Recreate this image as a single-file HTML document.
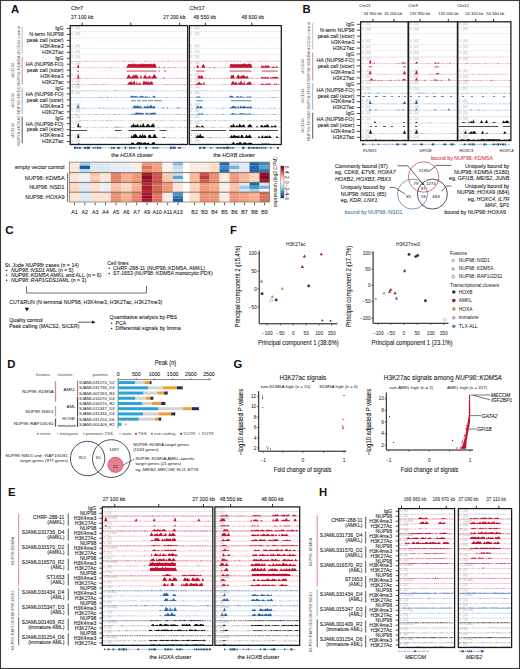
<!DOCTYPE html>
<html><head><meta charset="utf-8"><style>
html,body{margin:0;padding:0;background:#fff;width:520px;height:669px;overflow:hidden}
svg{display:block}
text{font-family:"Liberation Sans",sans-serif}
</style></head><body>
<svg width="520" height="669" viewBox="0 0 520 669" font-family="Liberation Sans, sans-serif">
<rect x="0" y="0" width="520" height="669" fill="#fff"/>
<rect x="0.50" y="0.50" width="519.00" height="668.00" fill="none" stroke="#3a3a3a" stroke-width="1.1"/>
<text x="11.00" y="12.70" font-size="11.3" text-anchor="start" fill="#111" font-weight="bold">A</text>
<text x="71.00" y="10.30" font-size="5.6" text-anchor="start" fill="#111111" font-weight="normal" stroke="#111111" stroke-width="0.07">Chr7</text>
<text x="71.00" y="19.00" font-size="5.1" text-anchor="start" fill="#111111" font-weight="normal" stroke="#111111" stroke-width="0.07">27 100 kb</text>
<text x="185.50" y="19.00" font-size="5.1" text-anchor="end" fill="#111111" font-weight="normal" stroke="#111111" stroke-width="0.07">27 200 kb</text>
<text x="189.50" y="9.60" font-size="5.6" text-anchor="start" fill="#111111" font-weight="normal" stroke="#111111" stroke-width="0.07">Chr17</text>
<text x="193.50" y="19.00" font-size="5.1" text-anchor="start" fill="#111111" font-weight="normal" stroke="#111111" stroke-width="0.07">48 550 kb</text>
<text x="241.50" y="19.00" font-size="5.1" text-anchor="start" fill="#111111" font-weight="normal" stroke="#111111" stroke-width="0.07">48 600 kb</text>
<line x1="82.20" y1="22.60" x2="82.20" y2="25.60" stroke="#222" stroke-width="0.9"/>
<line x1="130.80" y1="22.60" x2="130.80" y2="25.60" stroke="#222" stroke-width="0.9"/>
<line x1="179.60" y1="22.60" x2="179.60" y2="25.60" stroke="#222" stroke-width="0.9"/>
<line x1="205.40" y1="22.60" x2="205.40" y2="25.60" stroke="#222" stroke-width="0.9"/>
<line x1="251.80" y1="22.60" x2="251.80" y2="25.60" stroke="#222" stroke-width="0.9"/>
<text x="63.60" y="30.30" font-size="5.25" text-anchor="end" fill="#111111" font-weight="normal" stroke="#111111" stroke-width="0.07">IgG</text>
<line x1="66.80" y1="28.50" x2="70.20" y2="28.50" stroke="#222" stroke-width="0.8"/>
<text x="63.60" y="36.25" font-size="5.25" text-anchor="end" fill="#111111" font-weight="normal" stroke="#111111" stroke-width="0.07">N-term NUP98</text>
<line x1="66.80" y1="34.45" x2="70.20" y2="34.45" stroke="#222" stroke-width="0.8"/>
<text x="63.60" y="42.20" font-size="5.25" text-anchor="end" fill="#111111" font-weight="normal" stroke="#111111" stroke-width="0.07">peak call (sicer)</text>
<line x1="66.80" y1="40.40" x2="70.20" y2="40.40" stroke="#222" stroke-width="0.8"/>
<text x="63.60" y="48.15" font-size="5.25" text-anchor="end" fill="#111111" font-weight="normal" stroke="#111111" stroke-width="0.07">H3K4me3</text>
<line x1="66.80" y1="46.35" x2="70.20" y2="46.35" stroke="#222" stroke-width="0.8"/>
<text x="63.60" y="54.10" font-size="5.25" text-anchor="end" fill="#111111" font-weight="normal" stroke="#111111" stroke-width="0.07">H3K27ac</text>
<line x1="66.80" y1="52.30" x2="70.20" y2="52.30" stroke="#222" stroke-width="0.8"/>
<text x="63.60" y="60.05" font-size="5.25" text-anchor="end" fill="#111111" font-weight="normal" stroke="#111111" stroke-width="0.07">IgG</text>
<line x1="66.80" y1="58.25" x2="70.20" y2="58.25" stroke="#222" stroke-width="0.8"/>
<text x="63.60" y="66.00" font-size="5.25" text-anchor="end" fill="#111111" font-weight="normal" stroke="#111111" stroke-width="0.07">HA (NUP98-FO)</text>
<line x1="66.80" y1="64.20" x2="70.20" y2="64.20" stroke="#222" stroke-width="0.8"/>
<text x="63.60" y="71.95" font-size="5.25" text-anchor="end" fill="#111111" font-weight="normal" stroke="#111111" stroke-width="0.07">peak call (sicer)</text>
<line x1="66.80" y1="70.15" x2="70.20" y2="70.15" stroke="#222" stroke-width="0.8"/>
<text x="63.60" y="77.90" font-size="5.25" text-anchor="end" fill="#111111" font-weight="normal" stroke="#111111" stroke-width="0.07">H3K4me3</text>
<line x1="66.80" y1="76.10" x2="70.20" y2="76.10" stroke="#222" stroke-width="0.8"/>
<text x="63.60" y="83.85" font-size="5.25" text-anchor="end" fill="#111111" font-weight="normal" stroke="#111111" stroke-width="0.07">H3K27ac</text>
<line x1="66.80" y1="82.05" x2="70.20" y2="82.05" stroke="#222" stroke-width="0.8"/>
<text x="63.60" y="89.80" font-size="5.25" text-anchor="end" fill="#111111" font-weight="normal" stroke="#111111" stroke-width="0.07">IgG</text>
<line x1="66.80" y1="88.00" x2="70.20" y2="88.00" stroke="#222" stroke-width="0.8"/>
<text x="63.60" y="95.75" font-size="5.25" text-anchor="end" fill="#111111" font-weight="normal" stroke="#111111" stroke-width="0.07">HA (NUP98-FO)</text>
<line x1="66.80" y1="93.95" x2="70.20" y2="93.95" stroke="#222" stroke-width="0.8"/>
<text x="63.60" y="101.70" font-size="5.25" text-anchor="end" fill="#111111" font-weight="normal" stroke="#111111" stroke-width="0.07">peak call (sicer)</text>
<line x1="66.80" y1="99.90" x2="70.20" y2="99.90" stroke="#222" stroke-width="0.8"/>
<text x="63.60" y="107.65" font-size="5.25" text-anchor="end" fill="#111111" font-weight="normal" stroke="#111111" stroke-width="0.07">H3K4me3</text>
<line x1="66.80" y1="105.85" x2="70.20" y2="105.85" stroke="#222" stroke-width="0.8"/>
<text x="63.60" y="113.60" font-size="5.25" text-anchor="end" fill="#111111" font-weight="normal" stroke="#111111" stroke-width="0.07">H3K27ac</text>
<line x1="66.80" y1="111.80" x2="70.20" y2="111.80" stroke="#222" stroke-width="0.8"/>
<text x="63.60" y="119.55" font-size="5.25" text-anchor="end" fill="#111111" font-weight="normal" stroke="#111111" stroke-width="0.07">IgG</text>
<line x1="66.80" y1="117.75" x2="70.20" y2="117.75" stroke="#222" stroke-width="0.8"/>
<text x="63.60" y="125.50" font-size="5.25" text-anchor="end" fill="#111111" font-weight="normal" stroke="#111111" stroke-width="0.07">HA (NUP98-FO)</text>
<line x1="66.80" y1="123.70" x2="70.20" y2="123.70" stroke="#222" stroke-width="0.8"/>
<text x="63.60" y="131.45" font-size="5.25" text-anchor="end" fill="#111111" font-weight="normal" stroke="#111111" stroke-width="0.07">peak call (sicer)</text>
<line x1="66.80" y1="129.65" x2="70.20" y2="129.65" stroke="#222" stroke-width="0.8"/>
<text x="63.60" y="137.40" font-size="5.25" text-anchor="end" fill="#111111" font-weight="normal" stroke="#111111" stroke-width="0.07">H3K4me3</text>
<line x1="66.80" y1="135.60" x2="70.20" y2="135.60" stroke="#222" stroke-width="0.8"/>
<text x="63.60" y="143.35" font-size="5.25" text-anchor="end" fill="#111111" font-weight="normal" stroke="#111111" stroke-width="0.07">H3K27ac</text>
<line x1="66.80" y1="141.55" x2="70.20" y2="141.55" stroke="#222" stroke-width="0.8"/>
<line x1="22.20" y1="27.00" x2="22.20" y2="53.50" stroke="#b8b8b8" stroke-width="0.9"/>
<line x1="22.20" y1="57.00" x2="22.20" y2="84.50" stroke="#d98595" stroke-width="1.0"/>
<line x1="22.20" y1="87.50" x2="22.20" y2="114.00" stroke="#93b4d0" stroke-width="1.0"/>
<line x1="22.20" y1="116.50" x2="22.20" y2="143.50" stroke="#5a5a5a" stroke-width="1.0"/>
<text x="19.50" y="40.50" font-size="4.2" text-anchor="middle" fill="#5a5a5a" font-weight="normal" transform="rotate(-90 19.5 40.5)">shCD34 control</text>
<text x="13.80" y="70.50" font-size="4.2" text-anchor="middle" fill="#5a5a5a" font-weight="normal" transform="rotate(-90 13.8 70.5)">shCD34</text>
<text x="19.50" y="70.50" font-size="4.2" text-anchor="middle" fill="#5a5a5a" font-weight="normal" transform="rotate(-90 19.5 70.5)">NUP98::KDM5A</text>
<text x="13.80" y="100.50" font-size="4.2" text-anchor="middle" fill="#5a5a5a" font-weight="normal" transform="rotate(-90 13.8 100.5)">shCD34</text>
<text x="19.50" y="100.50" font-size="4.2" text-anchor="middle" fill="#5a5a5a" font-weight="normal" transform="rotate(-90 19.5 100.5)">NUP98::NSD1</text>
<text x="13.80" y="130.50" font-size="4.2" text-anchor="middle" fill="#5a5a5a" font-weight="normal" transform="rotate(-90 13.8 130.5)">shCD34</text>
<text x="19.50" y="130.50" font-size="4.2" text-anchor="middle" fill="#5a5a5a" font-weight="normal" transform="rotate(-90 19.5 130.5)">NUP98::HOXA9</text>
<line x1="70.20" y1="31.50" x2="187.60" y2="31.50" stroke="#d8d8d8" stroke-width="0.45"/>
<text x="71.40" y="28.70" font-size="2.8" text-anchor="start" fill="#ababab" font-weight="normal">0 - [20]</text>
<line x1="189.40" y1="31.50" x2="281.30" y2="31.50" stroke="#d8d8d8" stroke-width="0.45"/>
<text x="190.60" y="28.70" font-size="2.8" text-anchor="start" fill="#ababab" font-weight="normal">0 - [20]</text>
<line x1="70.20" y1="38.05" x2="187.60" y2="38.05" stroke="#d8d8d8" stroke-width="0.45"/>
<text x="71.40" y="34.65" font-size="2.8" text-anchor="start" fill="#ababab" font-weight="normal">0 - [20]</text>
<line x1="189.40" y1="38.05" x2="281.30" y2="38.05" stroke="#d8d8d8" stroke-width="0.45"/>
<text x="190.60" y="34.65" font-size="2.8" text-anchor="start" fill="#ababab" font-weight="normal">0 - [20]</text>
<line x1="71.20" y1="41.30" x2="186.60" y2="41.30" stroke="#d8d8d8" stroke-width="0.5" stroke-dasharray="0.6 1.2"/>
<line x1="190.40" y1="41.30" x2="280.30" y2="41.30" stroke="#d8d8d8" stroke-width="0.5" stroke-dasharray="0.6 1.2"/>
<line x1="70.20" y1="48.65" x2="187.60" y2="48.65" stroke="#d8d8d8" stroke-width="0.45"/>
<text x="71.40" y="46.55" font-size="2.8" text-anchor="start" fill="#ababab" font-weight="normal">0 - [40]</text>
<line x1="189.40" y1="48.65" x2="281.30" y2="48.65" stroke="#d8d8d8" stroke-width="0.45"/>
<text x="190.60" y="46.55" font-size="2.8" text-anchor="start" fill="#ababab" font-weight="normal">0 - [40]</text>
<line x1="70.20" y1="54.90" x2="187.60" y2="54.90" stroke="#d8d8d8" stroke-width="0.45"/>
<text x="71.40" y="52.50" font-size="2.8" text-anchor="start" fill="#ababab" font-weight="normal">0 - [20]</text>
<line x1="189.40" y1="54.90" x2="281.30" y2="54.90" stroke="#d8d8d8" stroke-width="0.45"/>
<text x="190.60" y="52.50" font-size="2.8" text-anchor="start" fill="#ababab" font-weight="normal">0 - [20]</text>
<line x1="70.20" y1="61.25" x2="187.60" y2="61.25" stroke="#eba6b3" stroke-width="0.45"/>
<text x="71.40" y="58.45" font-size="2.8" text-anchor="start" fill="#ababab" font-weight="normal">0 - [20]</text>
<line x1="189.40" y1="61.25" x2="281.30" y2="61.25" stroke="#eba6b3" stroke-width="0.45"/>
<text x="190.60" y="58.45" font-size="2.8" text-anchor="start" fill="#ababab" font-weight="normal">0 - [20]</text>
<line x1="70.20" y1="67.80" x2="187.60" y2="67.80" stroke="#eba6b3" stroke-width="0.45"/>
<text x="71.40" y="64.40" font-size="2.8" text-anchor="start" fill="#ababab" font-weight="normal">0 - [20]</text>
<line x1="189.40" y1="67.80" x2="281.30" y2="67.80" stroke="#eba6b3" stroke-width="0.45"/>
<text x="190.60" y="64.40" font-size="2.8" text-anchor="start" fill="#ababab" font-weight="normal">0 - [20]</text>
<line x1="71.20" y1="71.05" x2="186.60" y2="71.05" stroke="#eba6b3" stroke-width="0.5" stroke-dasharray="0.6 1.2"/>
<line x1="190.40" y1="71.05" x2="280.30" y2="71.05" stroke="#eba6b3" stroke-width="0.5" stroke-dasharray="0.6 1.2"/>
<line x1="70.20" y1="78.40" x2="187.60" y2="78.40" stroke="#eba6b3" stroke-width="0.45"/>
<text x="71.40" y="76.30" font-size="2.8" text-anchor="start" fill="#ababab" font-weight="normal">0 - [40]</text>
<line x1="189.40" y1="78.40" x2="281.30" y2="78.40" stroke="#eba6b3" stroke-width="0.45"/>
<text x="190.60" y="76.30" font-size="2.8" text-anchor="start" fill="#ababab" font-weight="normal">0 - [40]</text>
<line x1="70.20" y1="84.65" x2="187.60" y2="84.65" stroke="#eba6b3" stroke-width="0.45"/>
<text x="71.40" y="82.25" font-size="2.8" text-anchor="start" fill="#ababab" font-weight="normal">0 - [20]</text>
<line x1="189.40" y1="84.65" x2="281.30" y2="84.65" stroke="#eba6b3" stroke-width="0.45"/>
<text x="190.60" y="82.25" font-size="2.8" text-anchor="start" fill="#ababab" font-weight="normal">0 - [20]</text>
<line x1="70.20" y1="91.00" x2="187.60" y2="91.00" stroke="#a9c4dd" stroke-width="0.45"/>
<text x="71.40" y="88.20" font-size="2.8" text-anchor="start" fill="#ababab" font-weight="normal">0 - [20]</text>
<line x1="189.40" y1="91.00" x2="281.30" y2="91.00" stroke="#a9c4dd" stroke-width="0.45"/>
<text x="190.60" y="88.20" font-size="2.8" text-anchor="start" fill="#ababab" font-weight="normal">0 - [20]</text>
<line x1="70.20" y1="97.55" x2="187.60" y2="97.55" stroke="#a9c4dd" stroke-width="0.45"/>
<text x="71.40" y="94.15" font-size="2.8" text-anchor="start" fill="#ababab" font-weight="normal">0 - [20]</text>
<line x1="189.40" y1="97.55" x2="281.30" y2="97.55" stroke="#a9c4dd" stroke-width="0.45"/>
<text x="190.60" y="94.15" font-size="2.8" text-anchor="start" fill="#ababab" font-weight="normal">0 - [20]</text>
<line x1="71.20" y1="100.80" x2="186.60" y2="100.80" stroke="#a9c4dd" stroke-width="0.5" stroke-dasharray="0.6 1.2"/>
<line x1="190.40" y1="100.80" x2="280.30" y2="100.80" stroke="#a9c4dd" stroke-width="0.5" stroke-dasharray="0.6 1.2"/>
<line x1="70.20" y1="108.15" x2="187.60" y2="108.15" stroke="#a9c4dd" stroke-width="0.45"/>
<text x="71.40" y="106.05" font-size="2.8" text-anchor="start" fill="#ababab" font-weight="normal">0 - [40]</text>
<line x1="189.40" y1="108.15" x2="281.30" y2="108.15" stroke="#a9c4dd" stroke-width="0.45"/>
<text x="190.60" y="106.05" font-size="2.8" text-anchor="start" fill="#ababab" font-weight="normal">0 - [40]</text>
<line x1="70.20" y1="114.40" x2="187.60" y2="114.40" stroke="#a9c4dd" stroke-width="0.45"/>
<text x="71.40" y="112.00" font-size="2.8" text-anchor="start" fill="#ababab" font-weight="normal">0 - [20]</text>
<line x1="189.40" y1="114.40" x2="281.30" y2="114.40" stroke="#a9c4dd" stroke-width="0.45"/>
<text x="190.60" y="112.00" font-size="2.8" text-anchor="start" fill="#ababab" font-weight="normal">0 - [20]</text>
<line x1="70.20" y1="120.75" x2="187.60" y2="120.75" stroke="#c8c8c8" stroke-width="0.45"/>
<text x="71.40" y="117.95" font-size="2.8" text-anchor="start" fill="#ababab" font-weight="normal">0 - [20]</text>
<line x1="189.40" y1="120.75" x2="281.30" y2="120.75" stroke="#c8c8c8" stroke-width="0.45"/>
<text x="190.60" y="117.95" font-size="2.8" text-anchor="start" fill="#ababab" font-weight="normal">0 - [20]</text>
<line x1="70.20" y1="127.30" x2="187.60" y2="127.30" stroke="#c8c8c8" stroke-width="0.45"/>
<text x="71.40" y="123.90" font-size="2.8" text-anchor="start" fill="#ababab" font-weight="normal">0 - [20]</text>
<line x1="189.40" y1="127.30" x2="281.30" y2="127.30" stroke="#c8c8c8" stroke-width="0.45"/>
<text x="190.60" y="123.90" font-size="2.8" text-anchor="start" fill="#ababab" font-weight="normal">0 - [20]</text>
<line x1="71.20" y1="130.55" x2="186.60" y2="130.55" stroke="#c8c8c8" stroke-width="0.5" stroke-dasharray="0.6 1.2"/>
<line x1="190.40" y1="130.55" x2="280.30" y2="130.55" stroke="#c8c8c8" stroke-width="0.5" stroke-dasharray="0.6 1.2"/>
<line x1="70.20" y1="137.90" x2="187.60" y2="137.90" stroke="#c8c8c8" stroke-width="0.45"/>
<text x="71.40" y="135.80" font-size="2.8" text-anchor="start" fill="#ababab" font-weight="normal">0 - [40]</text>
<line x1="189.40" y1="137.90" x2="281.30" y2="137.90" stroke="#c8c8c8" stroke-width="0.45"/>
<text x="190.60" y="135.80" font-size="2.8" text-anchor="start" fill="#ababab" font-weight="normal">0 - [40]</text>
<line x1="70.20" y1="144.15" x2="187.60" y2="144.15" stroke="#c8c8c8" stroke-width="0.45"/>
<text x="71.40" y="141.75" font-size="2.8" text-anchor="start" fill="#ababab" font-weight="normal">0 - [20]</text>
<line x1="189.40" y1="144.15" x2="281.30" y2="144.15" stroke="#c8c8c8" stroke-width="0.45"/>
<text x="190.60" y="141.75" font-size="2.8" text-anchor="start" fill="#ababab" font-weight="normal">0 - [20]</text>
<path d="M71.0 61.2l0-.4l.5 .4l2.5 0l.5-.1l.5 .1l1 0l.5-.3l.5 .3l1.5 0l.5-.1l.5 .1l1 0l.5-.2l1 .2l1.5 0l.5-.3l.5 .3l.5-.4l.5 .4l.5 0l.5-.4l.5 .4l.5-.2l.5 .2l5.5 0l.5-.2l.5 .2l.5 0l.5-.3l.5 .3l4 0l.5-.1l.5 .1l1.5 0l.5-.3l.5 .3l5.5 0l.5-.4l.5 .4l3 0l.5-.4l.5 .4l.5-.3l.5 .3l3 0l1-.3l.5 .3l3 0l1-.4l.5 .4l.5-.3l.5 .3l.5-.2l.5 .2l.5-.2l.5 .2l1.5 0l.5-.2l.5 .2l.5-.1l.5 .1l.5 0l.5-.3l.5 .3l1-.4l.5 .1l.5 .3l5.5 0l.5-.2l.5 .2l4 0l.5-.4l.5 0l.5 .4l.5 0l.5-.4l.5 .4l2 0l.5-.3l.5 .3l.5-.1l.5 .1l2.5 0l.5-.2l.5 .2l1.5 0l.5-.3l.5 .3l4 0l.5-.2l.5 .2l.5-.4l.5 .4l4 0l.5-.3l.5 .2l.5-.3l.5 .4l3.5 0l.5-.2l.5 .2l3 0l.5-.3l1 .3l.5-.2l.5 .2l.5 0l.5-.2l.5 .2l.5 0l.5-.4l.5 .4l2.5 0l.5-.3l1 .3l.3 0z" fill="#c41230"/>
<path d="M190.2 61.2l.5 0l.5-.1l.5 .1l3 0l.5-.3l.5 .3l3 0l.5-.1l.5 .1l3 0l.5-.2l.5-.1l.5 .3l.5 0l.5-.4l.5 .4l3.5 0l.5-.4l.5 .4l8.5 0l.5-.4l.5 .4l4.5 0l.5-.3l.5 .3l.5 0l.5-.4l.5 .4l.5 0l.5-.4l.5 .1l.5 .3l1 0l.5-.3l.5 .3l.5 0l.5-.4l.5 .4l.5 0l1.5-.4l1.5 .4l.5-.2l.5 .2l.5 0l.5-.4l1 .4l1 0l.5-.2l.5-.1l.5 .3l4.5 0l.5-.3l.5 .3l.5-.3l.5 .3l.5 0l.5-.4l.5 .4l1 0l.5-.3l.5 .2l1-.2l.5 .3l6.5 0l.5-.1l.5 .1l.5-.4l.5 .4l.5-.2l.5 .2l.5-.3l.5 .3l1 0l.5-.4l.5 .4l2 0l.5-.2l.5 .2l.5-.1l.5 .1l3.5 0l.5-.3l1 .3l.5 0l.5-.3l.5 .3l.5 0l.5-.3l1 .3l.5 0l.5-.4l.5 .1l.5 .3l.8 0z" fill="#c41230"/>
<path d="M71.0 67.8l1 0l.5-.4l.5-.1l.5 .5l2.5 0l.5-.4l.5 .1l1-3.1l.5 0l1 3.4l9 0l.5-.4l.5 .4l.5-.4l.5 .4l.5-.4l.5 .4l2 0l.5-.2l.5 .2l6 0l.5-.4l.5 .4l2 0l.5-.4l.5 .4l.5-.3l.5 .3l1.5 0l.5-.3l.5 .3l1.5 0l.5-.4l.5-.1l.5 .5l.5-.3l.5 .3l1.5 0l.5-.3l.5 .3l3 0l.5-.2l.5 .2l6.5 0l.5-.4l.5 .4l.5-.5l1.5-3l.5-.3l.5 .3l.5-.4l.5-.1l.5 .5l1 0l.5-.9l1 .9l.5 0l.5-.8l.5 0l.5 .8l1 0l.5-.2l.5 .2l1 0l.5-.3l.5 .3l1.5 0l.5-1.1l.5 .8l.5 .3l.5-1.1l.5 1.1l.5 0l.5-.7l1 .7l.5-.3l.5 .3l.5-.8l.5 .8l1-.3l.5 .3l1 0l.5-.8l.5 .5l.5-.2l.5 .4l1.5 .1l.5-.9l.5 0l.5 .4l.5 .1l.5 .4l.5 1.6l1 1.9l1.5 0l.5-1.2l.5 0l.5 1.2l3.5 0l.5-1l.5 0l.5 1l2 0l.5-.4l1 .4l1-.5l1 .5l.5-.5l.5 .5l2 0l.5-.5l.5 .5l.5 0l.5-.5l.5 .5l.5-.3l.5 .3l1 0l.5-.3l.5 .3l3 0l.5-.4l.5 .4l1 0l.5-.5l.5 .5l1.8 0z" fill="#c41230"/>
<path d="M190.2 67.8l.5 0l.5-.4l.5 .4l1.5 0l.5-.3l.5 .3l.5-.3l.5 .3l.5-.2l.5 .2l.5-.9l.5-2.1l.5 .3l1.5 2.4l.5 .3l.5 0l.5-.3l.5 .3l.5-.8l.5-1.5l.5-.5l.5-1l.5 .2l1.5 3l.5 .6l2 0l.5-.6l.5 .6l.5 0l.5-.6l.5 0l.5 .6l.5-.3l.5 .3l1.5 0l.5-.2l.5-.6l.5-.1l1 .9l1.5 0l.5-.5l.5 .5l2 0l.5-.2l.5 .2l1.5 0l.5-.3l.5 .3l.5 0l.5-.5l.5 .5l.5-.4l.5 .4l2.5 0l.5-.2l.5-.8l.5-2.5l.5 0l.5-.7l.5 .7l2-.1l.5-.2l.5 .3l2.5 0l.5-.4l.5 .4l1.5 0l.5-.7l.5 .7l.5-.1l1 .1l.5-.3l.5-.6l.5 .4l.5 .3l.5-.9l1 1.1l2 0l1-.7l.5-.2l1 .9l.5 0l.5-.6l1 3.5l.5 .6l1.5 0l.5-.3l.5 .3l.5-.5l.5 .5l.5 0l.5-.2l.5 .2l2 0l.5-.4l.5 .4l1-2.8l.5 1.3l.5-.9l.5 0l.5 .9l.5 .4l1-1.2l.5-.5l1 1.2l.5-.6l.5-.3l.5 .6l.5-.8l.5 .6l.5 1.5l.5 .6l1-.4l.5-.7l.5 .2l.5-.3l.5 .2l.5-.2l.5-.4l1 1.6l1.5-1.8l1.5 1.8l2.3 0z" fill="#c41230"/>
<rect x="126.50" y="70.68" width="30.00" height="0.75" fill="#c41230" stroke="none" stroke-width="1"/>
<rect x="158.50" y="70.68" width="1.50" height="0.75" fill="#c41230" stroke="none" stroke-width="1"/>
<rect x="164.00" y="70.68" width="2.00" height="0.75" fill="#c41230" stroke="none" stroke-width="1"/>
<rect x="77.00" y="70.68" width="2.00" height="0.75" fill="#c41230" stroke="none" stroke-width="1"/>
<rect x="196.00" y="70.68" width="8.50" height="0.75" fill="#c41230" stroke="none" stroke-width="1"/>
<rect x="229.50" y="70.68" width="22.00" height="0.75" fill="#c41230" stroke="none" stroke-width="1"/>
<rect x="262.00" y="70.68" width="15.50" height="0.75" fill="#c41230" stroke="none" stroke-width="1"/>
<path d="M71.0 78.4l2.5 0l.5-.4l.5 .4l.5 0l.5-.5l1 .5l.5 0l1-3.5l.5 0l1 3.5l1-.4l.5 .4l.5-.2l.5 .2l3.5 0l.5-.5l1 .5l.5-.4l.5 .4l1 0l1-.4l.5 .4l5 0l.5-.3l.5 .3l2 0l.5-.2l.5 .2l8.5 0l.5-.3l.5 .3l8.5 0l.5-.4l.5 .4l2 0l.5-.4l.5 .4l3 0l.5-.2l.5 .2l.5 0l.5-.4l2-3.3l.5-.3l.5 1.1l.5-.3l.5 1.7l.5 .7l1-1.2l.5-.3l1-1.6l.5 .5l.5 .9l.5-.5l.5-.9l.5 .2l.5 .1l.5 .4l.5 1.3l.5-.4l.5 1.4l.5 .9l.5 0l.5-.5l.5-1.8l.5-1.1l1 3.4l1 0l.5-1.5l.5-.3l1-2.2l.5 .5l.5 1.1l1 1.3l.5 .2l1-.9l.5 0l.5-1.5l.5 .5l1 2.8l1-2.6l.5 1.4l1-2.4l.5-.8l.5 .5l2.5 3.6l.5 .3l.5-.3l.5 .3l2 0l.5-.5l.5 .5l1.5 0l.5-.8l.5 0l1 .8l4 0l.5-.2l.5 .2l1.5 0l.5-.4l.5 .4l4 0l.5-.3l.5 .3l.5-.4l.5 .4l2 0l.5-.3l.5 .3l1 0l.5-.4l.5 .4l.5-.2l.5 .2l1 0l.5-.4l.5 .4l.3 0z" fill="#c41230"/>
<path d="M190.2 78.4l6.5 0l1-.6l.5-3.1l.5 2l.5-.7l.5-.4l.5 .8l.5 0l.5-1.3l.5 0l2 3.3l.5 0l.5-.3l.5-.1l.5 .4l.5-.4l1 .4l2 0l.5-.4l.5 0l.5 .4l2.5 0l.5-.5l.5 .5l2.5 0l.5-.4l.5 .4l1 0l.5-.5l.5 .5l1.5 0l.5-.2l.5 .2l1 0l.5-.2l.5 .2l.5-.5l.5 .5l1.5 0l.5-.4l.5 .1l.5 .3l.5 0l.5-.2l.5 .2l.5-.3l1-3.3l.5 .7l.5 .3l.5-1l.5 .3l.5-.5l1 3.4l.5 .4l.5 0l.5-.5l.5-.9l.5-1.6l.5-.2l.5-.9l1 1.8l.5 .5l.5 .3l1-2l.5 .7l.5 1l.5-1.8l.5 1.2l.5-1.8l.5 1.9l.5-.8l1 1.6l.5 .4l1-2.4l.5 1.8l.5 .8l1 .7l.5 .2l1 0l.5-.4l1 .4l.5-.5l.5 .5l2.5 0l.5-.5l.5 .5l.5 0l.5-.4l.5 .4l2 0l.5-.3l1-1.4l1 .5l.5-.1l.5 .5l.5 0l.5-.7l.5-.5l1 1.3l.5-.2l.5-1.2l.5 1l.5 .3l.5-.6l.5 .9l.5 .5l1-1.5l1 .9l1-.7l.5 .1l.5-.4l.5 .5l.5-.2l.5-.7l.5 .6l.5-.1l.5-.3l2 1.7l.5 .1l.5-.5l.5 .5l.3 0z" fill="#c41230"/>
<path d="M71.0 84.7l2.5 0l.5-.4l.5 .2l.5-.3l1 .5l.5 0l.5-.4l.5 .4l.5-1.1l.5 0l.5 1.1l2.5 0l.5-.3l.5 .3l2 0l.5-.3l.5 .3l3 0l.5-.5l.5 .5l2 0l.5-.4l.5 .2l.5-.1l.5 .3l1-.2l.5 .2l.5-.5l.5 .5l.5-.3l.5 .3l.5 0l.5-.5l.5 .5l1 0l.5-.2l.5 .2l1 0l.5-.2l1 .2l.5-.4l.5 0l.5 .4l2 0l.5-.5l.5 .5l6 0l.5-.2l.5 .2l5 0l.5-.3l.5 .3l2.5 0l.5-.4l.5 .4l1.5 0l.5-.5l.5 .5l.5 0l2-2.5l.5-.1l.5-.5l.5 1l.5-1.3l.5 0l.5 .5l.5 1.3l.5 0l1-2.6l.5 .6l1 2.6l.5 1l.5-2.1l.5-1.4l.5 2.2l.5 .8l1.5-1.7l.5 .2l1.5 1.7l.5 .3l.5-.7l1-2.9l.5-.6l1 2.1l.5-1.3l.5 .4l.5-.5l.5 1l.5 .2l.5-2.1l1 2.9l.5-.8l.5-.2l.5-1l.5 .2l.5 .5l.5-.9l.5 1.2l.5 1.6l.5 .9l9 0l.5-.2l.5 .2l1-.4l.5 .4l.5 0l.5-.5l.5 .5l.5-.5l.5 .5l.5-.5l.5 .5l1.5 0l.5-.4l.5 .4l.5 0l.5-.3l.5 .3l.5-.4l.5 .4l.5-.3l.5 .3l.5 0l.5-.5l.5 .5l.5 0l1-.5l.5 .5l.5-.3l.5 .3l1 0l.5-.5l.5 .5l.5 0l.5-.2l.5 .2l.5 0l.5-.5l.5 .5l.5 0l.5-.5l.5 0l.5 .5l.8 0z" fill="#c41230"/>
<path d="M190.2 84.7l.5 0l.5-.5l.5 .5l.5-.4l.5 .4l.5 0l.5-.2l.5 .2l.5 0l.5-.4l.5 .1l2-1.7l.5 .3l.5-.4l.5-.6l.5-.3l1 2l.5 0l.5-1.2l.5 1.5l.5 .7l.5-.7l.5-1.7l.5-.3l.5 1.7l.5 1l.5-.4l.5 .4l8 0l.5-.3l.5 .3l8 0l.5-.5l.5 .5l.5 0l.5-.5l.5 .5l4.5 0l.5-.3l1.5-2.6l.5-.4l.5-.8l1 2.8l.5-1.1l.5-.1l.5 .4l.5-.6l.5 .5l.5 1.1l.5 .7l.5-.4l.5-2l.5 .2l.5 1.3l1-2.4l.5-.5l.5 1.7l.5 1.2l.5-.6l.5 1.2l1-3l1 2.9l.5 .5l2-2.1l.5 .1l.5-1l.5 1.1l.5-1.2l.5 .2l1.5 2.5l.5 .4l.5 .3l.5-.5l1 .5l5.5 0l.5-.3l.5-.1l1.5-.9l.5 0l1.5 .9l.5-.1l.5-.5l.5 0l.5 .2l1.5-.6l1 .5l.5-.4l.5-.2l1.5 1.2l.5 .3l1 0l.5-.4l.5 .1l.5-.7l.5-.3l.5 .8l.5 .2l1-1.1l1 1.4l.5-.4l1 .4l.5-.5l.5 .5l.3 0z" fill="#c41230"/>
<path d="M71.0 91.0l.5 0l.5-.4l1 .4l.5-.3l.5 .3l.5-.2l.5 .2l1 0l1-.3l.5 .3l2 0l.5-.2l.5 .2l1 0l.5-.2l.5 0l.5 .2l.5-.4l.5 .4l.5-.2l.5 .2l.5-.2l.5 .2l.5-.3l.5 0l.5 .3l1-.3l1 .3l2 0l.5-.3l.5 0l.5 .3l.5-.3l.5 .3l.5-.2l.5 .2l.5 0l.5-.3l.5 .3l1 0l.5-.2l.5 .2l1 0l.5-.2l.5 .2l2.5 0l.5-.3l.5 .3l.5 0l.5-.2l.5 .2l.5-.3l1 0l.5 .3l6 0l.5-.4l.5 .4l.5-.4l.5 0l.5 .4l1.5-.2l.5 .2l1 0l.5-.3l1 .3l.5 0l.5-.2l.5 .2l1.5 0l.5-.3l.5 .3l1 0l.5-.1l.5 .1l.5-.3l.5 0l.5 .3l.5-.2l.5 .2l1 0l.5-.3l.5 .3l1 0l.5-.4l.5 .4l2 0l.5-.3l.5 .3l1.5 0l.5-.3l.5 .3l1 0l.5-.3l.5 .3l3 0l.5-.3l.5 .3l1 0l.5-.2l.5 .2l.5-.1l.5 .1l1 0l.5-.3l.5 .3l.5 0l.5-.4l.5 .4l1.5 0l.5-.2l.5 .2l.5 0l.5-.2l1 .2l5 0l.5-.2l.5 .2l.5-.1l.5 .1l.5-.2l.5 .2l1 0l.5-.2l.5 .2l4 0l.5-.2l.5 .2l2.5 0l.5-.2l.5 .2l1.5 0l.5-.2l.5 .2l.5-.3l.5 0l.5 .3l.5-.3l.5 .3l2.5 0l.5-.3l.5 .3l.5-.3l.5 .3l2 0l.5-.3l.5 .3l.3 0z" fill="#2b65a3"/>
<path d="M190.2 91.0l1 0l.5-.3l.5 .3l.5 0l.5-.3l.5 .3l1.5 0l.5-.4l.5 .4l3 0l.5-.3l.5 .3l1 0l1-.4l.5 .4l2.5 0l.5-.3l.5 .3l.5-.2l.5 .2l.5-.3l.5 .3l1.5 0l.5-.3l.5 .3l.5 0l.5-.3l1 .3l3 0l.5-.2l.5 .2l.5-.3l.5 .3l2 0l.5-.3l.5 .3l.5 0l.5-.2l.5 .2l4 0l.5-.3l.5 .3l2.5 0l.5-.2l.5 .2l1-.1l.5 .1l1-.2l.5 .2l5.5 0l.5-.2l.5 .2l5.5 0l.5-.4l.5 .4l2 0l.5-.3l.5 .3l.5-.2l1.5 .2l6 0l.5-.3l.5 .3l1 0l.5-.2l1 .2l11.5 0l.5-.4l.5 .4l.5-.2l.5 .2l1.5 0l1-.3l.5 .3l.5-.3l.5 .3l.5-.3l.5 .3l.8 0z" fill="#2b65a3"/>
<path d="M71.0 97.5l.5-.5l1 .5l1 0l.5-.2l.5 .2l4 0l.5-.2l.5 .2l1 0l.5-.4l.5 .4l.5-.5l.5 .5l1 0l.5-.1l.5 .1l3 0l.5-.4l1 .4l2 0l.5-.1l.5 .1l.5 0l.5-.2l.5 .2l.5 0l.5-.3l.5 .3l2 0l1-.5l.5 .5l.5 0l.5-.4l.5 .2l1-.4l.5 .3l.5-.3l1.5 .6l2 0l1-.3l.5 .2l1-.6l1 .7l2 0l.5-.4l.5 .4l3.5 0l.5-.4l.5 0l.5 .4l3 0l.5-.3l.5 .3l.5-.2l.5 .2l2.5 0l.5-.3l.5 .3l2.5 0l.5-.3l.5 .3l.5 0l2.5-2.1l.5 .5l.5-.1l1 .7l.5 .1l.5-.6l1 .1l1 .7l.5-.8l1 1.3l1.5-1.1l.5 .1l1-.7l1 .7l.5-.3l1 .9l.5 0l1-.7l1.5 .4l.5-.1l1 1l.5-.9l.5 0l.5 .9l1 0l.5-.5l.5 .2l2-1.6l2 1.7l.5 .2l.5 0l.5-.4l.5 .4l1 0l.5-.5l.5 .5l3.5 0l.5-.3l.5 .3l1 0l.5-.5l.5 0l1 .5l.5-.2l.5 .2l3 0l.5-.2l.5 .2l5 0l.5-.5l.5 .5l1 0l.5-.4l.5 .4l.5 0l.5-.5l.5 .5l2.5 0l.5-.4l.5 .4l1.3 0z" fill="#2b65a3"/>
<path d="M190.2 97.5l.5-.4l1 .4l.5 0l.5-.3l.5 .1l.5 .2l1.5 0l.5-.5l.5 .1l1.5-.8l.5 .3l.5-.2l.5 .1l.5-.1l1.5 1.1l.5 0l.5-.3l.5 .3l4.5 0l.5-.3l.5 .3l2.5 0l.5-.2l.5 .2l1 0l.5-.5l.5 .5l8.5 0l.5-.4l.5 .4l3 0l.5-.3l.5 .3l1 0l.5-.1l2-1.8l.5 .5l.5-.3l.5 0l2 1.7l.5 0l1.5-.8l1.5-.8l1 .9l.5 .2l1.5-.9l1 .7l1-.4l1 .8l.5-.1l.5-.5l.5 .8l.5 .1l1.5-1.3l1 1.1l.5-.7l.5-.4l.5 .6l.5-.4l.5 0l1.5 1.1l2 0l.5-.2l.5 .2l.5 0l.5-.5l.5 .5l3 0l.5-.4l.5 .4l5 0l.5-.2l.5 .2l1 0l.5-.5l.5 .5l2 0l.5-.5l.5 .5l.5-.5l.5 .2l.5 .1l.5-.2l.5 .4l.5-.2l.5 .2l1 0l.5-.4l.5 .4l3.3 0z" fill="#2b65a3"/>
<rect x="131.00" y="100.43" width="5.00" height="0.75" fill="#2b65a3" stroke="none" stroke-width="1"/>
<rect x="137.00" y="100.43" width="4.00" height="0.75" fill="#2b65a3" stroke="none" stroke-width="1"/>
<rect x="142.00" y="100.43" width="5.00" height="0.75" fill="#2b65a3" stroke="none" stroke-width="1"/>
<rect x="148.00" y="100.43" width="5.00" height="0.75" fill="#2b65a3" stroke="none" stroke-width="1"/>
<rect x="154.00" y="100.43" width="8.00" height="0.75" fill="#2b65a3" stroke="none" stroke-width="1"/>
<rect x="196.00" y="100.43" width="7.00" height="0.75" fill="#2b65a3" stroke="none" stroke-width="1"/>
<rect x="231.00" y="100.43" width="20.00" height="0.75" fill="#2b65a3" stroke="none" stroke-width="1"/>
<path d="M71.0 108.2l.5-.2l.5 .2l1 0l.5-.3l.5 .3l1 0l.5-.4l.5 .4l.5 0l.5-.4l1-3l.5 0l1 3.4l2 0l.5-.4l.5 .2l.5-.2l.5 .4l.5 0l.5-.3l.5 .3l.5-.2l.5 .2l.5-.3l.5 .3l.5 0l.5-.3l.5 .3l.5 0l.5-.3l.5 .3l2.5 0l.5-.3l.5 .3l4.5 0l.5-.3l1-.1l.5 .4l.5-.4l.5 .1l.5 .3l1.5 0l.5-.4l1 .1l.5 .3l.5-.2l.5 .2l1.5 0l.5-.3l.5-.1l.5 .4l1 0l.5-.2l1 .2l.5-.3l.5 .3l1 0l.5-.4l.5 .4l4 0l.5-.2l.5 .2l2.5 0l1-.4l.5 0l.5 .4l4 0l.5-.3l.5 .3l2 0l.5-.2l.5 .2l.5-.3l2-3l1 1.2l.5 1l1-1.7l.5 .2l.5-.6l1 2.1l.5-.7l1-.9l.5 1.4l.5-.3l1 1.6l.5 0l.5-.6l1-1.8l.5 .7l.5-.2l.5 1l.5-.2l1-2l.5 .7l.5 1l.5 .2l1.5-2.1l.5 .3l.5 0l1 2.1l.5-.5l1-1.5l.5 1.2l.5 .8l1 .9l3.5 0l.5-.4l.5 .4l.5-.3l.5 .3l1 0l.5-1.1l.5 0l.5 1.1l2.5 0l.5-.9l.5 0l.5 .9l1.5 0l.5-.3l.5 .3l3.5 0l1-.3l.5 .3l.5 0l.5-.4l.5 .4l.5-.4l.5-.7l.5 0l.5 1.1l1-.4l1 .4l3 0l.5-.2l.5 .2l1.8 0z" fill="#2b65a3"/>
<path d="M190.2 108.2l1-.2l1 .2l.5-.4l.5 .4l2.5 0l1.5-2.2l.5-.3l1.5 2.1l1-2l.5 .1l.5 .8l.5-.5l1 1.8l.5 .2l13 0l.5-.2l.5 .2l.5-.2l.5 .2l3 0l1-.4l.5 0l.5 .4l3 0l.5-.3l.5 .3l1.5 0l.5-.4l.5 .4l1.5-1.3l1-.4l.5-.6l.5-.3l1 1.2l.5-.5l.5-.3l2 1.9l1-2.5l1 2.8l1.5-2.6l.5 .9l.5-.1l.5 .6l.5-.5l.5 .3l.5-.9l.5-.2l.5 .1l1 1.5l.5 .1l.5-.5l.5-.3l.5 .5l.5-.3l.5 0l1 .8l1-1.8l.5 .5l1 1.9l1-.2l.5 .2l1.5 0l.5-.2l.5 .2l1.5 0l.5-.4l.5 .4l.5-.4l.5 .4l3.5 0l.5-.3l.5 .3l4 0l.5-.3l.5-.1l.5 .4l1 0l.5-.3l.5 .3l2 0l.5-.4l1.5 .4l4.8 0z" fill="#2b65a3"/>
<path d="M71.0 114.4l0-.6l.5 .6l.5 0l.5-.4l.5 .4l2 0l.5-.6l.5 .6l.5-.4l.5 .4l.5 0l.5-.2l.5 .2l3 0l.5-.2l.5 .2l5.5 0l.5-.5l.5 .5l1 0l.5-.3l.5 .3l4 0l.5-.3l.5 .3l.5 0l.5-.5l.5 .5l1 0l.5-.2l.5 .2l3 0l.5-.5l.5 0l.5 .5l4 0l.5-.4l.5 .4l.5-.5l.5 .5l3 0l.5-.3l.5 .3l.5-.6l.5 .6l.5 0l.5-.5l.5 0l.5 .5l2 0l.5-.5l1 .5l7 0l.5-.3l.5 .3l.5-.5l.5 .5l1 0l1-1.2l.5 .8l.5 .4l1-.9l.5 .3l1-.2l1.5-1.4l.5 .6l.5 0l.5-.4l.5 .5l.5 .1l.5-.6l.5 .3l.5 .6l.5-.5l.5 .4l.5-.4l.5 0l.5 .4l.5-.1l.5 .8l.5 .5l.5 0l1.5-2.1l1 1.3l.5-.6l1 1.3l.5-.7l.5-1.1l1 1.1l1-1.2l1 .6l.5-.6l.5 .5l.5-.2l.5-.4l1.5 2.1l.5-.2l.5 .2l1.5 0l.5-.5l.5 .5l2 0l.5-.3l.5 .3l.5 0l.5-.4l.5 .4l4 0l.5-.5l.5 .5l5 0l.5-.5l.5 .5l1.5 0l.5-.6l.5 .6l.5-.4l.5 .1l.5 .3l1 0l.5-.3l.5 .3l.5-.2l.5 .2l1.5 0l.5-.4l.5 0l.5 .4l1.3 0z" fill="#2b65a3"/>
<path d="M190.2 114.4l0-.2l1.5 .2l.5-.5l.5 .5l.5 0l.5-.4l.5 .4l.5-.2l.5 .2l.5 0l.5-.2l.5 0l2.5-.9l1 .9l1-1.1l.5 .6l.5 0l.5-.6l1 1.3l1.5 0l.5-.5l.5 .5l.5 0l.5-.4l.5 .1l.5 .3l.5-.2l.5 .2l3.5 0l.5-.4l.5 .4l2.5 0l1-.5l.5 .5l4 0l.5-.6l.5 .2l.5-.2l.5 .6l6 0l.5-.4l.5 .1l2-1.1l.5 0l1 .7l.5-.2l.5 0l.5 .4l.5-.4l.5 .3l.5 0l.5 .6l.5-.4l.5 .2l1-1l.5 .3l.5-.3l.5 .1l.5-.3l1.5 .8l1-.4l.5 .1l1 .5l.5 0l.5-.5l.5 0l.5 .4l.5 .2l1-.9l.5 0l1 1l1-.1l.5 .3l1 0l.5-.6l1 .2l.5 .4l1.5 0l.5-.6l.5 .6l3 0l.5-.4l.5 .4l1 0l.5-.5l.5 .5l3 0l.5-.5l.5 .5l2.5 0l.5-.2l.5 .2l2 0l.5-.6l.5 .6l.5-.3l.5-.1l.5 .4l4.8 0z" fill="#2b65a3"/>
<path d="M71.0 120.8l8 0l.5-.4l.5 .4l.5-.3l.5 .3l.5 0l.5-.3l.5 .3l1 0l.5-.4l.5 .4l.5 0l.5-.4l.5 .4l.5 0l1-.3l.5 .3l5.5 0l.5-.3l.5 .3l.5 0l.5-.3l.5 .3l2.5 0l.5-.3l.5 .3l2.5 0l.5-.4l.5 .4l.5-.3l.5 .3l2.5 0l.5-.2l.5 0l.5-.2l.5 .4l1.5 0l.5-.4l.5 .1l.5 .3l1 0l.5-.2l.5 .2l1.5 0l.5-.2l.5 .2l5 0l1-.3l.5 .3l7.5 0l.5-.3l.5 .3l3 0l.5-.2l.5 .2l1.5 0l.5-.2l.5 .2l.5 0l.5-.3l.5 .3l1 0l.5-.4l.5 .4l.5-.3l.5 .3l2.5 0l.5-.3l.5 0l.5 .3l2.5 0l.5-.3l.5 .3l1 0l.5-.3l.5 .3l3 0l.5-.2l.5 .2l.5 0l1-.4l.5 .4l.5-.2l.5 .2l2 0l.5-.3l.5 0l.5 .3l2.5 0l.5-.3l.5 .3l4.5 0l.5-.3l.5 .3l1 0l.5-.4l1 .4l3.5 0l.5-.2l.5 .2l2.5 0l.5-.4l.5 .4l1 0l.5-.3l.5 .3l1.5-.3l.5 .3l1.3 0z" fill="#111111"/>
<path d="M190.2 120.8l0-.3l.5 .3l.5-.3l.5 .3l7 0l.5-.3l.5 .3l.5 0l1-.4l.5 .4l3.5 0l.5-.3l.5 .3l.5-.3l.5 .3l.5-.2l.5 .2l1.5 0l.5-.3l.5 .3l2.5 0l1-.2l1 .2l.5-.4l.5 .4l2.5 0l.5-.3l.5 .3l1 0l.5-.3l.5 .3l1 0l.5-.2l.5 .2l.5 0l.5-.4l.5 .4l.5-.3l1 .3l2.5 0l.5-.3l.5 .3l3.5 0l.5-.2l.5 .2l1.5 0l.5-.4l.5 .4l3 0l.5-.4l.5 .4l.5 0l.5-.2l.5 .2l.5-.2l.5 .2l3.5 0l.5-.4l.5 .4l.5-.2l.5 .2l1-.3l.5 .3l.5-.4l.5 .4l2 0l.5-.3l.5 .3l1 0l.5-.4l1 .4l3.5 0l.5-.3l.5 .3l.5-.4l1 .4l2 0l.5-.3l1 .3l.5 0l.5-.3l.5 .3l1 0l.5-.3l.5 .3l.5 0l.5-.3l.5 .3l3 0l.5-.3l.5 .3l1-.2l.5 .2l2.5 0l.5-.3l.3 .3z" fill="#111111"/>
<path d="M71.0 127.3l0-.2l.5 .2l.5-.3l.5 .3l.5 0l.5-.3l.5 .3l.5-.2l.5 .2l2 0l1-3.7l.5 0l1 3.5l.5-1.2l.5 0l.5 1.2l.5 .2l5 0l.5-.4l1 .4l5 0l.5-.3l.5 .3l.5 0l.5-.2l.5 .2l4 0l.5-.3l.5 .3l2 0l.5-.3l.5 .3l2 0l.5-.2l.5 .2l.5 0l.5-.2l.5 .2l6 0l.5-.2l.5-.3l.5-.1l.5 .4l.5 .2l1-.6l.5 0l1 .6l.5-.2l.5 .2l.5-.3l1 .3l.5-.3l.5 .3l.5-.3l.5 .3l4.5 0l.5-.1l.5 .1l.5-.3l.5 .3l.5-.3l1-1.8l.5 .5l.5-.6l.5-1.1l.5-.6l1 1.9l.5 .5l.5-1l.5-.4l.5 1l.5-.4l.5-.9l.5-.3l1 3l1.5-2.4l1 1.6l.5 0l.5-2.1l.5-1.1l.5 .6l.5 1.8l1 .7l.5 .9l1.5-2.6l1 .1l.5-.1l.5 .4l1 1.7l.5-.2l1-1.2l.5-.1l1-1.7l.5 1.1l.5-.2l1 3.3l1.5 0l.5-.4l.5 .4l.5-.3l.5 .3l.5-.3l.5 .3l4.5 0l.5-.2l.5 .2l1 0l.5-.3l.5 .3l.5-.4l1 .4l.5-.2l.5 .2l1.5 0l.5-.3l1 0l.5 .3l.5 0l.5-.2l.5 .2l4 0l1-.3l.5 .3l1-.3l.5 .3l2.5 0l.5-.3l.5 .3l.5 0l.5-.2l.8 .2z" fill="#111111"/>
<path d="M190.2 127.3l.5-.2l.5 .2l2.5 0l.5-.3l.5-.1l.5 .4l.5-.3l1-1.8l.5-.1l1 1.7l.5-.3l.5-.5l1 1.3l2-1.8l.5 .2l1.5 1.4l.5 .2l2 0l.5-.4l.5 .4l2 0l1-.1l.5 .1l.5-.2l.5 .2l.5-.3l.5 0l.5 .3l.5-.2l.5 .2l5 0l.5-.3l.5 .3l.5-.3l.5 .3l7.5 0l.5-.3l1.5-2.3l1 1.3l.5-1.6l.5-.1l.5-.3l1.5 2.7l1.5-1.6l1 1.2l.5-.4l1.5-2.4l1.5 2.3l.5-.1l.5-.5l.5 .3l.5-.8l1-.5l.5 1.5l.5 1l.5 .6l.5-.2l.5 .2l.5 0l1-2.4l.5 .3l.5-.8l.5-.5l.5 0l.5 1l.5 .1l1 1.7l1 .6l1.5 0l.5-.1l.5 .1l.5-.4l.5-1l.5-.2l.5 1l.5 .4l.5 .2l1 0l.5-.3l.5-1.6l.5-.6l.5 .5l.5 0l.5 .1l1 1.3l1-2l.5 1.2l.5-.8l.5 .5l.5-.5l.5-.8l.5-.1l1 1.6l.5 .3l.5 1.2l.5 0l1.5-1.8l.5 .6l.5-.2l.5-.1l.5 1.1l1.5-2.2l1.5 2.2l.5 .4l3.3 0z" fill="#111111"/>
<rect x="70.50" y="130.18" width="16.50" height="0.75" fill="#111111" stroke="none" stroke-width="1"/>
<rect x="115.00" y="130.18" width="6.50" height="0.75" fill="#111111" stroke="none" stroke-width="1"/>
<rect x="128.50" y="130.18" width="26.50" height="0.75" fill="#111111" stroke="none" stroke-width="1"/>
<rect x="159.60" y="130.18" width="7.00" height="0.75" fill="#111111" stroke="none" stroke-width="1"/>
<rect x="191.00" y="130.18" width="35.00" height="0.75" fill="#111111" stroke="none" stroke-width="1"/>
<rect x="229.00" y="130.18" width="49.00" height="0.75" fill="#111111" stroke="none" stroke-width="1"/>
<path d="M71.0 137.9l4 0l.5-.1l.5 .1l1 0l1-3.6l.5 0l1 3.6l7 0l.5-.1l.5 .1l1.5 0l.5-.2l.5 .2l1-.1l.5 .1l4 0l.5-.2l.5 .2l5 0l.5-.3l.5 .3l.5-.3l.5 .3l3 0l.5-.1l1 .1l.5-.3l.5 .3l.5-.2l.5 .2l1.5-.2l.5 .2l.5 0l.5-.3l.5 .3l1 0l1-.3l.5 0l.5 .3l1 0l.5-.2l.5 .2l2.5 0l.5-.3l.5 .3l3 0l.5-.3l.5 .3l1.5 0l1-.3l.5 .3l1 0l1-.6l.5-2.6l1 2.1l.5-.8l1-2.2l.5 1.3l.5-.9l.5-.5l.5 .2l1 1.9l1 1.3l.5 0l.5-.7l1-2l.5 .7l.5-.1l.5 1.3l.5-.5l.5-2l.5-.1l.5 2.8l.5-1.3l.5 0l.5-1.2l.5 2.2l.5-.3l.5 2l1 0l.5-.8l1-2.5l.5-.2l.5 .9l.5-.6l1 2.3l.5 .6l.5-.5l1.5-2.8l.5 0l.5-.6l1.5 3.4l.5 .5l.5 0l.5 .3l3 0l.5-.2l.5 .2l.5-.3l.5 0l.5 .3l.5-1l.5 0l.5 .7l.5 .3l.5 0l.5-.2l1 .2l1 0l.5-.3l.5 .3l1-.2l.5 .2l3 0l.5-.2l.5-.1l.5 .3l6.5 0l.5-.1l1 .1l.5-.2l.5 .2l1.5 0l.5-.1l.3 .1z" fill="#111111"/>
<path d="M190.2 137.9l3 0l.5-.2l.5 .2l.5 0l1-.5l1.5-1.9l.5-.5l1 1.3l1.5-2.3l.5 0l.5 1.7l.5 .9l.5-.4l1-.1l.5 1.1l.5 .6l.5 .1l2.5 0l.5-.3l.5 0l.5 .3l.5-.2l.5 .2l1-.3l.5 0l.5 .3l1.5 0l.5-.2l.5 .2l.5 0l.5-.2l.5 .2l.5-.3l.5 .3l2 0l1-.3l.5 .3l1.5 0l.5-.2l.5 .2l1.5 0l1-.2l.5 .2l1 0l.5-.2l.5 .2l1.5 0l2.5-2.8l1 1.3l1-1.5l.5 .4l.5-.3l1 1l.5-.5l1 1.1l1-1.2l.5 .3l.5-.5l.5 2.3l.5-.1l1-2.3l.5-.3l.5 .2l.5 0l.5 1.3l1 1.6l2-2.6l.5-.5l1 1.4l.5-.1l1-.9l.5-.9l2 3.3l.5 .3l.5-.2l.5 .2l2 0l.5-.3l.5 .3l1.5 0l.5-.5l.5-1.3l.5-.2l.5 1.3l.5 .7l.5 0l1.5-2.7l.5 .4l1 1.8l1-1.2l.5 .5l.5-.9l.5-.1l.5 .8l.5-1.3l.5 1.5l.5 .7l1-2.1l1 .6l1.5 1.8l.5 .2l3.5 0l.5-.5l.5-1.3l.5-.2l.5 1.3l.5 .4l.5 .3l.5 0l.5-.2l.8 .2z" fill="#111111"/>
<path d="M71.0 144.2l.5-.4l.5 .1l.5-.1l.5 .4l4.5 0l.5-.2l.5-.9l.5 0l.5 1.1l.5-.2l.5 .2l.5-.3l.5 .3l10 0l.5-.3l.5 .3l2 0l.5-.3l.5 .3l2.5 0l.5-.3l.5 .3l.5-.4l1 .1l.5 .3l.5-.4l.5 .4l3 0l.5-.4l.5 .4l8.5 0l.5-.2l.5 .2l1 0l.5-.3l.5 0l.5 .3l3 0l.5-.4l.5 .4l.5 0l.5-.4l.5 0l.5 .4l1 0l.5-.4l.5 .4l.5-.4l.5 .4l.5-.2l.5 .2l.5-.4l.5 .4l1.5 0l.5-.5l.5-1.5l.5 .9l.5-.2l.5-.6l1.5 1.7l.5 .2l1 0l1-1.8l.5-.5l.5 .4l.5 0l.5 .3l.5-.4l.5 0l.5 .6l.5-.8l1 .9l.5 .6l1.5-1.3l.5 .2l.5-.2l.5 .3l.5 .6l.5-.2l.5 .4l1-.8l.5 .1l1.5 1.6l1 0l2-2.3l.5 .1l.5 .4l.5-.2l1 2l1-.2l.5 .2l2.5 0l.5-.3l.5 0l.5 .3l1-.2l.5 .2l.5-.3l.5 .3l2 0l.5-.3l.5 .3l3.5 0l.5-.4l.5 .4l.5 0l.5-.4l.5 .4l.5 0l.5-.4l.5 .4l.5-.4l1 .4l4.5 0l.5-.4l.5 .4l.5-.4l.5 .2l1-.2l.5 0l.5 .4l2 0l.5-.4l.3 .4z" fill="#111111"/>
<path d="M190.2 144.2l5.5 0l.5-.2l.5 .2l5 0l1-.4l.5 .4l1 0l.5-.3l1 .3l.5-.4l.5 .4l.5 0l.5-.4l.5 .4l1.5-.4l.5 .4l5 0l1-.4l.5 .4l5 0l.5-.2l.5 .2l2.5 0l1-.4l.5 .4l4 0l1.5-.8l1-1.3l.5 0l1.5 2.1l.5-.2l1-.9l.5-.3l1 .8l1.5-1.5l.5 .2l.5-.2l1.5 1.8l.5-.2l1.5-1.5l.5 .3l.5-.2l1.5 1.2l.5 .2l.5-.7l.5 .2l.5-.4l1 .3l.5-.5l.5 .2l.5 0l.5 .5l1.5 .9l2.5 0l.5-.3l1 0l.5 .3l.5 0l.5-.2l.5 .2l1 0l2-.8l1.5 .4l1.5-.4l.5 .1l.5-.1l1 .5l.5-.1l.5-.3l.5 0l.5 .3l2 .4l.5-.3l.5 .3l1 0l.5-.2l.5 .2l.5 0l.5-.4l.5 .4l2 0l.5-.2l.5 .2l1.8 0z" fill="#111111"/>
<rect x="70.20" y="25.60" width="117.40" height="118.90" fill="none" stroke="#1a1a1a" stroke-width="1.25"/>
<rect x="189.40" y="25.60" width="91.90" height="118.90" fill="none" stroke="#1a1a1a" stroke-width="1.25"/>
<line x1="74.00" y1="147.80" x2="186.00" y2="147.80" stroke="#5a8cc4" stroke-width="0.45"/>
<rect x="74.00" y="146.69" width="1.93" height="2.22" fill="#1f4f8f" stroke="none" stroke-width="1"/>
<rect x="76.53" y="146.86" width="1.82" height="1.89" fill="#1f4f8f" stroke="none" stroke-width="1"/>
<rect x="78.95" y="146.84" width="1.83" height="1.93" fill="#1f4f8f" stroke="none" stroke-width="1"/>
<polyline points="82.6,147.0 81.8,147.8 82.6,148.6" fill="none" stroke="#3a70b0" stroke-width="0.35"/>
<rect x="83.94" y="146.80" width="2.48" height="1.99" fill="#1f4f8f" stroke="none" stroke-width="1"/>
<rect x="87.02" y="146.67" width="2.86" height="2.26" fill="#1f4f8f" stroke="none" stroke-width="1"/>
<rect x="92.53" y="147.12" width="1.86" height="1.36" fill="#1f4f8f" stroke="none" stroke-width="1"/>
<rect x="94.99" y="147.13" width="1.23" height="1.33" fill="#1f4f8f" stroke="none" stroke-width="1"/>
<rect x="96.82" y="146.73" width="1.67" height="2.14" fill="#1f4f8f" stroke="none" stroke-width="1"/>
<rect x="99.09" y="146.90" width="2.11" height="1.80" fill="#1f4f8f" stroke="none" stroke-width="1"/>
<polyline points="109.9,147.0 109.1,147.8 109.9,148.6" fill="none" stroke="#3a70b0" stroke-width="0.35"/>
<rect x="111.02" y="146.77" width="0.85" height="2.07" fill="#1f4f8f" stroke="none" stroke-width="1"/>
<rect x="112.48" y="146.96" width="2.56" height="1.69" fill="#1f4f8f" stroke="none" stroke-width="1"/>
<rect x="117.14" y="146.92" width="2.70" height="1.77" fill="#1f4f8f" stroke="none" stroke-width="1"/>
<polyline points="121.6,147.0 120.8,147.8 121.6,148.6" fill="none" stroke="#3a70b0" stroke-width="0.35"/>
<rect x="124.64" y="146.67" width="1.43" height="2.26" fill="#1f4f8f" stroke="none" stroke-width="1"/>
<polyline points="127.9,147.0 127.1,147.8 127.9,148.6" fill="none" stroke="#3a70b0" stroke-width="0.35"/>
<rect x="129.04" y="146.75" width="0.83" height="2.10" fill="#1f4f8f" stroke="none" stroke-width="1"/>
<rect x="130.47" y="146.93" width="1.93" height="1.75" fill="#1f4f8f" stroke="none" stroke-width="1"/>
<rect x="133.00" y="147.08" width="2.31" height="1.43" fill="#1f4f8f" stroke="none" stroke-width="1"/>
<polyline points="137.1,147.0 136.3,147.8 137.1,148.6" fill="none" stroke="#3a70b0" stroke-width="0.35"/>
<rect x="138.88" y="146.66" width="1.29" height="2.27" fill="#1f4f8f" stroke="none" stroke-width="1"/>
<polyline points="142.0,147.0 141.2,147.8 142.0,148.6" fill="none" stroke="#3a70b0" stroke-width="0.35"/>
<rect x="145.37" y="146.72" width="1.57" height="2.15" fill="#1f4f8f" stroke="none" stroke-width="1"/>
<polyline points="148.7,147.0 147.9,147.8 148.7,148.6" fill="none" stroke="#3a70b0" stroke-width="0.35"/>
<rect x="152.50" y="146.76" width="1.27" height="2.07" fill="#1f4f8f" stroke="none" stroke-width="1"/>
<rect x="154.37" y="147.11" width="1.35" height="1.37" fill="#1f4f8f" stroke="none" stroke-width="1"/>
<rect x="156.32" y="147.03" width="1.98" height="1.54" fill="#1f4f8f" stroke="none" stroke-width="1"/>
<polyline points="160.1,147.0 159.3,147.8 160.1,148.6" fill="none" stroke="#3a70b0" stroke-width="0.35"/>
<polyline points="166.7,147.0 165.9,147.8 166.7,148.6" fill="none" stroke="#3a70b0" stroke-width="0.35"/>
<rect x="169.91" y="146.68" width="2.33" height="2.24" fill="#1f4f8f" stroke="none" stroke-width="1"/>
<rect x="172.84" y="146.71" width="2.79" height="2.18" fill="#1f4f8f" stroke="none" stroke-width="1"/>
<rect x="178.09" y="147.03" width="2.82" height="1.54" fill="#1f4f8f" stroke="none" stroke-width="1"/>
<polyline points="182.7,147.0 181.9,147.8 182.7,148.6" fill="none" stroke="#3a70b0" stroke-width="0.35"/>
<line x1="199.00" y1="147.80" x2="279.00" y2="147.80" stroke="#5a8cc4" stroke-width="0.45"/>
<rect x="199.00" y="146.82" width="2.15" height="1.97" fill="#1f4f8f" stroke="none" stroke-width="1"/>
<rect x="201.75" y="146.96" width="0.72" height="1.67" fill="#1f4f8f" stroke="none" stroke-width="1"/>
<rect x="203.07" y="146.80" width="2.48" height="1.99" fill="#1f4f8f" stroke="none" stroke-width="1"/>
<rect x="209.97" y="147.07" width="1.67" height="1.46" fill="#1f4f8f" stroke="none" stroke-width="1"/>
<polyline points="213.4,147.0 212.6,147.8 213.4,148.6" fill="none" stroke="#3a70b0" stroke-width="0.35"/>
<rect x="216.60" y="146.98" width="2.21" height="1.64" fill="#1f4f8f" stroke="none" stroke-width="1"/>
<rect x="219.41" y="147.14" width="2.55" height="1.32" fill="#1f4f8f" stroke="none" stroke-width="1"/>
<rect x="222.57" y="146.90" width="2.71" height="1.81" fill="#1f4f8f" stroke="none" stroke-width="1"/>
<rect x="225.88" y="146.68" width="2.87" height="2.25" fill="#1f4f8f" stroke="none" stroke-width="1"/>
<rect x="229.35" y="147.08" width="1.63" height="1.44" fill="#1f4f8f" stroke="none" stroke-width="1"/>
<rect x="231.58" y="147.07" width="2.07" height="1.46" fill="#1f4f8f" stroke="none" stroke-width="1"/>
<polyline points="235.4,147.0 234.6,147.8 235.4,148.6" fill="none" stroke="#3a70b0" stroke-width="0.35"/>
<rect x="242.16" y="146.67" width="2.30" height="2.27" fill="#1f4f8f" stroke="none" stroke-width="1"/>
<rect x="247.81" y="146.81" width="2.22" height="1.97" fill="#1f4f8f" stroke="none" stroke-width="1"/>
<rect x="250.62" y="146.97" width="1.22" height="1.66" fill="#1f4f8f" stroke="none" stroke-width="1"/>
<rect x="252.44" y="146.90" width="2.48" height="1.80" fill="#1f4f8f" stroke="none" stroke-width="1"/>
<rect x="255.52" y="146.93" width="2.51" height="1.73" fill="#1f4f8f" stroke="none" stroke-width="1"/>
<rect x="258.63" y="146.94" width="1.19" height="1.73" fill="#1f4f8f" stroke="none" stroke-width="1"/>
<rect x="260.42" y="147.10" width="2.40" height="1.40" fill="#1f4f8f" stroke="none" stroke-width="1"/>
<rect x="263.42" y="146.80" width="1.09" height="2.00" fill="#1f4f8f" stroke="none" stroke-width="1"/>
<rect x="265.11" y="146.98" width="1.31" height="1.64" fill="#1f4f8f" stroke="none" stroke-width="1"/>
<polyline points="268.2,147.0 267.4,147.8 268.2,148.6" fill="none" stroke="#3a70b0" stroke-width="0.35"/>
<rect x="270.13" y="146.91" width="1.32" height="1.78" fill="#1f4f8f" stroke="none" stroke-width="1"/>
<rect x="276.89" y="146.97" width="2.11" height="1.66" fill="#1f4f8f" stroke="none" stroke-width="1"/>
<text x="132.00" y="157.00" font-size="5.4" text-anchor="middle" fill="#111111" font-weight="normal" stroke="#111111" stroke-width="0.07">the <tspan font-style="italic">HOXA</tspan> cluster</text>
<text x="234.00" y="157.00" font-size="5.4" text-anchor="middle" fill="#111111" font-weight="normal" stroke="#111111" stroke-width="0.07">the <tspan font-style="italic">HOXB</tspan> cluster</text>
<rect x="69.30" y="162.10" width="10.40" height="3.55" fill="#fae7db" stroke="none" stroke-width="1"/>
<rect x="69.30" y="165.60" width="10.40" height="3.55" fill="#fae7db" stroke="none" stroke-width="1"/>
<rect x="69.30" y="169.10" width="10.40" height="3.55" fill="#fae7db" stroke="none" stroke-width="1"/>
<rect x="79.65" y="162.10" width="10.40" height="3.55" fill="#a7d0e4" stroke="none" stroke-width="1"/>
<rect x="79.65" y="165.60" width="10.40" height="3.55" fill="#1c5da0" stroke="none" stroke-width="1"/>
<rect x="79.65" y="169.10" width="10.40" height="3.55" fill="#bcdaea" stroke="none" stroke-width="1"/>
<rect x="90.01" y="162.10" width="10.40" height="3.55" fill="#d7e8f1" stroke="none" stroke-width="1"/>
<rect x="90.01" y="165.60" width="10.40" height="3.55" fill="#d7e8f1" stroke="none" stroke-width="1"/>
<rect x="90.01" y="169.10" width="10.40" height="3.55" fill="#d7e8f1" stroke="none" stroke-width="1"/>
<rect x="100.36" y="162.10" width="10.40" height="3.55" fill="#d7e8f1" stroke="none" stroke-width="1"/>
<rect x="100.36" y="165.60" width="10.40" height="3.55" fill="#d7e8f1" stroke="none" stroke-width="1"/>
<rect x="100.36" y="169.10" width="10.40" height="3.55" fill="#d7e8f1" stroke="none" stroke-width="1"/>
<rect x="110.72" y="162.10" width="10.40" height="3.55" fill="#e4eef4" stroke="none" stroke-width="1"/>
<rect x="110.72" y="165.60" width="10.40" height="3.55" fill="#e4eef4" stroke="none" stroke-width="1"/>
<rect x="110.72" y="169.10" width="10.40" height="3.55" fill="#e4eef4" stroke="none" stroke-width="1"/>
<rect x="121.07" y="162.10" width="10.40" height="3.55" fill="#e4eef4" stroke="none" stroke-width="1"/>
<rect x="121.07" y="165.60" width="10.40" height="3.55" fill="#e4eef4" stroke="none" stroke-width="1"/>
<rect x="121.07" y="169.10" width="10.40" height="3.55" fill="#e4eef4" stroke="none" stroke-width="1"/>
<rect x="131.43" y="162.10" width="10.40" height="3.55" fill="#f9eee7" stroke="none" stroke-width="1"/>
<rect x="131.43" y="165.60" width="10.40" height="3.55" fill="#f9eee7" stroke="none" stroke-width="1"/>
<rect x="131.43" y="169.10" width="10.40" height="3.55" fill="#f9eee7" stroke="none" stroke-width="1"/>
<rect x="141.78" y="162.10" width="10.40" height="3.55" fill="#ef9979" stroke="none" stroke-width="1"/>
<rect x="141.78" y="165.60" width="10.40" height="3.55" fill="#de715a" stroke="none" stroke-width="1"/>
<rect x="141.78" y="169.10" width="10.40" height="3.55" fill="#ea8e70" stroke="none" stroke-width="1"/>
<rect x="152.14" y="162.10" width="10.40" height="3.55" fill="#f19f7e" stroke="none" stroke-width="1"/>
<rect x="152.14" y="165.60" width="10.40" height="3.55" fill="#f19f7e" stroke="none" stroke-width="1"/>
<rect x="152.14" y="169.10" width="10.40" height="3.55" fill="#f19f7e" stroke="none" stroke-width="1"/>
<rect x="162.49" y="162.10" width="10.40" height="3.55" fill="#f8f2ef" stroke="none" stroke-width="1"/>
<rect x="162.49" y="165.60" width="10.40" height="3.55" fill="#f8f2ef" stroke="none" stroke-width="1"/>
<rect x="162.49" y="169.10" width="10.40" height="3.55" fill="#f8f2ef" stroke="none" stroke-width="1"/>
<rect x="172.85" y="162.10" width="10.40" height="3.55" fill="#85bdda" stroke="none" stroke-width="1"/>
<rect x="172.85" y="165.60" width="10.40" height="3.55" fill="#c6e0ed" stroke="none" stroke-width="1"/>
<rect x="172.85" y="169.10" width="10.40" height="3.55" fill="#d7e8f1" stroke="none" stroke-width="1"/>
<rect x="183.20" y="162.10" width="6.45" height="10.50" fill="#ffffff" stroke="none" stroke-width="1"/>
<rect x="189.60" y="162.10" width="10.04" height="3.55" fill="#fae9df" stroke="none" stroke-width="1"/>
<rect x="189.60" y="165.60" width="10.04" height="3.55" fill="#fae9df" stroke="none" stroke-width="1"/>
<rect x="189.60" y="169.10" width="10.04" height="3.55" fill="#fae9df" stroke="none" stroke-width="1"/>
<rect x="199.59" y="162.10" width="10.04" height="3.55" fill="#fae9df" stroke="none" stroke-width="1"/>
<rect x="199.59" y="165.60" width="10.04" height="3.55" fill="#fae9df" stroke="none" stroke-width="1"/>
<rect x="199.59" y="169.10" width="10.04" height="3.55" fill="#fae9df" stroke="none" stroke-width="1"/>
<rect x="209.57" y="162.10" width="10.04" height="3.55" fill="#fddbc7" stroke="none" stroke-width="1"/>
<rect x="209.57" y="165.60" width="10.04" height="3.55" fill="#fddbc7" stroke="none" stroke-width="1"/>
<rect x="209.57" y="169.10" width="10.04" height="3.55" fill="#fddbc7" stroke="none" stroke-width="1"/>
<rect x="219.56" y="162.10" width="10.04" height="3.55" fill="#2166ac" stroke="none" stroke-width="1"/>
<rect x="219.56" y="165.60" width="10.04" height="3.55" fill="#3d8cbf" stroke="none" stroke-width="1"/>
<rect x="219.56" y="169.10" width="10.04" height="3.55" fill="#276eb0" stroke="none" stroke-width="1"/>
<rect x="229.55" y="162.10" width="10.04" height="3.55" fill="#d1e5f0" stroke="none" stroke-width="1"/>
<rect x="229.55" y="165.60" width="10.04" height="3.55" fill="#78b4d5" stroke="none" stroke-width="1"/>
<rect x="229.55" y="169.10" width="10.04" height="3.55" fill="#d7e8f1" stroke="none" stroke-width="1"/>
<rect x="239.54" y="162.10" width="10.04" height="3.55" fill="#deebf2" stroke="none" stroke-width="1"/>
<rect x="239.54" y="165.60" width="10.04" height="3.55" fill="#deebf2" stroke="none" stroke-width="1"/>
<rect x="239.54" y="169.10" width="10.04" height="3.55" fill="#deebf2" stroke="none" stroke-width="1"/>
<rect x="249.53" y="162.10" width="10.04" height="3.55" fill="#2166ac" stroke="none" stroke-width="1"/>
<rect x="249.53" y="165.60" width="10.04" height="3.55" fill="#2166ac" stroke="none" stroke-width="1"/>
<rect x="249.53" y="169.10" width="10.04" height="3.55" fill="#2166ac" stroke="none" stroke-width="1"/>
<rect x="259.51" y="162.10" width="10.04" height="3.55" fill="#3884bb" stroke="none" stroke-width="1"/>
<rect x="259.51" y="165.60" width="10.04" height="3.55" fill="#5da4cc" stroke="none" stroke-width="1"/>
<rect x="259.51" y="169.10" width="10.04" height="3.55" fill="#2c75b4" stroke="none" stroke-width="1"/>
<rect x="69.30" y="172.60" width="10.40" height="3.32" fill="#fbe4d7" stroke="none" stroke-width="1"/>
<rect x="69.30" y="175.87" width="10.40" height="3.32" fill="#fbe4d7" stroke="none" stroke-width="1"/>
<rect x="69.30" y="179.13" width="10.40" height="3.32" fill="#fbe4d7" stroke="none" stroke-width="1"/>
<rect x="79.65" y="172.60" width="10.40" height="3.32" fill="#eef2f5" stroke="none" stroke-width="1"/>
<rect x="79.65" y="175.87" width="10.40" height="3.32" fill="#eef2f5" stroke="none" stroke-width="1"/>
<rect x="79.65" y="179.13" width="10.40" height="3.32" fill="#eef2f5" stroke="none" stroke-width="1"/>
<rect x="90.01" y="172.60" width="10.40" height="3.32" fill="#f8c0a4" stroke="none" stroke-width="1"/>
<rect x="90.01" y="175.87" width="10.40" height="3.32" fill="#fcd2bb" stroke="none" stroke-width="1"/>
<rect x="90.01" y="179.13" width="10.40" height="3.32" fill="#f8c0a4" stroke="none" stroke-width="1"/>
<rect x="100.36" y="172.60" width="10.40" height="3.32" fill="#fbe4d7" stroke="none" stroke-width="1"/>
<rect x="100.36" y="175.87" width="10.40" height="3.32" fill="#fbe4d7" stroke="none" stroke-width="1"/>
<rect x="100.36" y="179.13" width="10.40" height="3.32" fill="#fbe4d7" stroke="none" stroke-width="1"/>
<rect x="110.72" y="172.60" width="10.40" height="3.32" fill="#e58268" stroke="none" stroke-width="1"/>
<rect x="110.72" y="175.87" width="10.40" height="3.32" fill="#e58268" stroke="none" stroke-width="1"/>
<rect x="110.72" y="179.13" width="10.40" height="3.32" fill="#e58268" stroke="none" stroke-width="1"/>
<rect x="121.07" y="172.60" width="10.40" height="3.32" fill="#f6ae8e" stroke="none" stroke-width="1"/>
<rect x="121.07" y="175.87" width="10.40" height="3.32" fill="#f6ae8e" stroke="none" stroke-width="1"/>
<rect x="121.07" y="179.13" width="10.40" height="3.32" fill="#f6ae8e" stroke="none" stroke-width="1"/>
<rect x="131.43" y="172.60" width="10.40" height="3.32" fill="#ef9979" stroke="none" stroke-width="1"/>
<rect x="131.43" y="175.87" width="10.40" height="3.32" fill="#ef9979" stroke="none" stroke-width="1"/>
<rect x="131.43" y="179.13" width="10.40" height="3.32" fill="#ef9979" stroke="none" stroke-width="1"/>
<rect x="141.78" y="172.60" width="10.40" height="3.32" fill="#a61429" stroke="none" stroke-width="1"/>
<rect x="141.78" y="175.87" width="10.40" height="3.32" fill="#8c0c25" stroke="none" stroke-width="1"/>
<rect x="141.78" y="179.13" width="10.40" height="3.32" fill="#a61429" stroke="none" stroke-width="1"/>
<rect x="152.14" y="172.60" width="10.40" height="3.32" fill="#d05447" stroke="none" stroke-width="1"/>
<rect x="152.14" y="175.87" width="10.40" height="3.32" fill="#d05447" stroke="none" stroke-width="1"/>
<rect x="152.14" y="179.13" width="10.40" height="3.32" fill="#d05447" stroke="none" stroke-width="1"/>
<rect x="162.49" y="172.60" width="10.40" height="3.32" fill="#fac9b0" stroke="none" stroke-width="1"/>
<rect x="162.49" y="175.87" width="10.40" height="3.32" fill="#fac9b0" stroke="none" stroke-width="1"/>
<rect x="162.49" y="179.13" width="10.40" height="3.32" fill="#fac9b0" stroke="none" stroke-width="1"/>
<rect x="172.85" y="172.60" width="10.40" height="3.32" fill="#c1ddec" stroke="none" stroke-width="1"/>
<rect x="172.85" y="175.87" width="10.40" height="3.32" fill="#5da4cc" stroke="none" stroke-width="1"/>
<rect x="172.85" y="179.13" width="10.40" height="3.32" fill="#d1e5f0" stroke="none" stroke-width="1"/>
<rect x="183.20" y="172.60" width="6.45" height="9.80" fill="#ffffff" stroke="none" stroke-width="1"/>
<rect x="189.60" y="172.60" width="10.04" height="3.32" fill="#f7b799" stroke="none" stroke-width="1"/>
<rect x="189.60" y="175.87" width="10.04" height="3.32" fill="#f7b799" stroke="none" stroke-width="1"/>
<rect x="189.60" y="179.13" width="10.04" height="3.32" fill="#f7b799" stroke="none" stroke-width="1"/>
<rect x="199.59" y="172.60" width="10.04" height="3.32" fill="#d05447" stroke="none" stroke-width="1"/>
<rect x="199.59" y="175.87" width="10.04" height="3.32" fill="#c43c3c" stroke="none" stroke-width="1"/>
<rect x="199.59" y="179.13" width="10.04" height="3.32" fill="#d6604d" stroke="none" stroke-width="1"/>
<rect x="209.57" y="172.60" width="10.04" height="3.32" fill="#ea8e70" stroke="none" stroke-width="1"/>
<rect x="209.57" y="175.87" width="10.04" height="3.32" fill="#ea8e70" stroke="none" stroke-width="1"/>
<rect x="209.57" y="179.13" width="10.04" height="3.32" fill="#ea8e70" stroke="none" stroke-width="1"/>
<rect x="219.56" y="172.60" width="10.04" height="3.32" fill="#fae9df" stroke="none" stroke-width="1"/>
<rect x="219.56" y="175.87" width="10.04" height="3.32" fill="#fae9df" stroke="none" stroke-width="1"/>
<rect x="219.56" y="179.13" width="10.04" height="3.32" fill="#fae9df" stroke="none" stroke-width="1"/>
<rect x="229.55" y="172.60" width="10.04" height="3.32" fill="#ef9979" stroke="none" stroke-width="1"/>
<rect x="229.55" y="175.87" width="10.04" height="3.32" fill="#ef9979" stroke="none" stroke-width="1"/>
<rect x="229.55" y="179.13" width="10.04" height="3.32" fill="#ef9979" stroke="none" stroke-width="1"/>
<rect x="239.54" y="172.60" width="10.04" height="3.32" fill="#f7b799" stroke="none" stroke-width="1"/>
<rect x="239.54" y="175.87" width="10.04" height="3.32" fill="#f7b799" stroke="none" stroke-width="1"/>
<rect x="239.54" y="179.13" width="10.04" height="3.32" fill="#f7b799" stroke="none" stroke-width="1"/>
<rect x="249.53" y="172.60" width="10.04" height="3.32" fill="#fcd2bb" stroke="none" stroke-width="1"/>
<rect x="249.53" y="175.87" width="10.04" height="3.32" fill="#fcd2bb" stroke="none" stroke-width="1"/>
<rect x="249.53" y="179.13" width="10.04" height="3.32" fill="#fcd2bb" stroke="none" stroke-width="1"/>
<rect x="259.51" y="172.60" width="10.04" height="3.32" fill="#930e26" stroke="none" stroke-width="1"/>
<rect x="259.51" y="175.87" width="10.04" height="3.32" fill="#800823" stroke="none" stroke-width="1"/>
<rect x="259.51" y="179.13" width="10.04" height="3.32" fill="#a61429" stroke="none" stroke-width="1"/>
<rect x="69.30" y="182.40" width="10.40" height="3.32" fill="#fcd7c1" stroke="none" stroke-width="1"/>
<rect x="69.30" y="185.67" width="10.40" height="3.32" fill="#fcd7c1" stroke="none" stroke-width="1"/>
<rect x="69.30" y="188.93" width="10.40" height="3.32" fill="#fcd7c1" stroke="none" stroke-width="1"/>
<rect x="79.65" y="182.40" width="10.40" height="3.32" fill="#daeaf2" stroke="none" stroke-width="1"/>
<rect x="79.65" y="185.67" width="10.40" height="3.32" fill="#daeaf2" stroke="none" stroke-width="1"/>
<rect x="79.65" y="188.93" width="10.40" height="3.32" fill="#daeaf2" stroke="none" stroke-width="1"/>
<rect x="90.01" y="182.40" width="10.40" height="3.32" fill="#fce0cf" stroke="none" stroke-width="1"/>
<rect x="90.01" y="185.67" width="10.40" height="3.32" fill="#fce0cf" stroke="none" stroke-width="1"/>
<rect x="90.01" y="188.93" width="10.40" height="3.32" fill="#fce0cf" stroke="none" stroke-width="1"/>
<rect x="100.36" y="182.40" width="10.40" height="3.32" fill="#eaf1f5" stroke="none" stroke-width="1"/>
<rect x="100.36" y="185.67" width="10.40" height="3.32" fill="#eaf1f5" stroke="none" stroke-width="1"/>
<rect x="100.36" y="188.93" width="10.40" height="3.32" fill="#eaf1f5" stroke="none" stroke-width="1"/>
<rect x="110.72" y="182.40" width="10.40" height="3.32" fill="#f8c0a4" stroke="none" stroke-width="1"/>
<rect x="110.72" y="185.67" width="10.40" height="3.32" fill="#f8c0a4" stroke="none" stroke-width="1"/>
<rect x="110.72" y="188.93" width="10.40" height="3.32" fill="#f8c0a4" stroke="none" stroke-width="1"/>
<rect x="121.07" y="182.40" width="10.40" height="3.32" fill="#fcd7c1" stroke="none" stroke-width="1"/>
<rect x="121.07" y="185.67" width="10.40" height="3.32" fill="#fcd7c1" stroke="none" stroke-width="1"/>
<rect x="121.07" y="188.93" width="10.40" height="3.32" fill="#fcd7c1" stroke="none" stroke-width="1"/>
<rect x="131.43" y="182.40" width="10.40" height="3.32" fill="#f6ae8e" stroke="none" stroke-width="1"/>
<rect x="131.43" y="185.67" width="10.40" height="3.32" fill="#f6ae8e" stroke="none" stroke-width="1"/>
<rect x="131.43" y="188.93" width="10.40" height="3.32" fill="#f6ae8e" stroke="none" stroke-width="1"/>
<rect x="141.78" y="182.40" width="10.40" height="3.32" fill="#b82431" stroke="none" stroke-width="1"/>
<rect x="141.78" y="185.67" width="10.40" height="3.32" fill="#b2182b" stroke="none" stroke-width="1"/>
<rect x="141.78" y="188.93" width="10.40" height="3.32" fill="#b82431" stroke="none" stroke-width="1"/>
<rect x="152.14" y="182.40" width="10.40" height="3.32" fill="#d96651" stroke="none" stroke-width="1"/>
<rect x="152.14" y="185.67" width="10.40" height="3.32" fill="#d96651" stroke="none" stroke-width="1"/>
<rect x="152.14" y="188.93" width="10.40" height="3.32" fill="#d96651" stroke="none" stroke-width="1"/>
<rect x="162.49" y="182.40" width="10.40" height="3.32" fill="#ef9979" stroke="none" stroke-width="1"/>
<rect x="162.49" y="185.67" width="10.40" height="3.32" fill="#ef9979" stroke="none" stroke-width="1"/>
<rect x="162.49" y="188.93" width="10.40" height="3.32" fill="#ef9979" stroke="none" stroke-width="1"/>
<rect x="172.85" y="182.40" width="10.40" height="3.32" fill="#fbe4d7" stroke="none" stroke-width="1"/>
<rect x="172.85" y="185.67" width="10.40" height="3.32" fill="#fbe4d7" stroke="none" stroke-width="1"/>
<rect x="172.85" y="188.93" width="10.40" height="3.32" fill="#fbe4d7" stroke="none" stroke-width="1"/>
<rect x="183.20" y="182.40" width="6.45" height="9.80" fill="#ffffff" stroke="none" stroke-width="1"/>
<rect x="189.60" y="182.40" width="10.04" height="3.32" fill="#fcd2bb" stroke="none" stroke-width="1"/>
<rect x="189.60" y="185.67" width="10.04" height="3.32" fill="#fcd2bb" stroke="none" stroke-width="1"/>
<rect x="189.60" y="188.93" width="10.04" height="3.32" fill="#fcd2bb" stroke="none" stroke-width="1"/>
<rect x="199.59" y="182.40" width="10.04" height="3.32" fill="#ef9979" stroke="none" stroke-width="1"/>
<rect x="199.59" y="185.67" width="10.04" height="3.32" fill="#ef9979" stroke="none" stroke-width="1"/>
<rect x="199.59" y="188.93" width="10.04" height="3.32" fill="#ef9979" stroke="none" stroke-width="1"/>
<rect x="209.57" y="182.40" width="10.04" height="3.32" fill="#f5a988" stroke="none" stroke-width="1"/>
<rect x="209.57" y="185.67" width="10.04" height="3.32" fill="#f5a988" stroke="none" stroke-width="1"/>
<rect x="209.57" y="188.93" width="10.04" height="3.32" fill="#f5a988" stroke="none" stroke-width="1"/>
<rect x="219.56" y="182.40" width="10.04" height="3.32" fill="#f9eee7" stroke="none" stroke-width="1"/>
<rect x="219.56" y="185.67" width="10.04" height="3.32" fill="#f9eee7" stroke="none" stroke-width="1"/>
<rect x="219.56" y="188.93" width="10.04" height="3.32" fill="#f9eee7" stroke="none" stroke-width="1"/>
<rect x="229.55" y="182.40" width="10.04" height="3.32" fill="#f8c0a4" stroke="none" stroke-width="1"/>
<rect x="229.55" y="185.67" width="10.04" height="3.32" fill="#f8c0a4" stroke="none" stroke-width="1"/>
<rect x="229.55" y="188.93" width="10.04" height="3.32" fill="#f8c0a4" stroke="none" stroke-width="1"/>
<rect x="239.54" y="182.40" width="10.04" height="3.32" fill="#deebf2" stroke="none" stroke-width="1"/>
<rect x="239.54" y="185.67" width="10.04" height="3.32" fill="#9ccae1" stroke="none" stroke-width="1"/>
<rect x="239.54" y="188.93" width="10.04" height="3.32" fill="#d1e5f0" stroke="none" stroke-width="1"/>
<rect x="249.53" y="182.40" width="10.04" height="3.32" fill="#2166ac" stroke="none" stroke-width="1"/>
<rect x="249.53" y="185.67" width="10.04" height="3.32" fill="#4a97c5" stroke="none" stroke-width="1"/>
<rect x="249.53" y="188.93" width="10.04" height="3.32" fill="#a7d0e4" stroke="none" stroke-width="1"/>
<rect x="259.51" y="182.40" width="10.04" height="3.32" fill="#d7e8f1" stroke="none" stroke-width="1"/>
<rect x="259.51" y="185.67" width="10.04" height="3.32" fill="#78b4d5" stroke="none" stroke-width="1"/>
<rect x="259.51" y="188.93" width="10.04" height="3.32" fill="#f7f7f7" stroke="none" stroke-width="1"/>
<rect x="69.30" y="192.20" width="10.40" height="3.32" fill="#fce2d3" stroke="none" stroke-width="1"/>
<rect x="69.30" y="195.47" width="10.40" height="3.32" fill="#fce2d3" stroke="none" stroke-width="1"/>
<rect x="69.30" y="198.73" width="10.40" height="3.32" fill="#fce2d3" stroke="none" stroke-width="1"/>
<rect x="79.65" y="192.20" width="10.40" height="3.32" fill="#daeaf2" stroke="none" stroke-width="1"/>
<rect x="79.65" y="195.47" width="10.40" height="3.32" fill="#daeaf2" stroke="none" stroke-width="1"/>
<rect x="79.65" y="198.73" width="10.40" height="3.32" fill="#daeaf2" stroke="none" stroke-width="1"/>
<rect x="90.01" y="192.20" width="10.40" height="3.32" fill="#fce0cf" stroke="none" stroke-width="1"/>
<rect x="90.01" y="195.47" width="10.40" height="3.32" fill="#fce0cf" stroke="none" stroke-width="1"/>
<rect x="90.01" y="198.73" width="10.40" height="3.32" fill="#fce0cf" stroke="none" stroke-width="1"/>
<rect x="100.36" y="192.20" width="10.40" height="3.32" fill="#fce0cf" stroke="none" stroke-width="1"/>
<rect x="100.36" y="195.47" width="10.40" height="3.32" fill="#fce0cf" stroke="none" stroke-width="1"/>
<rect x="100.36" y="198.73" width="10.40" height="3.32" fill="#fce0cf" stroke="none" stroke-width="1"/>
<rect x="110.72" y="192.20" width="10.40" height="3.32" fill="#ea8e70" stroke="none" stroke-width="1"/>
<rect x="110.72" y="195.47" width="10.40" height="3.32" fill="#ea8e70" stroke="none" stroke-width="1"/>
<rect x="110.72" y="198.73" width="10.40" height="3.32" fill="#ea8e70" stroke="none" stroke-width="1"/>
<rect x="121.07" y="192.20" width="10.40" height="3.32" fill="#f6ae8e" stroke="none" stroke-width="1"/>
<rect x="121.07" y="195.47" width="10.40" height="3.32" fill="#f6ae8e" stroke="none" stroke-width="1"/>
<rect x="121.07" y="198.73" width="10.40" height="3.32" fill="#f6ae8e" stroke="none" stroke-width="1"/>
<rect x="131.43" y="192.20" width="10.40" height="3.32" fill="#e58268" stroke="none" stroke-width="1"/>
<rect x="131.43" y="195.47" width="10.40" height="3.32" fill="#e58268" stroke="none" stroke-width="1"/>
<rect x="131.43" y="198.73" width="10.40" height="3.32" fill="#e58268" stroke="none" stroke-width="1"/>
<rect x="141.78" y="192.20" width="10.40" height="3.32" fill="#a61429" stroke="none" stroke-width="1"/>
<rect x="141.78" y="195.47" width="10.40" height="3.32" fill="#991027" stroke="none" stroke-width="1"/>
<rect x="141.78" y="198.73" width="10.40" height="3.32" fill="#b2182b" stroke="none" stroke-width="1"/>
<rect x="152.14" y="192.20" width="10.40" height="3.32" fill="#de715a" stroke="none" stroke-width="1"/>
<rect x="152.14" y="195.47" width="10.40" height="3.32" fill="#de715a" stroke="none" stroke-width="1"/>
<rect x="152.14" y="198.73" width="10.40" height="3.32" fill="#de715a" stroke="none" stroke-width="1"/>
<rect x="162.49" y="192.20" width="10.40" height="3.32" fill="#fae9df" stroke="none" stroke-width="1"/>
<rect x="162.49" y="195.47" width="10.40" height="3.32" fill="#fae9df" stroke="none" stroke-width="1"/>
<rect x="162.49" y="198.73" width="10.40" height="3.32" fill="#fae9df" stroke="none" stroke-width="1"/>
<rect x="172.85" y="192.20" width="10.40" height="3.32" fill="#4a97c5" stroke="none" stroke-width="1"/>
<rect x="172.85" y="195.47" width="10.40" height="3.32" fill="#2f79b6" stroke="none" stroke-width="1"/>
<rect x="172.85" y="198.73" width="10.40" height="3.32" fill="#1c5da0" stroke="none" stroke-width="1"/>
<rect x="183.20" y="192.20" width="6.45" height="9.80" fill="#ffffff" stroke="none" stroke-width="1"/>
<rect x="189.60" y="192.20" width="10.04" height="3.32" fill="#fddbc7" stroke="none" stroke-width="1"/>
<rect x="189.60" y="195.47" width="10.04" height="3.32" fill="#fddbc7" stroke="none" stroke-width="1"/>
<rect x="189.60" y="198.73" width="10.04" height="3.32" fill="#fddbc7" stroke="none" stroke-width="1"/>
<rect x="199.59" y="192.20" width="10.04" height="3.32" fill="#ea8e70" stroke="none" stroke-width="1"/>
<rect x="199.59" y="195.47" width="10.04" height="3.32" fill="#ea8e70" stroke="none" stroke-width="1"/>
<rect x="199.59" y="198.73" width="10.04" height="3.32" fill="#ea8e70" stroke="none" stroke-width="1"/>
<rect x="209.57" y="192.20" width="10.04" height="3.32" fill="#ec9475" stroke="none" stroke-width="1"/>
<rect x="209.57" y="195.47" width="10.04" height="3.32" fill="#ec9475" stroke="none" stroke-width="1"/>
<rect x="209.57" y="198.73" width="10.04" height="3.32" fill="#ec9475" stroke="none" stroke-width="1"/>
<rect x="219.56" y="192.20" width="10.04" height="3.32" fill="#fae9df" stroke="none" stroke-width="1"/>
<rect x="219.56" y="195.47" width="10.04" height="3.32" fill="#fae9df" stroke="none" stroke-width="1"/>
<rect x="219.56" y="198.73" width="10.04" height="3.32" fill="#fae9df" stroke="none" stroke-width="1"/>
<rect x="229.55" y="192.20" width="10.04" height="3.32" fill="#ec9475" stroke="none" stroke-width="1"/>
<rect x="229.55" y="195.47" width="10.04" height="3.32" fill="#ec9475" stroke="none" stroke-width="1"/>
<rect x="229.55" y="198.73" width="10.04" height="3.32" fill="#ec9475" stroke="none" stroke-width="1"/>
<rect x="239.54" y="192.20" width="10.04" height="3.32" fill="#f19f7e" stroke="none" stroke-width="1"/>
<rect x="239.54" y="195.47" width="10.04" height="3.32" fill="#f19f7e" stroke="none" stroke-width="1"/>
<rect x="239.54" y="198.73" width="10.04" height="3.32" fill="#f19f7e" stroke="none" stroke-width="1"/>
<rect x="249.53" y="192.20" width="10.04" height="3.32" fill="#f6ae8e" stroke="none" stroke-width="1"/>
<rect x="249.53" y="195.47" width="10.04" height="3.32" fill="#f6ae8e" stroke="none" stroke-width="1"/>
<rect x="249.53" y="198.73" width="10.04" height="3.32" fill="#f6ae8e" stroke="none" stroke-width="1"/>
<rect x="259.51" y="192.20" width="10.04" height="3.32" fill="#db6c56" stroke="none" stroke-width="1"/>
<rect x="259.51" y="195.47" width="10.04" height="3.32" fill="#db6c56" stroke="none" stroke-width="1"/>
<rect x="259.51" y="198.73" width="10.04" height="3.32" fill="#db6c56" stroke="none" stroke-width="1"/>
<line x1="69.30" y1="172.60" x2="269.50" y2="172.60" stroke="#6b5a55" stroke-width="0.8"/>
<line x1="69.30" y1="182.40" x2="269.50" y2="182.40" stroke="#6b5a55" stroke-width="0.8"/>
<line x1="69.30" y1="192.20" x2="269.50" y2="192.20" stroke="#6b5a55" stroke-width="0.8"/>
<rect x="69.30" y="162.10" width="200.20" height="39.90" fill="none" stroke="#7a6e6a" stroke-width="0.7"/>
<line x1="67.60" y1="173.00" x2="67.60" y2="202.00" stroke="#444" stroke-width="0.8"/>
<line x1="74.48" y1="202.60" x2="74.48" y2="205.20" stroke="#333" stroke-width="0.8"/>
<text x="74.48" y="213.80" font-size="5.3" text-anchor="middle" fill="#111111" font-weight="normal" stroke="#111111" stroke-width="0.07">A1</text>
<line x1="84.83" y1="202.60" x2="84.83" y2="205.20" stroke="#333" stroke-width="0.8"/>
<text x="84.83" y="213.80" font-size="5.3" text-anchor="middle" fill="#111111" font-weight="normal" stroke="#111111" stroke-width="0.07">A2</text>
<line x1="95.19" y1="202.60" x2="95.19" y2="205.20" stroke="#333" stroke-width="0.8"/>
<text x="95.19" y="213.80" font-size="5.3" text-anchor="middle" fill="#111111" font-weight="normal" stroke="#111111" stroke-width="0.07">A3</text>
<line x1="105.54" y1="202.60" x2="105.54" y2="205.20" stroke="#333" stroke-width="0.8"/>
<text x="105.54" y="213.80" font-size="5.3" text-anchor="middle" fill="#111111" font-weight="normal" stroke="#111111" stroke-width="0.07">A4</text>
<line x1="115.90" y1="202.60" x2="115.90" y2="205.20" stroke="#333" stroke-width="0.8"/>
<text x="115.90" y="213.80" font-size="5.3" text-anchor="middle" fill="#111111" font-weight="normal" stroke="#111111" stroke-width="0.07">A5</text>
<line x1="126.25" y1="202.60" x2="126.25" y2="205.20" stroke="#333" stroke-width="0.8"/>
<text x="126.25" y="213.80" font-size="5.3" text-anchor="middle" fill="#111111" font-weight="normal" stroke="#111111" stroke-width="0.07">A6</text>
<line x1="136.60" y1="202.60" x2="136.60" y2="205.20" stroke="#333" stroke-width="0.8"/>
<text x="136.60" y="213.80" font-size="5.3" text-anchor="middle" fill="#111111" font-weight="normal" stroke="#111111" stroke-width="0.07">A7</text>
<line x1="146.96" y1="202.60" x2="146.96" y2="205.20" stroke="#333" stroke-width="0.8"/>
<text x="146.96" y="213.80" font-size="5.3" text-anchor="middle" fill="#111111" font-weight="normal" stroke="#111111" stroke-width="0.07">A9</text>
<line x1="157.31" y1="202.60" x2="157.31" y2="205.20" stroke="#333" stroke-width="0.8"/>
<text x="157.31" y="213.80" font-size="5.3" text-anchor="middle" fill="#111111" font-weight="normal" stroke="#111111" stroke-width="0.07">A10</text>
<line x1="167.67" y1="202.60" x2="167.67" y2="205.20" stroke="#333" stroke-width="0.8"/>
<text x="167.67" y="213.80" font-size="5.3" text-anchor="middle" fill="#111111" font-weight="normal" stroke="#111111" stroke-width="0.07">A11</text>
<line x1="178.02" y1="202.60" x2="178.02" y2="205.20" stroke="#333" stroke-width="0.8"/>
<text x="178.02" y="213.80" font-size="5.3" text-anchor="middle" fill="#111111" font-weight="normal" stroke="#111111" stroke-width="0.07">A13</text>
<line x1="194.59" y1="202.60" x2="194.59" y2="205.20" stroke="#333" stroke-width="0.8"/>
<text x="194.59" y="213.80" font-size="5.3" text-anchor="middle" fill="#111111" font-weight="normal" stroke="#111111" stroke-width="0.07">B2</text>
<line x1="204.58" y1="202.60" x2="204.58" y2="205.20" stroke="#333" stroke-width="0.8"/>
<text x="204.58" y="213.80" font-size="5.3" text-anchor="middle" fill="#111111" font-weight="normal" stroke="#111111" stroke-width="0.07">B3</text>
<line x1="214.57" y1="202.60" x2="214.57" y2="205.20" stroke="#333" stroke-width="0.8"/>
<text x="214.57" y="213.80" font-size="5.3" text-anchor="middle" fill="#111111" font-weight="normal" stroke="#111111" stroke-width="0.07">B4</text>
<line x1="224.56" y1="202.60" x2="224.56" y2="205.20" stroke="#333" stroke-width="0.8"/>
<text x="224.56" y="213.80" font-size="5.3" text-anchor="middle" fill="#111111" font-weight="normal" stroke="#111111" stroke-width="0.07">B5</text>
<line x1="234.54" y1="202.60" x2="234.54" y2="205.20" stroke="#333" stroke-width="0.8"/>
<text x="234.54" y="213.80" font-size="5.3" text-anchor="middle" fill="#111111" font-weight="normal" stroke="#111111" stroke-width="0.07">B6</text>
<line x1="244.53" y1="202.60" x2="244.53" y2="205.20" stroke="#333" stroke-width="0.8"/>
<text x="244.53" y="213.80" font-size="5.3" text-anchor="middle" fill="#111111" font-weight="normal" stroke="#111111" stroke-width="0.07">B7</text>
<line x1="254.52" y1="202.60" x2="254.52" y2="205.20" stroke="#333" stroke-width="0.8"/>
<text x="254.52" y="213.80" font-size="5.3" text-anchor="middle" fill="#111111" font-weight="normal" stroke="#111111" stroke-width="0.07">B8</text>
<line x1="264.51" y1="202.60" x2="264.51" y2="205.20" stroke="#333" stroke-width="0.8"/>
<text x="264.51" y="213.80" font-size="5.3" text-anchor="middle" fill="#111111" font-weight="normal" stroke="#111111" stroke-width="0.07">B9</text>
<text x="64.60" y="169.35" font-size="5.5" text-anchor="end" fill="#111111" font-weight="normal" stroke="#111111" stroke-width="0.07">empty vector control</text>
<text x="64.60" y="179.50" font-size="5.5" text-anchor="end" fill="#111111" font-weight="normal" stroke="#111111" stroke-width="0.07">NUP98::KDM5A</text>
<text x="64.60" y="189.30" font-size="5.5" text-anchor="end" fill="#111111" font-weight="normal" stroke="#111111" stroke-width="0.07">NUP98::NSD1</text>
<text x="64.60" y="199.10" font-size="5.5" text-anchor="end" fill="#111111" font-weight="normal" stroke="#111111" stroke-width="0.07">NUP98::HOXA9</text>
<defs><linearGradient id="cb" x1="0" y1="1" x2="0" y2="0"><stop offset="0.00" stop-color="#053061"/><stop offset="0.10" stop-color="#2166ac"/><stop offset="0.20" stop-color="#4393c3"/><stop offset="0.30" stop-color="#92c5de"/><stop offset="0.40" stop-color="#d1e5f0"/><stop offset="0.50" stop-color="#f7f7f7"/><stop offset="0.60" stop-color="#fddbc7"/><stop offset="0.70" stop-color="#f4a582"/><stop offset="0.80" stop-color="#d6604d"/><stop offset="0.90" stop-color="#b2182b"/><stop offset="1.00" stop-color="#67001f"/></linearGradient></defs>
<rect x="280.80" y="166.00" width="3.20" height="32.00" fill="url(#cb)" stroke="#555" stroke-width="0.4"/>
<text x="285.00" y="167.20" font-size="4.6" text-anchor="middle" fill="#111111" font-weight="normal" transform="rotate(90 285.0 167.2)">6</text>
<text x="285.00" y="172.25" font-size="4.6" text-anchor="middle" fill="#111111" font-weight="normal" transform="rotate(90 285.0 172.25)">4</text>
<text x="285.00" y="177.30" font-size="4.6" text-anchor="middle" fill="#111111" font-weight="normal" transform="rotate(90 285.0 177.29999999999998)">2</text>
<text x="285.00" y="182.35" font-size="4.6" text-anchor="middle" fill="#111111" font-weight="normal" transform="rotate(90 285.0 182.35)">0</text>
<text x="285.00" y="187.40" font-size="4.6" text-anchor="middle" fill="#111111" font-weight="normal" transform="rotate(90 285.0 187.39999999999998)">−2</text>
<text x="285.00" y="192.45" font-size="4.6" text-anchor="middle" fill="#111111" font-weight="normal" transform="rotate(90 285.0 192.45)">−4</text>
<text x="285.00" y="197.50" font-size="4.6" text-anchor="middle" fill="#111111" font-weight="normal" transform="rotate(90 285.0 197.5)">−6</text>
<text x="276.60" y="182.00" font-size="4.9" text-anchor="middle" fill="#111111" font-weight="normal" transform="rotate(-90 276.6 182.0)">expression (log2 CPM)</text>
<text x="302.40" y="12.90" font-size="11.3" text-anchor="start" fill="#111" font-weight="bold">B</text>
<text x="359.30" y="7.20" font-size="4.3" text-anchor="start" fill="#111111" font-weight="normal">Chr21</text>
<text x="408.60" y="7.20" font-size="4.3" text-anchor="start" fill="#111111" font-weight="normal">Chr9</text>
<text x="457.20" y="7.20" font-size="4.3" text-anchor="start" fill="#111111" font-weight="normal">Chr12</text>
<text x="363.80" y="14.50" font-size="4.1" text-anchor="start" fill="#111111" font-weight="normal">34 900 kb</text>
<text x="384.20" y="14.50" font-size="4.1" text-anchor="start" fill="#111111" font-weight="normal">35 000 kb</text>
<text x="409.80" y="14.50" font-size="4.1" text-anchor="start" fill="#111111" font-weight="normal">132 950 kb</text>
<text x="438.30" y="14.50" font-size="4.1" text-anchor="start" fill="#111111" font-weight="normal">133 000 kb</text>
<text x="465.20" y="14.50" font-size="4.1" text-anchor="start" fill="#111111" font-weight="normal">54 320 kb</text>
<text x="486.30" y="14.50" font-size="4.1" text-anchor="start" fill="#111111" font-weight="normal">54 340 kb</text>
<line x1="372.90" y1="18.80" x2="372.90" y2="21.80" stroke="#222" stroke-width="0.9"/>
<line x1="394.00" y1="18.80" x2="394.00" y2="21.80" stroke="#222" stroke-width="0.9"/>
<line x1="420.00" y1="18.80" x2="420.00" y2="21.80" stroke="#222" stroke-width="0.9"/>
<line x1="448.30" y1="18.80" x2="448.30" y2="21.80" stroke="#222" stroke-width="0.9"/>
<line x1="475.80" y1="18.80" x2="475.80" y2="21.80" stroke="#222" stroke-width="0.9"/>
<line x1="493.50" y1="18.80" x2="493.50" y2="21.80" stroke="#222" stroke-width="0.9"/>
<text x="354.40" y="26.10" font-size="5.25" text-anchor="end" fill="#111111" font-weight="normal" stroke="#111111" stroke-width="0.07">IgG</text>
<line x1="356.80" y1="24.30" x2="360.60" y2="24.30" stroke="#222" stroke-width="0.8"/>
<text x="354.40" y="32.05" font-size="5.25" text-anchor="end" fill="#111111" font-weight="normal" stroke="#111111" stroke-width="0.07">N-term NUP98</text>
<line x1="356.80" y1="30.25" x2="360.60" y2="30.25" stroke="#222" stroke-width="0.8"/>
<text x="354.40" y="38.00" font-size="5.25" text-anchor="end" fill="#111111" font-weight="normal" stroke="#111111" stroke-width="0.07">peak call (sicer)</text>
<line x1="356.80" y1="36.20" x2="360.60" y2="36.20" stroke="#222" stroke-width="0.8"/>
<text x="354.40" y="43.95" font-size="5.25" text-anchor="end" fill="#111111" font-weight="normal" stroke="#111111" stroke-width="0.07">H3K4me3</text>
<line x1="356.80" y1="42.15" x2="360.60" y2="42.15" stroke="#222" stroke-width="0.8"/>
<text x="354.40" y="49.90" font-size="5.25" text-anchor="end" fill="#111111" font-weight="normal" stroke="#111111" stroke-width="0.07">H3K27ac</text>
<line x1="356.80" y1="48.10" x2="360.60" y2="48.10" stroke="#222" stroke-width="0.8"/>
<text x="354.40" y="55.85" font-size="5.25" text-anchor="end" fill="#111111" font-weight="normal" stroke="#111111" stroke-width="0.07">IgG</text>
<line x1="356.80" y1="54.05" x2="360.60" y2="54.05" stroke="#222" stroke-width="0.8"/>
<text x="354.40" y="61.80" font-size="5.25" text-anchor="end" fill="#111111" font-weight="normal" stroke="#111111" stroke-width="0.07">HA (NUP98-FO)</text>
<line x1="356.80" y1="60.00" x2="360.60" y2="60.00" stroke="#222" stroke-width="0.8"/>
<text x="354.40" y="67.75" font-size="5.25" text-anchor="end" fill="#111111" font-weight="normal" stroke="#111111" stroke-width="0.07">peak call (sicer)</text>
<line x1="356.80" y1="65.95" x2="360.60" y2="65.95" stroke="#222" stroke-width="0.8"/>
<text x="354.40" y="73.70" font-size="5.25" text-anchor="end" fill="#111111" font-weight="normal" stroke="#111111" stroke-width="0.07">H3K4me3</text>
<line x1="356.80" y1="71.90" x2="360.60" y2="71.90" stroke="#222" stroke-width="0.8"/>
<text x="354.40" y="79.65" font-size="5.25" text-anchor="end" fill="#111111" font-weight="normal" stroke="#111111" stroke-width="0.07">H3K27ac</text>
<line x1="356.80" y1="77.85" x2="360.60" y2="77.85" stroke="#222" stroke-width="0.8"/>
<text x="354.40" y="85.60" font-size="5.25" text-anchor="end" fill="#111111" font-weight="normal" stroke="#111111" stroke-width="0.07">IgG</text>
<line x1="356.80" y1="83.80" x2="360.60" y2="83.80" stroke="#222" stroke-width="0.8"/>
<text x="354.40" y="91.55" font-size="5.25" text-anchor="end" fill="#111111" font-weight="normal" stroke="#111111" stroke-width="0.07">HA (NUP98-FO)</text>
<line x1="356.80" y1="89.75" x2="360.60" y2="89.75" stroke="#222" stroke-width="0.8"/>
<text x="354.40" y="97.50" font-size="5.25" text-anchor="end" fill="#111111" font-weight="normal" stroke="#111111" stroke-width="0.07">peak call (sicer)</text>
<line x1="356.80" y1="95.70" x2="360.60" y2="95.70" stroke="#222" stroke-width="0.8"/>
<text x="354.40" y="103.45" font-size="5.25" text-anchor="end" fill="#111111" font-weight="normal" stroke="#111111" stroke-width="0.07">H3K4me3</text>
<line x1="356.80" y1="101.65" x2="360.60" y2="101.65" stroke="#222" stroke-width="0.8"/>
<text x="354.40" y="109.40" font-size="5.25" text-anchor="end" fill="#111111" font-weight="normal" stroke="#111111" stroke-width="0.07">H3K27ac</text>
<line x1="356.80" y1="107.60" x2="360.60" y2="107.60" stroke="#222" stroke-width="0.8"/>
<text x="354.40" y="115.35" font-size="5.25" text-anchor="end" fill="#111111" font-weight="normal" stroke="#111111" stroke-width="0.07">IgG</text>
<line x1="356.80" y1="113.55" x2="360.60" y2="113.55" stroke="#222" stroke-width="0.8"/>
<text x="354.40" y="121.30" font-size="5.25" text-anchor="end" fill="#111111" font-weight="normal" stroke="#111111" stroke-width="0.07">HA (NUP98-FO)</text>
<line x1="356.80" y1="119.50" x2="360.60" y2="119.50" stroke="#222" stroke-width="0.8"/>
<text x="354.40" y="127.25" font-size="5.25" text-anchor="end" fill="#111111" font-weight="normal" stroke="#111111" stroke-width="0.07">peak call (sicer)</text>
<line x1="356.80" y1="125.45" x2="360.60" y2="125.45" stroke="#222" stroke-width="0.8"/>
<text x="354.40" y="133.20" font-size="5.25" text-anchor="end" fill="#111111" font-weight="normal" stroke="#111111" stroke-width="0.07">H3K4me3</text>
<line x1="356.80" y1="131.40" x2="360.60" y2="131.40" stroke="#222" stroke-width="0.8"/>
<text x="354.40" y="139.15" font-size="5.25" text-anchor="end" fill="#111111" font-weight="normal" stroke="#111111" stroke-width="0.07">H3K27ac</text>
<line x1="356.80" y1="137.35" x2="360.60" y2="137.35" stroke="#222" stroke-width="0.8"/>
<line x1="312.70" y1="23.00" x2="312.70" y2="49.50" stroke="#b8b8b8" stroke-width="0.9"/>
<line x1="312.70" y1="52.50" x2="312.70" y2="80.50" stroke="#d98595" stroke-width="1.0"/>
<line x1="312.70" y1="83.00" x2="312.70" y2="110.00" stroke="#93b4d0" stroke-width="1.0"/>
<line x1="312.70" y1="112.70" x2="312.70" y2="138.70" stroke="#5a5a5a" stroke-width="1.0"/>
<text x="309.60" y="36.50" font-size="4.2" text-anchor="middle" fill="#5a5a5a" font-weight="normal" transform="rotate(-90 309.6 36.5)">shCD34 control</text>
<text x="304.30" y="66.30" font-size="4.2" text-anchor="middle" fill="#5a5a5a" font-weight="normal" transform="rotate(-90 304.3 66.3)">shCD34</text>
<text x="309.60" y="66.30" font-size="4.2" text-anchor="middle" fill="#5a5a5a" font-weight="normal" transform="rotate(-90 309.6 66.3)">NUP98::KDM5A</text>
<text x="304.30" y="96.00" font-size="4.2" text-anchor="middle" fill="#5a5a5a" font-weight="normal" transform="rotate(-90 304.3 96.0)">shCD34</text>
<text x="309.60" y="96.00" font-size="4.2" text-anchor="middle" fill="#5a5a5a" font-weight="normal" transform="rotate(-90 309.6 96.0)">NUP98::NSD1</text>
<text x="304.30" y="125.70" font-size="4.2" text-anchor="middle" fill="#5a5a5a" font-weight="normal" transform="rotate(-90 304.3 125.69999999999999)">shCD34</text>
<text x="309.60" y="125.70" font-size="4.2" text-anchor="middle" fill="#5a5a5a" font-weight="normal" transform="rotate(-90 309.6 125.69999999999999)">NUP98::HOXA9</text>
<line x1="360.60" y1="27.30" x2="408.10" y2="27.30" stroke="#d8d8d8" stroke-width="0.45"/>
<text x="361.80" y="24.50" font-size="2.8" text-anchor="start" fill="#ababab" font-weight="normal">0 - [20]</text>
<line x1="408.60" y1="27.30" x2="457.40" y2="27.30" stroke="#d8d8d8" stroke-width="0.45"/>
<text x="409.80" y="24.50" font-size="2.8" text-anchor="start" fill="#ababab" font-weight="normal">0 - [20]</text>
<line x1="457.80" y1="27.30" x2="510.90" y2="27.30" stroke="#d8d8d8" stroke-width="0.45"/>
<text x="459.00" y="24.50" font-size="2.8" text-anchor="start" fill="#ababab" font-weight="normal">0 - [20]</text>
<line x1="360.60" y1="33.85" x2="408.10" y2="33.85" stroke="#d8d8d8" stroke-width="0.45"/>
<text x="361.80" y="30.45" font-size="2.8" text-anchor="start" fill="#ababab" font-weight="normal">0 - [20]</text>
<line x1="408.60" y1="33.85" x2="457.40" y2="33.85" stroke="#d8d8d8" stroke-width="0.45"/>
<text x="409.80" y="30.45" font-size="2.8" text-anchor="start" fill="#ababab" font-weight="normal">0 - [20]</text>
<line x1="457.80" y1="33.85" x2="510.90" y2="33.85" stroke="#d8d8d8" stroke-width="0.45"/>
<text x="459.00" y="30.45" font-size="2.8" text-anchor="start" fill="#ababab" font-weight="normal">0 - [20]</text>
<line x1="361.60" y1="37.10" x2="407.10" y2="37.10" stroke="#d8d8d8" stroke-width="0.5" stroke-dasharray="0.6 1.2"/>
<line x1="409.60" y1="37.10" x2="456.40" y2="37.10" stroke="#d8d8d8" stroke-width="0.5" stroke-dasharray="0.6 1.2"/>
<line x1="458.80" y1="37.10" x2="509.90" y2="37.10" stroke="#d8d8d8" stroke-width="0.5" stroke-dasharray="0.6 1.2"/>
<line x1="360.60" y1="44.45" x2="408.10" y2="44.45" stroke="#d8d8d8" stroke-width="0.45"/>
<text x="361.80" y="42.35" font-size="2.8" text-anchor="start" fill="#ababab" font-weight="normal">0 - [40]</text>
<line x1="408.60" y1="44.45" x2="457.40" y2="44.45" stroke="#d8d8d8" stroke-width="0.45"/>
<text x="409.80" y="42.35" font-size="2.8" text-anchor="start" fill="#ababab" font-weight="normal">0 - [40]</text>
<line x1="457.80" y1="44.45" x2="510.90" y2="44.45" stroke="#d8d8d8" stroke-width="0.45"/>
<text x="459.00" y="42.35" font-size="2.8" text-anchor="start" fill="#ababab" font-weight="normal">0 - [40]</text>
<line x1="360.60" y1="50.70" x2="408.10" y2="50.70" stroke="#d8d8d8" stroke-width="0.45"/>
<text x="361.80" y="48.30" font-size="2.8" text-anchor="start" fill="#ababab" font-weight="normal">0 - [20]</text>
<line x1="408.60" y1="50.70" x2="457.40" y2="50.70" stroke="#d8d8d8" stroke-width="0.45"/>
<text x="409.80" y="48.30" font-size="2.8" text-anchor="start" fill="#ababab" font-weight="normal">0 - [20]</text>
<line x1="457.80" y1="50.70" x2="510.90" y2="50.70" stroke="#d8d8d8" stroke-width="0.45"/>
<text x="459.00" y="48.30" font-size="2.8" text-anchor="start" fill="#ababab" font-weight="normal">0 - [20]</text>
<line x1="360.60" y1="57.05" x2="408.10" y2="57.05" stroke="#eba6b3" stroke-width="0.45"/>
<text x="361.80" y="54.25" font-size="2.8" text-anchor="start" fill="#ababab" font-weight="normal">0 - [20]</text>
<line x1="408.60" y1="57.05" x2="457.40" y2="57.05" stroke="#eba6b3" stroke-width="0.45"/>
<text x="409.80" y="54.25" font-size="2.8" text-anchor="start" fill="#ababab" font-weight="normal">0 - [20]</text>
<line x1="457.80" y1="57.05" x2="510.90" y2="57.05" stroke="#eba6b3" stroke-width="0.45"/>
<text x="459.00" y="54.25" font-size="2.8" text-anchor="start" fill="#ababab" font-weight="normal">0 - [20]</text>
<line x1="360.60" y1="63.60" x2="408.10" y2="63.60" stroke="#eba6b3" stroke-width="0.45"/>
<text x="361.80" y="60.20" font-size="2.8" text-anchor="start" fill="#ababab" font-weight="normal">0 - [20]</text>
<line x1="408.60" y1="63.60" x2="457.40" y2="63.60" stroke="#eba6b3" stroke-width="0.45"/>
<text x="409.80" y="60.20" font-size="2.8" text-anchor="start" fill="#ababab" font-weight="normal">0 - [20]</text>
<line x1="457.80" y1="63.60" x2="510.90" y2="63.60" stroke="#eba6b3" stroke-width="0.45"/>
<text x="459.00" y="60.20" font-size="2.8" text-anchor="start" fill="#ababab" font-weight="normal">0 - [20]</text>
<line x1="361.60" y1="66.85" x2="407.10" y2="66.85" stroke="#eba6b3" stroke-width="0.5" stroke-dasharray="0.6 1.2"/>
<line x1="409.60" y1="66.85" x2="456.40" y2="66.85" stroke="#eba6b3" stroke-width="0.5" stroke-dasharray="0.6 1.2"/>
<line x1="458.80" y1="66.85" x2="509.90" y2="66.85" stroke="#eba6b3" stroke-width="0.5" stroke-dasharray="0.6 1.2"/>
<line x1="360.60" y1="74.20" x2="408.10" y2="74.20" stroke="#eba6b3" stroke-width="0.45"/>
<text x="361.80" y="72.10" font-size="2.8" text-anchor="start" fill="#ababab" font-weight="normal">0 - [40]</text>
<line x1="408.60" y1="74.20" x2="457.40" y2="74.20" stroke="#eba6b3" stroke-width="0.45"/>
<text x="409.80" y="72.10" font-size="2.8" text-anchor="start" fill="#ababab" font-weight="normal">0 - [40]</text>
<line x1="457.80" y1="74.20" x2="510.90" y2="74.20" stroke="#eba6b3" stroke-width="0.45"/>
<text x="459.00" y="72.10" font-size="2.8" text-anchor="start" fill="#ababab" font-weight="normal">0 - [40]</text>
<line x1="360.60" y1="80.45" x2="408.10" y2="80.45" stroke="#eba6b3" stroke-width="0.45"/>
<text x="361.80" y="78.05" font-size="2.8" text-anchor="start" fill="#ababab" font-weight="normal">0 - [20]</text>
<line x1="408.60" y1="80.45" x2="457.40" y2="80.45" stroke="#eba6b3" stroke-width="0.45"/>
<text x="409.80" y="78.05" font-size="2.8" text-anchor="start" fill="#ababab" font-weight="normal">0 - [20]</text>
<line x1="457.80" y1="80.45" x2="510.90" y2="80.45" stroke="#eba6b3" stroke-width="0.45"/>
<text x="459.00" y="78.05" font-size="2.8" text-anchor="start" fill="#ababab" font-weight="normal">0 - [20]</text>
<line x1="360.60" y1="86.80" x2="408.10" y2="86.80" stroke="#a9c4dd" stroke-width="0.45"/>
<text x="361.80" y="84.00" font-size="2.8" text-anchor="start" fill="#ababab" font-weight="normal">0 - [20]</text>
<line x1="408.60" y1="86.80" x2="457.40" y2="86.80" stroke="#a9c4dd" stroke-width="0.45"/>
<text x="409.80" y="84.00" font-size="2.8" text-anchor="start" fill="#ababab" font-weight="normal">0 - [20]</text>
<line x1="457.80" y1="86.80" x2="510.90" y2="86.80" stroke="#a9c4dd" stroke-width="0.45"/>
<text x="459.00" y="84.00" font-size="2.8" text-anchor="start" fill="#ababab" font-weight="normal">0 - [20]</text>
<line x1="360.60" y1="93.35" x2="408.10" y2="93.35" stroke="#a9c4dd" stroke-width="0.45"/>
<text x="361.80" y="89.95" font-size="2.8" text-anchor="start" fill="#ababab" font-weight="normal">0 - [20]</text>
<line x1="408.60" y1="93.35" x2="457.40" y2="93.35" stroke="#a9c4dd" stroke-width="0.45"/>
<text x="409.80" y="89.95" font-size="2.8" text-anchor="start" fill="#ababab" font-weight="normal">0 - [20]</text>
<line x1="457.80" y1="93.35" x2="510.90" y2="93.35" stroke="#a9c4dd" stroke-width="0.45"/>
<text x="459.00" y="89.95" font-size="2.8" text-anchor="start" fill="#ababab" font-weight="normal">0 - [20]</text>
<line x1="361.60" y1="96.60" x2="407.10" y2="96.60" stroke="#a9c4dd" stroke-width="0.5" stroke-dasharray="0.6 1.2"/>
<line x1="409.60" y1="96.60" x2="456.40" y2="96.60" stroke="#a9c4dd" stroke-width="0.5" stroke-dasharray="0.6 1.2"/>
<line x1="458.80" y1="96.60" x2="509.90" y2="96.60" stroke="#a9c4dd" stroke-width="0.5" stroke-dasharray="0.6 1.2"/>
<line x1="360.60" y1="103.95" x2="408.10" y2="103.95" stroke="#a9c4dd" stroke-width="0.45"/>
<text x="361.80" y="101.85" font-size="2.8" text-anchor="start" fill="#ababab" font-weight="normal">0 - [40]</text>
<line x1="408.60" y1="103.95" x2="457.40" y2="103.95" stroke="#a9c4dd" stroke-width="0.45"/>
<text x="409.80" y="101.85" font-size="2.8" text-anchor="start" fill="#ababab" font-weight="normal">0 - [40]</text>
<line x1="457.80" y1="103.95" x2="510.90" y2="103.95" stroke="#a9c4dd" stroke-width="0.45"/>
<text x="459.00" y="101.85" font-size="2.8" text-anchor="start" fill="#ababab" font-weight="normal">0 - [40]</text>
<line x1="360.60" y1="110.20" x2="408.10" y2="110.20" stroke="#a9c4dd" stroke-width="0.45"/>
<text x="361.80" y="107.80" font-size="2.8" text-anchor="start" fill="#ababab" font-weight="normal">0 - [20]</text>
<line x1="408.60" y1="110.20" x2="457.40" y2="110.20" stroke="#a9c4dd" stroke-width="0.45"/>
<text x="409.80" y="107.80" font-size="2.8" text-anchor="start" fill="#ababab" font-weight="normal">0 - [20]</text>
<line x1="457.80" y1="110.20" x2="510.90" y2="110.20" stroke="#a9c4dd" stroke-width="0.45"/>
<text x="459.00" y="107.80" font-size="2.8" text-anchor="start" fill="#ababab" font-weight="normal">0 - [20]</text>
<line x1="360.60" y1="116.55" x2="408.10" y2="116.55" stroke="#c8c8c8" stroke-width="0.45"/>
<text x="361.80" y="113.75" font-size="2.8" text-anchor="start" fill="#ababab" font-weight="normal">0 - [20]</text>
<line x1="408.60" y1="116.55" x2="457.40" y2="116.55" stroke="#c8c8c8" stroke-width="0.45"/>
<text x="409.80" y="113.75" font-size="2.8" text-anchor="start" fill="#ababab" font-weight="normal">0 - [20]</text>
<line x1="457.80" y1="116.55" x2="510.90" y2="116.55" stroke="#c8c8c8" stroke-width="0.45"/>
<text x="459.00" y="113.75" font-size="2.8" text-anchor="start" fill="#ababab" font-weight="normal">0 - [20]</text>
<line x1="360.60" y1="123.10" x2="408.10" y2="123.10" stroke="#c8c8c8" stroke-width="0.45"/>
<text x="361.80" y="119.70" font-size="2.8" text-anchor="start" fill="#ababab" font-weight="normal">0 - [20]</text>
<line x1="408.60" y1="123.10" x2="457.40" y2="123.10" stroke="#c8c8c8" stroke-width="0.45"/>
<text x="409.80" y="119.70" font-size="2.8" text-anchor="start" fill="#ababab" font-weight="normal">0 - [20]</text>
<line x1="457.80" y1="123.10" x2="510.90" y2="123.10" stroke="#c8c8c8" stroke-width="0.45"/>
<text x="459.00" y="119.70" font-size="2.8" text-anchor="start" fill="#ababab" font-weight="normal">0 - [20]</text>
<line x1="361.60" y1="126.35" x2="407.10" y2="126.35" stroke="#c8c8c8" stroke-width="0.5" stroke-dasharray="0.6 1.2"/>
<line x1="409.60" y1="126.35" x2="456.40" y2="126.35" stroke="#c8c8c8" stroke-width="0.5" stroke-dasharray="0.6 1.2"/>
<line x1="458.80" y1="126.35" x2="509.90" y2="126.35" stroke="#c8c8c8" stroke-width="0.5" stroke-dasharray="0.6 1.2"/>
<line x1="360.60" y1="133.70" x2="408.10" y2="133.70" stroke="#c8c8c8" stroke-width="0.45"/>
<text x="361.80" y="131.60" font-size="2.8" text-anchor="start" fill="#ababab" font-weight="normal">0 - [40]</text>
<line x1="408.60" y1="133.70" x2="457.40" y2="133.70" stroke="#c8c8c8" stroke-width="0.45"/>
<text x="409.80" y="131.60" font-size="2.8" text-anchor="start" fill="#ababab" font-weight="normal">0 - [40]</text>
<line x1="457.80" y1="133.70" x2="510.90" y2="133.70" stroke="#c8c8c8" stroke-width="0.45"/>
<text x="459.00" y="131.60" font-size="2.8" text-anchor="start" fill="#ababab" font-weight="normal">0 - [40]</text>
<line x1="360.60" y1="139.95" x2="408.10" y2="139.95" stroke="#c8c8c8" stroke-width="0.45"/>
<text x="361.80" y="137.55" font-size="2.8" text-anchor="start" fill="#ababab" font-weight="normal">0 - [20]</text>
<line x1="408.60" y1="139.95" x2="457.40" y2="139.95" stroke="#c8c8c8" stroke-width="0.45"/>
<text x="409.80" y="137.55" font-size="2.8" text-anchor="start" fill="#ababab" font-weight="normal">0 - [20]</text>
<line x1="457.80" y1="139.95" x2="510.90" y2="139.95" stroke="#c8c8c8" stroke-width="0.45"/>
<text x="459.00" y="137.55" font-size="2.8" text-anchor="start" fill="#ababab" font-weight="normal">0 - [20]</text>
<path d="M361.4 63.6l.5 0l.5-.4l.5 .4l.5-.3l.5 .3l1 0l.5-.2l1 .2l.5-.3l.5 .3l.5 0l.5-.2l.5 .2l1-3.2l.5-.7l1 3.5l.5 .4l.5-.4l.5 .4l.5 0l.5-.9l.5-.4l.5 .9l1 .4l4.5 0l.5-.4l.5 .4l.5 0l.5-.2l.5 .2l1 0l.5-.3l.5 .3l1 0l.5-.3l.5 .3l1.5 0l.5-.2l.5 .2l.5-.2l.5 .2l4.5 0l1-.4l.5 .4l1 0l.5-.3l.5-.6l1 .9l.5-.3l.5 .3l1-.5l.5 .1l.5-.2l.5-1.8l.5 .8l.5 1.3l.5-.2l.5-1.2l.5 .5l.5 1.2l1.4 0z" fill="#c41230"/>
<path d="M409.4 63.6l1.5 0l.5-.4l1 .4l1.5 0l1.5-.6l1-1.6l.5 .4l.5 .8l1 1l5 0l.5-.3l.5 .3l1 0l.5-.2l.5 .2l.5-.3l.5 .3l1-.5l.5 .5l5 0l1.5-1.7l1 1.1l.5 .4l.5-.1l1-1.1l.5 .2l1 1l.5 .2l1 0l.5-.3l1-.1l.5 .4l.5-.4l.5 .4l2 0l.5-.5l.5 .3l.5 .2l1 0l1-1.1l.5 .4l.5 .7l2.5 0l.5-.4l.5 .4l.5 0l.5-.2l.5 .2l.7 0z" fill="#c41230"/>
<path d="M458.6 63.6l3 0l.5-.4l.5 .4l3.5 0l.5-.5l.5-.3l1 .8l2.5 0l.5-.2l.5 .2l.5 0l.5-.5l.5 .5l.5-.3l.5 .3l.5 0l.5-.3l.5 .3l.5 0l1-.5l.5 .5l.5 0l1-.3l1 .1l.5 .2l3 0l.5-.3l.5 .3l.5 0l.5-.5l.5 .2l.5 .3l1.5 0l.5-.3l.5 .3l.5-.2l.5 .2l4 0l.5-.3l.5 .3l.5 0l.5-.2l.5 .2l.5 0l.5-.5l.5-.2l1 .7l6 0l.5-.2l.5 .2l.5 0l.5-.2l.5 .2l.5-.5l.5 .5l1.5 0z" fill="#c41230"/>
<rect x="368.50" y="66.48" width="3.50" height="0.75" fill="#c41230" stroke="none" stroke-width="1"/>
<rect x="403.00" y="66.48" width="3.00" height="0.75" fill="#c41230" stroke="none" stroke-width="1"/>
<rect x="434.50" y="66.48" width="4.50" height="0.75" fill="#c41230" stroke="none" stroke-width="1"/>
<path d="M361.4 74.2l4 0l.5-.3l1 .3l1 0l.5-.1l.5 .1l1-3.1l.5-.7l1 3.5l.5 .3l1 0l.5-.3l.5 .3l4.5 0l.5-.2l.5 .2l2.5 0l.5-.3l.5 .3l1 0l.5-.2l.5 .2l.5 0l1-.3l.5 .3l4.5 0l.5-.3l.5 .3l5 0l.5-.2l.5 .2l3.5 0l.5-.4l.5 .4l1.5-3.5l.5 .7l1 2.5l.5 .3l.9 0z" fill="#c41230"/>
<path d="M409.4 74.2l3.5 0l.5-.3l.5 .3l.5-.3l.5 .1l.5-.9l1-2.8l.5 .8l1 2.8l.5 .3l6.5 0l.5-.2l.5 .2l2 0l.5-.3l.5 .3l.5-.3l.5-.1l1 .4l.5 0l.5-.3l.5 .3l.5-.3l.5 .3l1 0l.5-.2l.5 .2l1.5-1.2l.5-.1l.5 .3l.5-.5l1 1.3l.5 .2l1 0l.5-.4l.5 .4l.5-.3l.5 .3l1 0l.5-.2l.5 .2l3.5 0l.5-.3l.5 .3l1.5 0l.5-.4l.5 .4l2.5 0l.5-.2l.5 .2l1.2 0z" fill="#c41230"/>
<path d="M458.6 74.2l2.5 0l.5-.3l.5 .3l5.5 0l.5-.3l.5 .3l.5 0l.5-.3l.5 .3l.5 0l.5-.3l.5 .3l.5 0l.5-.4l.5 .4l.5 0l.5-.3l.5 .3l4 0l.5-.2l1 0l.5 .2l2 0l.5-.3l.5 .3l.5-.3l.5 0l.5 .3l.5-.2l1 .2l.5-.4l.5 .4l.5 0l.5-.2l.5 .2l1.5 0l.5-.3l.5 .3l2 0l1-.3l.5 .3l.5-.3l.5 .3l4 0l1-.3l.5 .3l1 0l.5-.3l.5 .3l2.5 0l.5-.3l.5 .3l3 0z" fill="#c41230"/>
<path d="M361.4 80.5l3 0l.5-.2l.5 .2l3 0l.5-.4l.5 .1l.5-.2l.5-.5l.5-.8l.5-.1l.5 .2l1 1l1 .7l1-1.1l.5 .3l.5 .8l1 0l.5-.4l.5 0l.5 .4l.5-.4l.5 0l.5 .4l.5-.5l.5 .2l.5-.1l.5-.4l.5 .3l.5 .5l1.5 0l.5-.4l.5 .4l1 0l.5-.3l.5 .3l.5-.5l.5 .5l.5 0l.5-.5l1 .1l.5-.5l.5 .3l.5 .6l1 0l.5-.5l.5 .5l.5-.5l.5 .5l.5-.3l.5 .3l.5-.4l.5 .4l1 0l1-1l.5 .4l.5 .6l1.5 0l2-1.7l.5 .4l.5 .2l.5-.6l1 1.3l.5 .4l.5-.5l.4 .5z" fill="#c41230"/>
<path d="M409.4 80.5l2.5 0l.5-.4l.5 .1l.5 .3l1.5 0l1.5-2.7l.5 .6l1 1.9l.5-.2l.5 .4l2 0l.5-.3l.5 .3l1.5 0l.5-.5l.5 .1l.5-.4l.5 .3l.5 .5l.5-.5l.5 .5l3 0l.5-.4l.5 .4l.5-.4l.5 .4l.5 0l2-1l.5 .2l.5-.4l.5 .5l.5 .1l.5-.4l.5-.1l1 .8l.5 .3l.5-.3l.5 .3l.5-.4l.5 .4l1-.9l.5 .3l.5 .6l2.5 0l.5-.3l.5 .3l1.5 0l1-2.2l.5 .7l.5 1.2l.5 0l.5 .3l1 0l.5-.4l.5 .4l2 0l.5-.5l.5 .5l.7 0z" fill="#c41230"/>
<path d="M458.6 80.5l0-.3l.5 0l.5 .3l1.5 0l.5-.5l.5 .5l1-.2l.5 .2l1.5 0l.5-.5l.5-.3l1 .8l1 0l.5-.4l1 .4l4 0l1-.5l.5 .5l1.5 0l.5-.5l.5 .5l1 0l.5-.2l1 .2l.5-.4l.5 .4l.5 0l.5-.5l.5 .5l4.5 0l.5-.2l.5 .2l2 0l.5-.5l.5-.2l.5 .2l.5 0l.5 .5l.5 0l.5-.3l.5 0l.5 .3l.5 0l.5-.2l.5 .2l2 0l.5-.3l.5 .3l2.5 0l.5-.3l.5 .3l.5 0l.5-.3l.5 .3l.5-.3l.5 .3l2.5 0l.5-.3l.5 .3l.5 0l.5-.5l.5 .5z" fill="#c41230"/>
<path d="M361.4 93.3l.5 0l.5-.3l.5 .3l.5 0l.5-.4l.5 .4l.5 0l.5-.7l.5 .2l.5 .5l1 0l.5-.5l.5-.2l.5 .2l.5 .5l.5 0l.5-.7l.5 .7l1.5 0l.5-.3l.5 .3l2 0l.5-.4l.5-.1l.5 .5l.5 0l.5-.5l.5-.2l.5 .7l.5-.7l.5 .7l3 0l1-.4l.5 .4l.5 0l.5-.6l1 .6l2 0l.5-.3l.5 .3l.5 0l.5-.4l.5 .4l.5-.3l.5 .3l4.5 0l.5-.3l.5 .3l3.5 0l.5-.7l.5 .7l2 0l.5-.7l.5 .7l.5-.4l.5 .4l.5-.5l.5 .5l.4 0z" fill="#2b65a3"/>
<path d="M409.4 93.3l.5 0l.5-.7l.5 .7l4.5 0l.5-.3l.5 .3l.5-.6l.5 .6l.5-.6l.5-.1l.5 .7l.5-.6l.5 .6l.5-.6l.5-.1l.5 .7l.5 0l.5-.4l.5 .4l.5 0l.5-.7l.5 .7l.5 0l.5-.6l.5 .6l1.5 0l.5-.3l.5 .3l3.5 0l1-.7l.5 .7l.5 0l.5-.6l.5-.1l.5 .7l6.5 0l.5-.6l.5 .6l3.5 0l.5-.3l.5 0l.5 .3l.5-.3l.5 .3l.5-.4l.5 .4l.5 0l.5-.7l.5 .7l3 0l.5-.5l.5 .5l1.2 0z" fill="#2b65a3"/>
<path d="M458.6 93.3l.5-.3l.5 .3l1.5 0l.5-.4l.5 .1l.5 .3l.5-.3l.5 .3l2 0l.5-.6l.5 .6l.5 0l.5-.7l.5 .7l.5-.2l.5 .2l6 0l.5-.3l.5 .3l.5-.3l.5 0l.5 .3l1 0l.5-.3l.5 .3l1 0l.5-.6l.5 .2l.5 .4l3 0l.5-.4l.5 .4l.5-.7l.5 .7l6 0l.5-.7l.5 .7l1-.5l.5 .5l.5 0l.5-.4l.5 .4l1.5 0l.5-.6l.5 .6l1.5 0l.5-.4l.5 .4l2 0l.5-.7l.5 .7l1.5 0l.5-.6l.5 .6l1 0l1-.7l.5 .7z" fill="#2b65a3"/>
<rect x="362.00" y="96.23" width="3.00" height="0.75" fill="#2b65a3" stroke="none" stroke-width="1"/>
<rect x="368.00" y="96.23" width="2.00" height="0.75" fill="#2b65a3" stroke="none" stroke-width="1"/>
<rect x="375.00" y="96.23" width="3.00" height="0.75" fill="#2b65a3" stroke="none" stroke-width="1"/>
<rect x="383.00" y="96.23" width="3.00" height="0.75" fill="#2b65a3" stroke="none" stroke-width="1"/>
<rect x="391.00" y="96.23" width="2.00" height="0.75" fill="#2b65a3" stroke="none" stroke-width="1"/>
<rect x="398.00" y="96.23" width="2.00" height="0.75" fill="#2b65a3" stroke="none" stroke-width="1"/>
<rect x="404.00" y="96.23" width="2.00" height="0.75" fill="#2b65a3" stroke="none" stroke-width="1"/>
<rect x="410.00" y="96.23" width="2.00" height="0.75" fill="#2b65a3" stroke="none" stroke-width="1"/>
<rect x="418.00" y="96.23" width="2.00" height="0.75" fill="#2b65a3" stroke="none" stroke-width="1"/>
<rect x="426.00" y="96.23" width="2.00" height="0.75" fill="#2b65a3" stroke="none" stroke-width="1"/>
<rect x="433.00" y="96.23" width="3.00" height="0.75" fill="#2b65a3" stroke="none" stroke-width="1"/>
<rect x="441.00" y="96.23" width="3.00" height="0.75" fill="#2b65a3" stroke="none" stroke-width="1"/>
<rect x="450.00" y="96.23" width="2.00" height="0.75" fill="#2b65a3" stroke="none" stroke-width="1"/>
<rect x="462.00" y="96.23" width="2.00" height="0.75" fill="#2b65a3" stroke="none" stroke-width="1"/>
<rect x="471.00" y="96.23" width="2.00" height="0.75" fill="#2b65a3" stroke="none" stroke-width="1"/>
<rect x="482.00" y="96.23" width="2.00" height="0.75" fill="#2b65a3" stroke="none" stroke-width="1"/>
<rect x="493.00" y="96.23" width="2.00" height="0.75" fill="#2b65a3" stroke="none" stroke-width="1"/>
<rect x="503.00" y="96.23" width="2.00" height="0.75" fill="#2b65a3" stroke="none" stroke-width="1"/>
<path d="M361.4 104.0l1 0l.5-.2l.5 .2l.5-.2l.5 .2l3 0l.5-.3l.5 .3l.5 0l1-2.8l.5-.6l1 3l.5 .4l.5-.2l.5 .2l.5-.3l.5 .3l.5 0l.5-.3l.5 .3l6.5 0l.5-.2l.5 .2l.5-.3l.5 .3l3.5 0l1-.3l1 .3l2.5 0l.5-.2l1 .2l.5-.3l.5 .3l1.5 0l.5-.2l.5 .2l4 0l.5-.2l1 .2l.5-.2l.5-.7l1-2.1l.5 .6l1 2.1l.5 .3l.9 0z" fill="#2b65a3"/>
<path d="M409.4 104.0l1-.2l1 .2l.5-.2l.5 .2l.5-.3l.5 0l.5 .3l.5-.3l.5 .3l1.5-4.1l.5 .9l1 2.9l.5 .3l5.5 0l.5-.3l.5 .3l1 0l.5-.2l.5 .2l1.5 0l.5-.2l1.5 .2l.5-.3l.5 .3l1.5 0l1-.3l1 .3l6 0l.5-.3l.5 .3l2 0l.5-.3l.5 .3l4.5 0l.5-.3l.5 .3l2 0l.5-.3l.5 .3l3.2 0z" fill="#2b65a3"/>
<path d="M458.6 104.0l5.5 0l.5-.3l.5 .3l1 0l.5-.3l.5 .3l1-.3l.5 .3l.5-.2l.5 .2l1 0l.5-.2l1 .2l.5-.2l.5 .2l2.5 0l1-.3l.5 .3l1.5 0l.5-.3l.5 .3l1.5 0l.5-.2l1 .2l.5-.3l.5 0l.5 .3l.5-.2l.5 .2l.5-.2l.5 .2l2 0l.5-.2l.5 .2l.5 0l.5-.3l.5 .3l2.5 0l.5-.2l.5 .2l4.5 0l.5-.3l.5 .3l.5 0l.5-.3l.5 .3l2 0l.5-.3l.5 .3l.5 0l.5-.3l.5 .3l1.5 0l.5-.2l.5 .2l1 0l.5-.3l.5 .1l0 .2z" fill="#2b65a3"/>
<path d="M361.4 110.2l4 0l.5-.3l.5 .3l2 0l1.5-1.2l.5 .2l1 .9l.5 .1l2 0l.5-.5l.5 .5l1-.9l.5 .3l.5 .6l2 0l.5-.3l.5 .3l2.5 0l.5-.4l.5 .4l3 0l.5-.3l.5 .3l2 0l.5-.3l.5 .3l3 0l.5-.3l.5 .3l1.5 0l.5-.6l1 .6l.5 0l1-.7l1 .5l.5-.1l.5 .3l1 0l.5-.3l1-1l1 1.3l2.9 0z" fill="#2b65a3"/>
<path d="M409.4 110.2l.5-.6l.5 .6l.5-.5l.5 .1l.5 .4l.5-.3l1 .3l.5-.2l.5 .2l.5 0l1.5-1.7l.5 .4l1 1.3l1 0l.5-.5l.5 .2l.5 .3l3 0l1-.3l.5 .3l3 0l.5-.4l.5 .4l2 0l.5-.4l.5 .4l1 0l2-.8l1 0l.5 .5l.5 .3l3 0l.5-.2l1.5 .2l.5-.5l.5 .5l1 0l.5-.4l.5 .4l.5 0l.5-.5l.5 .5l1 0l.5-.3l.5-.6l.5-1.1l.5 .7l.5 1l.5 .3l.5 0l.5-.3l.5 .3l1.5 0l.5-.5l.5 .5l.5 0l.5-.3l.5 .3l.7 0z" fill="#2b65a3"/>
<path d="M458.6 110.2l0-.4l.5-.1l.5 .5l.5-.2l.5 .2l.5-.5l.5 .5l3 0l.5-.4l.5 .4l4 0l.5-.5l.5 0l.5-.2l1 .7l5.5 0l1-.6l.5 .6l.5-.5l.5 .5l1.5 0l.5-.3l.5 .3l.5 0l.5-.4l.5 .4l.5-.4l.5 .4l6.5 0l.5-.3l.5 .3l4 0l.5-.4l.5 .4l1.5 0l.5-.4l.5 .4l4 0l1-.4l.5 .4l3 0l.5-.3l.5 .3l.5 0z" fill="#2b65a3"/>
<path d="M361.4 123.1l2.5 0l.5-.2l.5 .2l.5-.1l.5 .1l1 0l.5-.3l.5 .3l6 0l1-2l.5 .7l.5 1.1l.5 .2l1 0l.5-.2l.5 .2l5 0l.5-.2l.5 .2l.5-.2l.5 .2l6 0l.5-.2l.5 .2l.5-.1l.5 .1l4 0l.5-.2l.5 .2l.5-.2l.5 .2l3.5 0l1-1.3l.5 .5l.5 .7l.5-.1l.5 .2l1.4 0z" fill="#111111"/>
<path d="M409.4 123.1l.5 0l.5-.3l.5 .3l4 0l1.5-1.4l1.5 1.3l1 .1l.5-.2l.5 .2l1.5 0l.5-.2l.5 .2l4 0l.5-.3l.5 .3l.5-.2l.5 .2l.5-.3l.5 0l.5 .3l.5-.2l.5 .2l.5-.3l.5 .3l6 0l1-.2l.5 .2l2.5 0l.5-.3l1 .3l3 0l.5-.2l.5 .2l.5 0l.5-.2l.5 .2l.5-.2l.5 .2l4.5 0l.5-.3l.5 .3l1.2 0z" fill="#111111"/>
<path d="M458.6 123.1l1.5 0l.5-.1l.5 .1l2-.9l.5-.1l1 .3l.5-.4l.5 1.1l1 0l.5-.4l.5 .4l.5 0l.5-.8l.5-1.3l.5 1.5l.5 .6l1-2.7l.5 1.5l.5-1.4l.5 1.7l.5-.9l.5-2.4l1 4.2l1-.1l.5 .1l.5-.3l.5 .3l1 0l.5-.2l.5-.1l.5 .3l.5-.3l1-1.9l.5-.6l1.5 2.8l1.5 0l.5-.3l1-2.3l.5-.8l1.5 3.4l.5 0l.5-.4l.5 .4l2.5 0l1-.5l.5-.5l.5-.1l2 .9l.5-.1l.5 .3l.5 0l.5-.3l.5 .3l2 0l1-.3l.5 .3l1.5-2.6l.5 .5l.5 .9l.5 0l1-1.3l1 .1l.5-.3l2 2.5l.5 .2z" fill="#111111"/>
<rect x="370.00" y="125.98" width="2.00" height="0.75" fill="#111111" stroke="none" stroke-width="1"/>
<rect x="375.00" y="125.98" width="2.00" height="0.75" fill="#111111" stroke="none" stroke-width="1"/>
<rect x="383.00" y="125.98" width="3.00" height="0.75" fill="#111111" stroke="none" stroke-width="1"/>
<rect x="391.00" y="125.98" width="2.00" height="0.75" fill="#111111" stroke="none" stroke-width="1"/>
<rect x="403.00" y="125.98" width="2.00" height="0.75" fill="#111111" stroke="none" stroke-width="1"/>
<rect x="415.00" y="125.98" width="2.00" height="0.75" fill="#111111" stroke="none" stroke-width="1"/>
<rect x="459.00" y="125.98" width="39.00" height="0.75" fill="#111111" stroke="none" stroke-width="1"/>
<rect x="503.00" y="125.98" width="7.00" height="0.75" fill="#111111" stroke="none" stroke-width="1"/>
<path d="M361.4 133.7l4 0l.5-.1l.5 .1l1.5 0l.5-.2l.5 .2l1.5-4l.5 .8l1 2.9l.5 .2l.5-.1l.5 .2l6.5 0l.5-.2l.5 .2l1.5 0l.5-.3l1 .3l2 0l.5-.1l.5 .1l4.5 0l.5-.3l.5 .3l2 0l.5-.1l.5 .1l1 0l.5-.3l.5 .3l5.5 0l1.5-3.4l.5 .8l1 2.4l.5 .2l.9 0z" fill="#111111"/>
<path d="M409.4 133.7l.5-.2l.5 .2l4 0l.5-.3l.5-.8l1-2.9l.5 .8l1 2.9l.5 0l.5 .3l2 0l.5-.1l.5 .1l.5-.3l.5 .3l.5-.1l.5 .1l3 0l.5-.2l.5 .2l2.5 0l.5-.3l.5 .3l4 0l.5-.3l.5 .3l5 0l.5-.2l.5 .2l1 0l.5-.2l.5 .2l6 0l.5-.3l2 .3l.5-.1l1 .1l.5-.3l.5 .3l.5-.2l.7 .2z" fill="#111111"/>
<path d="M458.6 133.7l1 0l.5-.1l1 .1l.5-.3l.5 .3l1 0l.5-.3l.5 .1l1-1.9l.5-.5l1.5 2.6l.5 0l1-.4l1.5-1.1l1-.5l.5-.7l.5 1.2l.5 .1l1-1.5l.5 .5l1 .2l1.5 2.2l1-.1l.5 .1l2.5 0l.5-.2l1-2.1l.5-.7l1.5 3l.5 0l.5-.3l.5 .3l.5-.2l.5-.7l.5-.4l1 1.3l.5-.3l.5 .3l2.5 0l.5-.1l.5 .1l.5-.2l.5 .2l2 0l.5-.2l.5 .2l3 0l.5-.2l.5 .2l.5-.2l.5 .2l1.5 0l1.5-2.5l.5 .6l.5 .3l.5 1.3l.5 .3l1 0l.5-.2l.5 .2l.5-.2l.5 .2l.5 0z" fill="#111111"/>
<path d="M361.4 139.9l4 0l.5-.3l.5 .3l.5-.3l.5 0l.5 .3l.5 0l.5-.1l.5 .1l.5-.2l.5 .2l1 0l.5-.3l1 .3l.5-.1l1 .1l1-.4l.5-.6l.5 .3l.5 .7l1.5 0l.5-.2l.5 .2l.5-.3l.5 0l.5 .3l.5-.2l.5 .2l1 0l.5-.3l.5 .3l.5-.2l.5 0l.5 .2l1.5 0l.5-.2l.5 .2l.5 0l.5-.3l.5 .3l.5-.1l.5 .1l.5 0l.5-.2l.5 .2l.5-.3l.5 .3l.5-.1l1 .1l.5-.2l.5 .2l1 0l.5-.3l.5 .3l2 0l.5-.1l.5 .1l2.5 0l.5-.1l.5 .1l.5-.3l.5 .3l1-.1l.5 .1l.9 0z" fill="#111111"/>
<path d="M458.6 139.9l0-.3l.5 .3l1 0l1-.3l.5-.6l.5 .1l1 .5l1-.1l1 .2l2-.3l1-.4l.5 .1l1 .1l1 .7l.5-.1l.5 .1l.5 0l.5-.4l.5 0l.5 .2l.5-.1l1.5 .3l1 0l.5-.3l.5 .1l1-.5l1 .7l1.5-.6l.5-.4l1 .3l.5-.3l.5 0l1.5 .8l1-.1l.5-.5l.5-.1l.5 .4l.5-.2l1 .1l.5-.5l.5 .5l.5 0l.5-.4l1 .5l1-.3l1 .1l1 .4l1-.5l1 .4l1-.1l1-.3l2 .8l.5 0l.5-.1l.5 .1l1.5-.4l2 .3l.5-.2l.5 .3l1-.5l.5 .2l1-.7l.5 .2l0 .8z" fill="#111111"/>
<rect x="360.60" y="21.80" width="47.50" height="118.80" fill="none" stroke="#1a1a1a" stroke-width="1.25"/>
<rect x="408.60" y="21.80" width="48.80" height="118.80" fill="none" stroke="#1a1a1a" stroke-width="1.25"/>
<rect x="457.80" y="21.80" width="53.10" height="118.80" fill="none" stroke="#1a1a1a" stroke-width="1.25"/>
<line x1="362.00" y1="144.40" x2="407.00" y2="144.40" stroke="#5a8cc4" stroke-width="0.45"/>
<rect x="362.00" y="143.43" width="2.22" height="1.93" fill="#1f4f8f" stroke="none" stroke-width="1"/>
<polyline points="366.0,143.6 365.2,144.4 366.0,145.2" fill="none" stroke="#3a70b0" stroke-width="0.35"/>
<rect x="372.36" y="143.56" width="0.71" height="1.67" fill="#1f4f8f" stroke="none" stroke-width="1"/>
<polyline points="374.9,143.6 374.1,144.4 374.9,145.2" fill="none" stroke="#3a70b0" stroke-width="0.35"/>
<rect x="377.94" y="143.73" width="1.21" height="1.34" fill="#1f4f8f" stroke="none" stroke-width="1"/>
<polyline points="385.5,143.6 384.7,144.4 385.5,145.2" fill="none" stroke="#3a70b0" stroke-width="0.35"/>
<polyline points="388.2,143.6 387.4,144.4 388.2,145.2" fill="none" stroke="#3a70b0" stroke-width="0.35"/>
<polyline points="393.0,143.6 392.2,144.4 393.0,145.2" fill="none" stroke="#3a70b0" stroke-width="0.35"/>
<rect x="396.16" y="143.52" width="2.74" height="1.75" fill="#1f4f8f" stroke="none" stroke-width="1"/>
<polyline points="400.7,143.6 399.9,144.4 400.7,145.2" fill="none" stroke="#3a70b0" stroke-width="0.35"/>
<rect x="402.70" y="143.32" width="0.78" height="2.17" fill="#1f4f8f" stroke="none" stroke-width="1"/>
<rect x="404.08" y="143.65" width="2.42" height="1.51" fill="#1f4f8f" stroke="none" stroke-width="1"/>
<line x1="412.00" y1="144.40" x2="456.00" y2="144.40" stroke="#5a8cc4" stroke-width="0.45"/>
<polyline points="413.2,143.6 412.4,144.4 413.2,145.2" fill="none" stroke="#3a70b0" stroke-width="0.35"/>
<polyline points="414.8,143.6 414.0,144.4 414.8,145.2" fill="none" stroke="#3a70b0" stroke-width="0.35"/>
<polyline points="416.7,143.6 415.9,144.4 416.7,145.2" fill="none" stroke="#3a70b0" stroke-width="0.35"/>
<rect x="420.12" y="143.59" width="2.81" height="1.62" fill="#1f4f8f" stroke="none" stroke-width="1"/>
<rect x="431.68" y="143.46" width="2.57" height="1.88" fill="#1f4f8f" stroke="none" stroke-width="1"/>
<rect x="443.36" y="143.59" width="2.80" height="1.61" fill="#1f4f8f" stroke="none" stroke-width="1"/>
<rect x="450.54" y="143.42" width="2.52" height="1.97" fill="#1f4f8f" stroke="none" stroke-width="1"/>
<rect x="453.66" y="143.48" width="0.81" height="1.83" fill="#1f4f8f" stroke="none" stroke-width="1"/>
<line x1="459.00" y1="144.40" x2="510.00" y2="144.40" stroke="#5a8cc4" stroke-width="0.45"/>
<rect x="463.62" y="143.54" width="2.00" height="1.72" fill="#1f4f8f" stroke="none" stroke-width="1"/>
<polyline points="467.4,143.6 466.6,144.4 467.4,145.2" fill="none" stroke="#3a70b0" stroke-width="0.35"/>
<rect x="468.40" y="143.52" width="1.19" height="1.76" fill="#1f4f8f" stroke="none" stroke-width="1"/>
<rect x="470.18" y="143.39" width="0.89" height="2.01" fill="#1f4f8f" stroke="none" stroke-width="1"/>
<rect x="471.67" y="143.38" width="1.83" height="2.03" fill="#1f4f8f" stroke="none" stroke-width="1"/>
<rect x="474.10" y="143.36" width="0.83" height="2.08" fill="#1f4f8f" stroke="none" stroke-width="1"/>
<polyline points="480.4,143.6 479.6,144.4 480.4,145.2" fill="none" stroke="#3a70b0" stroke-width="0.35"/>
<rect x="483.36" y="143.42" width="1.96" height="1.96" fill="#1f4f8f" stroke="none" stroke-width="1"/>
<rect x="485.92" y="143.51" width="0.89" height="1.77" fill="#1f4f8f" stroke="none" stroke-width="1"/>
<polyline points="491.7,143.6 490.9,144.4 491.7,145.2" fill="none" stroke="#3a70b0" stroke-width="0.35"/>
<rect x="492.60" y="143.65" width="2.49" height="1.50" fill="#1f4f8f" stroke="none" stroke-width="1"/>
<rect x="495.69" y="143.73" width="0.92" height="1.34" fill="#1f4f8f" stroke="none" stroke-width="1"/>
<rect x="497.21" y="143.34" width="1.96" height="2.12" fill="#1f4f8f" stroke="none" stroke-width="1"/>
<rect x="499.77" y="143.61" width="1.51" height="1.59" fill="#1f4f8f" stroke="none" stroke-width="1"/>
<rect x="501.88" y="143.48" width="2.41" height="1.85" fill="#1f4f8f" stroke="none" stroke-width="1"/>
<rect x="504.89" y="143.36" width="0.94" height="2.08" fill="#1f4f8f" stroke="none" stroke-width="1"/>
<text x="369.80" y="151.50" font-size="4.1" text-anchor="middle" fill="#111111" font-weight="normal" font-style="italic">RUNX1</text>
<text x="425.50" y="151.50" font-size="4.1" text-anchor="middle" fill="#111111" font-weight="normal" font-style="italic">GFI1B</text>
<text x="466.30" y="151.50" font-size="4.1" text-anchor="middle" fill="#111111" font-weight="normal" font-style="italic">HOXC9</text>
<text x="506.50" y="151.50" font-size="4.1" text-anchor="middle" fill="#111111" font-weight="normal" font-style="italic">HOXC4</text>
<circle cx="423.60" cy="177.00" r="15.20" fill="none" stroke="#c8515f" stroke-width="0.8"/>
<circle cx="412.50" cy="194.10" r="15.00" fill="none" stroke="#4f7fae" stroke-width="0.8"/>
<circle cx="432.40" cy="194.10" r="15.00" fill="none" stroke="#2a2a2a" stroke-width="0.8"/>
<text x="424.00" y="172.00" font-size="4.4" text-anchor="middle" fill="#111111" font-weight="normal">5180</text>
<text x="416.00" y="184.90" font-size="4.4" text-anchor="middle" fill="#111111" font-weight="normal">79</text>
<text x="430.80" y="184.90" font-size="4.4" text-anchor="middle" fill="#111111" font-weight="normal">1274</text>
<text x="423.30" y="190.10" font-size="4.4" text-anchor="middle" fill="#111111" font-weight="normal">97</text>
<text x="408.50" y="197.90" font-size="4.4" text-anchor="middle" fill="#111111" font-weight="normal">85</text>
<text x="423.30" y="197.90" font-size="4.4" text-anchor="middle" fill="#111111" font-weight="normal">18</text>
<text x="436.20" y="197.90" font-size="4.4" text-anchor="middle" fill="#111111" font-weight="normal">684</text>
<polyline points="397.5,165.8 407.7,165.8 423.0,184.0" fill="none" stroke="#2a2a2a" stroke-width="0.7"/>
<circle cx="423.00" cy="184.20" r="0.90" fill="#2a2a2a" stroke="none" stroke-width="1"/>
<polyline points="429.0,171.5 436.2,165.4 451.5,165.4" fill="none" stroke="#2a2a2a" stroke-width="0.7"/>
<polyline points="389.5,187.4 394.7,187.4 405.0,194.0" fill="none" stroke="#2a2a2a" stroke-width="0.7"/>
<polyline points="441.4,191.3 446.6,186.1 451.5,186.1" fill="none" stroke="#2a2a2a" stroke-width="0.7"/>
<text x="335.00" y="168.00" font-size="5.35" text-anchor="start" fill="#111111" font-weight="normal" stroke="#111111" stroke-width="0.07">Commonly bound (97)</text>
<text x="335.00" y="174.40" font-size="5.35" text-anchor="start" fill="#111111" font-weight="normal" stroke="#111111" stroke-width="0.07">eg, <tspan font-style="italic">CDK6</tspan>, <tspan font-style="italic">ETV6</tspan>, <tspan font-style="italic">HOXA7</tspan></text>
<text x="335.00" y="180.70" font-size="5.35" text-anchor="start" fill="#111111" font-weight="normal" stroke="#111111" stroke-width="0.07"><tspan font-style="italic">HOXB2</tspan>, <tspan font-style="italic">HOXB3</tspan>, <tspan font-style="italic">PBX3</tspan></text>
<text x="340.80" y="189.40" font-size="5.35" text-anchor="start" fill="#111111" font-weight="normal" stroke="#111111" stroke-width="0.07">Uniquely bound by</text>
<text x="340.80" y="195.70" font-size="5.35" text-anchor="start" fill="#111111" font-weight="normal" stroke="#111111" stroke-width="0.07">NUP98::NSD1 (85)</text>
<text x="340.80" y="202.30" font-size="5.35" text-anchor="start" fill="#111111" font-weight="normal" stroke="#111111" stroke-width="0.07">eg, <tspan font-style="italic">KDR</tspan>, <tspan font-style="italic">LNX1</tspan></text>
<text x="344.60" y="213.90" font-size="5.35" text-anchor="start" fill="#3f78b0" font-weight="normal" stroke="#3f78b0" stroke-width="0.07">bound by NUP98::NSD1</text>
<text x="430.90" y="160.20" font-size="5.35" text-anchor="start" fill="#d0364c" font-weight="normal" stroke="#d0364c" stroke-width="0.07">bound by NUP98::KDM5A</text>
<text x="509.30" y="167.80" font-size="5.35" text-anchor="end" fill="#111111" font-weight="normal" stroke="#111111" stroke-width="0.07">Uniquely bound by</text>
<text x="509.30" y="174.00" font-size="5.35" text-anchor="end" fill="#111111" font-weight="normal" stroke="#111111" stroke-width="0.07">NUP98::KDM5A (5180)</text>
<text x="509.30" y="179.90" font-size="5.35" text-anchor="end" fill="#111111" font-weight="normal" stroke="#111111" stroke-width="0.07">eg, <tspan font-style="italic">GFI1B</tspan>, <tspan font-style="italic">MEIS2</tspan>, <tspan font-style="italic">JUNB</tspan></text>
<text x="509.30" y="187.90" font-size="5.35" text-anchor="end" fill="#111111" font-weight="normal" stroke="#111111" stroke-width="0.07">Uniquely bound by</text>
<text x="509.30" y="193.80" font-size="5.35" text-anchor="end" fill="#111111" font-weight="normal" stroke="#111111" stroke-width="0.07">NUP98::HOXA9 (684)</text>
<text x="509.30" y="200.70" font-size="5.35" text-anchor="end" fill="#111111" font-weight="normal" stroke="#111111" stroke-width="0.07">eg, <tspan font-style="italic">HOXC4</tspan>, <tspan font-style="italic">IL7R</tspan></text>
<text x="509.30" y="206.90" font-size="5.35" text-anchor="end" fill="#111111" font-weight="normal" stroke="#111111" stroke-width="0.07"><tspan font-style="italic">MAF</tspan>, <tspan font-style="italic">SP1</tspan></text>
<text x="444.20" y="213.90" font-size="5.35" text-anchor="start" fill="#111111" font-weight="normal" stroke="#111111" stroke-width="0.07">bound by NUP98::HOXA9</text>
<text x="5.30" y="234.30" font-size="11.6" text-anchor="start" fill="#111" font-weight="bold">C</text>
<text x="4.70" y="266.50" font-size="5.25" text-anchor="start" fill="#111111" font-weight="normal" stroke="#111111" stroke-width="0.07">St. Jude <tspan font-style="italic">NUP98</tspan>r cases (n = 14)</text>
<circle cx="6.60" cy="270.30" r="0.75" fill="#222" stroke="none" stroke-width="1"/>
<text x="11.00" y="272.10" font-size="5.25" text-anchor="start" fill="#111111" font-weight="normal" stroke="#111111" stroke-width="0.07"><tspan font-style="italic">NUP98::NSD1</tspan> AML (n = 5)</text>
<circle cx="6.60" cy="275.25" r="0.75" fill="#222" stroke="none" stroke-width="1"/>
<text x="11.00" y="277.05" font-size="5.25" text-anchor="start" fill="#111111" font-weight="normal" stroke="#111111" stroke-width="0.07"><tspan font-style="italic">NUP98::KDM5A</tspan> AMKL and ALL (n = 6)</text>
<circle cx="6.60" cy="280.20" r="0.75" fill="#222" stroke="none" stroke-width="1"/>
<text x="11.00" y="282.00" font-size="5.25" text-anchor="start" fill="#111111" font-weight="normal" stroke="#111111" stroke-width="0.07"><tspan font-style="italic">NUP98::RAP1GDS1</tspan>AML (n = 3)</text>
<text x="107.30" y="264.90" font-size="5.25" text-anchor="start" fill="#111111" font-weight="normal" stroke="#111111" stroke-width="0.07">Cell lines</text>
<circle cx="109.20" cy="268.30" r="0.75" fill="#222" stroke="none" stroke-width="1"/>
<text x="113.00" y="270.10" font-size="5.25" text-anchor="start" fill="#111111" font-weight="normal" stroke="#111111" stroke-width="0.07">CHRF-288-11 (NUP98::KDM5A, AMKL)</text>
<circle cx="109.20" cy="273.60" r="0.75" fill="#222" stroke="none" stroke-width="1"/>
<text x="113.00" y="275.40" font-size="5.25" text-anchor="start" fill="#111111" font-weight="normal" stroke="#111111" stroke-width="0.07">ST-1653 (NUP98::KDM5A monocytic PDX)</text>
<polyline points="26.5,286.5 26.5,293.0 146.5,293.0 146.5,286.0" fill="none" stroke="#333" stroke-width="0.7"/>
<text x="9.20" y="304.40" font-size="5.25" text-anchor="start" fill="#111111" font-weight="normal" stroke="#111111" stroke-width="0.07">CUT&amp;RUN (N-terminal NUP98, H3K4me3, H3K27ac, H3K27me3)</text>
<polygon points="24.8,307.8 29.0,307.8 26.9,311.6" fill="#111" stroke="none" stroke-width="1"/>
<text x="9.20" y="322.30" font-size="5.25" text-anchor="start" fill="#111111" font-weight="normal" stroke="#111111" stroke-width="0.07">Quality control</text>
<text x="9.20" y="328.10" font-size="5.25" text-anchor="start" fill="#111111" font-weight="normal" stroke="#111111" stroke-width="0.07">Peak calling (MACS2, SICER)</text>
<line x1="78.00" y1="322.20" x2="93.00" y2="322.20" stroke="#111" stroke-width="0.7"/>
<polygon points="92.0,320.6 95.6,322.2 92.0,323.8" fill="#111" stroke="none" stroke-width="1"/>
<text x="109.60" y="319.20" font-size="5.25" text-anchor="start" fill="#111111" font-weight="normal" stroke="#111111" stroke-width="0.07">Quantitative analysis by PBS</text>
<circle cx="111.60" cy="323.20" r="0.75" fill="#222" stroke="none" stroke-width="1"/>
<text x="115.40" y="325.00" font-size="5.25" text-anchor="start" fill="#111111" font-weight="normal" stroke="#111111" stroke-width="0.07">PCA</text>
<circle cx="111.60" cy="328.50" r="0.75" fill="#222" stroke="none" stroke-width="1"/>
<text x="115.40" y="330.30" font-size="5.25" text-anchor="start" fill="#111111" font-weight="normal" stroke="#111111" stroke-width="0.07">Differential signals by limma</text>
<text x="7.30" y="368.20" font-size="11.3" text-anchor="start" fill="#111" font-weight="bold">D</text>
<text x="43.00" y="376.30" font-size="4.4" text-anchor="middle" fill="#444" font-weight="normal">fusions</text>
<text x="65.00" y="376.30" font-size="4.4" text-anchor="middle" fill="#444" font-weight="normal">clusters</text>
<text x="100.50" y="376.30" font-size="4.4" text-anchor="middle" fill="#444" font-weight="normal">patients</text>
<text x="114.60" y="384.10" font-size="4.25" text-anchor="end" fill="#111111" font-weight="normal">SJAML031570_D2</text>
<text x="114.60" y="389.32" font-size="4.25" text-anchor="end" fill="#111111" font-weight="normal">SJAML031736_D4</text>
<text x="114.60" y="394.54" font-size="4.25" text-anchor="end" fill="#111111" font-weight="normal">SJAML067263_R4</text>
<text x="114.60" y="399.76" font-size="4.25" text-anchor="end" fill="#111111" font-weight="normal">SJAML016570_D4</text>
<text x="114.60" y="404.98" font-size="4.25" text-anchor="end" fill="#111111" font-weight="normal">SJAML016570_R2</text>
<text x="114.60" y="410.20" font-size="4.25" text-anchor="end" fill="#111111" font-weight="normal">SJAML015347_D3</text>
<text x="114.60" y="415.42" font-size="4.25" text-anchor="end" fill="#111111" font-weight="normal">SJAML031434_D4</text>
<text x="114.60" y="420.64" font-size="4.25" text-anchor="end" fill="#111111" font-weight="normal">SJAML031254_D6</text>
<text x="114.60" y="425.86" font-size="4.25" text-anchor="end" fill="#111111" font-weight="normal">SJAML001409_R2</text>
<line x1="55.50" y1="381.00" x2="55.50" y2="401.50" stroke="#d98595" stroke-width="1.3"/>
<line x1="55.50" y1="405.80" x2="55.50" y2="416.50" stroke="#93b4d0" stroke-width="1.3"/>
<line x1="55.50" y1="418.60" x2="55.50" y2="426.60" stroke="#5a5a5a" stroke-width="1.3"/>
<text x="53.80" y="392.80" font-size="4.4" text-anchor="end" fill="#111111" font-weight="normal">NUP98::KDM5A</text>
<text x="53.80" y="412.90" font-size="4.4" text-anchor="end" fill="#111111" font-weight="normal">NUP98::NSD1</text>
<text x="53.80" y="424.60" font-size="4.4" text-anchor="end" fill="#111111" font-weight="normal">NUP98::RAP1GDS1</text>
<line x1="77.60" y1="380.60" x2="77.60" y2="396.00" stroke="#c05a6e" stroke-width="1.0"/>
<line x1="77.60" y1="396.80" x2="77.60" y2="416.60" stroke="#333" stroke-width="1.0"/>
<line x1="77.60" y1="417.40" x2="77.60" y2="427.00" stroke="#333" stroke-width="1.0"/>
<text x="75.50" y="391.00" font-size="4.4" text-anchor="end" fill="#111111" font-weight="normal">AMKL</text>
<text x="75.50" y="407.80" font-size="4.4" text-anchor="end" fill="#111111" font-weight="normal">AML</text>
<text x="68.60" y="420.40" font-size="4.4" text-anchor="middle" fill="#111111" font-weight="normal">HOXB</text>
<text x="66.90" y="426.60" font-size="4.4" text-anchor="middle" fill="#111111" font-weight="normal">immature</text>
<text x="165.50" y="365.40" font-size="6.6" text-anchor="middle" fill="#111111" font-weight="normal" stroke="#111111" stroke-width="0.07" textLength="21.5" lengthAdjust="spacingAndGlyphs">Peak (n)</text>
<text x="118.10" y="376.20" font-size="5.2" text-anchor="middle" fill="#111111" font-weight="normal" stroke="#111111" stroke-width="0.07">0</text>
<line x1="118.10" y1="378.00" x2="118.10" y2="379.60" stroke="#333" stroke-width="0.6"/>
<text x="136.28" y="376.20" font-size="5.2" text-anchor="middle" fill="#111111" font-weight="normal" stroke="#111111" stroke-width="0.07">500</text>
<line x1="136.28" y1="378.00" x2="136.28" y2="379.60" stroke="#333" stroke-width="0.6"/>
<text x="154.46" y="376.20" font-size="5.2" text-anchor="middle" fill="#111111" font-weight="normal" stroke="#111111" stroke-width="0.07">1000</text>
<line x1="154.46" y1="378.00" x2="154.46" y2="379.60" stroke="#333" stroke-width="0.6"/>
<text x="172.64" y="376.20" font-size="5.2" text-anchor="middle" fill="#111111" font-weight="normal" stroke="#111111" stroke-width="0.07">1500</text>
<line x1="172.64" y1="378.00" x2="172.64" y2="379.60" stroke="#333" stroke-width="0.6"/>
<text x="190.82" y="376.20" font-size="5.2" text-anchor="middle" fill="#111111" font-weight="normal" stroke="#111111" stroke-width="0.07">2000</text>
<line x1="190.82" y1="378.00" x2="190.82" y2="379.60" stroke="#333" stroke-width="0.6"/>
<text x="209.00" y="376.20" font-size="5.2" text-anchor="middle" fill="#111111" font-weight="normal" stroke="#111111" stroke-width="0.07">2500</text>
<line x1="209.00" y1="378.00" x2="209.00" y2="379.60" stroke="#333" stroke-width="0.6"/>
<line x1="118.10" y1="379.60" x2="211.00" y2="379.60" stroke="#333" stroke-width="0.6"/>
<line x1="118.10" y1="379.30" x2="118.10" y2="428.00" stroke="#333" stroke-width="0.6"/>
<rect x="118.10" y="381.10" width="16.90" height="3.00" fill="#2ba2d6" stroke="none" stroke-width="1"/>
<rect x="135.00" y="381.10" width="9.60" height="3.00" fill="#d4d4d4" stroke="none" stroke-width="1"/>
<rect x="144.60" y="381.10" width="5.10" height="3.00" fill="#f0a030" stroke="none" stroke-width="1"/>
<rect x="149.70" y="381.10" width="1.80" height="3.00" fill="#2a2a50" stroke="none" stroke-width="1"/>
<rect x="118.10" y="386.32" width="29.90" height="3.00" fill="#2ba2d6" stroke="none" stroke-width="1"/>
<rect x="148.00" y="386.32" width="15.00" height="3.00" fill="#d4d4d4" stroke="none" stroke-width="1"/>
<rect x="163.00" y="386.32" width="14.00" height="3.00" fill="#f0a030" stroke="none" stroke-width="1"/>
<rect x="177.00" y="386.32" width="5.70" height="3.00" fill="#2a2a50" stroke="none" stroke-width="1"/>
<rect x="118.10" y="391.54" width="25.40" height="3.00" fill="#2ba2d6" stroke="none" stroke-width="1"/>
<rect x="143.50" y="391.54" width="13.80" height="3.00" fill="#d4d4d4" stroke="none" stroke-width="1"/>
<rect x="157.30" y="391.54" width="6.90" height="3.00" fill="#f0a030" stroke="none" stroke-width="1"/>
<rect x="164.20" y="391.54" width="3.50" height="3.00" fill="#2a2a50" stroke="none" stroke-width="1"/>
<rect x="118.10" y="396.76" width="17.30" height="3.00" fill="#2ba2d6" stroke="none" stroke-width="1"/>
<rect x="135.40" y="396.76" width="10.40" height="3.00" fill="#d4d4d4" stroke="none" stroke-width="1"/>
<rect x="145.80" y="396.76" width="4.60" height="3.00" fill="#f0a030" stroke="none" stroke-width="1"/>
<rect x="150.40" y="396.76" width="3.00" height="3.00" fill="#2a2a50" stroke="none" stroke-width="1"/>
<rect x="118.10" y="401.98" width="24.20" height="3.00" fill="#2ba2d6" stroke="none" stroke-width="1"/>
<rect x="142.30" y="401.98" width="9.20" height="3.00" fill="#d4d4d4" stroke="none" stroke-width="1"/>
<rect x="151.50" y="401.98" width="9.70" height="3.00" fill="#f0a030" stroke="none" stroke-width="1"/>
<rect x="161.20" y="401.98" width="4.20" height="3.00" fill="#2a2a50" stroke="none" stroke-width="1"/>
<rect x="118.10" y="407.20" width="40.40" height="3.00" fill="#2ba2d6" stroke="none" stroke-width="1"/>
<rect x="158.50" y="407.20" width="24.20" height="3.00" fill="#d4d4d4" stroke="none" stroke-width="1"/>
<rect x="182.70" y="407.20" width="9.30" height="3.00" fill="#f0a030" stroke="none" stroke-width="1"/>
<rect x="192.00" y="407.20" width="6.90" height="3.00" fill="#2a2a50" stroke="none" stroke-width="1"/>
<rect x="118.10" y="412.42" width="24.90" height="3.00" fill="#2ba2d6" stroke="none" stroke-width="1"/>
<rect x="143.00" y="412.42" width="15.50" height="3.00" fill="#d4d4d4" stroke="none" stroke-width="1"/>
<rect x="158.50" y="412.42" width="12.70" height="3.00" fill="#f0a030" stroke="none" stroke-width="1"/>
<rect x="171.20" y="412.42" width="4.10" height="3.00" fill="#2a2a50" stroke="none" stroke-width="1"/>
<rect x="118.10" y="417.64" width="20.70" height="3.00" fill="#2ba2d6" stroke="none" stroke-width="1"/>
<rect x="138.80" y="417.64" width="16.20" height="3.00" fill="#d4d4d4" stroke="none" stroke-width="1"/>
<rect x="155.00" y="417.64" width="3.50" height="3.00" fill="#f0a030" stroke="none" stroke-width="1"/>
<rect x="158.50" y="417.64" width="2.70" height="3.00" fill="#2a2a50" stroke="none" stroke-width="1"/>
<rect x="118.10" y="422.86" width="3.40" height="3.00" fill="#2ba2d6" stroke="none" stroke-width="1"/>
<circle cx="125.70" cy="424.36" r="1.00" fill="#f0a030" stroke="none" stroke-width="1"/>
<circle cx="37.80" cy="433.80" r="1.00" fill="#2ba2d6" stroke="none" stroke-width="1"/>
<text x="40.00" y="435.30" font-size="4.3" text-anchor="start" fill="#444" font-weight="normal">intron</text>
<circle cx="57.70" cy="433.80" r="1.00" fill="#cfcfcf" stroke="none" stroke-width="1"/>
<text x="59.90" y="435.30" font-size="4.3" text-anchor="start" fill="#444" font-weight="normal">intergenic</text>
<circle cx="83.60" cy="433.80" r="1.00" fill="#f0a030" stroke="none" stroke-width="1"/>
<text x="85.80" y="435.30" font-size="4.3" text-anchor="start" fill="#444" font-weight="normal">promoter-TSS</text>
<circle cx="120.00" cy="433.80" r="1.00" fill="#c9c9c9" stroke="none" stroke-width="1"/>
<text x="122.20" y="435.30" font-size="4.3" text-anchor="start" fill="#444" font-weight="normal">exon</text>
<circle cx="136.00" cy="433.80" r="1.00" fill="#c8102e" stroke="none" stroke-width="1"/>
<text x="138.20" y="435.30" font-size="4.3" text-anchor="start" fill="#444" font-weight="normal">TSS</text>
<circle cx="151.90" cy="433.80" r="1.00" fill="#6d6d9d" stroke="none" stroke-width="1"/>
<text x="154.10" y="435.30" font-size="4.3" text-anchor="start" fill="#444" font-weight="normal">non-coding</text>
<circle cx="181.20" cy="433.80" r="1.00" fill="#1a2a60" stroke="none" stroke-width="1"/>
<text x="183.40" y="435.30" font-size="4.3" text-anchor="start" fill="#444" font-weight="normal">5′UTR</text>
<circle cx="199.40" cy="433.80" r="1.00" fill="#8ecbe6" stroke="none" stroke-width="1"/>
<text x="201.60" y="435.30" font-size="4.3" text-anchor="start" fill="#444" font-weight="normal">3′UTR</text>
<circle cx="87.60" cy="458.50" r="17.20" fill="none" stroke="#333" stroke-width="0.85"/>
<circle cx="111.40" cy="458.60" r="18.90" fill="none" stroke="#333" stroke-width="0.85"/>
<circle cx="115.50" cy="464.80" r="7.60" fill="#e57f90" stroke="#b84a5a" stroke-width="0.7"/>
<text x="82.00" y="458.90" font-size="4.3" text-anchor="middle" fill="#111111" font-weight="normal">912</text>
<text x="98.20" y="459.30" font-size="4.3" text-anchor="middle" fill="#111111" font-weight="normal">65</text>
<text x="114.00" y="451.20" font-size="4.3" text-anchor="middle" fill="#111111" font-weight="normal">1497</text>
<text x="115.50" y="467.80" font-size="4.3" text-anchor="middle" fill="#111111" font-weight="normal">21</text>
<line x1="123.10" y1="465.00" x2="134.40" y2="459.20" stroke="#222" stroke-width="0.6"/>
<text x="68.00" y="457.00" font-size="4.3" text-anchor="end" fill="#111111" font-weight="normal">NUP98::NSD1 and ::RAP1GDS1</text>
<text x="68.00" y="462.00" font-size="4.3" text-anchor="end" fill="#111111" font-weight="normal">target genes (977 genes)</text>
<text x="133.20" y="446.30" font-size="4.3" text-anchor="start" fill="#111111" font-weight="normal">NUP98::KDM5A target genes</text>
<text x="133.20" y="451.00" font-size="4.3" text-anchor="start" fill="#111111" font-weight="normal">(1563 genes)</text>
<text x="135.40" y="459.80" font-size="4.3" text-anchor="start" fill="#111111" font-weight="normal">NUP98::KDM5A AMKL-specific</text>
<text x="135.40" y="465.20" font-size="4.3" text-anchor="start" fill="#111111" font-weight="normal">target genes (21 genes)</text>
<text x="135.40" y="470.50" font-size="4.3" text-anchor="start" fill="#111111" font-weight="normal">eg, <tspan font-style="italic">MEIS2</tspan>, <tspan font-style="italic">MECOM</tspan>, <tspan font-style="italic">FLI1</tspan>, <tspan font-style="italic">ETV6</tspan></text>
<text x="230.00" y="234.30" font-size="11.3" text-anchor="start" fill="#111" font-weight="bold">F</text>
<line x1="259.20" y1="250.60" x2="259.20" y2="323.80" stroke="#111" stroke-width="1.0"/>
<line x1="259.20" y1="323.80" x2="337.50" y2="323.80" stroke="#111" stroke-width="1.0"/>
<line x1="257.60" y1="253.50" x2="259.20" y2="253.50" stroke="#222" stroke-width="0.7"/>
<text x="256.80" y="255.10" font-size="4.8" text-anchor="end" fill="#111111" font-weight="normal">100</text>
<line x1="257.60" y1="271.30" x2="259.20" y2="271.30" stroke="#222" stroke-width="0.7"/>
<text x="256.80" y="272.90" font-size="4.8" text-anchor="end" fill="#111111" font-weight="normal">50</text>
<line x1="257.60" y1="289.00" x2="259.20" y2="289.00" stroke="#222" stroke-width="0.7"/>
<text x="256.80" y="290.60" font-size="4.8" text-anchor="end" fill="#111111" font-weight="normal">0</text>
<line x1="257.60" y1="306.90" x2="259.20" y2="306.90" stroke="#222" stroke-width="0.7"/>
<text x="256.80" y="308.50" font-size="4.8" text-anchor="end" fill="#111111" font-weight="normal">−50</text>
<line x1="267.30" y1="323.80" x2="267.30" y2="325.40" stroke="#222" stroke-width="0.7"/>
<text x="267.30" y="334.80" font-size="4.8" text-anchor="middle" fill="#111111" font-weight="normal">−100</text>
<line x1="280.40" y1="323.80" x2="280.40" y2="325.40" stroke="#222" stroke-width="0.7"/>
<text x="280.40" y="334.80" font-size="4.8" text-anchor="middle" fill="#111111" font-weight="normal">−50</text>
<line x1="293.30" y1="323.80" x2="293.30" y2="325.40" stroke="#222" stroke-width="0.7"/>
<text x="293.30" y="334.80" font-size="4.8" text-anchor="middle" fill="#111111" font-weight="normal">0</text>
<line x1="306.20" y1="323.80" x2="306.20" y2="325.40" stroke="#222" stroke-width="0.7"/>
<text x="306.20" y="334.80" font-size="4.8" text-anchor="middle" fill="#111111" font-weight="normal">50</text>
<line x1="319.20" y1="323.80" x2="319.20" y2="325.40" stroke="#222" stroke-width="0.7"/>
<text x="319.20" y="334.80" font-size="4.8" text-anchor="middle" fill="#111111" font-weight="normal">100</text>
<line x1="331.70" y1="323.80" x2="331.70" y2="325.40" stroke="#222" stroke-width="0.7"/>
<text x="331.70" y="334.80" font-size="4.8" text-anchor="middle" fill="#111111" font-weight="normal">150</text>
<text x="295.80" y="245.50" font-size="4.8" text-anchor="middle" fill="#111111" font-weight="normal">H3K27ac</text>
<text x="240.20" y="286.60" font-size="6.6" text-anchor="middle" fill="#111111" font-weight="normal" transform="rotate(-90 240.2 286.6)" stroke="#111111" stroke-width="0.07" textLength="81.7" lengthAdjust="spacingAndGlyphs">Principal component 2 (15.4%)</text>
<text x="298.40" y="345.30" font-size="6.6" text-anchor="middle" fill="#111111" font-weight="normal" stroke="#111111" stroke-width="0.07" textLength="80.8" lengthAdjust="spacingAndGlyphs">Principal component 1 (38.6%)</text>
<polygon points="261.5,279.6 263.1,282.5 259.9,282.5" fill="#4a92c0" stroke="none" stroke-width="1"/>
<circle cx="262.10" cy="293.80" r="1.45" fill="#173f5a" stroke="none" stroke-width="1"/>
<polygon points="272.3,295.0 273.9,297.9 270.7,297.9" fill="#c89350" stroke="none" stroke-width="1"/>
<circle cx="271.30" cy="300.60" r="1.45" fill="none" stroke="#a8a0b8" stroke-width="0.6"/>
<circle cx="276.20" cy="300.00" r="1.45" fill="#173f5a" stroke="none" stroke-width="1"/>
<polygon points="282.3,286.8 283.9,289.7 280.7,289.7" fill="#c89350" stroke="none" stroke-width="1"/>
<polygon points="304.4,254.6 306.0,257.5 302.8,257.5" fill="#9b1b30" stroke="none" stroke-width="1"/>
<polygon points="302.4,265.1 304.0,268.0 300.8,268.0" fill="#9b1b30" stroke="none" stroke-width="1"/>
<polygon points="321.3,252.4 322.9,255.3 319.7,255.3" fill="#9b1b30" stroke="none" stroke-width="1"/>
<circle cx="308.70" cy="285.90" r="1.45" fill="#173f5a" stroke="none" stroke-width="1"/>
<circle cx="322.40" cy="320.40" r="0.90" fill="#173f5a" stroke="none" stroke-width="1"/>
<circle cx="330.60" cy="320.80" r="0.90" fill="#173f5a" stroke="none" stroke-width="1"/>
<line x1="373.10" y1="251.20" x2="373.10" y2="323.30" stroke="#111" stroke-width="1.0"/>
<line x1="373.10" y1="323.30" x2="448.50" y2="323.30" stroke="#111" stroke-width="1.0"/>
<line x1="371.50" y1="253.10" x2="373.10" y2="253.10" stroke="#222" stroke-width="0.7"/>
<text x="370.70" y="254.70" font-size="4.8" text-anchor="end" fill="#111111" font-weight="normal">100</text>
<line x1="371.50" y1="269.40" x2="373.10" y2="269.40" stroke="#222" stroke-width="0.7"/>
<text x="370.70" y="271.00" font-size="4.8" text-anchor="end" fill="#111111" font-weight="normal">50</text>
<line x1="371.50" y1="285.40" x2="373.10" y2="285.40" stroke="#222" stroke-width="0.7"/>
<text x="370.70" y="287.00" font-size="4.8" text-anchor="end" fill="#111111" font-weight="normal">0</text>
<line x1="371.50" y1="301.20" x2="373.10" y2="301.20" stroke="#222" stroke-width="0.7"/>
<text x="370.70" y="302.80" font-size="4.8" text-anchor="end" fill="#111111" font-weight="normal">−50</text>
<line x1="371.50" y1="318.10" x2="373.10" y2="318.10" stroke="#222" stroke-width="0.7"/>
<text x="370.70" y="319.70" font-size="4.8" text-anchor="end" fill="#111111" font-weight="normal">−100</text>
<line x1="378.30" y1="323.30" x2="378.30" y2="324.90" stroke="#222" stroke-width="0.7"/>
<text x="378.30" y="334.80" font-size="4.8" text-anchor="middle" fill="#111111" font-weight="normal">−100</text>
<line x1="390.80" y1="323.30" x2="390.80" y2="324.90" stroke="#222" stroke-width="0.7"/>
<text x="390.80" y="334.80" font-size="4.8" text-anchor="middle" fill="#111111" font-weight="normal">−50</text>
<line x1="403.80" y1="323.30" x2="403.80" y2="324.90" stroke="#222" stroke-width="0.7"/>
<text x="403.80" y="334.80" font-size="4.8" text-anchor="middle" fill="#111111" font-weight="normal">0</text>
<line x1="417.10" y1="323.30" x2="417.10" y2="324.90" stroke="#222" stroke-width="0.7"/>
<text x="417.10" y="334.80" font-size="4.8" text-anchor="middle" fill="#111111" font-weight="normal">50</text>
<line x1="430.80" y1="323.30" x2="430.80" y2="324.90" stroke="#222" stroke-width="0.7"/>
<text x="430.80" y="334.80" font-size="4.8" text-anchor="middle" fill="#111111" font-weight="normal">100</text>
<line x1="443.70" y1="323.30" x2="443.70" y2="324.90" stroke="#222" stroke-width="0.7"/>
<text x="443.70" y="334.80" font-size="4.8" text-anchor="middle" fill="#111111" font-weight="normal">150</text>
<text x="408.00" y="245.50" font-size="4.8" text-anchor="middle" fill="#111111" font-weight="normal">H3K27me3</text>
<text x="350.60" y="286.40" font-size="6.6" text-anchor="middle" fill="#111111" font-weight="normal" transform="rotate(-90 350.6 286.4)" stroke="#111111" stroke-width="0.07" textLength="81.4" lengthAdjust="spacingAndGlyphs">Principal component 2 (17.7%)</text>
<text x="412.00" y="345.30" font-size="6.6" text-anchor="middle" fill="#111111" font-weight="normal" stroke="#111111" stroke-width="0.07" textLength="80.8" lengthAdjust="spacingAndGlyphs">Principal component 1 (23.1%)</text>
<circle cx="409.00" cy="254.40" r="1.45" fill="#173f5a" stroke="none" stroke-width="1"/>
<circle cx="415.80" cy="256.60" r="1.45" fill="#173f5a" stroke="none" stroke-width="1"/>
<circle cx="417.70" cy="255.40" r="1.45" fill="#173f5a" stroke="none" stroke-width="1"/>
<circle cx="404.60" cy="271.00" r="1.45" fill="#3a6a98" stroke="none" stroke-width="1"/>
<polygon points="390.8,287.9 392.4,290.8 389.2,290.8" fill="#9b1b30" stroke="none" stroke-width="1"/>
<polygon points="389.6,289.9 391.2,292.8 388.0,292.8" fill="#9b1b30" stroke="none" stroke-width="1"/>
<polygon points="395.0,291.4 396.6,294.3 393.4,294.3" fill="#9b1b30" stroke="none" stroke-width="1"/>
<polygon points="384.0,291.4 385.6,294.3 382.4,294.3" fill="#c89350" stroke="none" stroke-width="1"/>
<polygon points="375.8,297.1 377.4,300.0 374.2,300.0" fill="#c8a880" stroke="none" stroke-width="1"/>
<polygon points="396.5,296.6 398.1,299.5 394.9,299.5" fill="#3a6a98" stroke="none" stroke-width="1"/>
<circle cx="425.40" cy="300.80" r="1.45" fill="#173f5a" stroke="none" stroke-width="1"/>
<circle cx="444.60" cy="320.00" r="1.45" fill="none" stroke="#a8a0b8" stroke-width="0.6"/>
<text x="450.00" y="255.20" font-size="4.8" text-anchor="start" fill="#111111" font-weight="normal">Fusions</text>
<circle cx="453.20" cy="260.50" r="1.20" fill="none" stroke="#666" stroke-width="0.6"/>
<text x="458.80" y="262.10" font-size="4.8" text-anchor="start" fill="#111111" font-weight="normal">NUP98::NSD1</text>
<polygon points="453.2,267.3 454.5,269.7 451.9,269.7" fill="none" stroke="#666" stroke-width="0.6"/>
<text x="458.80" y="270.10" font-size="4.8" text-anchor="start" fill="#111111" font-weight="normal">NUP98::KDM5A</text>
<circle cx="453.20" cy="276.50" r="1.50" fill="none" stroke="#666" stroke-width="0.6"/>
<text x="458.80" y="278.10" font-size="4.8" text-anchor="start" fill="#111111" font-weight="normal">NUP98::RAP1GDS1</text>
<text x="450.00" y="286.50" font-size="4.8" text-anchor="start" fill="#111111" font-weight="normal">Transcriptional clusters</text>
<circle cx="453.80" cy="292.00" r="1.80" fill="#173f5a" stroke="none" stroke-width="1"/>
<text x="458.80" y="293.60" font-size="4.8" text-anchor="start" fill="#111111" font-weight="normal">HOXB</text>
<circle cx="453.80" cy="300.50" r="1.80" fill="#9b1b30" stroke="none" stroke-width="1"/>
<text x="458.80" y="302.10" font-size="4.8" text-anchor="start" fill="#111111" font-weight="normal">AMKL</text>
<circle cx="453.80" cy="308.90" r="1.80" fill="#c89350" stroke="none" stroke-width="1"/>
<text x="458.80" y="310.50" font-size="4.8" text-anchor="start" fill="#111111" font-weight="normal">HOXA</text>
<circle cx="453.80" cy="317.70" r="1.80" fill="#a8a0b8" stroke="none" stroke-width="1"/>
<text x="458.80" y="319.30" font-size="4.8" text-anchor="start" fill="#111111" font-weight="normal">immature</text>
<circle cx="453.80" cy="326.20" r="1.80" fill="#4a92c0" stroke="none" stroke-width="1"/>
<text x="458.80" y="327.80" font-size="4.8" text-anchor="start" fill="#111111" font-weight="normal">TLX-ALL</text>
<text x="233.60" y="367.60" font-size="11.3" text-anchor="start" fill="#111" font-weight="bold">G</text>
<line x1="258.70" y1="391.20" x2="258.70" y2="451.20" stroke="#111" stroke-width="1.0"/>
<line x1="258.70" y1="451.20" x2="346.30" y2="451.20" stroke="#111" stroke-width="1.0"/>
<line x1="257.10" y1="396.30" x2="258.70" y2="396.30" stroke="#222" stroke-width="0.7"/>
<text x="256.30" y="397.90" font-size="4.8" text-anchor="end" fill="#111111" font-weight="normal">12</text>
<line x1="257.10" y1="406.60" x2="258.70" y2="406.60" stroke="#222" stroke-width="0.7"/>
<text x="256.30" y="408.20" font-size="4.8" text-anchor="end" fill="#111111" font-weight="normal">10</text>
<line x1="257.10" y1="417.00" x2="258.70" y2="417.00" stroke="#222" stroke-width="0.7"/>
<text x="256.30" y="418.60" font-size="4.8" text-anchor="end" fill="#111111" font-weight="normal">8</text>
<line x1="257.10" y1="427.50" x2="258.70" y2="427.50" stroke="#222" stroke-width="0.7"/>
<text x="256.30" y="429.10" font-size="4.8" text-anchor="end" fill="#111111" font-weight="normal">6</text>
<line x1="257.10" y1="438.00" x2="258.70" y2="438.00" stroke="#222" stroke-width="0.7"/>
<text x="256.30" y="439.60" font-size="4.8" text-anchor="end" fill="#111111" font-weight="normal">4</text>
<line x1="257.10" y1="448.00" x2="258.70" y2="448.00" stroke="#222" stroke-width="0.7"/>
<text x="256.30" y="449.60" font-size="4.8" text-anchor="end" fill="#111111" font-weight="normal">2</text>
<line x1="263.10" y1="451.20" x2="263.10" y2="452.80" stroke="#222" stroke-width="0.7"/>
<text x="263.10" y="462.30" font-size="4.8" text-anchor="middle" fill="#111111" font-weight="normal">−1</text>
<line x1="282.80" y1="451.20" x2="282.80" y2="452.80" stroke="#222" stroke-width="0.7"/>
<line x1="302.90" y1="451.20" x2="302.90" y2="452.80" stroke="#222" stroke-width="0.7"/>
<text x="302.90" y="462.30" font-size="4.8" text-anchor="middle" fill="#111111" font-weight="normal">0</text>
<line x1="323.60" y1="451.20" x2="323.60" y2="452.80" stroke="#222" stroke-width="0.7"/>
<line x1="344.10" y1="451.20" x2="344.10" y2="452.80" stroke="#222" stroke-width="0.7"/>
<text x="344.10" y="462.30" font-size="4.8" text-anchor="middle" fill="#111111" font-weight="normal">1</text>
<text x="302.90" y="379.70" font-size="6.8" text-anchor="middle" fill="#111111" font-weight="normal" stroke="#111111" stroke-width="0.07" textLength="46.6" lengthAdjust="spacingAndGlyphs">H3K27ac signals</text>
<text x="260.80" y="387.80" font-size="4.4" text-anchor="start" fill="#111111" font-weight="normal">non-KDM5A high (n = 10)</text>
<text x="319.40" y="387.80" font-size="4.4" text-anchor="start" fill="#111111" font-weight="normal">KDM5A high (n = 6)</text>
<text x="243.30" y="421.90" font-size="6.6" text-anchor="middle" fill="#111111" font-weight="normal" transform="rotate(-90 243.3 421.9)" stroke="#111111" stroke-width="0.07" textLength="66" lengthAdjust="spacingAndGlyphs">−log10 adjusted <tspan font-style="italic">P</tspan> values</text>
<text x="302.50" y="471.90" font-size="6.6" text-anchor="middle" fill="#111111" font-weight="normal" stroke="#111111" stroke-width="0.07" textLength="57.7" lengthAdjust="spacingAndGlyphs">Fold change of signals</text>
<circle cx="262.60" cy="395.80" r="0.60" fill="#1a5a9a" stroke="none" stroke-width="1"/>
<circle cx="262.60" cy="397.30" r="0.60" fill="#1a5a9a" stroke="none" stroke-width="1"/>
<circle cx="262.60" cy="398.60" r="0.60" fill="#1a5a9a" stroke="none" stroke-width="1"/>
<circle cx="262.80" cy="407.50" r="0.60" fill="#1a5a9a" stroke="none" stroke-width="1"/>
<circle cx="266.80" cy="446.80" r="0.60" fill="#1a5a9a" stroke="none" stroke-width="1"/>
<circle cx="268.40" cy="447.80" r="0.60" fill="#1a5a9a" stroke="none" stroke-width="1"/>
<circle cx="270.40" cy="449.20" r="0.60" fill="#1a5a9a" stroke="none" stroke-width="1"/>
<circle cx="267.50" cy="448.80" r="0.60" fill="#1a5a9a" stroke="none" stroke-width="1"/>
<circle cx="344.00" cy="395.50" r="0.70" fill="#c41230" stroke="none" stroke-width="1"/>
<circle cx="343.20" cy="419.60" r="0.70" fill="#c41230" stroke="none" stroke-width="1"/>
<circle cx="342.60" cy="426.00" r="0.70" fill="#c41230" stroke="none" stroke-width="1"/>
<circle cx="343.20" cy="427.60" r="0.70" fill="#c41230" stroke="none" stroke-width="1"/>
<circle cx="342.90" cy="428.60" r="0.70" fill="#c41230" stroke="none" stroke-width="1"/>
<line x1="386.30" y1="392.50" x2="386.30" y2="450.00" stroke="#111" stroke-width="1.0"/>
<line x1="386.30" y1="450.00" x2="473.00" y2="450.00" stroke="#111" stroke-width="1.0"/>
<line x1="384.70" y1="398.80" x2="386.30" y2="398.80" stroke="#222" stroke-width="0.7"/>
<text x="383.90" y="400.40" font-size="4.8" text-anchor="end" fill="#111111" font-weight="normal">10</text>
<line x1="384.70" y1="410.40" x2="386.30" y2="410.40" stroke="#222" stroke-width="0.7"/>
<text x="383.90" y="412.00" font-size="4.8" text-anchor="end" fill="#111111" font-weight="normal">8</text>
<line x1="384.70" y1="422.00" x2="386.30" y2="422.00" stroke="#222" stroke-width="0.7"/>
<text x="383.90" y="423.60" font-size="4.8" text-anchor="end" fill="#111111" font-weight="normal">6</text>
<line x1="384.70" y1="433.70" x2="386.30" y2="433.70" stroke="#222" stroke-width="0.7"/>
<text x="383.90" y="435.30" font-size="4.8" text-anchor="end" fill="#111111" font-weight="normal">4</text>
<line x1="384.70" y1="445.20" x2="386.30" y2="445.20" stroke="#222" stroke-width="0.7"/>
<text x="383.90" y="446.80" font-size="4.8" text-anchor="end" fill="#111111" font-weight="normal">2</text>
<line x1="388.80" y1="450.00" x2="388.80" y2="451.60" stroke="#222" stroke-width="0.7"/>
<text x="388.80" y="462.30" font-size="4.8" text-anchor="middle" fill="#111111" font-weight="normal">−1</text>
<line x1="409.00" y1="450.00" x2="409.00" y2="451.60" stroke="#222" stroke-width="0.7"/>
<line x1="429.30" y1="450.00" x2="429.30" y2="451.60" stroke="#222" stroke-width="0.7"/>
<text x="429.30" y="462.30" font-size="4.8" text-anchor="middle" fill="#111111" font-weight="normal">0</text>
<line x1="449.60" y1="450.00" x2="449.60" y2="451.60" stroke="#222" stroke-width="0.7"/>
<line x1="470.00" y1="450.00" x2="470.00" y2="451.60" stroke="#222" stroke-width="0.7"/>
<text x="470.00" y="462.30" font-size="4.8" text-anchor="middle" fill="#111111" font-weight="normal">1</text>
<text x="383.80" y="380.40" font-size="6.8" text-anchor="start" fill="#111111" font-weight="normal" stroke="#111111" stroke-width="0.07" textLength="118" lengthAdjust="spacingAndGlyphs">H3K27ac signals among <tspan font-style="italic">NUP98::KDM5A</tspan></text>
<text x="389.50" y="389.00" font-size="4.33" text-anchor="start" fill="#111111" font-weight="normal">non-AMKL high (n = 2)</text>
<text x="447.00" y="389.00" font-size="4.37" text-anchor="start" fill="#111111" font-weight="normal">AMKL high (n = 317)</text>
<text x="370.80" y="421.90" font-size="6.6" text-anchor="middle" fill="#111111" font-weight="normal" transform="rotate(-90 370.8 421.9)" stroke="#111111" stroke-width="0.07" textLength="66" lengthAdjust="spacingAndGlyphs">−log10 adjusted <tspan font-style="italic">P</tspan> values</text>
<text x="429.50" y="471.90" font-size="6.6" text-anchor="middle" fill="#111111" font-weight="normal" stroke="#111111" stroke-width="0.07" textLength="57.7" lengthAdjust="spacingAndGlyphs">Fold change of signals</text>
<circle cx="389.50" cy="416.30" r="0.60" fill="#111" stroke="none" stroke-width="1"/>
<circle cx="393.60" cy="442.50" r="0.60" fill="#111" stroke="none" stroke-width="1"/>
<circle cx="452.50" cy="440.50" r="0.70" fill="#c41230" stroke="none" stroke-width="1"/>
<circle cx="457.00" cy="448.00" r="0.70" fill="#c41230" stroke="none" stroke-width="1"/>
<polygon points="470.0,394.8 470.3,415.0 470.0,422.0 469.0,428.0 467.5,436.0 466.5,442.0 466.2,448.5 463.5,449.0 461.0,448.5 463.0,444.0 465.0,437.0 466.5,430.0 468.2,420.0 468.8,415.0 469.0,395.0" fill="#c41230" stroke="none" stroke-width="1"/>
<circle cx="463.81" cy="438.06" r="0.55" fill="#c41230" stroke="none" stroke-width="1"/>
<circle cx="461.77" cy="443.06" r="0.55" fill="#c41230" stroke="none" stroke-width="1"/>
<circle cx="462.31" cy="441.46" r="0.55" fill="#c41230" stroke="none" stroke-width="1"/>
<circle cx="468.83" cy="420.84" r="0.55" fill="#c41230" stroke="none" stroke-width="1"/>
<circle cx="461.60" cy="447.36" r="0.55" fill="#c41230" stroke="none" stroke-width="1"/>
<circle cx="463.87" cy="446.13" r="0.55" fill="#c41230" stroke="none" stroke-width="1"/>
<circle cx="466.20" cy="433.60" r="0.55" fill="#c41230" stroke="none" stroke-width="1"/>
<circle cx="464.87" cy="435.77" r="0.55" fill="#c41230" stroke="none" stroke-width="1"/>
<circle cx="469.20" cy="420.38" r="0.55" fill="#c41230" stroke="none" stroke-width="1"/>
<circle cx="466.22" cy="428.10" r="0.55" fill="#c41230" stroke="none" stroke-width="1"/>
<circle cx="464.54" cy="442.21" r="0.55" fill="#c41230" stroke="none" stroke-width="1"/>
<circle cx="464.42" cy="443.12" r="0.55" fill="#c41230" stroke="none" stroke-width="1"/>
<circle cx="465.57" cy="437.91" r="0.55" fill="#c41230" stroke="none" stroke-width="1"/>
<circle cx="468.61" cy="420.05" r="0.55" fill="#c41230" stroke="none" stroke-width="1"/>
<circle cx="467.94" cy="426.07" r="0.55" fill="#c41230" stroke="none" stroke-width="1"/>
<circle cx="460.44" cy="448.49" r="0.55" fill="#c41230" stroke="none" stroke-width="1"/>
<circle cx="466.05" cy="428.39" r="0.55" fill="#c41230" stroke="none" stroke-width="1"/>
<circle cx="464.63" cy="435.64" r="0.55" fill="#c41230" stroke="none" stroke-width="1"/>
<circle cx="466.81" cy="425.94" r="0.55" fill="#c41230" stroke="none" stroke-width="1"/>
<circle cx="462.59" cy="440.03" r="0.55" fill="#c41230" stroke="none" stroke-width="1"/>
<circle cx="463.24" cy="445.92" r="0.55" fill="#c41230" stroke="none" stroke-width="1"/>
<circle cx="467.07" cy="430.47" r="0.55" fill="#c41230" stroke="none" stroke-width="1"/>
<circle cx="468.56" cy="424.23" r="0.55" fill="#c41230" stroke="none" stroke-width="1"/>
<circle cx="466.62" cy="428.74" r="0.55" fill="#c41230" stroke="none" stroke-width="1"/>
<circle cx="468.80" cy="420.10" r="0.55" fill="#c41230" stroke="none" stroke-width="1"/>
<circle cx="466.93" cy="429.80" r="0.55" fill="#c41230" stroke="none" stroke-width="1"/>
<circle cx="463.13" cy="443.74" r="0.55" fill="#c41230" stroke="none" stroke-width="1"/>
<circle cx="466.75" cy="429.16" r="0.55" fill="#c41230" stroke="none" stroke-width="1"/>
<circle cx="465.24" cy="440.44" r="0.55" fill="#c41230" stroke="none" stroke-width="1"/>
<circle cx="463.76" cy="448.28" r="0.55" fill="#c41230" stroke="none" stroke-width="1"/>
<circle cx="462.47" cy="441.74" r="0.55" fill="#c41230" stroke="none" stroke-width="1"/>
<circle cx="468.57" cy="420.52" r="0.55" fill="#c41230" stroke="none" stroke-width="1"/>
<circle cx="466.18" cy="430.62" r="0.55" fill="#c41230" stroke="none" stroke-width="1"/>
<circle cx="469.40" cy="420.26" r="0.55" fill="#c41230" stroke="none" stroke-width="1"/>
<circle cx="466.99" cy="425.25" r="0.55" fill="#c41230" stroke="none" stroke-width="1"/>
<circle cx="467.17" cy="425.70" r="0.55" fill="#c41230" stroke="none" stroke-width="1"/>
<circle cx="460.63" cy="446.96" r="0.55" fill="#c41230" stroke="none" stroke-width="1"/>
<circle cx="466.79" cy="429.99" r="0.55" fill="#c41230" stroke="none" stroke-width="1"/>
<circle cx="464.50" cy="435.22" r="0.55" fill="#c41230" stroke="none" stroke-width="1"/>
<circle cx="467.89" cy="423.13" r="0.55" fill="#c41230" stroke="none" stroke-width="1"/>
<line x1="470.50" y1="395.00" x2="490.20" y2="395.00" stroke="#222" stroke-width="0.6"/>
<line x1="473.00" y1="395.30" x2="490.20" y2="399.80" stroke="#222" stroke-width="0.6"/>
<line x1="470.60" y1="415.60" x2="481.00" y2="415.60" stroke="#222" stroke-width="0.6"/>
<line x1="469.00" y1="429.00" x2="476.60" y2="429.00" stroke="#222" stroke-width="0.6"/>
<text x="490.80" y="396.80" font-size="5.1" text-anchor="start" fill="#111111" font-weight="normal" font-style="italic" stroke="#111111" stroke-width="0.07">MECOM</text>
<text x="491.20" y="401.80" font-size="5.1" text-anchor="start" fill="#111111" font-weight="normal" font-style="italic" stroke="#111111" stroke-width="0.07">IGF2BP1</text>
<text x="481.50" y="417.60" font-size="5.1" text-anchor="start" fill="#111111" font-weight="normal" font-style="italic" stroke="#111111" stroke-width="0.07">GATA2</text>
<text x="477.00" y="431.00" font-size="5.1" text-anchor="start" fill="#111111" font-weight="normal" font-style="italic" stroke="#111111" stroke-width="0.07">GFI1B</text>
<text x="7.90" y="495.50" font-size="11.3" text-anchor="start" fill="#111" font-weight="bold">E</text>
<text x="102.70" y="500.80" font-size="5.1" text-anchor="start" fill="#111111" font-weight="normal" stroke="#111111" stroke-width="0.07">27 100 kb</text>
<text x="214.80" y="500.80" font-size="5.1" text-anchor="end" fill="#111111" font-weight="normal" stroke="#111111" stroke-width="0.07">27 200 kb</text>
<text x="219.70" y="500.80" font-size="5.1" text-anchor="start" fill="#111111" font-weight="normal" stroke="#111111" stroke-width="0.07">48 550 kb</text>
<text x="261.20" y="500.80" font-size="5.1" text-anchor="start" fill="#111111" font-weight="normal" stroke="#111111" stroke-width="0.07">48 600 kb</text>
<line x1="114.80" y1="504.00" x2="114.80" y2="506.90" stroke="#222" stroke-width="0.9"/>
<line x1="158.80" y1="504.00" x2="158.80" y2="506.90" stroke="#222" stroke-width="0.9"/>
<line x1="203.50" y1="504.00" x2="203.50" y2="506.90" stroke="#222" stroke-width="0.9"/>
<line x1="230.60" y1="504.00" x2="230.60" y2="506.90" stroke="#222" stroke-width="0.9"/>
<line x1="272.50" y1="504.00" x2="272.50" y2="506.90" stroke="#222" stroke-width="0.9"/>
<text x="96.30" y="510.00" font-size="5.1" text-anchor="end" fill="#111111" font-weight="normal" stroke="#111111" stroke-width="0.07">IgG</text>
<line x1="99.30" y1="508.30" x2="102.30" y2="508.30" stroke="#222" stroke-width="0.8"/>
<text x="96.30" y="514.99" font-size="5.1" text-anchor="end" fill="#111111" font-weight="normal" stroke="#111111" stroke-width="0.07">NUP98</text>
<line x1="99.30" y1="513.29" x2="102.30" y2="513.29" stroke="#222" stroke-width="0.8"/>
<text x="96.30" y="519.98" font-size="5.1" text-anchor="end" fill="#111111" font-weight="normal" stroke="#111111" stroke-width="0.07">H3K4me3</text>
<line x1="99.30" y1="518.28" x2="102.30" y2="518.28" stroke="#222" stroke-width="0.8"/>
<text x="96.30" y="524.97" font-size="5.1" text-anchor="end" fill="#111111" font-weight="normal" stroke="#111111" stroke-width="0.07">H3K27Ac</text>
<line x1="99.30" y1="523.27" x2="102.30" y2="523.27" stroke="#222" stroke-width="0.8"/>
<text x="96.30" y="529.96" font-size="5.1" text-anchor="end" fill="#111111" font-weight="normal" stroke="#111111" stroke-width="0.07">NUP98</text>
<line x1="99.30" y1="528.26" x2="102.30" y2="528.26" stroke="#222" stroke-width="0.8"/>
<text x="96.30" y="534.95" font-size="5.1" text-anchor="end" fill="#111111" font-weight="normal" stroke="#111111" stroke-width="0.07">H3K4me3</text>
<line x1="99.30" y1="533.25" x2="102.30" y2="533.25" stroke="#222" stroke-width="0.8"/>
<text x="96.30" y="539.94" font-size="5.1" text-anchor="end" fill="#111111" font-weight="normal" stroke="#111111" stroke-width="0.07">H3K27Ac</text>
<line x1="99.30" y1="538.24" x2="102.30" y2="538.24" stroke="#222" stroke-width="0.8"/>
<text x="96.30" y="544.93" font-size="5.1" text-anchor="end" fill="#111111" font-weight="normal" stroke="#111111" stroke-width="0.07">NUP98</text>
<line x1="99.30" y1="543.23" x2="102.30" y2="543.23" stroke="#222" stroke-width="0.8"/>
<text x="96.30" y="549.92" font-size="5.1" text-anchor="end" fill="#111111" font-weight="normal" stroke="#111111" stroke-width="0.07">H3K4me3</text>
<line x1="99.30" y1="548.22" x2="102.30" y2="548.22" stroke="#222" stroke-width="0.8"/>
<text x="96.30" y="554.91" font-size="5.1" text-anchor="end" fill="#111111" font-weight="normal" stroke="#111111" stroke-width="0.07">H3K27Ac</text>
<line x1="99.30" y1="553.21" x2="102.30" y2="553.21" stroke="#222" stroke-width="0.8"/>
<text x="96.30" y="559.90" font-size="5.1" text-anchor="end" fill="#111111" font-weight="normal" stroke="#111111" stroke-width="0.07">NUP98</text>
<line x1="99.30" y1="558.20" x2="102.30" y2="558.20" stroke="#222" stroke-width="0.8"/>
<text x="96.30" y="564.89" font-size="5.1" text-anchor="end" fill="#111111" font-weight="normal" stroke="#111111" stroke-width="0.07">H3K4me3</text>
<line x1="99.30" y1="563.19" x2="102.30" y2="563.19" stroke="#222" stroke-width="0.8"/>
<text x="96.30" y="569.88" font-size="5.1" text-anchor="end" fill="#111111" font-weight="normal" stroke="#111111" stroke-width="0.07">H3K27Ac</text>
<line x1="99.30" y1="568.18" x2="102.30" y2="568.18" stroke="#222" stroke-width="0.8"/>
<text x="96.30" y="574.87" font-size="5.1" text-anchor="end" fill="#111111" font-weight="normal" stroke="#111111" stroke-width="0.07">NUP98</text>
<line x1="99.30" y1="573.17" x2="102.30" y2="573.17" stroke="#222" stroke-width="0.8"/>
<text x="96.30" y="579.86" font-size="5.1" text-anchor="end" fill="#111111" font-weight="normal" stroke="#111111" stroke-width="0.07">H3K4me3</text>
<line x1="99.30" y1="578.16" x2="102.30" y2="578.16" stroke="#222" stroke-width="0.8"/>
<text x="96.30" y="584.85" font-size="5.1" text-anchor="end" fill="#111111" font-weight="normal" stroke="#111111" stroke-width="0.07">H3K27Ac</text>
<line x1="99.30" y1="583.15" x2="102.30" y2="583.15" stroke="#222" stroke-width="0.8"/>
<text x="96.30" y="589.84" font-size="5.1" text-anchor="end" fill="#111111" font-weight="normal" stroke="#111111" stroke-width="0.07">NUP98</text>
<line x1="99.30" y1="588.14" x2="102.30" y2="588.14" stroke="#222" stroke-width="0.8"/>
<text x="96.30" y="594.83" font-size="5.1" text-anchor="end" fill="#111111" font-weight="normal" stroke="#111111" stroke-width="0.07">H3K4me3</text>
<line x1="99.30" y1="593.13" x2="102.30" y2="593.13" stroke="#222" stroke-width="0.8"/>
<text x="96.30" y="599.82" font-size="5.1" text-anchor="end" fill="#111111" font-weight="normal" stroke="#111111" stroke-width="0.07">H3K27Ac</text>
<line x1="99.30" y1="598.12" x2="102.30" y2="598.12" stroke="#222" stroke-width="0.8"/>
<text x="96.30" y="604.81" font-size="5.1" text-anchor="end" fill="#111111" font-weight="normal" stroke="#111111" stroke-width="0.07">NUP98</text>
<line x1="99.30" y1="603.11" x2="102.30" y2="603.11" stroke="#222" stroke-width="0.8"/>
<text x="96.30" y="609.80" font-size="5.1" text-anchor="end" fill="#111111" font-weight="normal" stroke="#111111" stroke-width="0.07">H3K4me3</text>
<line x1="99.30" y1="608.10" x2="102.30" y2="608.10" stroke="#222" stroke-width="0.8"/>
<text x="96.30" y="614.79" font-size="5.1" text-anchor="end" fill="#111111" font-weight="normal" stroke="#111111" stroke-width="0.07">H3K27Ac</text>
<line x1="99.30" y1="613.09" x2="102.30" y2="613.09" stroke="#222" stroke-width="0.8"/>
<text x="96.30" y="619.78" font-size="5.1" text-anchor="end" fill="#111111" font-weight="normal" stroke="#111111" stroke-width="0.07">NUP98</text>
<line x1="99.30" y1="618.08" x2="102.30" y2="618.08" stroke="#222" stroke-width="0.8"/>
<text x="96.30" y="624.77" font-size="5.1" text-anchor="end" fill="#111111" font-weight="normal" stroke="#111111" stroke-width="0.07">H3K4me3</text>
<line x1="99.30" y1="623.07" x2="102.30" y2="623.07" stroke="#222" stroke-width="0.8"/>
<text x="96.30" y="629.76" font-size="5.1" text-anchor="end" fill="#111111" font-weight="normal" stroke="#111111" stroke-width="0.07">H3K27Ac</text>
<line x1="99.30" y1="628.06" x2="102.30" y2="628.06" stroke="#222" stroke-width="0.8"/>
<text x="96.30" y="634.75" font-size="5.1" text-anchor="end" fill="#111111" font-weight="normal" stroke="#111111" stroke-width="0.07">NUP98</text>
<line x1="99.30" y1="633.05" x2="102.30" y2="633.05" stroke="#222" stroke-width="0.8"/>
<text x="96.30" y="639.74" font-size="5.1" text-anchor="end" fill="#111111" font-weight="normal" stroke="#111111" stroke-width="0.07">H3K4me3</text>
<line x1="99.30" y1="638.04" x2="102.30" y2="638.04" stroke="#222" stroke-width="0.8"/>
<text x="96.30" y="644.73" font-size="5.1" text-anchor="end" fill="#111111" font-weight="normal" stroke="#111111" stroke-width="0.07">H3K27Ac</text>
<line x1="99.30" y1="643.03" x2="102.30" y2="643.03" stroke="#222" stroke-width="0.8"/>
<text x="64.40" y="519.13" font-size="5.1" text-anchor="end" fill="#111111" font-weight="normal" stroke="#111111" stroke-width="0.07">CHRF-288-11</text>
<text x="64.40" y="524.13" font-size="5.1" text-anchor="end" fill="#111111" font-weight="normal" stroke="#111111" stroke-width="0.07">(AMKL)</text>
<line x1="68.30" y1="513.59" x2="68.30" y2="525.77" stroke="#7a7a7a" stroke-width="1.3"/>
<text x="64.40" y="534.10" font-size="5.1" text-anchor="end" fill="#111111" font-weight="normal" stroke="#111111" stroke-width="0.07">SJAML031736_D4</text>
<text x="64.40" y="539.10" font-size="5.1" text-anchor="end" fill="#111111" font-weight="normal" stroke="#111111" stroke-width="0.07">(AMKL)</text>
<line x1="68.30" y1="528.56" x2="68.30" y2="540.74" stroke="#7a7a7a" stroke-width="1.3"/>
<text x="64.40" y="549.07" font-size="5.1" text-anchor="end" fill="#111111" font-weight="normal" stroke="#111111" stroke-width="0.07">SJAML031570_D2</text>
<text x="64.40" y="554.07" font-size="5.1" text-anchor="end" fill="#111111" font-weight="normal" stroke="#111111" stroke-width="0.07">(AMKL)</text>
<line x1="68.30" y1="543.53" x2="68.30" y2="555.71" stroke="#7a7a7a" stroke-width="1.3"/>
<text x="64.40" y="564.04" font-size="5.1" text-anchor="end" fill="#111111" font-weight="normal" stroke="#111111" stroke-width="0.07">SJAML016570_R2</text>
<text x="64.40" y="569.04" font-size="5.1" text-anchor="end" fill="#111111" font-weight="normal" stroke="#111111" stroke-width="0.07">(AML)</text>
<line x1="68.30" y1="558.50" x2="68.30" y2="570.68" stroke="#7a7a7a" stroke-width="1.3"/>
<text x="64.40" y="579.01" font-size="5.1" text-anchor="end" fill="#111111" font-weight="normal" stroke="#111111" stroke-width="0.07">ST1653</text>
<text x="64.40" y="584.01" font-size="5.1" text-anchor="end" fill="#111111" font-weight="normal" stroke="#111111" stroke-width="0.07">(AML)</text>
<line x1="68.30" y1="573.47" x2="68.30" y2="585.65" stroke="#7a7a7a" stroke-width="1.3"/>
<text x="64.40" y="593.98" font-size="5.1" text-anchor="end" fill="#111111" font-weight="normal" stroke="#111111" stroke-width="0.07">SJAML031434_D4</text>
<text x="64.40" y="598.98" font-size="5.1" text-anchor="end" fill="#111111" font-weight="normal" stroke="#111111" stroke-width="0.07">(AML)</text>
<line x1="68.30" y1="588.44" x2="68.30" y2="600.62" stroke="#7a7a7a" stroke-width="1.3"/>
<text x="64.40" y="608.95" font-size="5.1" text-anchor="end" fill="#111111" font-weight="normal" stroke="#111111" stroke-width="0.07">SJAML015347_D3</text>
<text x="64.40" y="613.95" font-size="5.1" text-anchor="end" fill="#111111" font-weight="normal" stroke="#111111" stroke-width="0.07">(AML)</text>
<line x1="68.30" y1="603.41" x2="68.30" y2="615.59" stroke="#7a7a7a" stroke-width="1.3"/>
<text x="64.40" y="623.92" font-size="5.1" text-anchor="end" fill="#111111" font-weight="normal" stroke="#111111" stroke-width="0.07">SJAML001409_R2</text>
<text x="64.40" y="628.92" font-size="5.1" text-anchor="end" fill="#111111" font-weight="normal" stroke="#111111" stroke-width="0.07">(immature AML)</text>
<line x1="68.30" y1="618.38" x2="68.30" y2="630.56" stroke="#7a7a7a" stroke-width="1.3"/>
<text x="64.40" y="638.89" font-size="5.1" text-anchor="end" fill="#111111" font-weight="normal" stroke="#111111" stroke-width="0.07">SJAML031254_D6</text>
<text x="64.40" y="643.89" font-size="5.1" text-anchor="end" fill="#111111" font-weight="normal" stroke="#111111" stroke-width="0.07">(immature AML)</text>
<line x1="68.30" y1="633.35" x2="68.30" y2="645.53" stroke="#7a7a7a" stroke-width="1.3"/>
<line x1="18.70" y1="513.70" x2="18.70" y2="585.60" stroke="#d98595" stroke-width="1.0"/>
<text x="13.60" y="550.65" font-size="3.9" text-anchor="middle" fill="#5a5a5a" font-weight="normal" transform="rotate(-90 13.6 550.6500000000001)">NUP98::KDM5A</text>
<line x1="18.70" y1="587.50" x2="18.70" y2="616.30" stroke="#93b4d0" stroke-width="1.0"/>
<text x="13.60" y="602.90" font-size="3.9" text-anchor="middle" fill="#5a5a5a" font-weight="normal" transform="rotate(-90 13.6 602.9)">NUP98::NSD1</text>
<line x1="18.70" y1="617.30" x2="18.70" y2="645.20" stroke="#5a5a5a" stroke-width="1.0"/>
<text x="13.60" y="632.25" font-size="3.9" text-anchor="middle" fill="#5a5a5a" font-weight="normal" transform="rotate(-90 13.6 632.25)">NUP98::RAP1GDS1</text>
<line x1="102.30" y1="511.20" x2="212.80" y2="511.20" stroke="#b9cde0" stroke-width="0.45"/>
<text x="103.50" y="508.60" font-size="2.6" text-anchor="start" fill="#ababab" font-weight="normal">0 - [20]</text>
<path d="M103.1 511.2l.5 0l.5-.2l.5 .2l1 0l.5-.3l.5 .3l.5 0l.5-.3l.5 .3l.5 0l.5-.3l.5 .3l2 0l.5-.3l.5 .3l1.5 0l.5-.3l.5 .2l1-.2l.5 .3l1 0l.5-.2l.5 .2l5.5 0l.5-.1l.5 .1l.5-.2l.5 .2l1 0l.5-.3l.5 .3l3 0l.5-.3l.5 .3l4.5 0l.5-.2l.5 .2l2.5 0l.5-.3l1 .3l.5-.1l.5 .1l.5-.2l.5 .2l.5 0l.5-.3l.5 .3l.5 0l.5-.2l.5 .2l.5-.3l.5 .3l.5 0l.5-.3l.5 .3l3 0l.5-.3l.5 0l.5 .3l1.5 0l.5-.3l.5 .3l.5 0l.5-.2l.5 .2l.5 0l.5-.3l.5 .3l.5-.3l.5 .3l.5 0l.5-.2l.5 .2l.5-.3l.5 .3l1.5 0l.5-.3l.5 .3l.5-.2l.5 .2l1.5 0l.5-.2l.5 .2l2.5 0l.5-.2l1 .2l.5-.3l.5 .3l1 0l.5-.2l.5 .2l5.5 0l.5-.3l.5 .3l.5-.2l.5 .2l3.5 0l.5-.3l.5 .3l1.5 0l.5-.2l.5 .2l.5-.3l.5 .3l3 0l.5-.2l.5 .2l.5 0l.5-.3l1 .3l.5-.3l.5 .3l4.5 0l.5-.2l.5 .2l.5 0l.5-.2l.5 .2l.5-.2l.5 .2l.5-.2l.5 .2l1.5 0l.5-.3l.5 .3l1 0l.5-.3l.5 .3l.4 0z" fill="#6a8fb8"/>
<line x1="214.90" y1="511.20" x2="299.70" y2="511.20" stroke="#b9cde0" stroke-width="0.45"/>
<text x="216.10" y="508.60" font-size="2.6" text-anchor="start" fill="#ababab" font-weight="normal">0 - [20]</text>
<path d="M215.7 511.2l.5-.3l.5 .3l.5-.3l.5 .3l3 0l.5-.3l.5 .3l2 0l.5-.2l.5 .2l.5 0l.5-.3l.5 .3l.5 0l.5-.3l.5 .3l.5 0l.5-.2l.5 .2l2 0l.5-.2l.5 .2l.5-.3l.5 .3l2 0l.5-.3l1 .3l.5-.1l1 .1l.5-.3l.5 .3l1-.2l.5 .2l1 0l.5-.3l.5 .3l.5-.2l1 .2l.5-.3l.5 .3l5.5 0l.5-.2l.5 .2l2 0l1-.3l.5 .3l1 0l.5-.2l.5 .2l3.5 0l.5-.2l.5 .2l1 0l.5-.1l.5 .1l5.5 0l.5-.2l.5 .2l1-.1l.5 .1l3 0l.5-.1l.5 .1l2 0l.5-.1l.5 .1l5.5 0l.5-.2l.5 .2l2 0l1-.3l.5 0l.5 .3l1.5 0l.5-.2l.5 .2l1 0l1-.3l.5 .3l1 0l.5-.3l.5 .3l.5-.1l.5 .1l1 0l.5-.2l.2 .2z" fill="#6a8fb8"/>
<line x1="102.30" y1="516.19" x2="212.80" y2="516.19" stroke="#eba6b3" stroke-width="0.45"/>
<line x1="103.30" y1="515.89" x2="211.80" y2="515.89" stroke="#c41230" stroke-width="0.6" stroke-dasharray="0.6 1.1"/>
<text x="103.50" y="513.59" font-size="2.6" text-anchor="start" fill="#ababab" font-weight="normal">0 - [50]</text>
<path d="M103.1 516.2l6 0l1-.5l.5 .5l.5-.5l.5 .5l2.5 0l.5-.4l.5-.1l1 .2l.5 .3l.5 0l.5-.3l.5 .3l.5 0l.5-.2l.5 .2l2.5 0l.5-.2l.5 .2l.5-.3l.5 .3l1.5 0l.5-.5l.5 .5l.5-.4l.5 .4l.5-.2l.5 .2l1 0l.5-.2l.5 .2l1 0l.5-.4l.5 .4l1.5 0l.5-.3l.5 .3l2.5 0l.5-.2l.5 .2l3 0l.5-.3l.5 .3l.5 0l.5-.4l1 .4l1 0l.5-.4l.5 .4l1 0l.5-.3l.5 .3l.5 0l.5-.2l.5 .2l.5-.5l.5 .5l.5-.2l.5 0l.5-.2l.5 .2l.5-.3l.5 .5l.5-.2l.5 .2l2 0l.5-.3l.5 .1l.5 .2l.5-.3l.5 .3l3 0l.5-.5l.5 .5l1.5 0l.5-.4l.5 .4l.5-.2l.5 .2l1 0l.5-.2l.5 .2l2.5 0l.5-.3l.5-.1l1 .4l9.5 0l1-.4l.5 .4l2.5 0l.5-.2l.5 .2l.5-.2l.5 .2l.5-.3l.5 .3l1.5 0l.5-.2l.5 .2l.5-.2l.5 .2l2.5 0l.5-.2l.5 .2l2 0l.5-.3l.5 0l.5 .3l2.5 0l.5-.4l.5 .4l1 0l.5-.2l.5 .2l4.5 0l.5-.5l.5 .5l.4 0z" fill="#c41230"/>
<line x1="214.90" y1="516.19" x2="299.70" y2="516.19" stroke="#eba6b3" stroke-width="0.45"/>
<line x1="215.90" y1="515.89" x2="298.70" y2="515.89" stroke="#c41230" stroke-width="0.6" stroke-dasharray="0.6 1.1"/>
<text x="216.10" y="513.59" font-size="2.6" text-anchor="start" fill="#ababab" font-weight="normal">0 - [50]</text>
<path d="M215.7 516.2l4.5 0l1.5-1.1l.5-.1l1 .6l.5-.1l.5 .2l2.5-1.3l1.5 1.3l1 .5l2 0l.5-.5l1 .5l2.5 0l.5-.3l.5 .3l.5-.3l.5 .3l.5 0l1-.5l.5 .5l1 0l.5-.3l.5 .3l.5-.5l1 .2l.5 .3l1 0l.5-.4l.5 .4l2.5 0l.5-.2l.5 .2l1.5 0l.5-.2l1 .2l1-.7l1 0l1-.4l.5 .2l1-.2l.5 .3l.5 .2l1-.6l1 .5l.5-.1l.5-.2l1 .7l.5 .3l.5-.3l.5 .3l1 0l.5-.4l.5 .4l.5-.3l1 .3l1 0l.5-.2l.5 .2l.5 0l.5-.4l.5 .4l1.5 0l.5-.4l.5-.1l1-.8l.5-.1l.5 .4l.5 0l.5-.7l.5-.2l.5 1l1-.9l.5-.2l2 2l.5 0l1-.7l.5-.6l.5-.2l.5 .2l.5 .4l1-1.1l.5 .7l1 .7l.5-.4l.5-.2l.5 .4l1-1.3l1.5 2.1l2 0l2-1.5l.5-.1l.5 .4l.5 0l1.5 1.2l1.5 0l.5-.4l.2 .4z" fill="#c41230"/>
<line x1="102.30" y1="521.18" x2="212.80" y2="521.18" stroke="#eba6b3" stroke-width="0.45"/>
<text x="103.50" y="518.58" font-size="2.6" text-anchor="start" fill="#ababab" font-weight="normal">0 - [10,000]</text>
<path d="M103.1 521.2l.5 0l.5-.3l.5-.7l1-3.2l.5 .3l1 3.2l.5 .7l.5-.4l.5 .4l4 0l.5-.2l.5 .2l1 0l.5-.4l.5 .4l.5 0l.5-.3l.5 .3l.5-.2l.5 .2l.5-.2l.5 .2l1.5 0l.5-.2l.5 .2l3.5 0l.5-.3l.5 .3l.5-.3l.5 .3l.5 0l.5-.3l.5 .3l.5-.2l.5 .2l.5-.3l.5 .3l.5-.2l.5 .2l1.5 0l.5-.3l1 0l.5-.4l1-2.1l.5 .6l1 2.2l1.5 0l1-.4l.5 .4l3 0l.5-.3l.5 .3l1.5 0l.5-.2l.5 .2l.5-.4l.5 .4l4.5 0l.5-.7l1-2.3l.5 .7l1 2.3l1 0l1-.3l.5 .3l1 0l.5-.3l.5 .3l3 0l.5-.3l.5 .3l.5 0l.5-.3l.5 .3l.5-.4l.5 .4l2 0l.5-.3l.5 .3l3 0l.5-.2l.5 .2l1-3l.5-.9l1 3l.5 .9l.5 0l.5-.3l1 .3l2 0l.5-.3l.5 .3l.5 0l.5-.3l.5 .3l1.5 0l1-.2l.5 .2l7.5 0l.5-.3l1 .3l.5-.3l.5 .3l.5-.3l.5 .3l.5-.5l1-2.3l.5 .3l1 2.3l.5-.2l.5 .4l.5-.2l1 .2l1.5 0l.5-.3l.5 .3l.5 0l.5-.4l.5 .4l.5 0l1-.4l1 .1l.5 .3l2.4 0z" fill="#c41230"/>
<line x1="214.90" y1="521.18" x2="299.70" y2="521.18" stroke="#eba6b3" stroke-width="0.45"/>
<text x="216.10" y="518.58" font-size="2.6" text-anchor="start" fill="#ababab" font-weight="normal">0 - [10,000]</text>
<path d="M215.7 521.2l.5 0l.5-.3l.5 .3l1 0l1-.3l1.5-1.2l.5-.7l.5-1.1l.5 1.3l.5-.7l.5 .1l.5-.2l.5 .1l1.5 2.5l.5 .2l5 0l.5-.3l.5 .3l2 0l1-.2l.5 .2l1 0l.5-.3l.5 .3l1.5 0l.5-.3l.5 .3l4 0l.5-.3l.5 .3l2 0l.5-.3l.5 .3l.5-.2l1 .2l.5-.2l.5-.7l.5-.5l1 1.4l.5 0l.5-1l.5-.6l.5 .5l1-.6l.5-.6l.5 .7l.5 0l1 .5l.5 .6l.5 .1l.5 .4l.5 0l1.5-1.1l1 .6l.5 .1l.5 .4l2 0l.5-.2l.5 .2l3.5 0l.5-.4l.5 .4l1.5 0l1-2.4l.5 .8l.5 1.4l2-1.9l.5-.9l.5-.1l1.5 2.6l.5 .5l1 0l2-1.2l.5 0l1-.8l1 1.1l.5-.4l.5-1.4l.5 .2l.5-.6l.5 .8l.5 1.2l.5 .4l.5-.8l.5 0l1 1.5l2 0l.5-.3l.5 .3l.5-.3l1-2.1l.5 .8l.5-1.3l1 2.9l1.5 0l.5-.2l.2 .2z" fill="#c41230"/>
<line x1="102.30" y1="526.17" x2="212.80" y2="526.17" stroke="#eba6b3" stroke-width="0.45"/>
<text x="103.50" y="523.57" font-size="2.6" text-anchor="start" fill="#ababab" font-weight="normal">0 - [20]</text>
<path d="M103.1 526.2l.5-.2l.5 .2l.5 0l1-1.4l.5 .3l1 1.1l1 0l.5-.3l.5 .3l1 0l.5-.2l.5 .2l1 0l.5-.2l.5 .2l1.5 0l.5-.3l.5 .3l3 0l.5-.3l.5 0l.5 .3l1-.2l.5 .2l.5-.3l.5 .3l.5-.4l.5 0l.5 .4l.5 0l.5-.4l.5 .4l.5-.3l.5 .3l.5 0l.5-.2l.5 .2l1 0l1-.4l.5 .4l.5-.3l.5 .3l3 0l1-.2l1 .2l1-.4l.5 .4l1.5 0l.5-.3l.5 .3l1.5 0l.5-.4l.5 .4l4 0l.5-.3l.5 .3l2 0l.5-.3l.5 0l.5 .3l.5 0l.5-.2l1 .2l.5-.8l.5-.3l1 1.1l2.5 0l1-.2l.5 .2l1 0l.5-.2l1 .2l2 0l.5-.2l.5 .2l1.5 0l.5-.2l.5 .2l4.5 0l.5-.4l1 .4l.5-.2l.5-.8l.5-.5l1 1.5l3.5 0l.5-.3l.5 .3l1 0l.5-.4l.5 .4l2.5 0l.5-.3l.5-.1l.5 .4l.5 0l.5-.4l.5 .4l.5 0l.5-.4l.5 .4l.5-.3l.5 .3l.5-.3l.5 .3l1.5 0l.5-.2l.5 .2l7 0l.5-.3l.5 .3l1.5 0l.5-.4l.5 .4l1-.2l.5-.2l.5 .4l.5 0l.5-.3l.5 .3l.5-.2l.5 .2l.5 0l.5-.3l.5 .3l.5-.3l.5 .3l.4 0z" fill="#c41230"/>
<line x1="214.90" y1="526.17" x2="299.70" y2="526.17" stroke="#eba6b3" stroke-width="0.45"/>
<text x="216.10" y="523.57" font-size="2.6" text-anchor="start" fill="#ababab" font-weight="normal">0 - [20]</text>
<path d="M215.7 526.2l1.5 0l.5-.2l1.5 .2l1.5-.5l.5-.6l1 .1l1 .3l1-.4l1.5 .6l2-.6l1 .7l1 .1l.5 .3l2 0l.5-.2l.5 .2l.5-.4l.5 .4l1 0l.5-.3l.5 .3l3 0l.5-.4l.5 .4l.5 0l.5-.2l.5 .2l1.5 0l.5-.4l1 .1l.5 .3l3.5 0l.5-.3l.5 .3l.5 0l2-.8l1 .4l1.5-.3l1.5 .4l1-.2l.5-.2l.5-.1l1.5 .8l6 0l.5-.3l.5 0l.5 .3l3 0l.5-.2l.5 .2l1.5 0l1.5-.4l.5 .1l1-.3l1 .4l1-.1l.5 .3l1 0l1-.6l2.5 .6l.5-.3l1.5-.4l1.5 .3l1.5-.4l1.5 .3l.5-.1l1 .6l1 0l.5-.2l.5 .2l3.5 0l1-.4l1 0l.5 .4l.2 0z" fill="#c41230"/>
<line x1="102.30" y1="531.16" x2="212.80" y2="531.16" stroke="#eba6b3" stroke-width="0.45"/>
<line x1="103.30" y1="530.86" x2="211.80" y2="530.86" stroke="#c41230" stroke-width="0.6" stroke-dasharray="0.6 1.1"/>
<text x="103.50" y="528.56" font-size="2.6" text-anchor="start" fill="#ababab" font-weight="normal">0 - [50]</text>
<path d="M103.1 531.2l.5-.6l.5 .6l.5 0l.5-.5l.5 .5l2 0l.5-.3l.5 .3l1 0l.5-.6l.5 .6l2 0l.5-.5l.5 .5l3.5 0l.5-.5l.5 .5l1 0l.5-.4l1 .4l.5 0l.5-.4l.5-.1l.5 .5l.5 0l.5-.5l.5 .5l.5-.3l.5 .3l1.5 0l.5-.2l.5 .2l.5-.3l.5 .3l1-.6l.5 .6l2.5 0l.5-.5l.5 .5l.5 0l.5-.5l.5 .5l1 0l.5-.5l.5 .5l3 0l.5-.4l.5 .4l2.5 0l.5-.4l.5 .1l.5-.3l.5 .1l.5 .5l1-.5l.5 .5l2 0l.5-.2l.5 .2l1 0l.5-.6l.5 .2l1.5-1.7l.5 .2l.5 .6l.5-.1l1 .3l1.5-1.1l1 1l1-.6l1.5 1.4l1-1.5l.5 .3l.5 0l.5-.6l.5 .2l1.5 1.6l.5-.2l.5 .6l1.5 0l.5-.5l.5 0l1 .5l.5-.6l.5 .6l.5-.2l2-2.3l1 1.1l.5 .3l.5 .8l.5 .3l7.5 0l.5-.5l.5 0l.5 .5l.5-.4l.5 .4l1 0l.5-.3l.5 .3l.5 0l.5-.3l.5 .3l.5 0l.5-.6l.5 .6l2 0l.5-.6l.5 .6l.5 0l.5-.2l.5 .2l1 0l.5-.3l1 .3l.5-.3l.5 .3l.5-.4l1 .4l.5 0l.5-.4l.5-.1l.5 .5l.5-.6l.5 .6l.5 0l.5-.6l.5 .6l.5 0l.5-.6l.5 .6l4.9 0z" fill="#c41230"/>
<line x1="214.90" y1="531.16" x2="299.70" y2="531.16" stroke="#eba6b3" stroke-width="0.45"/>
<line x1="215.90" y1="530.86" x2="298.70" y2="530.86" stroke="#c41230" stroke-width="0.6" stroke-dasharray="0.6 1.1"/>
<text x="216.10" y="528.56" font-size="2.6" text-anchor="start" fill="#ababab" font-weight="normal">0 - [50]</text>
<path d="M215.7 531.2l0-.6l.5 .6l.5-.6l.5 .6l.5 0l.5-.5l.5 .5l3.5 0l.5-.2l.5-.5l.5-.8l1-.6l1 .4l.5 0l.5 .3l.5-.7l1 1.1l1.5 1l2 0l.5-.3l.5 .3l.5-.4l.5-.1l.5 .5l2 0l.5-.4l.5 .4l.5 0l.5-.2l.5 .2l.5 0l.5-.4l1 .4l.5-.3l.5 .3l1 0l.5-.5l.5 .5l2 0l.5-.4l.5 .4l.5 0l.5-.6l.5 .6l.5-.5l.5 .5l1 0l.5-.6l.5-1l.5 .7l.5 .2l.5-.5l.5 .2l.5 .4l.5-.4l.5-.7l1 .8l1-.8l.5 .5l.5-.3l.5-.1l1.5 1.2l.5-.3l.5-.5l.5-.2l.5 0l.5 .4l.5-.6l.5 .4l.5 0l1.5 .9l.5-.1l1.5-1.2l.5 0l1 .7l1-.6l1 .8l.5-.2l.5-.7l.5 .8l.5 .4l1 .2l.5-.3l.5 .2l1-1.2l.5 .3l.5 .6l.5-.1l.5-.5l1 .8l.5-.3l.5-.5l.5 .3l.5 .1l.5-.9l1 .4l.5-.3l.5 0l2 1.6l1.5-1l.5-.1l.5 .4l.5-.6l.5 .6l.5 0l.5-.3l.5 .2l.5-.2l1-.7l.5 .4l.5-.3l2 1.3l1-.3l.5-1.1l.5 .7l2.2 1z" fill="#c41230"/>
<line x1="102.30" y1="536.15" x2="212.80" y2="536.15" stroke="#eba6b3" stroke-width="0.45"/>
<text x="103.50" y="533.55" font-size="2.6" text-anchor="start" fill="#ababab" font-weight="normal">0 - [10,000]</text>
<path d="M103.1 536.1l0-.1l1 .1l1 0l1-.3l.5 .1l.5-.1l.5 .3l1-.3l.5 .3l1 0l.5-.1l.5 .1l1.5 0l.5-.2l.5 .2l.5-.3l.5 .3l4.5 0l.5-.3l.5 .3l3.5 0l.5-.2l.5 .2l3.5 0l.5-.2l.5 .2l2 0l1-.2l.5 .2l.5 0l.5-.3l.5 .3l6 0l.5-.2l.5 .2l3 0l.5-.2l.5 0l.5 .2l1-.3l.5 .3l.5 0l.5-.2l.5 .1l.5-.1l.5 0l2-3.6l2 3.6l1-2.4l1.5 1l1-1.5l1 1.2l.5 .9l.5-.3l.5-1.4l.5 .2l.5-.8l.5-.2l2 3.3l1-1.9l.5 .8l.5-1l.5-.7l1.5 3l.5 0l.5-.4l1-1.4l.5-1.7l1.5 2.1l.5-.8l.5-.4l.5-.7l1.5 .8l1.5 2l.5 .5l.5 0l.5-.2l.5 .2l.5 0l.5-.3l.5 .3l3 0l1-.2l.5 .2l7 0l.5-.1l.5 .1l1.5 0l1.5-.2l.5 0l.5 .2l2 0l.5-.2l.5 .2l11.5 0l.5-.2l.5 .2l.9 0z" fill="#c41230"/>
<line x1="214.90" y1="536.15" x2="299.70" y2="536.15" stroke="#eba6b3" stroke-width="0.45"/>
<text x="216.10" y="533.55" font-size="2.6" text-anchor="start" fill="#ababab" font-weight="normal">0 - [10,000]</text>
<path d="M215.7 536.1l5.5 0l1.5-3.1l.5 .7l.5-.7l.5 .5l.5-.4l.5 .2l1 1.7l.5-.1l.5-.6l.5 .5l1-2l1.5 3.1l.5 .2l.5 0l.5-.2l.5 .2l.5-.1l.5 .1l.5 0l.5-.1l.5 .1l1 0l.5-.3l.5 .3l1.5 0l.5-.3l.5 .3l.5-.3l.5 .1l.5 .2l3 0l.5-.3l.5 .3l1.5 0l.5-.2l.5 .2l.5 0l.5-.1l.5 .1l1 0l1-.4l2.5-1.8l.5 .6l.5-.1l.5 .6l.5-.7l.5 .5l.5 .8l.5-.9l.5-.4l.5 .5l.5-1l1 1.8l.5 .2l1-1.4l.5 .3l.5 .2l.5-.9l.5 .8l1-1.2l.5 .6l.5-.3l.5 .9l.5 .5l1.5-1.6l1 .6l.5-.2l.5 .9l.5-.2l.5 1l.5-.2l1-1.7l.5-.1l.5 .9l.5 0l.5-1l1 2.4l.5-.5l.5-1.1l.5-.5l1 2.1l.5 0l.5-.2l1-1.9l1 1.9l.5-.1l.5-1.2l1-.7l.5 0l.5 .8l.5 .1l.5-.5l1 .6l1-1.1l.5-.2l1 1.6l1 .9l2 0l.5-.2l.5 .2l1 0l.5-.3l.5 .3l.5 0l.5-.3l.5 .3l.5 0l.5-.2l.5 .2l.5-.2l.5 .2l1.2 0z" fill="#c41230"/>
<line x1="102.30" y1="541.14" x2="212.80" y2="541.14" stroke="#eba6b3" stroke-width="0.45"/>
<text x="103.50" y="538.54" font-size="2.6" text-anchor="start" fill="#ababab" font-weight="normal">0 - [20]</text>
<path d="M103.1 541.1l4.5 0l1-.3l.5 .3l3 0l.5-.2l.5 .2l.5-.3l.5 .3l.5 0l.5-.2l.5 .2l2 0l.5-.2l.5 .2l.5-.2l.5 .2l.5-.3l.5 .3l10 0l.5-.3l.5 .3l7.5 0l.5-.2l1 0l.5 .2l1.5 0l.5-.3l1 0l.5 .3l.5-.3l.5 .3l2 0l.5-.2l.5-.1l.5 .3l1 0l2-1.5l1.5 1.2l2-3.1l.5 .3l.5 .8l.5 0l.5-1.2l.5 1.1l.5-1l.5 1.4l.5 1l.5 .6l.5 .2l.5-.5l.5-.8l.5-.2l.5-.5l1 1l1-.8l.5 .4l.5 .1l1-1.8l.5 .5l.5 .9l.5-.4l.5 .1l.5 .4l1-1.4l1.5 2.3l.5-.6l.5-1.2l.5-.8l.5 1.3l.5-.5l.5-.2l.5 .2l1.5 2.5l.5 .2l1 0l.5-.3l1 .3l7 0l.5-.2l.5 .2l3 0l.5-.1l.5 .1l10.5 0l.5-.1l.5 .1l1 0l.5-.3l.5 .3l.5 0l.5-.4l.5 .4l.5 0l.5-.3l.5 .3l1 0l.5-.2l.5 .2l.5 0l.5-.2l.5 .2l.4 0z" fill="#c41230"/>
<line x1="214.90" y1="541.14" x2="299.70" y2="541.14" stroke="#eba6b3" stroke-width="0.45"/>
<text x="216.10" y="538.54" font-size="2.6" text-anchor="start" fill="#ababab" font-weight="normal">0 - [20]</text>
<path d="M215.7 541.1l0-.2l.5 .2l1-.1l.5-.2l.5 .3l1 0l.5-.3l.5 .3l1 0l1-1.3l.5-.4l.5 .3l.5-.4l1 1l.5 .3l1.5-1.3l.5 .3l.5-.1l.5-.7l.5 0l1.5 2.1l.5 .2l1 0l.5-.1l.5 .1l7.5 0l.5-.3l.5 .3l4 0l.5-.1l.5 .1l2 0l.5-.3l.5 .3l1 0l2.5-1.3l.5-.1l.5 .2l.5-.2l.5 .1l.5-.4l.5-.2l.5 .4l.5 0l.5 .4l.5-.1l.5 .6l.5 0l1-1.2l1-.2l1 1l.5-.6l.5-.1l.5 .6l1-.5l.5-.1l2 1.7l.5-.3l.5 .1l1.5-1.5l.5 .5l.5 0l.5-.4l1.5 1.1l.5-.8l.5-.2l1 .2l.5-.5l.5-.3l.5 .4l.5-.3l.5 .5l.5-.4l2 1.8l.5-.2l.5 .3l1 0l1.5-1.1l.5 0l.5 .4l.5 .1l1-.9l1 .6l.5 0l.5-.9l1 .9l.5-.3l.5 .7l.5-.8l.5 0l1 1.3l.5 0l.5-.2l.5 .2l.5 0l.5-.1l.5 .1l.5-.1l.5 .1l.5-.1l1.5 .1l.5-.3l.5 .3l.7 0z" fill="#c41230"/>
<line x1="102.30" y1="546.13" x2="212.80" y2="546.13" stroke="#eba6b3" stroke-width="0.45"/>
<line x1="103.30" y1="545.83" x2="211.80" y2="545.83" stroke="#c41230" stroke-width="0.6" stroke-dasharray="0.6 1.1"/>
<text x="103.50" y="543.53" font-size="2.6" text-anchor="start" fill="#ababab" font-weight="normal">0 - [50]</text>
<path d="M103.1 546.1l0-.3l.5-.1l.5 .4l.5-.4l.5 .4l1 0l.5-.4l.5 .4l2 0l.5-.3l.5 .3l2 0l.5-.2l.5 .2l3 0l.5-.4l1 .4l2.5 0l.5-.4l.5 .4l.5-.4l.5 .4l1 0l.5-.4l.5 .4l2.5 0l.5-.6l1 .2l.5 .4l.5-.6l.5 .6l3.5 0l1-.6l.5 .6l3 0l.5-.4l.5 .4l.5-.5l.5 .5l2 0l.5-.2l.5 .2l3.5 0l.5-.4l.5 .4l1 0l.5-.6l.5 .6l1.5 0l.5-.6l.5-.1l.5 .2l1-.6l.5 .2l.5-.3l.5 .1l.5 .6l.5-.2l.5-.1l.5 .5l1.5-.3l.5 .1l1-.2l2 .7l1.5 0l1.5-1.4l.5 .2l.5 .5l.5-.1l1-.3l.5 .4l1-.8l.5 .5l.5-.2l.5 .2l1-.3l1 .8l1-.5l1 .6l.5-.1l1-.7l.5-.2l1.5 1.3l.5-.5l.5 .6l.5 0l.5-.5l.5 .5l2 0l.5-.7l.5 .7l8 0l.5-.3l.5-.1l.5 .4l1 0l.5-.3l.5 .3l2 0l.5-.7l.5 .7l.5 0l.5-.5l1 .5l2.5 0l.5-.5l.5 .5l8.9 0z" fill="#c41230"/>
<line x1="214.90" y1="546.13" x2="299.70" y2="546.13" stroke="#eba6b3" stroke-width="0.45"/>
<line x1="215.90" y1="545.83" x2="298.70" y2="545.83" stroke="#c41230" stroke-width="0.6" stroke-dasharray="0.6 1.1"/>
<text x="216.10" y="543.53" font-size="2.6" text-anchor="start" fill="#ababab" font-weight="normal">0 - [50]</text>
<path d="M215.7 546.1l1 0l1-.4l.5 .4l.5 0l.5-.4l.5 .4l.5 0l.5-.6l.5 .6l1.5-1.2l.5-.1l.5 .3l.5-.2l1 0l1.5 .9l.5 0l.5 .3l1 0l.5-.2l.5 .2l.5 0l.5-.2l.5 .2l1 0l.5-.4l.5 .4l2 0l.5-.5l.5 .5l1.5 0l1-.6l.5 .6l1.5 0l.5-.3l.5 .3l2.5 0l.5-.4l.5 .4l.5 0l.5-.2l.5 .2l.5 0l.5-.6l.5 .6l1 0l2-1.2l1.5 .9l1.5-.6l1 .5l1-.8l1 .8l2-.5l.5 .2l.5-.3l1-.2l1.5 .7l.5 0l.5 .5l1 0l1.5-.7l.5 .5l.5-.5l.5-.2l.5 .6l.5-.5l.5 .2l.5 0l.5 .4l2-.4l1-.5l.5 .2l1-.1l.5 .3l.5 .2l1-.4l1.5 .6l.5-.3l.5-.1l1 .5l1-.6l1-.4l1 .5l.5-.2l.5-.1l1 .5l.5-.3l.5 .1l.5 0l1-.5l1 .3l.5 .4l.5 .1l1.5-.5l.5 .1l.5-.1l.5-.2l2.5 .7l1-.2l.5-.5l1 .9l.5 .2l.7 0z" fill="#c41230"/>
<line x1="102.30" y1="551.12" x2="212.80" y2="551.12" stroke="#eba6b3" stroke-width="0.45"/>
<text x="103.50" y="548.52" font-size="2.6" text-anchor="start" fill="#ababab" font-weight="normal">0 - [10,000]</text>
<path d="M103.1 551.1l.5 0l1-.5l1 .5l.5 0l.5-.2l.5 .2l10.5 0l.5-.5l.5 0l.5 .5l1 0l.5-.2l.5 .2l.5 0l.5-.2l.5 .2l.5-.3l.5 .3l2 0l.5-.4l.5 .4l.5-.1l.5 .1l3.5 0l.5-.4l.5-.1l.5 .5l3.5 0l.5-.3l.5 .3l.5-.2l.5 .2l6 0l.5-.5l.5 0l.5 .5l.5 0l.5-.2l.5 .2l.5-.5l.5 .5l3 0l1-.2l.5-1.1l.5-.1l.5 .4l.5-.5l.5-.3l2 1.5l1.5-.9l.5 .1l1.5 .9l.5-.1l.5-.3l.5-.6l.5-.1l1 1.1l.5 .2l1-1.3l.5-.5l.5 .9l.5-.2l.5 .2l.5-.4l.5 0l.5 .3l.5-.8l.5 .4l.5 .8l.5-.7l.5-.1l.5 .2l.5-.5l1 1l.5-.7l1-.2l.5 .8l.5-.6l.5-.2l1 1.6l.5-.4l.5 .4l2 0l.5-.2l.5 .2l.5 0l.5-.2l.5 .2l6.5 0l.5-.4l1 .4l.5 0l.5-.5l.5 .5l3 0l.5-.5l.5 .5l2 0l.5-.4l.5 .4l.5-.3l.5 .3l1 0l.5-.4l1 .4l1.5 0l.5-.3l.5 .3l4 0l.5-.2l.5 .2l.5-.5l.5 .5l1.4 0z" fill="#c41230"/>
<line x1="214.90" y1="551.12" x2="299.70" y2="551.12" stroke="#eba6b3" stroke-width="0.45"/>
<text x="216.10" y="548.52" font-size="2.6" text-anchor="start" fill="#ababab" font-weight="normal">0 - [10,000]</text>
<path d="M215.7 551.1l.5 0l.5-.3l.5 .3l1.5 0l1-.4l.5 .4l.5 0l.5-.3l.5 .1l.5-1.1l1 .6l.5-.5l.5-.3l.5-.7l.5 .1l1.5 1.7l1-.9l.5 .2l1 .9l.5 0l.5 .2l.5 0l.5-.4l.5 .4l5.5 0l.5-.3l.5 .3l1.5 0l.5-.2l.5 .2l.5 0l.5-.2l.5 .2l2.5 0l.5-.3l.5 .3l1 0l.5-.3l.5 .3l2 0l.5-.2l.5 .2l1 0l.5-.2l1 0l2-1.1l.5-.4l1 .8l.5 .2l1-1l1 .9l.5-.4l.5 1l.5 .2l1 0l.5-.5l.5 .3l1-1.4l.5 .1l.5 .5l.5-.2l.5-.7l.5 .3l.5 0l.5 .6l1 .4l.5 .1l1.5-1.4l1 .7l.5-.5l1 .9l.5-.2l.5-1l.5 1.1l.5 0l1-.7l1 .1l.5-.5l.5 .5l.5-.4l.5 .8l.5 .3l1.5-.7l.5 .3l1-.6l1.5 1.8l1-.5l1-1.3l.5 0l.5-.4l.5 .3l1 .9l.5 .3l.5-.3l.5 0l.5-.2l.5-.8l.5 1.2l.5 .6l.5 .1l2-1.6l.5 .3l1.5 1.4l.5 0l.5-.4l.5 .4l.5-.3l.5 0l.2 .3z" fill="#c41230"/>
<line x1="102.30" y1="556.11" x2="212.80" y2="556.11" stroke="#eba6b3" stroke-width="0.45"/>
<text x="103.50" y="553.51" font-size="2.6" text-anchor="start" fill="#ababab" font-weight="normal">0 - [20]</text>
<path d="M103.1 556.1l.5 0l.5-.4l.5 .4l1 0l.5-.3l.5 0l.5 .3l2.5 0l.5-.2l.5 .2l.5 0l.5-.3l.5 .3l.5-.3l.5 .3l.5-.5l.5 .5l4.5 0l.5-.1l.5 .1l.5-.2l.5 .2l1 0l1-.4l.5 .4l.5 0l.5-.5l.5 .5l2 0l.5-.2l.5 .2l5 0l.5-.2l.5 .2l.5-.2l.5 .2l.5 0l.5-.3l.5 .3l3 0l.5-.4l.5 .4l.5-.3l.5 .3l2.5 0l.5-.5l.5 0l.5 .5l1-.2l.5 .2l1 0l.5-.3l.5 .3l2 0l.5-.5l.5-2.8l.5 2.6l.5 .7l.5 0l1-.8l1.5-2.3l1.5 1.7l.5-.2l.5-.1l1 .9l.5-.9l.5-1.4l.5 .9l.5 1.4l.5 .5l1.5-2.1l.5-.2l.5 .8l.5 .3l.5-.4l2 1.7l.5-.4l1.5-2.5l.5 .5l.5 1l1-.7l.5 .1l.5-.3l.5-.5l.5 .6l.5-.3l.5 1l.5 .4l.5-.3l.5 .1l.5-.7l.5 1.1l1.5 1.1l4.5 0l.5-.2l.5 .2l.5-.3l.5 .3l4 0l.5-.4l.5 .4l.5-.3l.5 .3l2.5 0l.5-.2l.5 .2l.5-.3l.5 .3l.5-.3l.5 .3l2 0l.5-.4l.5 .4l3 0l.5-.4l.5 0l.5 .4l.5 0l.5-.4l.5 .4l1 0l.5-.5l.5 .5l2.5 0l.5-.4l.5 .4l1.4 0z" fill="#c41230"/>
<line x1="214.90" y1="556.11" x2="299.70" y2="556.11" stroke="#eba6b3" stroke-width="0.45"/>
<text x="216.10" y="553.51" font-size="2.6" text-anchor="start" fill="#ababab" font-weight="normal">0 - [20]</text>
<path d="M215.7 556.1l2 0l.5-.1l1 .1l.5-.4l.5 .4l1 0l.5-.2l.5-.5l1-1.8l.5 .3l.5 1.1l.5 .4l.5-.3l.5 .2l.5 .8l.5-.4l.5 .1l1.5-1.6l.5 0l1.5 1.7l.5-.1l.5 .3l1-.4l1 .4l.5 0l.5-.4l.5 .4l3 0l.5-.4l.5 .4l1.5 0l.5-.4l.5 .4l1 0l.5-.4l.5 .4l1 0l1-.2l.5-.2l.5-.1l.5 .2l.5 .3l1.5 0l.5-.2l.5 .2l1.5 0l1.5-1.6l.5-.3l.5 .2l.5 .5l1-.8l1 .3l.5 .6l.5 .8l.5 0l.5 .3l.5-1.5l.5 .3l.5-.7l.5 .3l.5 .7l1.5-1.7l1 1.2l.5 .2l.5-.1l.5 0l.5 .5l.5 .2l1-1.1l.5-.3l1.5 1.6l.5 0l1-1.8l.5 .5l.5-.1l.5 .2l.5-.1l.5-.7l.5 .9l.5-.2l2 1l.5-.2l.5-1.5l.5 .4l.5 .2l.5-.1l.5-.4l1 1.4l.5-.5l.5 0l1 .8l1.5-1.5l.5-.2l.5 .5l.5 .2l.5 .9l.5 .3l1-.9l.5-.1l.5 .4l.5 0l1.5-1.4l1.5 1.6l1-1.2l1 .1l1 1.1l.5-.4l.5-.2l1 1.4l1 0l.5-.5l.5 .5l.2 0z" fill="#c41230"/>
<line x1="102.30" y1="561.10" x2="212.80" y2="561.10" stroke="#eba6b3" stroke-width="0.45"/>
<line x1="103.30" y1="560.80" x2="211.80" y2="560.80" stroke="#c41230" stroke-width="0.6" stroke-dasharray="0.6 1.1"/>
<text x="103.50" y="558.50" font-size="2.6" text-anchor="start" fill="#ababab" font-weight="normal">0 - [50]</text>
<path d="M103.1 561.1l.5-.4l.5 .1l.5 .3l2 0l.5-.4l.5 .4l4.5 0l.5-.3l.5 .3l1.5 0l.5-.5l.5-.1l.5 .6l1.5 0l.5-.2l.5 .2l.5-.4l.5 .4l3 0l.5-.3l.5 .3l2 0l.5-.3l.5 .3l.5-.5l.5 .1l.5 .4l.5-.6l.5 .6l1.5 0l.5-.4l.5 .4l3 0l.5-.5l.5 .5l2 0l.5-.2l.5 .2l.5-.4l.5 .4l1.5 0l.5-.4l.5 .4l2.5 0l.5-.4l.5 .4l2.5 0l.5-.4l.5 .4l1 0l.5-1.3l.5-.1l.5-.7l.5-.3l.5 0l.5-.5l.5 0l1 2l1 .8l1-2.8l.5 1.5l.5 .6l1-1.4l.5-.5l.5 .7l.5 0l.5-.6l1 1l.5 .1l.5-.4l.5-1l.5 .1l.5 1.1l.5-.5l.5 .5l.5 1.7l.5-2.2l.5 .3l.5 1.6l2-3.1l1 1l.5-.1l.5 1l.5 .6l2-2.3l2 2.9l.5 .3l1.5 0l.5-.6l.5 .6l1 0l.5-.3l.5 .3l1.5 0l.5-.4l.5 .4l2 0l.5-.6l.5 .6l.5 0l.5-.6l.5 .6l2 0l.5-.3l.5 .3l5 0l.5-.4l.5 .4l4 0l.5-.6l.5 .6l.5-.5l.5 .5l4 0l.5-.4l.5 .4l4.4 0z" fill="#c41230"/>
<line x1="214.90" y1="561.10" x2="299.70" y2="561.10" stroke="#eba6b3" stroke-width="0.45"/>
<line x1="215.90" y1="560.80" x2="298.70" y2="560.80" stroke="#c41230" stroke-width="0.6" stroke-dasharray="0.6 1.1"/>
<text x="216.10" y="558.50" font-size="2.6" text-anchor="start" fill="#ababab" font-weight="normal">0 - [50]</text>
<path d="M215.7 561.1l2 0l.5-.5l1 .5l1 0l.5-.2l2-2.6l1 .9l.5-.7l1 1.3l.5-.2l.5-.4l2 1.9l1 0l.5-.2l.5 .2l3.5 0l.5-.4l.5 .4l.5-.3l.5 .3l.5 0l.5-.4l.5 .4l.5 0l.5-.3l.5 .3l.5-.5l.5 0l.5 .5l12 0l2-2.3l1 .6l.5 .1l1-.3l.5 .4l.5 .6l.5-1.3l.5 1l.5 0l1-1l.5 .1l.5 .3l.5 0l1.5 1.3l.5-.8l.5-.4l.5 1.1l.5-.8l.5-.4l.5 1.2l.5-.9l.5 .2l1-.5l2 1.6l1.5-2.1l.5 .5l.5-.6l.5 .8l.5 .5l1-.6l.5-.8l1 1.2l.5-.6l.5 1.2l.5-1.3l.5 1.1l.5 .3l.5-.6l.5-.3l.5 1.1l.5 .4l1 0l2-1.9l.5-.4l.5 1l.5-.6l.5-.1l1 1.2l1-1l.5-.1l1 .2l1 .7l.5-.1l.5-.6l.5 0l.5 .7l.5-.6l1 1.6l.5-.2l1.5-2.2l1.5 2l.5 .4l.5 0l.5-.5l.2 .5z" fill="#c41230"/>
<line x1="102.30" y1="566.09" x2="212.80" y2="566.09" stroke="#eba6b3" stroke-width="0.45"/>
<text x="103.50" y="563.49" font-size="2.6" text-anchor="start" fill="#ababab" font-weight="normal">0 - [10,000]</text>
<path d="M103.1 566.1l.5 0l.5-.3l.5 .3l3.5 0l.5-.5l.5 .5l.5 0l.5-.3l.5 .3l3.5 0l.5-.4l.5 .4l1 0l.5-.5l.5 .5l1 0l.5-.3l.5 .3l1.5 0l.5-.3l.5 .3l5 0l.5-.4l.5 .4l2 0l1-.5l.5 .5l2.5 0l.5-.5l.5 .5l1 0l.5-.4l.5 .4l.5 0l.5-.3l.5 .3l3 0l.5-.2l.5 .2l2 0l.5-.5l1 .5l.5-.2l.5 .2l1.5 0l.5-.5l1.5-2.9l.5-.5l.5 .7l.5 0l.5-1l.5 .3l.5 .7l.5-.6l.5 .6l3 0l.5-.8l.5 .8l.5 0l.5-1.1l.5 .6l.5 .5l.5-.4l.5 .4l1 0l.5-.3l.5 .3l1-.2l1 .2l.5-.9l.5 .7l.5 .2l1-.4l.5 .4l2.5 0l.5-.8l.5 .8l.5-.9l.5 .3l.5 .5l2.5 .1l.5 3.2l2 0l.5-.3l.5 .3l3.5 0l.5-.3l.5 .3l1.5 0l.5-.4l.5 .4l.5 0l.5-.4l.5 .4l3 0l.5-.2l.5 .2l3 0l.5-.2l.5 .2l1.5 0l.5-.5l1.5 .2l.5 .3l.5-.4l.5 .4l1.5 0l.5-.3l.5 .3l1 0l.5-.4l.5 .4l6.9 0z" fill="#c41230"/>
<line x1="214.90" y1="566.09" x2="299.70" y2="566.09" stroke="#eba6b3" stroke-width="0.45"/>
<text x="216.10" y="563.49" font-size="2.6" text-anchor="start" fill="#ababab" font-weight="normal">0 - [10,000]</text>
<path d="M215.7 566.1l0-.3l.5-.1l.5 .4l.5-.5l.5 .5l1 0l1-.9l1.5-2.3l.5-.1l.5 .8l.5-.7l.5 .4l1.5 2.2l.5-.6l1-1.9l.5 .4l.5 .9l.5 0l1 1.5l.5 .1l.5 .2l1 0l.5-.4l.5 .2l1-.2l.5 .4l1 0l.5-.2l.5 .2l.5 0l.5-.5l.5 .5l.5 0l.5-.3l.5-.1l.5 .4l1 0l.5-.4l.5 0l.5 .4l1.5 0l.5-.3l.5 .3l.5 0l.5-.5l.5 .5l4 0l.5-.4l.5 0l1.5-1.8l.5-.2l.5 .2l.5 0l.5 1.1l.5-.2l.5-.8l.5-.4l.5-.2l.5 .8l.5-1l.5-.2l.5 1l.5 .2l1-1.2l1.5 2l.5-.3l.5-1.1l.5-.2l.5 .2l1 1.2l.5-.3l.5-1.4l1.5 3l.5 0l.5-.4l.5 .1l1-1.4l.5 0l.5 .4l.5-.4l1.5 1l.5-.4l1-1.8l.5 .2l1 1.8l1-.5l.5-.7l.5-.4l.5 .6l.5 .4l.5 .2l.5-1.3l.5 .9l.5-1l1 1l1 .4l1-1.9l1 0l.5 .9l.5-.3l1 1.1l1-1l1.5 1.7l.5-.8l.5 0l.5-.8l.5-.2l.5 .2l.5 .5l.5 1.1l.5-.2l.5-.4l.5-1l.5 .3l.5 .7l.5 .2l.5-1l1 2.2l1.5 0l.5-.4l.5 .4l.2 0z" fill="#c41230"/>
<line x1="102.30" y1="571.08" x2="212.80" y2="571.08" stroke="#eba6b3" stroke-width="0.45"/>
<text x="103.50" y="568.48" font-size="2.6" text-anchor="start" fill="#ababab" font-weight="normal">0 - [20]</text>
<path d="M103.1 571.1l1 0l.5-.2l.5 .2l1 0l.5-.3l.5 .3l1 0l.5-.4l.5 .4l3.5 0l.5-.3l.5 .3l.5 0l.5-.4l.5 .4l2.5 0l1-.3l.5 .3l3 0l.5-.2l.5 .2l1 0l.5-.3l.5 .3l4 0l1-.2l.5 .2l.5 0l.5-.2l.5 .2l10 0l.5-.5l.5 .5l.5 0l.5-.3l.5 .3l.5 0l.5-.2l.5 .2l1 0l.5-.5l.5 .3l.5-.2l.5 .4l.5-.2l.5-3l1 0l.5-.2l.5-.6l.5 .8l2 0l.5-.9l.5 .1l1 .8l.5-.4l.5-.8l.5 1l.5 .2l2.5 0l1-1l.5 0l1 1l1 0l.5-.2l.5-.9l.5 .8l.5-.1l.5 .3l1 .1l.5-.1l1.5 .1l.5-.5l.5 .1l.5 .4l3 0l.5-.3l.5 0l1.5 3.5l.5-.4l.5 .1l.5 .3l.5-.4l.5 .4l1 0l.5-.4l.5 .4l8 0l.5-.4l.5 0l.5 .4l.5 0l.5-.4l.5 .4l.5-.3l.5 .3l2 0l.5-.2l.5 .2l1 0l.5-.4l.5 .4l2.5 0l.5-.3l.5 .3l.5 0l.5-.5l.5 .1l.5 .4l1 0l.5-.2l.5 .2l3 0l.5-.4l.5 .4l1 0l.5-.4l.4 .4z" fill="#c41230"/>
<line x1="214.90" y1="571.08" x2="299.70" y2="571.08" stroke="#eba6b3" stroke-width="0.45"/>
<text x="216.10" y="568.48" font-size="2.6" text-anchor="start" fill="#ababab" font-weight="normal">0 - [20]</text>
<path d="M215.7 571.1l.5 0l.5-.5l.5 .5l1 0l.5-.5l1 .5l1 0l.5-.7l.5-1.6l.5 2.1l1 .2l.5-.3l.5-.9l.5-.4l.5 0l1-1.5l.5-.2l2 3.3l4.5 0l.5-.3l.5 .3l13 0l.5-.2l.5 .2l1 0l.5-.5l.5 .5l.5 0l.5-.6l1-2.2l1 .5l.5 .4l1-1.7l.5 .8l.5-.3l.5 1.7l.5 0l.5-1.9l.5 .1l.5 1.2l.5-.3l.5 0l.5 .7l.5-.3l1-1.6l1.5 2.4l.5-.4l1-2.1l.5 .6l1.5 3l1 0l.5-.3l1-1.4l.5-.5l.5 .7l.5-.1l.5-1.5l.5 1.1l.5-.1l.5-1.3l.5 1.1l.5 .8l.5-.1l.5-1.5l.5 1l.5 .2l.5-1.1l.5 1.3l.5-.5l.5 1.2l.5-1.1l.5 1.2l.5 .9l.5 0l1-1.4l.5-1.3l.5 0l.5 .9l1 1l.5-.5l.5-1l.5-.2l1 1.1l1-1.1l.5-.4l1 1.3l.5 .1l1-1.2l.5-.2l1 1.4l.5 .3l.5-1.5l1-.6l.5 1l.5 .6l1-1.5l.5 .3l2 2.9l.5 0l.5-.5l.5 .2l.2 .3z" fill="#c41230"/>
<line x1="102.30" y1="576.07" x2="212.80" y2="576.07" stroke="#eba6b3" stroke-width="0.45"/>
<line x1="103.30" y1="575.77" x2="211.80" y2="575.77" stroke="#c41230" stroke-width="0.6" stroke-dasharray="0.6 1.1"/>
<text x="103.50" y="573.47" font-size="2.6" text-anchor="start" fill="#ababab" font-weight="normal">0 - [50]</text>
<path d="M103.1 576.1l1 0l.5-.4l.5 .4l.5 0l1-.5l1 .5l.5-.3l.5 .3l6.5 0l.5-.3l.5 .3l1 0l.5-.4l.5 .4l3.5 0l.5-.2l.5 .2l1 0l.5-.4l.5 .4l2 0l.5-.4l.5 .4l2 0l1-.5l.5 .1l.5 .4l.5-.4l.5 0l.5 .4l.5 0l.5-.4l.5 .4l3 0l.5-.4l.5 .4l.5 0l.5-.2l.5 .2l1 0l.5-.3l.5 .3l.5-.3l.5 .3l1.5 0l.5-.4l.5 .4l.5-.3l.5 .3l.5 0l.5-.3l.5 .3l6 0l.5-.4l.5 .4l5.5 0l.5-.4l.5 .4l.5-.2l1.5-.9l.5 0l.5 .3l.5-.1l1-.8l.5-.1l.5-.3l.5 .1l.5-.1l1 .8l.5 .1l.5-.4l1.5 1.6l.5 0l.5-.5l.5 .5l.5 0l.5-.3l.5 .3l2 0l.5-.4l.5 .4l.5 0l.5-.3l.5 .3l2 0l1-.7l.5-.8l.5 .1l.5 .7l.5-.3l1-.3l.5 .1l.5-.2l1 1.4l.5-1l.5-.7l.5 .8l.5 .3l1-1.3l1 1.1l1-.7l1 .7l.5-.2l.5-.8l.5 .4l.5 0l.5 .6l.5 .3l1-.9l1 .8l.5-.6l1 .7l.5-.1l.5-1l.5 .5l.5 .7l.5 .4l.5-.2l.5 .2l6.5 0l.5-.4l1 .4l.9 0z" fill="#c41230"/>
<line x1="214.90" y1="576.07" x2="299.70" y2="576.07" stroke="#eba6b3" stroke-width="0.45"/>
<line x1="215.90" y1="575.77" x2="298.70" y2="575.77" stroke="#c41230" stroke-width="0.6" stroke-dasharray="0.6 1.1"/>
<text x="216.10" y="573.47" font-size="2.6" text-anchor="start" fill="#ababab" font-weight="normal">0 - [50]</text>
<path d="M215.7 576.1l1.5 0l.5-.4l.5 .4l1 0l.5-.3l.5 .3l.5 0l2-2l.5-.1l1.5 1.4l.5 .2l1-1.1l.5 0l1-.3l.5-.1l1 1.8l.5 .2l.5-.5l1 .1l.5 .4l1.5 0l1-.3l.5 .3l1 0l.5-.4l.5 .4l2 0l.5-.3l.5 .3l3 0l.5-.4l.5 .4l2.5 0l.5-.4l.5 .4l3.5 0l.5-.3l.5-.4l.5-1.3l1-.1l1 .1l.5-.2l.5 .2l.5 0l.5-.2l1-.1l1 .3l.5-.4l.5 .4l2 0l.5-.6l.5 .5l.5-.4l.5 0l.5 .5l.5 0l.5-.5l.5 .4l1.5 .1l.5-.4l.5 0l.5-.2l.5 .6l.5-.1l1.5 .1l.5-.2l.5 .2l.5 0l1-.5l.5 .5l5 0l.5-.1l.5-.6l1 .7l.5-.4l.5-.2l.5 .6l1 0l.5-.4l.5-.1l.5 .2l.5-.4l.5 .7l1 0l.5-.4l.5 .4l.5-.1l.5 .1l.5-.1l.5 0l.5 1l1 1.1l.5-.3l.5 .3l6.7 0z" fill="#c41230"/>
<line x1="102.30" y1="581.06" x2="212.80" y2="581.06" stroke="#eba6b3" stroke-width="0.45"/>
<text x="103.50" y="578.46" font-size="2.6" text-anchor="start" fill="#ababab" font-weight="normal">0 - [10,000]</text>
<path d="M103.1 581.1l.5-.2l.5 .2l3 0l.5-.2l1 .2l.5-.4l.5 .4l5 0l.5-.4l.5 .4l1 0l.5-.4l.5 0l.5 .4l.5 0l.5-.2l.5 .2l2 0l.5-.3l.5 .3l1-.3l.5 .3l.5 0l.5-.4l.5 .4l.5-.4l.5 .4l4.5 0l.5-.3l.5-.1l.5 .4l.5 0l.5-.3l1 .3l.5-.3l.5 .3l1 0l.5-.4l.5 .1l.5 .3l2 0l.5-.4l.5 .4l1 0l.5-.2l.5 .2l3 0l.5-.4l.5 .4l.5 0l.5-.2l.5 .2l3.5 0l.5-.2l.5 .2l.5-.3l.5 .3l1 0l.5-.3l.5 .3l6 0l.5-.6l1.5-3.6l.5 .2l1 1.4l.5 .2l1 1.8l.5 .6l.5 0l1-2.7l.5-.7l.5 1.4l.5-.7l.5 .1l.5 1.7l.5 0l1.5-2.8l.5-.2l1 1.3l.5-1l2 3.2l.5 .4l1.5 0l.5-.4l.5 .4l1.5 0l.5-.3l.5-.1l1-2.1l.5-.8l.5-.3l.5 .5l.5 .9l.5 .1l.5-1.1l.5-.1l.5 1.1l1-.1l1 1.8l.5 .5l.5-.2l1-2.8l.5-.6l.5 .4l1 0l.5 1.3l.5-.3l.5 .5l.5-1.6l.5 .7l.5-1.2l.5 1l.5-.2l.5 .3l2 2.7l1 0l1-3.5l1.5 3.5l3 0l.5-.2l1 .2l1.5-.4l.5 .4l.5 0l.5-.4l.4 .4z" fill="#c41230"/>
<line x1="214.90" y1="581.06" x2="299.70" y2="581.06" stroke="#eba6b3" stroke-width="0.45"/>
<text x="216.10" y="578.46" font-size="2.6" text-anchor="start" fill="#ababab" font-weight="normal">0 - [10,000]</text>
<path d="M215.7 581.1l.5-.2l.5 .2l1-.2l.5 .2l1 0l.5-.3l.5 .3l.5-.5l1.5-2.1l.5 .8l.5 .2l.5-.9l.5 1.3l.5-.2l1.5 1.4l8.5 0l.5-.2l.5 .2l.5-.4l.5 .4l2 0l.5-.2l.5 .2l7.5 0l.5-.2l.5 .2l.5-.4l.5 .4l.5 0l.5-.3l.5 .3l.5-.2l1 .2l.5-.5l1-1.6l.5-.3l1 1.5l1.5 .9l1.5-1.9l.5-.1l1 1.3l.5 .4l1-.7l.5-.6l.5 .3l.5-.6l.5 .6l.5 0l.5-.4l1 .9l.5-.7l.5 .2l1-1.2l.5 0l.5 .7l.5 .3l.5-.5l1 1l.5 0l.5-.4l.5-.1l1-1.1l.5 1l1-1l1 1.1l.5-.1l.5-.2l1 1.3l.5 .1l1-1.9l.5-.1l.5 1l.5-.1l.5 1.3l.5-.6l.5-.9l.5-.3l.5 .1l.5-.5l.5-.2l.5 .8l.5 0l1-1.2l1.5 2.6l.5 .4l3 0l.5-.4l1 .4l.5-.2l.5 .2l.5-.4l.5 .4l2.5 0l.5-.3l.5 .3l1.2 0z" fill="#c41230"/>
<line x1="102.30" y1="586.05" x2="212.80" y2="586.05" stroke="#eba6b3" stroke-width="0.45"/>
<text x="103.50" y="583.45" font-size="2.6" text-anchor="start" fill="#ababab" font-weight="normal">0 - [20]</text>
<path d="M103.1 586.0l1.5 0l.5-.3l1 .3l1.5 0l.5-.1l.5 .1l.5-.1l.5 .1l2.5 0l.5-.3l.5 .3l3.5 0l.5-.3l.5 .3l.5 0l.5-.2l.5 .2l.5-.2l.5 .2l1 0l1-.3l1 .3l3 0l.5-.1l.5 .1l3 0l.5-.3l.5 .3l.5 0l.5-.3l.5 .3l6 0l.5-.3l.5 .3l.5-.3l.5 .3l.5-.3l.5 .3l8 0l.5-.1l.5 .1l1.5 0l.5-.3l.5 .3l1-.1l.5 .1l.5-.3l.5 .3l3.5 0l.5-.2l.5 .2l.5 0l.5-.3l1 .3l.5 0l2-3.2l.5 1l.5 .1l1 1.9l.5-1.2l.5-.1l.5-1.7l.5 3l.5 .2l.5 0l.5-.1l.5-.4l.5-2l1.5-.8l.5 .4l1 2.6l1 .3l2 0l.5-.1l.5 .1l2.5 0l.5-.8l.5-2l.5 .5l.5 2l.5-.4l.5-2l1 1.8l1.5-2.3l.5 .8l.5-.6l.5 .6l1 1.8l.5-.4l1-1.7l.5 .2l.5-.9l.5 .8l1.5 .5l.5-.7l.5 .4l.5 .7l.5-.3l.5-.8l.5-.4l.5 .8l1 .1l1 1.9l.5-.8l.5-1.4l.5 .6l.5-.4l1-.5l.5-.4l1 2.5l.5 .8l.5-.3l.5 .3l2.5 0l.5-.2l.5 .2l3.9 0z" fill="#c41230"/>
<line x1="214.90" y1="586.05" x2="299.70" y2="586.05" stroke="#eba6b3" stroke-width="0.45"/>
<text x="216.10" y="583.45" font-size="2.6" text-anchor="start" fill="#ababab" font-weight="normal">0 - [20]</text>
<path d="M215.7 586.0l0-.3l.5 .3l.5 0l.5-.3l.5 .3l3.5 0l2-2.2l.5 .3l.5 .6l.5-1.1l1 1.8l1 .4l.5-.7l.5-1.2l1 1.8l.5 .3l.5 0l.5-.2l.5 .2l3.5 0l.5-.2l.5 .2l8 0l.5-.3l.5 .3l.5-.2l.5 .2l.5-.3l.5 .3l1.5 0l1-.2l.5 .2l.5 0l2.5-1.5l1 .4l.5 .3l.5-.3l1 .4l1-.9l.5 .5l.5-.5l.5 .2l1-.3l.5-.1l1 1.1l.5 .4l.5 0l1.5-1.1l.5-.1l1 .8l1-.8l1 .1l.5 .6l.5 0l.5 .2l.5-.3l.5-.8l.5 .6l.5 .1l1 .7l.5-.1l1-.9l.5-.1l1 .9l.5-.2l.5-.6l.5 .2l.5 .6l1 .5l2-.3l2-1l.5-.5l.5 .4l.5 0l.5-.5l.5 .6l.5-.2l1 .9l.5-.7l.5-.3l2.5 1.6l.5-.2l.5-.1l.5 .3l5.5 0l.5-.1l.5 .1l2.7 0z" fill="#c41230"/>
<line x1="102.30" y1="591.04" x2="212.80" y2="591.04" stroke="#a9c4dd" stroke-width="0.45"/>
<line x1="103.30" y1="590.74" x2="211.80" y2="590.74" stroke="#2b65a3" stroke-width="0.6" stroke-dasharray="0.6 1.1"/>
<text x="103.50" y="588.44" font-size="2.6" text-anchor="start" fill="#ababab" font-weight="normal">0 - [50]</text>
<path d="M103.1 591.0l1 0l.5-.8l.5 .8l1 0l.5-.6l.5 .6l.5 0l.5-.3l.5 .3l.5 0l.5-.5l.5 .5l1.5 0l.5-.7l1 .1l.5 .6l5 0l.5-.8l.5 .2l.5 .6l3.5 0l.5-.4l.5 .4l2 0l.5-.5l.5 .5l7.5 0l.5-.7l.5 .7l.5 0l.5-.6l.5 .6l.5 0l.5-.7l.5 .7l3 0l.5-.3l.5 .3l3.5 0l.5-.7l1 .7l2.5 0l.5-.6l.5-.3l.5 .9l1-.7l.5 .7l2 0l.5-.8l.5 .8l2.5 0l.5-.6l.5 .1l.5-.4l.5 .2l.5 .7l3.5 0l.5-.5l.5 .1l.5 .4l1-.5l.5 .5l.5 0l.5-.8l.5 .8l.5 0l.5-.7l.5 .7l.5 0l.5-.6l.5-.1l.5 .7l.5-.8l.5 .8l.5-.7l.5 .7l.5-.6l.5 .6l.5-.6l.5 .6l.5-.6l.5 .6l2.5 0l.5-.8l.5 .8l1 0l.5-.6l.5 .6l.5 0l.5-.5l.5 .2l.5-.4l.5 .7l7 0l1-.6l.5 .6l6.5 0l.5-.9l.5 .9l2.5 0l.5-.5l.5-.1l.5 .6l.5 0l.5-.6l.5 .6l.5 0l.5-.3l.5 .3l1 0l.5-.7l.5 .2l.5 0l.4 .5z" fill="#2b65a3"/>
<line x1="214.90" y1="591.04" x2="299.70" y2="591.04" stroke="#a9c4dd" stroke-width="0.45"/>
<line x1="215.90" y1="590.74" x2="298.70" y2="590.74" stroke="#2b65a3" stroke-width="0.6" stroke-dasharray="0.6 1.1"/>
<text x="216.10" y="588.44" font-size="2.6" text-anchor="start" fill="#ababab" font-weight="normal">0 - [50]</text>
<path d="M215.7 591.0l0-.4l.5 .4l.5-.2l.5 .2l.5-.6l.5 0l.5 .6l.5-.7l.5 .7l.5-.3l.5 .3l1.5 0l.5-.4l.5 .3l1-.7l.5 0l.5 .3l.5-.1l.5 .6l6 0l.5-.5l.5 .5l3 0l.5-.5l.5 .1l.5 .4l.5-.4l.5 .4l.5 0l.5-.8l.5 .8l2 0l.5-.6l.5 .6l2.5 0l.5-.7l.5 .7l1.5 0l.5-.3l.5 .3l5 0l1-.7l.5 .7l1.5 0l.5-.5l.5 .5l1.5 0l.5-.7l.5 .7l1 0l.5-.3l.5 .3l4 0l.5-.6l.5 .6l1 0l.5-.5l.5 .5l3 0l.5-.6l.5 .6l1 0l.5-.6l.5 .6l.5-.7l.5 .7l.5 0l.5-.5l.5 .5l1.5 0l.5-.6l.5 .6l.5-.7l.5 .7l5 0l.5-.4l.5 .4l.5-.8l.5 .8l1.5 0l.5-.7l.5 .2l.5 0l.5 .5l.5 0l.5-.4l.5 .4l1.5 0l.5-.7l.5 .7l.5-.8l.5 .8l1 0l.5-.7l.2 .7z" fill="#2b65a3"/>
<line x1="102.30" y1="596.03" x2="212.80" y2="596.03" stroke="#a9c4dd" stroke-width="0.45"/>
<text x="103.50" y="593.43" font-size="2.6" text-anchor="start" fill="#ababab" font-weight="normal">0 - [10,000]</text>
<path d="M103.1 596.0l0-.2l.5 .2l1.5 0l.5-.3l1 .3l.5 0l.5-.3l.5 .3l2 0l.5-.1l.5 0l.5 .1l.5-.2l.5 .2l1 0l.5-.2l.5 .2l5 0l.5-.1l.5 .1l.5-.2l1.5 0l.5 .2l3 0l.5-.3l.5 .3l3.5 0l.5-.2l.5 .2l4.5 0l.5-.2l.5 .2l.5-.2l.5 .2l1.5 0l.5-.2l1 .2l3.5 0l.5-.1l.5 .1l2.5 0l.5-.2l.5 .2l3.5 0l1-.2l.5 .2l3.5 0l.5-.3l.5 .3l1 0l1-.8l.5 .6l.5 .2l.5 0l1.5-2l.5-1.1l.5-.1l.5 1.1l.5-.3l.5-.9l.5-.2l.5 .8l.5 .6l.5-.6l.5 2.4l.5 .3l.5-.1l.5 .1l2 0l.5-.2l.5-1.6l1-.1l.5-.2l2 2.1l3 0l.5-.3l.5 .3l1 0l.5-.2l.5 .2l.5-.2l.5 .2l1.5 0l.5-.2l.5 0l.5 .2l2.5 0l.5-.1l1 .1l.5-.1l.5 .1l2 0l.5-.2l.5 .2l2.5 0l.5-.2l.5 .2l1.5 0l.5-.1l.5 .1l1 0l.5-.2l1 .2l3 0l.5-.2l.5 .2l.5 0l.5-.3l.5 .1l.5 .2l2.9 0z" fill="#2b65a3"/>
<line x1="214.90" y1="596.03" x2="299.70" y2="596.03" stroke="#a9c4dd" stroke-width="0.45"/>
<text x="216.10" y="593.43" font-size="2.6" text-anchor="start" fill="#ababab" font-weight="normal">0 - [10,000]</text>
<path d="M215.7 596.0l0-.2l.5 .2l.5-.2l.5 .2l1 0l.5-.1l.5 .1l.5-.2l.5 .2l1.5 0l.5-.2l.5 .2l.5-.4l1-2l.5-.2l1 2l.5 .6l6 0l.5-.2l.5 .2l3 0l.5-.2l.5 .2l1-.1l.5 .1l.5-.2l1.5 .2l.5-.1l.5 .1l1 0l.5-.1l.5 .1l3 0l1-.3l.5 .3l.5-.2l.5 .2l1-.1l.5 .1l.5-.2l.5-.1l1.5-1.6l1 1l.5-1l.5 .5l.5-.3l1 1l1-.5l2 1.2l.5-.3l1.5-1.9l1 1.1l1-.4l.5 .1l1.5 1.2l.5-.3l1-1.1l1.5 .4l1.5 .9l1-1.5l1 1.6l.5 .2l3.5 0l.5-.2l.5 .2l1 0l.5-.2l1 0l.5 .2l1 0l.5-.1l.5 .1l2 0l.5-.2l.5 .2l2.5 0l.5-.2l.5 .2l3 0l.5-.1l1 .1l.5-.1l.5 .1l4 0l.5-.2l.2 .2z" fill="#2b65a3"/>
<line x1="102.30" y1="601.02" x2="212.80" y2="601.02" stroke="#a9c4dd" stroke-width="0.45"/>
<text x="103.50" y="598.42" font-size="2.6" text-anchor="start" fill="#ababab" font-weight="normal">0 - [20]</text>
<path d="M103.1 601.0l1-.2l.5 .2l.5-.3l.5 .3l7.5 0l.5-.3l1 .3l4.5 0l.5-.1l.5 .1l3 0l.5-.1l1 .1l.5-.3l.5 .3l3 0l.5-.2l.5 .2l.5-.2l.5 .2l.5 0l.5-.2l.5 .2l1.5-.2l.5 .2l1 0l.5-.2l.5 .2l.5-.1l.5 .1l4.5 0l.5-.2l.5 .2l2.5 0l1-.2l.5 .2l.5 0l.5-.2l.5 0l.5 .2l.5 0l.5-.2l.5 .2l2 0l.5-.1l1 .1l.5-.2l.5 .2l8 0l.5-.1l.5 .1l1-1.3l.5-1.3l.5 .1l.5 .7l.5-.7l.5-.2l1.5 2.3l.5 .4l1.5-1.4l1 1l.5-.3l1-1.7l.5-.3l1 1.3l1.5 1.2l.5 .2l.5-.2l.5 .2l1.5 0l.5-.1l.5 .1l.5-.1l.5 .1l1 0l.5-.2l.5 .2l.5-.2l.5 .2l11.5 0l.5-.2l.5 .2l1.5 0l.5-.2l.5 .2l.5-.3l.5 .3l5 0l1-.2l.5 .2l.5-.1l.5 .1l1 0l.5-.2l.5 .2l2.4 0z" fill="#2b65a3"/>
<line x1="214.90" y1="601.02" x2="299.70" y2="601.02" stroke="#a9c4dd" stroke-width="0.45"/>
<text x="216.10" y="598.42" font-size="2.6" text-anchor="start" fill="#ababab" font-weight="normal">0 - [20]</text>
<path d="M215.7 601.0l1 0l.5-.3l.5 .3l2 0l.5-.3l.5 .3l1-.3l1-1.4l.5-.4l.5 .7l.5-.3l.5-.8l.5 .4l.5 .8l.5 0l.5-1.2l1 0l.5 1.1l1 1.1l.5 .3l.5-.2l.5 .2l2 0l.5-.2l.5 0l.5 .2l2 0l.5-.2l.5 .2l1-.2l.5 .2l5 0l.5-.1l.5 .1l2.5 0l1-.2l.5 .2l.5-.2l.5 .2l1 0l1-1.2l1.5-.7l.5 .4l.5-.3l1 1.1l1.5-1.7l.5 .3l.5-.2l1 1.1l.5 .1l.5-.3l.5 .8l.5 .4l2-1.4l1 .2l1.5 1.4l.5-.7l.5 .1l.5 .6l.5-.6l.5-.9l.5-.3l.5 .9l.5 .5l2-1.9l.5 .4l1.5 1.6l.5 .3l1.5 0l.5-.1l.5 .1l2.5 0l.5-.2l.5 .2l.5-.3l1 .3l2 0l.5-.2l.5 .2l1-.1l.5 .1l1.5 0l1-.2l.5 .2l.5 0l.5-.2l.5 0l.5 .2l.5-.2l.5 .2l2 0l.5-.3l.5 .3l1 0l.5-.2l.5 .2l.5-.2l.5 .2l.5 0l.5-.2l.2 .2z" fill="#2b65a3"/>
<line x1="102.30" y1="606.01" x2="212.80" y2="606.01" stroke="#a9c4dd" stroke-width="0.45"/>
<line x1="103.30" y1="605.71" x2="211.80" y2="605.71" stroke="#2b65a3" stroke-width="0.6" stroke-dasharray="0.6 1.1"/>
<text x="103.50" y="603.41" font-size="2.6" text-anchor="start" fill="#ababab" font-weight="normal">0 - [50]</text>
<path d="M103.1 606.0l1 0l.5-.7l.5 .7l1 0l.5-.5l1 .5l5.5 0l.5-.4l.5 0l.5-.1l.5 .5l7.5 0l.5-.5l.5 .5l6 0l.5-.5l.5 .5l.5-.5l.5 .5l.5 0l.5-.4l.5 .4l2 0l.5-.7l.5 .4l.5-.5l.5 .8l5.5 0l.5-.3l.5 .3l1-.6l.5 .6l.5-.7l.5-.1l.5 .8l.5-.7l.5 .7l2.5 0l.5-.3l.5 .3l1.5 0l.5-.4l.5-.2l.5 0l.5 .6l5 0l.5-.2l.5-.8l.5 .3l.5 .7l.5 0l.5-.8l.5 .1l.5 .7l.5 0l.5-.5l.5 .5l1 0l.5-.5l.5 .5l2.5 0l.5-.7l.5 .7l2 0l.5-.6l.5 .6l.5-.5l.5 .5l1 0l.5-.5l.5 .5l3 0l.5-.4l.5 .4l.5 0l.5-.6l.5 .6l1 0l.5-.4l.5-.1l.5 .5l.5 0l.5-.6l.5 .6l.5 0l.5-.5l.5 .5l2 0l.5-.3l.5 .3l4.5 0l.5-.3l.5 .3l6 0l.5-.3l.5 .3l.5 0l.5-.3l.5 .3l.5-.6l.5 .6l1 0l.5-.7l1 0l.5 .7l3.4 0z" fill="#2b65a3"/>
<line x1="214.90" y1="606.01" x2="299.70" y2="606.01" stroke="#a9c4dd" stroke-width="0.45"/>
<line x1="215.90" y1="605.71" x2="298.70" y2="605.71" stroke="#2b65a3" stroke-width="0.6" stroke-dasharray="0.6 1.1"/>
<text x="216.10" y="603.41" font-size="2.6" text-anchor="start" fill="#ababab" font-weight="normal">0 - [50]</text>
<path d="M215.7 606.0l2 0l.5-.7l.5 .7l.5 0l.5-.8l.5 .8l.5 0l.5-.7l.5 .7l.5-.6l.5 .6l.5 0l.5-.7l.5 .7l2 0l.5-.4l.5 .4l2 0l.5-.5l.5 .5l6 0l1-.7l.5 .7l.5-.7l.5 .7l.5-.6l.5 .6l.5 0l.5-.5l.5 .5l2.5 0l.5-.3l.5 .3l1.5 0l.5-.7l.5 .7l1.5 0l.5-.6l.5 .6l2 0l.5-.7l.5 .7l1 0l1-.7l.5 .7l1 0l.5-.4l.5 .4l.5 0l.5-.4l.5 .1l.5-.4l.5 .1l.5 .6l.5 0l.5-.6l.5 .6l.5-.4l.5 .4l2 0l.5-.7l.5 .7l7 0l1-.4l1 .4l.5-.7l.5 .7l5 0l.5-.7l.5 .7l6 0l.5-.3l.5 .3l.5 0l.5-.3l.5 .3l.5-.3l.5 .3l2 0l1-.6l.5 .6l1.5 0l.5-.3l.5 .3l1.7 0z" fill="#2b65a3"/>
<line x1="102.30" y1="611.00" x2="212.80" y2="611.00" stroke="#a9c4dd" stroke-width="0.45"/>
<text x="103.50" y="608.40" font-size="2.6" text-anchor="start" fill="#ababab" font-weight="normal">0 - [10,000]</text>
<path d="M103.1 611.0l5.5 0l.5-.1l.5 .1l1.5 0l1-.2l.5 .2l1 0l.5-.2l1 .2l3 0l.5-.3l.5 .3l1 0l.5-.1l.5 .1l.5-.2l1 .2l.5 0l1-.3l1 .3l4 0l.5-.2l.5 .2l.5-.2l.5 .2l1-.1l.5 .1l3.5 0l.5-.3l.5 .3l3.5 0l.5-.3l.5 .3l1-.1l1 .1l.5-.3l.5 .3l5.5 0l.5-.3l.5 .3l1-.2l.5 .2l1 0l.5-.1l1 .1l.5-.3l1 .3l2.5 0l.5-.3l.5-.9l.5 .4l.5 .7l.5-.2l1.5 .1l.5 .2l1.5-2.2l.5-1.6l.5-.4l1 1.9l.5-.6l.5 .6l.5 2.3l.5-.7l1-3.5l1 3.8l.5-.5l.5-1.8l1 2.7l2-4.1l1.5 3.3l.5 .6l.5 .2l3 0l.5-.3l.5 .3l1.5 0l.5-.3l.5 0l.5 .3l.5-.2l.5 .2l4 0l.5-.2l.5 .2l.5 0l.5-.2l.5 .2l2 0l.5-.2l.5 .2l2 0l.5-.2l.5 .2l.5-.2l1 .2l.5-.2l.5 .2l1 0l.5-.1l.5 .1l9.4 0z" fill="#2b65a3"/>
<line x1="214.90" y1="611.00" x2="299.70" y2="611.00" stroke="#a9c4dd" stroke-width="0.45"/>
<text x="216.10" y="608.40" font-size="2.6" text-anchor="start" fill="#ababab" font-weight="normal">0 - [10,000]</text>
<path d="M215.7 611.0l.5 0l.5-.3l.5 .3l5.5 0l.5-.5l1-2.3l.5-.2l1 2.3l.5 .7l3 0l.5-.2l.5 .2l4.5 0l.5-.3l.5 .3l1.5 0l.5-.3l.5 .3l1.5 0l.5-.3l.5 .3l1 0l.5-.3l1 .3l.5 0l.5-.2l.5 .2l2 0l.5-.2l.5 .2l.5-.3l.5 .3l2.5 0l1-.9l.5-1.4l.5 1l.5 .3l.5-1.1l.5-.2l.5 .6l.5 1.2l.5 .5l1 0l.5-.3l1 .3l.5-.4l.5-1.3l.5-.8l1 .2l.5 .7l.5-.4l1 .3l.5 1.1l1-1.4l.5-.3l.5 .5l.5-.5l.5 .1l1-.6l.5 .8l.5 .3l.5-.2l.5 .7l1-.6l.5-.9l1 2.1l1 .6l1.5 0l.5-.2l.5 .2l.5-.3l.5 .3l6 0l.5-.2l.5 .2l.5-.2l.5 .2l4 0l.5-.3l.5 .3l5 0l1-.3l.5 .3l2.7 0z" fill="#2b65a3"/>
<line x1="102.30" y1="615.99" x2="212.80" y2="615.99" stroke="#a9c4dd" stroke-width="0.45"/>
<text x="103.50" y="613.39" font-size="2.6" text-anchor="start" fill="#ababab" font-weight="normal">0 - [20]</text>
<path d="M103.1 616.0l1-.2l.5 .2l2 0l.5-.3l.5 .3l5.5 0l.5-.2l.5 .2l2.5 0l.5-.3l.5 .3l1 0l.5-.3l1 0l.5 .3l1 0l.5-.3l.5 .3l3 0l.5-.2l.5 .2l2 0l.5-.2l.5 .2l2 0l.5-.2l.5 .2l1.5 0l.5-.2l.5 .2l2.5 0l.5-.1l.5 .1l6.5 0l.5-.1l.5 .1l6.5 0l.5-.1l.5 .1l1.5 0l1-.1l.5 .1l2.5 0l.5-.2l.5-.8l.5 .3l.5 .7l3 0l1-2.4l.5 1.3l.5 .2l1.5-2.1l.5-.1l1.5 1.9l.5 .3l2-3l1.5 2.8l.5-.8l.5-.2l1 1.6l.5 .5l5 0l.5-.1l.5 .1l1.5 0l.5-.1l.5 .1l1 0l.5-.2l.5 .2l.5-.3l.5 .3l1.5 0l.5-.3l.5 .3l3 0l.5-.2l.5-.1l.5 .3l1-.2l1 .2l.5-.2l.5 .2l2 0l.5-.2l.5 .2l11.4 0z" fill="#2b65a3"/>
<line x1="214.90" y1="615.99" x2="299.70" y2="615.99" stroke="#a9c4dd" stroke-width="0.45"/>
<text x="216.10" y="613.39" font-size="2.6" text-anchor="start" fill="#ababab" font-weight="normal">0 - [20]</text>
<path d="M215.7 616.0l.5 0l.5-.2l.5 0l.5 .2l2.5 0l2-3l1.5 2.2l.5-.8l.5 .1l1-1.4l.5 .5l1.5 2.3l.5 .1l2 0l.5-.3l.5 .3l2 0l.5-.2l.5 .2l.5-.3l.5 .3l1 0l.5-.2l.5 .2l2 0l.5-.2l.5 .2l.5-.3l1 .3l1.5 0l.5-.2l.5 .2l1 0l.5-.2l.5 .2l1.5 0l.5-.3l1 0l.5 .3l.5-.3l.5 .3l.5 0l2-1.8l.5-.1l.5 .2l.5-.7l1.5 2.1l.5 .3l1-1.2l.5-1l.5-.5l.5 .4l.5-.1l.5 .1l.5 .7l.5-.2l.5 .8l.5-1.1l.5 .1l.5 1.3l.5-.3l1-.8l.5-.7l.5 .7l.5-.6l1 1.1l.5-.1l1-.9l.5 .5l.5-.2l.5-.7l.5 .1l.5 1.1l1 1.5l1.5 0l.5-.3l.5 .3l.5 0l.5-.2l.5 .2l.5 0l.5-.3l.5 0l.5 .3l.5 0l.5-.2l.5 .2l1 0l.5-.3l.5 .3l1 0l.5-.3l.5 .3l2 0l.5-.2l.5 .2l1 0l.5-.2l.5 .2l.5-.2l.5 .2l.5-.3l.5 .3l5 0l.5-.3l.5 .3l2.2 0z" fill="#2b65a3"/>
<line x1="102.30" y1="620.98" x2="212.80" y2="620.98" stroke="#b4b4b4" stroke-width="0.45"/>
<line x1="103.30" y1="620.68" x2="211.80" y2="620.68" stroke="#111111" stroke-width="0.6" stroke-dasharray="0.6 1.1"/>
<text x="103.50" y="618.38" font-size="2.6" text-anchor="start" fill="#ababab" font-weight="normal">0 - [50]</text>
<path d="M103.1 621.0l5 0l.5-.2l.5 .2l.5 0l.5-.2l.5 .2l.5-.3l.5 .3l.5-.3l.5 .3l.5-.2l.5 .2l.5-.3l.5 .3l.5-.5l.5 .5l7.5 0l.5-.2l.5 .2l2 0l.5-.6l.5 .6l4.5 0l.5-.5l.5 .5l3.5 0l.5-.2l.5 .2l.5 0l.5-.3l.5 .3l4.5 0l.5-.3l.5 0l.5 .3l1 0l.5-.4l.5 .4l1.5 0l.5-.3l.5 .3l.5 0l2-.7l1.5 .4l.5-.1l1 .2l2-.6l1 .3l.5-.1l1 .6l.5-.5l.5 .2l1-.2l1.5 .5l.5 0l.5-.2l.5 .2l.5 0l1.5-.8l.5-.2l1.5 .6l.5 .4l.5-.5l.5 .5l.5-.4l.5 .4l.5 0l.5-.5l1 .5l.5 0l.5-.5l1 0l.5-.3l.5 0l1 .5l.5-.2l.5 .5l.5-.6l.5 0l.5 .3l1-.6l1 .6l1.5-.3l.5 .2l1.5-.5l.5 .2l.5 .1l1 .6l1.5-.5l.5 .1l1-.2l.5 .1l1-.4l1.5 .4l.5-.2l.5 0l.5-.2l1 .4l1-.1l1 .2l.5-.4l.5 .3l.5-.2l.5 0l.5 .2l.5-.3l.5 .2l.5 .6l1.5-.4l.5 .1l.5-.3l.5 .5l.5 .1l4 0l.5-.2l.5 .2l2.4 0z" fill="#111111"/>
<line x1="214.90" y1="620.98" x2="299.70" y2="620.98" stroke="#b4b4b4" stroke-width="0.45"/>
<line x1="215.90" y1="620.68" x2="298.70" y2="620.68" stroke="#111111" stroke-width="0.6" stroke-dasharray="0.6 1.1"/>
<text x="216.10" y="618.38" font-size="2.6" text-anchor="start" fill="#ababab" font-weight="normal">0 - [50]</text>
<path d="M215.7 621.0l3 0l.5-.4l.5-.1l.5 .5l.5-.4l.5 .4l.5-.4l.5 .4l1 0l.5-.2l.5 0l.5 .2l.5-.3l.5-.1l.5 .4l.5-.2l.5 .2l.5-.2l.5 .2l2.5 0l.5-.4l.5 .4l2 0l.5-.5l.5 .1l.5 .4l4.5 0l.5-.6l.5 .6l.5-.2l.5 .2l3 0l.5-.4l.5-.1l.5 .5l.5 0l1-.4l.5 .4l1-.2l1-.4l.5 0l1.5 .6l1 0l.5-.4l.5 0l1-.2l.5 .1l.5 .2l1.5 .1l.5-.4l.5 .2l1-.3l1 .4l.5-.3l.5 .1l1 0l1.5 .2l1.5 .1l.5 .2l1-.4l.5 0l.5 .4l1-.4l.5-.1l.5 .3l.5 0l.5-.2l1.5-.2l.5 .3l1-.3l1.5 .4l1-.3l.5-.3l1 .6l2-.6l.5 0l1.5 .5l.5 .1l1-.4l2.5 .6l1.5-.6l.5-.1l1 .5l.5 .1l.5-.4l.5 .2l2 .1l.5 .2l.5 0l1-.7l1 .5l1.5-.5l.5 .2l1 0l.2 .5z" fill="#111111"/>
<line x1="102.30" y1="625.97" x2="212.80" y2="625.97" stroke="#b4b4b4" stroke-width="0.45"/>
<text x="103.50" y="623.37" font-size="2.6" text-anchor="start" fill="#ababab" font-weight="normal">0 - [10,000]</text>
<path d="M103.1 626.0l.5 0l.5-.3l1.5 0l.5 .3l.5-.2l.5 .2l2.5 0l.5-.2l.5 .2l.5-.4l.5 .4l1-.2l.5 .2l8 0l.5-.4l.5 .4l.5-.4l.5 0l.5 .4l8 0l.5-.4l.5 .4l1.5-.3l.5 .3l2.5 0l.5-.4l.5 .4l1-.2l.5 .2l1 0l.5-.3l.5 .3l4 0l.5-.3l.5 .3l1.5 0l.5-.4l.5 .4l2 0l1-2.2l.5 .6l.5 .1l.5-.7l1 1.9l.5-.1l1.5-.9l.5-.1l1.5 1.1l1-1.6l1-.3l.5 .5l.5-.3l1.5 1.4l1.5-1.5l.5-.2l.5 .5l.5 .3l.5-.4l.5-.2l.5 .9l.5 0l.5-.4l1 1.3l1-1.2l.5-.3l1 .9l1-1.4l.5 .8l.5 .6l.5-1l.5 .6l.5-.3l1 .9l.5-.4l1 .2l.5 .7l.5 .2l2 0l1.5-2.2l1 .9l.5 .1l.5-.7l.5 .8l.5-.4l.5 0l.5-.7l.5 .1l1 1.1l1-1.1l.5 .4l.5-.2l.5 1.3l1 .6l1.5 0l.5-.2l.5-1l.5-.3l.5 .1l.5-.7l.5 0l.5 .2l.5-.4l.5 .7l.5 .5l.5 .1l.5-.5l.5 .5l.5-1l.5-.1l.5 0l.5 .3l.5 .6l1-.7l1.5 1.9l1 0l1-.3l.5 .3l.5 0l.5-.3l.5 .3l1 0l.5-.3l.5 .3l1.4 0z" fill="#111111"/>
<line x1="214.90" y1="625.97" x2="299.70" y2="625.97" stroke="#b4b4b4" stroke-width="0.45"/>
<text x="216.10" y="623.37" font-size="2.6" text-anchor="start" fill="#ababab" font-weight="normal">0 - [10,000]</text>
<path d="M215.7 626.0l2 0l1.5-.4l.5 .4l.5 0l.5-.3l.5 .3l1-.2l1.5-1.1l.5-.1l1.5 1.1l.5 .3l.5-.2l.5 .2l5.5 0l.5-.4l.5 .4l2 0l.5-.3l.5-.1l.5 .4l1 0l.5-.4l.5 .4l.5-.2l.5 .2l2 0l1.5-.3l.5 .3l1-.2l.5 .2l1 0l.5-.4l.5 .4l.5 0l.5-.2l.5 .2l.5-.3l.5 .3l1-.4l1-.9l.5 .2l.5 .4l.5 .1l.5-.2l.5 .1l.5-.4l.5 0l.5 .4l1-.4l.5 .2l.5 .1l.5-.4l.5 .2l.5-.2l1 .5l1-.4l.5 0l2 1.1l.5-.2l1-1l.5 .1l1 .8l1-.5l.5 0l.5-.4l.5 .2l.5 .7l.5 .3l1-.6l.5 0l1-.2l1 .4l.5-.3l1-.1l.5-.1l.5 .3l.5-.2l.5 .3l.5-.1l.5-.4l.5 .5l1 .5l.5 0l.5-.2l.5-.6l.5 .3l1-.7l.5 .3l.5-.3l1 .7l.5 0l.5-.7l1 .8l1-.5l1 .2l.5 .3l.5-.4l1 .1l1-.6l1 .8l.5-.1l.5 .3l1.5-1.1l1 .7l1-.5l1.2 1.2z" fill="#111111"/>
<line x1="102.30" y1="630.96" x2="212.80" y2="630.96" stroke="#b4b4b4" stroke-width="0.45"/>
<text x="103.50" y="628.36" font-size="2.6" text-anchor="start" fill="#ababab" font-weight="normal">0 - [20]</text>
<path d="M103.1 631.0l6 0l.5-.3l.5 .3l.5-.3l.5 .3l2.5 0l.5-.2l.5 .2l3.5 0l.5-.5l.5 .5l.5-.4l.5 .4l5 0l.5-.5l.5 .5l.5-.4l.5 0l.5 .4l1 0l.5-.5l.5 .5l2.5 0l.5-.5l.5 .5l2 0l.5-.4l.5 .4l.5-.4l.5 .4l1.5 0l.5-.4l.5 .4l3 0l.5-.5l.5 .5l1 0l1-.4l.5 .4l2 0l.5-.4l.5-.1l1-1.1l1 .9l.5-.4l.5 .7l.5 .1l.5 .3l.5-.3l.5 .3l.5-.6l.5 .2l1-1.2l.5 .8l1-.3l.5-.4l1 .3l1 .8l1-.9l.5 .3l1-.5l.5 .5l.5-.5l.5 .2l.5-.2l.5 .2l.5-.4l.5 .5l.5 .1l.5-.3l.5 0l1.5 .7l.5 0l.5-.4l1 .2l.5-.4l.5 0l1.5 1l.5-.4l.5-.1l.5 .4l.5-.8l.5 .5l.5 .1l1.5-1l1 .7l.5-.6l1 .3l.5 .6l.5-.5l.5 0l.5 .6l1-.3l1.5 .6l1-1l.5 .1l1 1.1l1-.6l1-.9l1.5 0l1 .7l.5-.6l.5 .6l.5 .2l1.5-1.1l.5 .2l.5 .4l.5-.2l.5 .6l.5 .2l.5-.3l1 0l1 .6l2-1.1l1.5 .8l.5-.6l.5-.1l.5 .6l.5 .1l.5 .5l1 0l.5-.4l.5 .4l3.9 0z" fill="#111111"/>
<line x1="214.90" y1="630.96" x2="299.70" y2="630.96" stroke="#b4b4b4" stroke-width="0.45"/>
<text x="216.10" y="628.36" font-size="2.6" text-anchor="start" fill="#ababab" font-weight="normal">0 - [20]</text>
<path d="M215.7 631.0l.5 0l.5-.3l1 .3l2.5 0l.5-.4l.5 0l.5 .4l.5-.3l.5 .3l1-1.2l.5 .5l.5 .1l.5-.2l.5-.4l.5-.2l.5 .5l.5-.1l.5 .5l1 .5l.5 0l.5-.3l.5 .3l2 0l.5-.2l.5 .2l3 0l.5-.3l.5 .3l10 0l.5-.3l.5 .3l.5-.4l.5 .4l.5 0l.5-.3l.5 .3l1 0l3-.7l1 .3l1.5 0l1-.3l1 .3l1.5-.3l1 .3l.5-.1l1 .5l1-.4l.5 .1l.5-.3l.5 0l1 .6l.5-.3l.5 .3l.5-.4l.5 .4l.5-.4l.5 .4l.5 0l.5-.9l1 .1l1 .8l1-.7l.5-.1l.5 .3l1-.1l1-.3l.5 .2l.5 0l1 .4l1.5-.4l.5 0l.5 .4l2.5-.2l1 .1l.5-.2l1 .2l.5 .2l1.5-.5l1 .2l1-.5l3 1l.5 0l.5-.4l.5-.2l.5 .2l1-.5l.5 .2l2 .3l.2 .4z" fill="#111111"/>
<line x1="102.30" y1="635.95" x2="212.80" y2="635.95" stroke="#b4b4b4" stroke-width="0.45"/>
<line x1="103.30" y1="635.65" x2="211.80" y2="635.65" stroke="#111111" stroke-width="0.6" stroke-dasharray="0.6 1.1"/>
<text x="103.50" y="633.35" font-size="2.6" text-anchor="start" fill="#ababab" font-weight="normal">0 - [50]</text>
<path d="M103.1 635.9l4 0l.5-.4l.5 .4l4 0l.5-.3l.5 .3l1 0l.5-.1l.5 .1l3 0l.5-.2l.5 .2l1 0l.5-.2l.5 .2l1.5 0l.5-.3l.5 .3l3 0l.5-.3l.5 .3l2.5 0l.5-.3l.5 .3l1 0l.5-.1l.5 .1l3.5 0l.5-.4l.5 .4l.5-.3l.5 .3l.5 0l.5-.2l.5 .2l.5-.2l.5 .2l.5 0l1-.4l1 .4l.5-.3l.5 .3l.5-.4l.5 .4l2 0l.5-.4l.5 .4l.5-.2l.5 .2l2.5 0l.5-.2l.5 .2l1.5 0l.5-.2l.5 .2l1-.4l.5 .4l2 0l.5-.3l.5 .3l.5-.3l1 .3l1.5 0l.5-.3l.5 .3l6.5 0l.5-.1l.5 .1l.5-.2l.5 .2l1 0l.5-.3l.5 .3l1 0l.5-.3l.5 .3l.5-.2l.5 .2l.5-.1l.5 .1l2.5 0l.5-.4l.5 .4l.5-.3l.5 0l.5 .3l2.5 0l.5-.2l.5 .2l.5 0l.5-.3l.5 .3l.5-.4l.5 .4l1 0l.5-.4l.5 .4l.5-.3l.5 .3l4 0l.5-.3l.5 .3l2.5 0l.5-.4l.5 .4l.5 0l.5-.4l.5 .4l.5-.2l1 .2l4 0l.5-.4l.5 .2l.5-.2l.5 .4l1.9 0z" fill="#111111"/>
<line x1="214.90" y1="635.95" x2="299.70" y2="635.95" stroke="#b4b4b4" stroke-width="0.45"/>
<line x1="215.90" y1="635.65" x2="298.70" y2="635.65" stroke="#111111" stroke-width="0.6" stroke-dasharray="0.6 1.1"/>
<text x="216.10" y="633.35" font-size="2.6" text-anchor="start" fill="#ababab" font-weight="normal">0 - [50]</text>
<path d="M215.7 635.9l1 0l.5-.2l.5 .2l3.5 0l.5-.2l.5 .2l5 0l.5-.1l.5 .1l.5 0l.5-.4l.5 .4l1 0l.5-.2l.5 .2l1.5 0l.5-.2l.5 .2l1.5 0l.5-.3l.5 .3l1 0l.5-.4l.5 .4l2.5 0l.5-.4l.5 0l.5 .4l1.5 0l.5-.3l.5 .3l1.5 0l.5-.4l.5 .4l.5 0l.5-.4l.5 .4l1.5 0l.5-.1l.5 .1l2 0l.5-.2l.5 .2l.5 0l.5-.3l.5 .3l2 0l.5-.2l1-.1l.5 .3l1 0l1-.4l.5 .4l2.5 0l.5-.1l.5 0l.5-.3l.5 .4l.5 0l.5-.4l.5 .3l.5-.3l.5 .4l2 0l.5-.4l.5 .4l2 0l.5-.2l1 .2l.5-.2l.5 .2l1 0l.5-.4l.5 .4l1.5 0l.5-.2l.5 .2l4 0l.5-.4l.5 .4l.5-.3l.5 .3l10.5 0l.5-.3l.2 .3z" fill="#111111"/>
<line x1="102.30" y1="640.94" x2="212.80" y2="640.94" stroke="#b4b4b4" stroke-width="0.45"/>
<text x="103.50" y="638.34" font-size="2.6" text-anchor="start" fill="#ababab" font-weight="normal">0 - [10,000]</text>
<path d="M103.1 640.9l.5-.1l.5 .1l5.5 0l.5-.1l.5 .1l3 0l.5-.2l.5 .2l1.5 0l.5-.3l.5 .3l2 0l1-.3l.5 .3l1 0l.5-.1l.5 .1l1 0l.5-.2l.5-.1l.5 .3l3 0l.5-.3l.5 .3l4 0l.5-.2l.5 .2l.5-.2l.5 .2l.5-.3l.5 .3l2.5 0l.5-.3l.5 .3l.5-.2l.5 .2l1 0l.5-.2l.5 0l.5 .2l1 0l.5-.3l.5 .3l.5-.1l.5 .1l1.5 0l.5-.2l.5 .2l2-1.1l.5 .1l1 .7l1-.1l.5-.7l.5 .7l1-.5l1-.1l.5-.2l1 1l.5 .2l.5-.2l.5 0l1-.7l.5-.2l1 .4l1.5-.2l.5-.2l1 .6l.5 .1l1.5-.7l.5 .3l.5-.1l.5-.3l1 .9l1-.4l1 .2l1-.6l.5-.1l1.5 .8l.5-.1l1-.8l.5 .4l.5-.3l.5 .4l1 .2l.5-.1l1 .4l.5-.2l1 .2l1.5-.3l.5-.5l1 .8l.5-.3l.5 0l.5 .3l.5-.2l1-.6l.5 .3l1-.4l.5 0l1 1l2-.6l.5-.2l.5 .4l1-.5l.5 .1l1 .4l1-.6l1 .6l1-.4l.5 .3l.5 0l.5 .3l1-.4l1 .4l1-.2l1-.7l2 1.3l5.9 0z" fill="#111111"/>
<line x1="214.90" y1="640.94" x2="299.70" y2="640.94" stroke="#b4b4b4" stroke-width="0.45"/>
<text x="216.10" y="638.34" font-size="2.6" text-anchor="start" fill="#ababab" font-weight="normal">0 - [10,000]</text>
<path d="M215.7 640.9l.5-.3l.5 .3l2 0l.5-.3l.5 .3l.5 0l.5-.3l1 .3l.5-.1l1.5-.9l.5 0l1.5 .9l.5-.1l.5 .2l.5 0l.5-.3l.5 .3l6.5 0l.5-.2l.5 .2l2 0l.5-.2l.5 .2l.5 0l.5-.3l.5 .3l.5 0l.5-.2l.5 .2l1.5 0l.5-.2l.5 .2l1.5 0l.5-.1l.5 .1l1-.2l.5 .2l3.5 0l1-.3l.5 .3l.5 0l.5-.1l.5 .1l2.5 0l.5-.2l1 .2l1.5 0l.5-.1l.5 .1l3 0l.5-.2l.5 .2l.5-.2l.5 .2l2 0l.5-.3l.5 .3l.5 0l.5-.2l1 .2l.5 0l.5-.2l1.5 .1l.5-.2l.5 .3l10 0l.5-.3l.5 .3l2.5 0l.5-.1l.5 .1l1.5 0l.5-.3l.5 .3l2.5 0l.5-.2l.5 .2l.5-.2l.5 .2l1.5 0l.5-.1l.7 .1z" fill="#111111"/>
<line x1="102.30" y1="644.80" x2="212.80" y2="644.80" stroke="#b4b4b4" stroke-width="0.45"/>
<text x="103.50" y="643.33" font-size="2.6" text-anchor="start" fill="#ababab" font-weight="normal">0 - [20]</text>
<path d="M103.1 644.8l0-.3l.5 .3l2.5 0l.5-.1l.5 .1l3 0l.5-.3l.5 .3l1 0l1-.3l.5 .3l.5 0l.5-.2l.5 .2l3 0l.5-.3l.5 .3l2.5 0l.5-.3l.5 0l.5 .3l4.5 0l.5-.1l.5 .1l4 0l.5-.2l1 .2l2 0l.5-.3l1 .3l.5 0l.5-.4l.5 .3l.5-.3l.5 .4l3 0l.5-.3l.5 .3l1 0l1.5-.1l.5 .1l2.5 0l1-.5l.5 0l.5 .2l.5-.1l.5 .2l1-.5l1.5 .5l1 0l.5 .2l.5 0l1.5-.5l.5 0l.5-.1l.5 .2l.5 .1l.5 .3l.5 0l1.5-.4l1 .1l2.5 .1l1.5-.2l.5 .1l1-.2l1 .1l.5-.1l.5 .1l.5-.2l.5 .1l.5-.2l.5 .1l.5 0l1.5 .6l1.5-.5l1.5 .2l.5 .3l.5-.5l.5 .1l1-.4l2 .8l1-.3l1 .3l1.5-.7l2 .6l.5-.1l1 .2l1 0l1-.4l.5-.1l.5 .2l1 0l1-.2l.5-.2l1 .1l1 .4l1.5-.2l.5 .1l1.5-.3l1.5 .4l.5-.4l1 .3l1 .1l.5 .2l6.4 0z" fill="#111111"/>
<line x1="214.90" y1="644.80" x2="299.70" y2="644.80" stroke="#b4b4b4" stroke-width="0.45"/>
<text x="216.10" y="643.33" font-size="2.6" text-anchor="start" fill="#ababab" font-weight="normal">0 - [20]</text>
<path d="M215.7 644.8l4 0l1-.4l.5 .4l1 0l1.5-.9l.5 0l1.5 .7l.5-.1l.5 .3l1 0l.5-.3l1 .3l1.5 0l.5-.3l.5 0l.5 .3l1 0l.5-.3l.5 .3l1.5 0l.5-.4l.5 .4l1 0l.5-.3l.5 .3l.5-.2l.5 .2l6 0l.5-.1l.5 .1l1 0l.5-.2l.5 .2l.5 0l.5-.2l.5 .2l1.5 0l.5-.2l.5 .2l.5-.1l.5 .1l5.5 0l.5-.2l1 .2l.5-.3l.5 .3l1 0l.5-.3l.5-.1l.5 .4l.5 0l.5-.2l.5 .2l2 0l.5-.2l.5 .2l3.5 0l.5-.3l.5 .3l.5 0l1-.3l.5 .3l.5-.2l.5 .2l3 0l1.5-.4l.5 .4l.5 0l1-.4l.5 .4l1 0l.5-.1l.5 .1l2 0l.5-.3l.5 .3l1.5 0l1-.4l.5 .4l1-.2l.5 .2l1.5 0l.5-.2l.5 .2l1-.1l.5 .1l1 0l.5-.3l.5 .3l.2 0z" fill="#111111"/>
<rect x="102.30" y="506.90" width="110.50" height="138.50" fill="none" stroke="#1a1a1a" stroke-width="1.25"/>
<rect x="214.90" y="506.90" width="84.80" height="138.50" fill="none" stroke="#1a1a1a" stroke-width="1.25"/>
<line x1="104.00" y1="649.40" x2="211.00" y2="649.40" stroke="#5a8cc4" stroke-width="0.45"/>
<rect x="104.00" y="648.55" width="0.95" height="1.69" fill="#1f4f8f" stroke="none" stroke-width="1"/>
<polyline points="106.7,648.6 105.9,649.4 106.7,650.2" fill="none" stroke="#3a70b0" stroke-width="0.35"/>
<rect x="107.44" y="648.68" width="2.37" height="1.45" fill="#1f4f8f" stroke="none" stroke-width="1"/>
<rect x="112.39" y="648.54" width="1.69" height="1.71" fill="#1f4f8f" stroke="none" stroke-width="1"/>
<polyline points="115.9,648.6 115.1,649.4 115.9,650.2" fill="none" stroke="#3a70b0" stroke-width="0.35"/>
<rect x="118.44" y="648.27" width="1.50" height="2.26" fill="#1f4f8f" stroke="none" stroke-width="1"/>
<rect x="120.54" y="648.46" width="1.18" height="1.88" fill="#1f4f8f" stroke="none" stroke-width="1"/>
<rect x="122.32" y="648.33" width="2.80" height="2.14" fill="#1f4f8f" stroke="none" stroke-width="1"/>
<rect x="125.71" y="648.33" width="1.15" height="2.14" fill="#1f4f8f" stroke="none" stroke-width="1"/>
<polyline points="128.7,648.6 127.9,649.4 128.7,650.2" fill="none" stroke="#3a70b0" stroke-width="0.35"/>
<polyline points="137.2,648.6 136.4,649.4 137.2,650.2" fill="none" stroke="#3a70b0" stroke-width="0.35"/>
<rect x="137.62" y="648.55" width="1.44" height="1.70" fill="#1f4f8f" stroke="none" stroke-width="1"/>
<rect x="148.79" y="648.44" width="1.09" height="1.92" fill="#1f4f8f" stroke="none" stroke-width="1"/>
<rect x="150.48" y="648.70" width="2.18" height="1.39" fill="#1f4f8f" stroke="none" stroke-width="1"/>
<rect x="153.26" y="648.45" width="2.73" height="1.90" fill="#1f4f8f" stroke="none" stroke-width="1"/>
<polyline points="157.8,648.6 157.0,649.4 157.8,650.2" fill="none" stroke="#3a70b0" stroke-width="0.35"/>
<rect x="164.45" y="648.35" width="1.70" height="2.10" fill="#1f4f8f" stroke="none" stroke-width="1"/>
<rect x="166.75" y="648.47" width="2.44" height="1.86" fill="#1f4f8f" stroke="none" stroke-width="1"/>
<rect x="169.79" y="648.26" width="0.92" height="2.28" fill="#1f4f8f" stroke="none" stroke-width="1"/>
<rect x="171.31" y="648.58" width="1.13" height="1.64" fill="#1f4f8f" stroke="none" stroke-width="1"/>
<rect x="176.20" y="648.61" width="2.43" height="1.58" fill="#1f4f8f" stroke="none" stroke-width="1"/>
<rect x="179.23" y="648.43" width="2.05" height="1.94" fill="#1f4f8f" stroke="none" stroke-width="1"/>
<rect x="181.88" y="648.68" width="0.95" height="1.44" fill="#1f4f8f" stroke="none" stroke-width="1"/>
<polyline points="189.5,648.6 188.7,649.4 189.5,650.2" fill="none" stroke="#3a70b0" stroke-width="0.35"/>
<polyline points="193.7,648.6 192.9,649.4 193.7,650.2" fill="none" stroke="#3a70b0" stroke-width="0.35"/>
<rect x="194.05" y="648.66" width="1.32" height="1.48" fill="#1f4f8f" stroke="none" stroke-width="1"/>
<rect x="195.97" y="648.32" width="0.97" height="2.17" fill="#1f4f8f" stroke="none" stroke-width="1"/>
<rect x="197.55" y="648.65" width="2.05" height="1.51" fill="#1f4f8f" stroke="none" stroke-width="1"/>
<rect x="200.20" y="648.60" width="2.51" height="1.60" fill="#1f4f8f" stroke="none" stroke-width="1"/>
<rect x="203.31" y="648.40" width="1.70" height="1.99" fill="#1f4f8f" stroke="none" stroke-width="1"/>
<rect x="205.61" y="648.55" width="2.59" height="1.70" fill="#1f4f8f" stroke="none" stroke-width="1"/>
<rect x="208.80" y="648.52" width="2.20" height="1.76" fill="#1f4f8f" stroke="none" stroke-width="1"/>
<line x1="224.00" y1="649.40" x2="296.00" y2="649.40" stroke="#5a8cc4" stroke-width="0.45"/>
<rect x="224.00" y="648.60" width="1.17" height="1.60" fill="#1f4f8f" stroke="none" stroke-width="1"/>
<rect x="229.79" y="648.33" width="1.82" height="2.14" fill="#1f4f8f" stroke="none" stroke-width="1"/>
<rect x="232.21" y="648.31" width="2.78" height="2.18" fill="#1f4f8f" stroke="none" stroke-width="1"/>
<rect x="235.59" y="648.37" width="0.70" height="2.06" fill="#1f4f8f" stroke="none" stroke-width="1"/>
<rect x="236.89" y="648.38" width="0.72" height="2.03" fill="#1f4f8f" stroke="none" stroke-width="1"/>
<rect x="243.05" y="648.69" width="0.88" height="1.42" fill="#1f4f8f" stroke="none" stroke-width="1"/>
<polyline points="245.7,648.6 244.9,649.4 245.7,650.2" fill="none" stroke="#3a70b0" stroke-width="0.35"/>
<rect x="246.59" y="648.73" width="0.81" height="1.34" fill="#1f4f8f" stroke="none" stroke-width="1"/>
<rect x="247.99" y="648.60" width="1.06" height="1.61" fill="#1f4f8f" stroke="none" stroke-width="1"/>
<polyline points="250.9,648.6 250.1,649.4 250.9,650.2" fill="none" stroke="#3a70b0" stroke-width="0.35"/>
<rect x="259.82" y="648.55" width="1.24" height="1.70" fill="#1f4f8f" stroke="none" stroke-width="1"/>
<rect x="263.40" y="648.53" width="2.49" height="1.75" fill="#1f4f8f" stroke="none" stroke-width="1"/>
<polyline points="267.7,648.6 266.9,649.4 267.7,650.2" fill="none" stroke="#3a70b0" stroke-width="0.35"/>
<polyline points="269.4,648.6 268.6,649.4 269.4,650.2" fill="none" stroke="#3a70b0" stroke-width="0.35"/>
<rect x="270.77" y="648.73" width="1.13" height="1.34" fill="#1f4f8f" stroke="none" stroke-width="1"/>
<rect x="272.49" y="648.41" width="2.79" height="1.99" fill="#1f4f8f" stroke="none" stroke-width="1"/>
<rect x="284.06" y="648.56" width="1.20" height="1.68" fill="#1f4f8f" stroke="none" stroke-width="1"/>
<polyline points="287.1,648.6 286.3,649.4 287.1,650.2" fill="none" stroke="#3a70b0" stroke-width="0.35"/>
<rect x="290.33" y="648.34" width="2.03" height="2.12" fill="#1f4f8f" stroke="none" stroke-width="1"/>
<polyline points="294.2,648.6 293.4,649.4 294.2,650.2" fill="none" stroke="#3a70b0" stroke-width="0.35"/>
<text x="170.40" y="659.20" font-size="5.4" text-anchor="middle" fill="#111111" font-weight="normal" stroke="#111111" stroke-width="0.07">the <tspan font-style="italic">HOXA</tspan> cluster</text>
<text x="258.40" y="659.20" font-size="5.4" text-anchor="middle" fill="#111111" font-weight="normal" stroke="#111111" stroke-width="0.07">the <tspan font-style="italic">HOXB</tspan> cluster</text>
<text x="319.00" y="496.00" font-size="11.3" text-anchor="start" fill="#111" font-weight="bold">H</text>
<text x="403.70" y="501.40" font-size="4.6" text-anchor="start" fill="#111111" font-weight="normal">169 660 kb</text>
<text x="432.50" y="501.40" font-size="4.6" text-anchor="start" fill="#111111" font-weight="normal">169 670 kb</text>
<text x="458.20" y="501.40" font-size="4.6" text-anchor="start" fill="#111111" font-weight="normal">37 090 kb</text>
<text x="486.30" y="501.40" font-size="4.6" text-anchor="start" fill="#111111" font-weight="normal">37 110 kb</text>
<line x1="401.50" y1="505.60" x2="401.50" y2="508.60" stroke="#222" stroke-width="0.9"/>
<line x1="419.50" y1="505.60" x2="419.50" y2="508.60" stroke="#222" stroke-width="0.9"/>
<line x1="446.30" y1="505.60" x2="446.30" y2="508.60" stroke="#222" stroke-width="0.9"/>
<line x1="476.30" y1="505.60" x2="476.30" y2="508.60" stroke="#222" stroke-width="0.9"/>
<line x1="498.80" y1="505.60" x2="498.80" y2="508.60" stroke="#222" stroke-width="0.9"/>
<text x="392.00" y="513.00" font-size="5.1" text-anchor="end" fill="#111111" font-weight="normal" stroke="#111111" stroke-width="0.07">IgG</text>
<line x1="395.70" y1="511.30" x2="398.70" y2="511.30" stroke="#222" stroke-width="0.8"/>
<text x="392.00" y="517.95" font-size="5.1" text-anchor="end" fill="#111111" font-weight="normal" stroke="#111111" stroke-width="0.07">NUP98</text>
<line x1="395.70" y1="516.25" x2="398.70" y2="516.25" stroke="#222" stroke-width="0.8"/>
<text x="392.00" y="522.90" font-size="5.1" text-anchor="end" fill="#111111" font-weight="normal" stroke="#111111" stroke-width="0.07">H3K4me3</text>
<line x1="395.70" y1="521.20" x2="398.70" y2="521.20" stroke="#222" stroke-width="0.8"/>
<text x="392.00" y="527.85" font-size="5.1" text-anchor="end" fill="#111111" font-weight="normal" stroke="#111111" stroke-width="0.07">H3K27Ac</text>
<line x1="395.70" y1="526.15" x2="398.70" y2="526.15" stroke="#222" stroke-width="0.8"/>
<text x="392.00" y="532.80" font-size="5.1" text-anchor="end" fill="#111111" font-weight="normal" stroke="#111111" stroke-width="0.07">NUP98</text>
<line x1="395.70" y1="531.10" x2="398.70" y2="531.10" stroke="#222" stroke-width="0.8"/>
<text x="392.00" y="537.75" font-size="5.1" text-anchor="end" fill="#111111" font-weight="normal" stroke="#111111" stroke-width="0.07">H3K4me3</text>
<line x1="395.70" y1="536.05" x2="398.70" y2="536.05" stroke="#222" stroke-width="0.8"/>
<text x="392.00" y="542.70" font-size="5.1" text-anchor="end" fill="#111111" font-weight="normal" stroke="#111111" stroke-width="0.07">H3K27Ac</text>
<line x1="395.70" y1="541.00" x2="398.70" y2="541.00" stroke="#222" stroke-width="0.8"/>
<text x="392.00" y="547.65" font-size="5.1" text-anchor="end" fill="#111111" font-weight="normal" stroke="#111111" stroke-width="0.07">NUP98</text>
<line x1="395.70" y1="545.95" x2="398.70" y2="545.95" stroke="#222" stroke-width="0.8"/>
<text x="392.00" y="552.60" font-size="5.1" text-anchor="end" fill="#111111" font-weight="normal" stroke="#111111" stroke-width="0.07">H3K4me3</text>
<line x1="395.70" y1="550.90" x2="398.70" y2="550.90" stroke="#222" stroke-width="0.8"/>
<text x="392.00" y="557.55" font-size="5.1" text-anchor="end" fill="#111111" font-weight="normal" stroke="#111111" stroke-width="0.07">H3K27Ac</text>
<line x1="395.70" y1="555.85" x2="398.70" y2="555.85" stroke="#222" stroke-width="0.8"/>
<text x="392.00" y="562.50" font-size="5.1" text-anchor="end" fill="#111111" font-weight="normal" stroke="#111111" stroke-width="0.07">NUP98</text>
<line x1="395.70" y1="560.80" x2="398.70" y2="560.80" stroke="#222" stroke-width="0.8"/>
<text x="392.00" y="567.45" font-size="5.1" text-anchor="end" fill="#111111" font-weight="normal" stroke="#111111" stroke-width="0.07">H3K4me3</text>
<line x1="395.70" y1="565.75" x2="398.70" y2="565.75" stroke="#222" stroke-width="0.8"/>
<text x="392.00" y="572.40" font-size="5.1" text-anchor="end" fill="#111111" font-weight="normal" stroke="#111111" stroke-width="0.07">H3K27Ac</text>
<line x1="395.70" y1="570.70" x2="398.70" y2="570.70" stroke="#222" stroke-width="0.8"/>
<text x="392.00" y="577.35" font-size="5.1" text-anchor="end" fill="#111111" font-weight="normal" stroke="#111111" stroke-width="0.07">NUP98</text>
<line x1="395.70" y1="575.65" x2="398.70" y2="575.65" stroke="#222" stroke-width="0.8"/>
<text x="392.00" y="582.30" font-size="5.1" text-anchor="end" fill="#111111" font-weight="normal" stroke="#111111" stroke-width="0.07">H3K4me3</text>
<line x1="395.70" y1="580.60" x2="398.70" y2="580.60" stroke="#222" stroke-width="0.8"/>
<text x="392.00" y="587.25" font-size="5.1" text-anchor="end" fill="#111111" font-weight="normal" stroke="#111111" stroke-width="0.07">H3K27Ac</text>
<line x1="395.70" y1="585.55" x2="398.70" y2="585.55" stroke="#222" stroke-width="0.8"/>
<text x="392.00" y="592.20" font-size="5.1" text-anchor="end" fill="#111111" font-weight="normal" stroke="#111111" stroke-width="0.07">NUP98</text>
<line x1="395.70" y1="590.50" x2="398.70" y2="590.50" stroke="#222" stroke-width="0.8"/>
<text x="392.00" y="597.15" font-size="5.1" text-anchor="end" fill="#111111" font-weight="normal" stroke="#111111" stroke-width="0.07">H3K4me3</text>
<line x1="395.70" y1="595.45" x2="398.70" y2="595.45" stroke="#222" stroke-width="0.8"/>
<text x="392.00" y="602.10" font-size="5.1" text-anchor="end" fill="#111111" font-weight="normal" stroke="#111111" stroke-width="0.07">H3K27Ac</text>
<line x1="395.70" y1="600.40" x2="398.70" y2="600.40" stroke="#222" stroke-width="0.8"/>
<text x="392.00" y="607.05" font-size="5.1" text-anchor="end" fill="#111111" font-weight="normal" stroke="#111111" stroke-width="0.07">NUP98</text>
<line x1="395.70" y1="605.35" x2="398.70" y2="605.35" stroke="#222" stroke-width="0.8"/>
<text x="392.00" y="612.00" font-size="5.1" text-anchor="end" fill="#111111" font-weight="normal" stroke="#111111" stroke-width="0.07">H3K4me3</text>
<line x1="395.70" y1="610.30" x2="398.70" y2="610.30" stroke="#222" stroke-width="0.8"/>
<text x="392.00" y="616.95" font-size="5.1" text-anchor="end" fill="#111111" font-weight="normal" stroke="#111111" stroke-width="0.07">H3K27Ac</text>
<line x1="395.70" y1="615.25" x2="398.70" y2="615.25" stroke="#222" stroke-width="0.8"/>
<text x="392.00" y="621.90" font-size="5.1" text-anchor="end" fill="#111111" font-weight="normal" stroke="#111111" stroke-width="0.07">NUP98</text>
<line x1="395.70" y1="620.20" x2="398.70" y2="620.20" stroke="#222" stroke-width="0.8"/>
<text x="392.00" y="626.85" font-size="5.1" text-anchor="end" fill="#111111" font-weight="normal" stroke="#111111" stroke-width="0.07">H3K4me3</text>
<line x1="395.70" y1="625.15" x2="398.70" y2="625.15" stroke="#222" stroke-width="0.8"/>
<text x="392.00" y="631.80" font-size="5.1" text-anchor="end" fill="#111111" font-weight="normal" stroke="#111111" stroke-width="0.07">H3K27Ac</text>
<line x1="395.70" y1="630.10" x2="398.70" y2="630.10" stroke="#222" stroke-width="0.8"/>
<text x="392.00" y="636.75" font-size="5.1" text-anchor="end" fill="#111111" font-weight="normal" stroke="#111111" stroke-width="0.07">NUP98</text>
<line x1="395.70" y1="635.05" x2="398.70" y2="635.05" stroke="#222" stroke-width="0.8"/>
<text x="392.00" y="641.70" font-size="5.1" text-anchor="end" fill="#111111" font-weight="normal" stroke="#111111" stroke-width="0.07">H3K4me3</text>
<line x1="395.70" y1="640.00" x2="398.70" y2="640.00" stroke="#222" stroke-width="0.8"/>
<text x="392.00" y="646.65" font-size="5.1" text-anchor="end" fill="#111111" font-weight="normal" stroke="#111111" stroke-width="0.07">H3K27Ac</text>
<line x1="395.70" y1="644.95" x2="398.70" y2="644.95" stroke="#222" stroke-width="0.8"/>
<text x="362.50" y="522.05" font-size="5.1" text-anchor="end" fill="#111111" font-weight="normal" stroke="#111111" stroke-width="0.07">CHRF-288-11</text>
<text x="362.50" y="527.05" font-size="5.1" text-anchor="end" fill="#111111" font-weight="normal" stroke="#111111" stroke-width="0.07">(AMKL)</text>
<line x1="365.60" y1="516.55" x2="365.60" y2="528.65" stroke="#7a7a7a" stroke-width="1.3"/>
<text x="362.50" y="536.90" font-size="5.1" text-anchor="end" fill="#111111" font-weight="normal" stroke="#111111" stroke-width="0.07">SJAML031736_D4</text>
<text x="362.50" y="541.90" font-size="5.1" text-anchor="end" fill="#111111" font-weight="normal" stroke="#111111" stroke-width="0.07">(AMKL)</text>
<line x1="365.60" y1="531.40" x2="365.60" y2="543.50" stroke="#7a7a7a" stroke-width="1.3"/>
<text x="362.50" y="551.75" font-size="5.1" text-anchor="end" fill="#111111" font-weight="normal" stroke="#111111" stroke-width="0.07">SJAML031570_D2</text>
<text x="362.50" y="556.75" font-size="5.1" text-anchor="end" fill="#111111" font-weight="normal" stroke="#111111" stroke-width="0.07">(AMKL)</text>
<line x1="365.60" y1="546.25" x2="365.60" y2="558.35" stroke="#7a7a7a" stroke-width="1.3"/>
<text x="362.50" y="566.60" font-size="5.1" text-anchor="end" fill="#111111" font-weight="normal" stroke="#111111" stroke-width="0.07">SJAML016570_R2</text>
<text x="362.50" y="571.60" font-size="5.1" text-anchor="end" fill="#111111" font-weight="normal" stroke="#111111" stroke-width="0.07">(AML)</text>
<line x1="365.60" y1="561.10" x2="365.60" y2="573.20" stroke="#7a7a7a" stroke-width="1.3"/>
<text x="362.50" y="581.45" font-size="5.1" text-anchor="end" fill="#111111" font-weight="normal" stroke="#111111" stroke-width="0.07">ST1653</text>
<text x="362.50" y="586.45" font-size="5.1" text-anchor="end" fill="#111111" font-weight="normal" stroke="#111111" stroke-width="0.07">(AML)</text>
<line x1="365.60" y1="575.95" x2="365.60" y2="588.05" stroke="#7a7a7a" stroke-width="1.3"/>
<text x="362.50" y="596.30" font-size="5.1" text-anchor="end" fill="#111111" font-weight="normal" stroke="#111111" stroke-width="0.07">SJAML031434_D4</text>
<text x="362.50" y="601.30" font-size="5.1" text-anchor="end" fill="#111111" font-weight="normal" stroke="#111111" stroke-width="0.07">(AML)</text>
<line x1="365.60" y1="590.80" x2="365.60" y2="602.90" stroke="#7a7a7a" stroke-width="1.3"/>
<text x="362.50" y="611.15" font-size="5.1" text-anchor="end" fill="#111111" font-weight="normal" stroke="#111111" stroke-width="0.07">SJAML015347_D3</text>
<text x="362.50" y="616.15" font-size="5.1" text-anchor="end" fill="#111111" font-weight="normal" stroke="#111111" stroke-width="0.07">(AML)</text>
<line x1="365.60" y1="605.65" x2="365.60" y2="617.75" stroke="#7a7a7a" stroke-width="1.3"/>
<text x="362.50" y="626.00" font-size="5.1" text-anchor="end" fill="#111111" font-weight="normal" stroke="#111111" stroke-width="0.07">SJAML001409_R2</text>
<text x="362.50" y="631.00" font-size="5.1" text-anchor="end" fill="#111111" font-weight="normal" stroke="#111111" stroke-width="0.07">(immature AML)</text>
<line x1="365.60" y1="620.50" x2="365.60" y2="632.60" stroke="#7a7a7a" stroke-width="1.3"/>
<text x="362.50" y="640.85" font-size="5.1" text-anchor="end" fill="#111111" font-weight="normal" stroke="#111111" stroke-width="0.07">SJAML031254_D6</text>
<text x="362.50" y="645.85" font-size="5.1" text-anchor="end" fill="#111111" font-weight="normal" stroke="#111111" stroke-width="0.07">(immature AML)</text>
<line x1="365.60" y1="635.35" x2="365.60" y2="647.45" stroke="#7a7a7a" stroke-width="1.3"/>
<line x1="317.20" y1="515.40" x2="317.20" y2="586.50" stroke="#d98595" stroke-width="1.0"/>
<text x="312.20" y="551.95" font-size="3.9" text-anchor="middle" fill="#5a5a5a" font-weight="normal" transform="rotate(-90 312.2 551.95)">NUP98::KDM5A</text>
<line x1="317.20" y1="589.40" x2="317.20" y2="616.30" stroke="#93b4d0" stroke-width="1.0"/>
<text x="312.20" y="603.85" font-size="3.9" text-anchor="middle" fill="#5a5a5a" font-weight="normal" transform="rotate(-90 312.2 603.8499999999999)">NUP98::NSD1</text>
<line x1="317.20" y1="619.20" x2="317.20" y2="647.10" stroke="#5a5a5a" stroke-width="1.0"/>
<text x="312.20" y="634.15" font-size="3.9" text-anchor="middle" fill="#5a5a5a" font-weight="normal" transform="rotate(-90 312.2 634.1500000000001)">NUP98::RAP1GDS1</text>
<line x1="398.70" y1="514.20" x2="454.60" y2="514.20" stroke="#b9cde0" stroke-width="0.45"/>
<text x="399.90" y="511.60" font-size="2.6" text-anchor="start" fill="#ababab" font-weight="normal">0 - [20]</text>
<path d="M399.5 514.2l.5 0l.5-.3l.5 .3l1 0l.5-.5l.5 .5l.5 0l.5-.5l.5 .5l.5 0l.5-.6l.5 .6l2 0l.5-.5l.5 .5l1.5 0l.5-.5l.5 .3l1-.3l.5 .5l1 0l.5-.3l.5 .3l5.5 0l.5-.2l.5 .2l.5-.3l.5 .3l1 0l.5-.5l.5 .5l3 0l.5-.5l.5 .5l4.5 0l.5-.4l.5 .4l2.5 0l.5-.5l1 .5l.5-.2l.5 .2l.5-.3l.5 .3l.5 0l.5-.5l.5 .5l.5 0l.5-.4l.5 .4l.5-.4l.5 .4l.5 0l.5-.5l.5 .5l3 0l.5-.5l.5-.1l.5 .6l1.5 0l.5-.5l.5 .5l.5 0l.5-.4l.3 .4z" fill="#6a8fb8"/>
<line x1="458.30" y1="514.20" x2="511.60" y2="514.20" stroke="#b9cde0" stroke-width="0.45"/>
<text x="459.50" y="511.60" font-size="2.6" text-anchor="start" fill="#ababab" font-weight="normal">0 - [20]</text>
<path d="M459.1 514.2l.5-.5l.5 .5l.5-.6l.5 .6l3 0l.5-.5l.5 .5l2 0l.5-.4l.5 .4l.5 0l.5-.5l.5 .5l.5 0l.5-.5l.5 .5l.5 0l.5-.4l.5 .4l.5 0l.5-.2l.5 .2l.5 0l.5-.4l.5 .4l.5-.6l.5 .6l1 0l.5-.2l.5 .2l.5-.6l1 .6l.5-.2l.5 .2l.5 0l.5-.5l.5 .5l1-.4l.5 .4l1 0l.5-.6l.5 .6l.5-.3l.5 .3l.5 0l.5-.4l.5 .4l5.5 0l.5-.3l.5 .3l2 0l1-.5l.5 .5l1 0l.5-.4l.5 .4l.5 0l.5-.2l.5 .2l2 0l.5-.3l.5 .3l1 0l.5-.2l.5 .2l3.7 0z" fill="#6a8fb8"/>
<line x1="398.70" y1="519.15" x2="454.60" y2="519.15" stroke="#eba6b3" stroke-width="0.45"/>
<line x1="399.70" y1="518.85" x2="453.60" y2="518.85" stroke="#c41230" stroke-width="0.6" stroke-dasharray="0.6 1.1"/>
<text x="399.90" y="516.55" font-size="2.6" text-anchor="start" fill="#ababab" font-weight="normal">0 - [50]</text>
<path d="M399.5 519.1l0-.3l1 .3l.5 0l.5-.1l.5 .1l.5 0l.5-.1l.5 .1l2.5 0l.5-.1l.5 .1l.5-.2l.5 .2l1.5 0l.5-.3l.5 .3l.5-.3l.5 .3l.5-.1l.5 .1l1 0l.5-.1l.5 .1l1 0l.5-.2l.5 .2l1 0l3-2l2 1.5l1-.8l.5 .5l.5 .3l1.5-1.4l2 1.8l.5 .1l1 0l.5-.2l.5 .2l1 0l.5-.2l.5 .2l.5 0l.5-.1l.5 .1l.5-.3l.5 .3l.5-.1l1-.2l.5 .2l.5-.2l.5 .3l.5-.1l.5 .1l1 0l1-.4l.5 0l.5-.5l.5-.1l.5 .1l.5-.3l2.5 1.2l.5 0l.5-.3l.5 .3l1.5 0l.5-.3l.5 .3l.5-.1l.5 .1l1 0l.5-.1l.5 .1l.8 0z" fill="#c41230"/>
<line x1="458.30" y1="519.15" x2="511.60" y2="519.15" stroke="#eba6b3" stroke-width="0.45"/>
<line x1="459.30" y1="518.85" x2="510.60" y2="518.85" stroke="#c41230" stroke-width="0.6" stroke-dasharray="0.6 1.1"/>
<text x="459.50" y="516.55" font-size="2.6" text-anchor="start" fill="#ababab" font-weight="normal">0 - [50]</text>
<path d="M459.1 519.1l7.5 0l.5-.2l1 .1l.5 .1l.5 0l2-1.1l.5 0l1 .7l1-.6l.5-.1l.5 .3l.5-.2l1 0l.5 .3l.5 0l.5-.3l.5 .3l.5 .5l.5 0l1.5-1l.5 0l.5 .3l.5-.9l.5 .9l.5-.5l.5 .3l.5-.4l.5 .2l1-.3l2 1.2l.5-.8l.5 .7l1.5-1.3l1 .8l2.5 1l1.5-1.3l.5 .5l.5 .1l1-.9l.5 .1l2 1.5l1 0l.5-.3l.5 .3l.5-.2l.5 .2l.5-.1l.5 .1l1-.2l.5 .2l3 0l.5-.2l.5 .2l1 0l.5-.3l.2 .3z" fill="#c41230"/>
<line x1="398.70" y1="524.10" x2="454.60" y2="524.10" stroke="#eba6b3" stroke-width="0.45"/>
<text x="399.90" y="521.50" font-size="2.6" text-anchor="start" fill="#ababab" font-weight="normal">0 - [10,000]</text>
<path d="M399.5 524.1l.5-.1l.5 .1l1.5 0l.5-.2l.5 .2l3.5 0l.5-.3l.5 .3l.5-.3l.5 .3l.5 0l.5-.2l.5 .2l.5-.2l.5 .2l.5-.3l.5 .3l.5-.2l.5 .2l1.5 0l.5-.3l1 0l.5 .3l1-.2l.5 .2l.5-.2l.5 .2l2-2.2l1 .1l1-.7l1.5 1.9l.5-.5l.5-.1l.5-.4l.5-.8l.5 0l1.5 2.4l.5 0l.5 .3l6.5 0l.5-.2l.5 .2l.5 0l.5-.2l2-2.3l.5 .2l1 1.1l.5 .1l.5-.1l.5-.6l1 .3l.5-.5l.5 1.3l.5 .7l.5 0l.5-.3l.5 .3l.5-.4l.5 .4l2 0l.5-.2l.5 .2l2.8 0z" fill="#c41230"/>
<line x1="458.30" y1="524.10" x2="511.60" y2="524.10" stroke="#eba6b3" stroke-width="0.45"/>
<text x="459.50" y="521.50" font-size="2.6" text-anchor="start" fill="#ababab" font-weight="normal">0 - [10,000]</text>
<path d="M459.1 524.1l2 0l.5-.3l.5 .3l1 0l1-.3l.5 .3l3 0l.5-.3l.5 .3l.5 0l2-1.6l1 .6l.5-.8l.5 .1l.5-.3l.5-.9l.5 1.4l.5 .9l1-.6l1 .6l.5-1.5l.5 .9l.5 .3l1-1.3l.5-.1l1.5 1.4l1-1.7l1 .1l.5 .9l.5-.5l.5-.7l.5 .7l1 .4l.5 .5l.5-.4l.5 .1l.5-1.1l.5 .9l.5-.5l1 1l.5 .1l.5-1l.5-.5l.5 1l.5 0l1-1.4l1.5 2.3l.5-.2l.5-1.1l.5 .1l.5 .8l.5-.3l1 .1l.5-.2l.5 .4l1 1.1l2 0l.5-.4l.5 .4l3 0l.5-.3l.5 .3l2 0l.5-.2l.2 .2z" fill="#c41230"/>
<line x1="398.70" y1="529.05" x2="454.60" y2="529.05" stroke="#eba6b3" stroke-width="0.45"/>
<text x="399.90" y="526.45" font-size="2.6" text-anchor="start" fill="#ababab" font-weight="normal">0 - [20]</text>
<path d="M399.5 529.0l.5-.2l.5 .2l1.5 0l.5-.4l.5 .4l1.5 0l.5-.3l.5 .3l1 0l.5-.2l.5 .2l1 0l.5-.2l.5 .2l1.5 0l.5-.3l.5 .3l3 0l.5-.3l.5 .1l.5 .2l.5 0l.5-.1l.5 .1l.5-.3l.5 .3l1-.8l1 .8l.5-.4l.5 .4l.5-.3l.5 .3l.5 0l.5-.2l.5 .2l1 0l1-.4l.5 .4l.5-.2l.5 .2l3 0l.5-.1l1.5 .1l1-.4l.5 .4l1.5 0l.5-.3l.5 .3l1.5 0l.5-.4l.5 .4l4 0l.5-.3l.5 .3l2 0l.5-.3l.5 0l.5 .3l.5 0l.5-.2l1 .2l3.8 0z" fill="#c41230"/>
<line x1="458.30" y1="529.05" x2="511.60" y2="529.05" stroke="#eba6b3" stroke-width="0.45"/>
<text x="459.50" y="526.45" font-size="2.6" text-anchor="start" fill="#ababab" font-weight="normal">0 - [20]</text>
<path d="M459.1 529.0l.5 0l.5-.2l1.5-.2l.5 .4l.5-.3l.5 .3l1 0l.5-.2l1 .2l4 0l1-.4l.5-.4l.5 .2l.5-.1l.5-.5l.5 .4l.5-.3l1 0l2 .8l.5-.4l1 .6l2-1.1l1 .5l.5 .1l1-.4l1 .5l.5-.2l1 .3l1-.4l1.5 .5l.5 .1l1-.9l1-.1l1 .1l.5 .3l.5 .1l1 .4l.5-.1l1-.8l.5 .4l.5-.1l.5-.3l1.5 .7l1-.1l.5-.5l1.5 1.1l.5 0l.5-.3l.5 .3l1 0l.5-.2l.5 .2l6.7 0z" fill="#c41230"/>
<line x1="398.70" y1="534.00" x2="454.60" y2="534.00" stroke="#eba6b3" stroke-width="0.45"/>
<line x1="399.70" y1="533.70" x2="453.60" y2="533.70" stroke="#c41230" stroke-width="0.6" stroke-dasharray="0.6 1.1"/>
<text x="399.90" y="531.40" font-size="2.6" text-anchor="start" fill="#ababab" font-weight="normal">0 - [50]</text>
<path d="M399.5 534.0l0-.3l.5 .3l.5-.3l.5-.1l.5 .4l.5 0l.5-.4l.5 .4l.5-.2l.5 .2l1.5 0l.5-.2l.5 .2l.5-.2l.5 .2l1-.5l.5-.4l.5 .5l.5 .2l1-.6l.5 .1l1-.5l.5 .2l.5 .4l.5 .1l.5-.2l.5 0l.5 .2l1-.4l.5 .2l1-.3l.5-.3l.5 .1l1 .6l1-.1l.5-.3l.5 .1l1 .6l.5 .1l.5-.2l1-.1l1-.7l1 .8l1.5-1l1 .6l.5-.4l1.5 1.2l.5 0l.5-.4l.5 .4l.5 0l.5-.3l.5 .3l.5 0l.5-.3l.5-.8l1 1.1l1.5 0l.5-.1l1.5-1.3l1 .8l2-.8l.5 .2l1-.2l.5 .2l.5 .5l.5 .1l.5 .6l.5 0l.5-.4l1.5 .4l.5-.4l.5 .4l3.3 0z" fill="#c41230"/>
<line x1="458.30" y1="534.00" x2="511.60" y2="534.00" stroke="#eba6b3" stroke-width="0.45"/>
<line x1="459.30" y1="533.70" x2="510.60" y2="533.70" stroke="#c41230" stroke-width="0.6" stroke-dasharray="0.6 1.1"/>
<text x="459.50" y="531.40" font-size="2.6" text-anchor="start" fill="#ababab" font-weight="normal">0 - [50]</text>
<path d="M459.1 534.0l1 0l.5-.3l.5 .3l2 0l.5-.4l.5 .4l6 0l.5-.8l.5-1.4l.5 1l.5 .3l1.5-.2l1-1.2l1.5 2l.5-.2l.5 .5l.5-.2l.5-1.7l.5 .5l.5-.4l.5 1l.5-.2l1-1.2l1-.1l1 1.2l1 0l.5-.8l.5-.3l.5 .8l.5 .1l.5-.9l1 1.2l1-.8l.5 .1l.5 .6l1.5-1.2l1 .8l.5-.8l1 1.1l.5-.3l1 .7l1.5-1.5l.5 .5l.5-.1l1 1l.5-.1l.5-1.2l.5 1l1.5 1l.5 0l.5 .2l.5-.3l.5-.1l.5 .4l2 0l.5-.3l.5 .3l1-.2l1 .2l.5-.3l1.2 .3z" fill="#c41230"/>
<line x1="398.70" y1="538.95" x2="454.60" y2="538.95" stroke="#eba6b3" stroke-width="0.45"/>
<text x="399.90" y="536.35" font-size="2.6" text-anchor="start" fill="#ababab" font-weight="normal">0 - [10,000]</text>
<path d="M399.5 538.9l.5 0l.5-.3l.5 .3l3.5 0l.5-.2l.5 .2l.5 0l2-1.7l2.5 1l.5 .5l.5-.1l1-.5l.5-.4l.5 0l.5 .5l1-.8l.5 0l.5 .3l.5 .1l.5-.4l.5 0l.5 .7l.5-.1l.5 .7l.5 .2l.5 0l1-1.2l.5 0l.5 .2l1-.8l2 1.4l.5-1.2l.5 .5l.5 1.1l1-.4l.5-.6l1 .2l.5-.7l1 0l1 1l1 .5l.5-.1l.5 0l.5-.9l.5 .7l.5 .3l1-.4l1-1.1l.5 .1l1.5 .9l.5-.3l1-.2l.5-.6l.5 .2l1-.3l.5 .5l.5-.2l.5 .1l2 1.3l1 0l.5-.4l.5 .4l.5 0l.5-.4l.5 0l.5 .4l1.5 0l.5-.3l.5 .3l1.3 0z" fill="#c41230"/>
<line x1="458.30" y1="538.95" x2="511.60" y2="538.95" stroke="#eba6b3" stroke-width="0.45"/>
<text x="459.50" y="536.35" font-size="2.6" text-anchor="start" fill="#ababab" font-weight="normal">0 - [10,000]</text>
<path d="M459.1 538.9l1 0l.5-.2l.5 .2l.5 0l.5-.3l.5 .3l2.5 0l.5-.1l.5 .1l3 0l2.5-2.1l.5-.1l.5 .6l.5 .1l1-1.1l.5 .9l.5-.7l.5 .8l.5-.8l.5 1l.5 .2l1-1.2l1 .3l.5 .6l.5 .9l1-1.8l.5 .7l.5 .3l1-1.3l.5 .7l.5-.2l.5 .2l1 2l.5-.5l.5-1.2l.5 .3l.5 .9l.5-1.3l.5-.5l.5 1.3l.5 .3l.5-1.2l.5-.1l.5 1.2l.5-.4l.5-.1l1-.6l1 1.9l.5-.4l1-1.7l.5 .4l.5 .1l.5-.4l.5 .6l1-1.2l.5 .2l.5 .9l1 1.2l.5 .3l1 0l.5-.3l.5 .3l1.5 0l.5-.3l.5 .3l.5 0l.5-.2l.5 .2l1 0l.5-.3l.5-.1l.5 .4l.5 0l.5-.3l.2 .3z" fill="#c41230"/>
<line x1="398.70" y1="543.90" x2="454.60" y2="543.90" stroke="#eba6b3" stroke-width="0.45"/>
<text x="399.90" y="541.30" font-size="2.6" text-anchor="start" fill="#ababab" font-weight="normal">0 - [20]</text>
<path d="M399.5 543.9l5 0l1.5-1.7l.5 .5l1 .3l1-.4l1.5 1.1l.5 .2l.5 0l2.5-2.4l2 2.1l.5-.7l.5-1l.5 .1l.5 .7l.5-.4l.5-.7l1 1.7l.5-.1l.5-.7l.5 .8l1-.3l1-.6l.5 .7l1-.2l.5-.4l.5 0l.5-.2l.5-.6l.5 .2l.5 .6l.5 0l.5 .5l.5-.3l.5 0l1-1.2l1 1.5l1.5-1.4l.5 .6l.5-.2l1 .8l.5-.4l.5 0l1 .7l.5 0l1-1.2l.5 0l2 2l.5-.2l.5 .2l.5 0l1.5-2.4l.5 .7l.5-.3l.5 .5l.5-.2l.5-.5l1 .8l.5-.4l1.5 1.8l3.5 0l.5-.5l.3 .5z" fill="#c41230"/>
<line x1="458.30" y1="543.90" x2="511.60" y2="543.90" stroke="#eba6b3" stroke-width="0.45"/>
<text x="459.50" y="541.30" font-size="2.6" text-anchor="start" fill="#ababab" font-weight="normal">0 - [20]</text>
<path d="M459.1 543.9l4 0l.5-.5l.5 .5l1 0l.5-.2l.5 .2l5 0l.5-.4l2-2.5l.5 .6l.5 .3l.5 .1l.5 .9l.5-.4l.5-.8l.5-.5l1 .8l.5-.9l.5 .9l.5-.2l.5-.5l1.5 1.8l1 .8l1.5-1.7l.5-.8l.5 .9l.5 .5l.5-.4l.5-.7l.5 .2l.5-.6l.5 0l.5 .7l.5-.6l.5 .3l.5 .6l1-.2l1.5 1.4l1 0l1.5-1.7l1 1.1l.5-.1l1-1.3l1 .4l.5 .5l1 1.5l4.5 0l.5-.4l.5 .4l4 0l.5-.2l.7 .2z" fill="#c41230"/>
<line x1="398.70" y1="548.85" x2="454.60" y2="548.85" stroke="#eba6b3" stroke-width="0.45"/>
<line x1="399.70" y1="548.55" x2="453.60" y2="548.55" stroke="#c41230" stroke-width="0.6" stroke-dasharray="0.6 1.1"/>
<text x="399.90" y="546.25" font-size="2.6" text-anchor="start" fill="#ababab" font-weight="normal">0 - [50]</text>
<path d="M399.5 548.9l0-.6l.5 .6l2 0l.5-.4l.5 .4l.5-.4l.5 .4l1 0l.5-.4l.5 .4l2.5 0l.5-.6l1.5 .2l.5-.2l.5 .6l2-.5l.5 .1l.5-.1l.5-.4l.5 .3l.5 0l.5 .4l1-.2l.5 0l1-.2l.5 .2l.5-.1l.5 .2l.5-.2l.5 .3l4.5-.4l1.5 .6l.5 0l.5-.4l.5 .4l2-.8l1 .5l.5 .1l2-.4l1 .2l1-.4l1 .3l1.5 0l1.5-.3l1 .4l.5-.1l.5 .3l1.5-.6l.5 .1l1 .7l.5 0l2-.9l1.5 .9l1 0l.5-.3l.5 .3l2.3 0z" fill="#c41230"/>
<line x1="458.30" y1="548.85" x2="511.60" y2="548.85" stroke="#eba6b3" stroke-width="0.45"/>
<line x1="459.30" y1="548.55" x2="510.60" y2="548.55" stroke="#c41230" stroke-width="0.6" stroke-dasharray="0.6 1.1"/>
<text x="459.50" y="546.25" font-size="2.6" text-anchor="start" fill="#ababab" font-weight="normal">0 - [50]</text>
<path d="M459.1 548.9l.5-.5l.5 .5l.5 0l.5-.3l.5 .3l1 0l.5-.6l.5 .6l1.5 0l.5-.6l.5 .6l3.5 0l1.5-1.3l.5 .5l.5 .1l1-.5l1 .7l.5-.1l1-.6l.5-.1l.5 .2l.5-.2l1.5 1l.5 0l1-.7l1-.4l.5 .3l1 .3l.5-.3l.5 0l.5 .2l.5-.4l.5 .3l.5-.2l.5 0l.5 .3l.5-.5l.5 .5l.5 .3l.5-.4l.5 .3l.5-.2l1-.6l1.5 .9l.5-.3l.5 .1l1-.6l.5 0l1 .8l.5 .1l.5-.6l.5 .2l.5 0l.5 .3l1 0l.5-.6l.5 .1l1 1.1l1 0l.5-.4l.5 .4l2 0l.5-.5l.5 .5l1.5 0l1-.6l.5 .6l1.7 0z" fill="#c41230"/>
<line x1="398.70" y1="553.80" x2="454.60" y2="553.80" stroke="#eba6b3" stroke-width="0.45"/>
<text x="399.90" y="551.20" font-size="2.6" text-anchor="start" fill="#ababab" font-weight="normal">0 - [10,000]</text>
<path d="M399.5 553.8l1.5 0l.5-.6l.5 0l.5 .6l1 0l.5-.3l.5 .3l.5 0l.5-.3l.5 .3l.5-.3l.5 .3l2 0l.5-.5l.5 .2l1-.2l1 .2l.5 0l1-.4l1 .2l1-.1l.5 .6l1 0l1.5-.4l1.5 0l.5 .2l.5 0l.5 .2l1 0l.5-.2l3.5-.5l.5 .1l.5 .3l.5-.3l1-.1l1.5 .4l.5-.3l.5 .3l1-.2l1 .3l1-.5l.5 .2l.5-.3l1 .3l.5-.1l.5 .3l1-.3l.5 .1l.5 .2l1.5-.3l2 .4l1-.4l.5 .1l1 .5l8.3 0z" fill="#c41230"/>
<line x1="458.30" y1="553.80" x2="511.60" y2="553.80" stroke="#eba6b3" stroke-width="0.45"/>
<text x="459.50" y="551.20" font-size="2.6" text-anchor="start" fill="#ababab" font-weight="normal">0 - [10,000]</text>
<path d="M459.1 553.8l.5 0l.5-.5l.5 .5l.5 0l.5-.5l.5 .5l4 0l.5-.4l.5 .4l1.5 0l.5-.3l.5 .3l1.5 0l.5-.4l.5 .4l2.5 0l.5-.5l.5 .5l.5-.2l.5-.8l1.5 1l.5-.2l1-.7l.5 .3l1-.8l.5-.2l.5 .1l.5 .5l.5 0l1-.8l1.5 1.3l1.5-1.4l1 .9l.5 0l.5-.4l.5-.1l1.5 1.2l1 .3l4.5 0l.5-.5l.5 .5l1 0l.5-.3l.5 .3l.5-.4l.5 .4l.5-.4l.5 .4l1.5 0l1-.5l.5 .5l.5 0l.5-.4l.5 .4l1.5 0l.5-.4l.5 .4l2.2 0z" fill="#c41230"/>
<line x1="398.70" y1="558.75" x2="454.60" y2="558.75" stroke="#eba6b3" stroke-width="0.45"/>
<text x="399.90" y="556.15" font-size="2.6" text-anchor="start" fill="#ababab" font-weight="normal">0 - [20]</text>
<path d="M399.5 558.8l0-.6l.5 .6l4.5 0l.5-.2l.5 .2l.5-.3l.5 .3l1 0l1-.6l.5 .6l.5 0l.5-.6l.5 .3l.5-.2l1 0l1 .2l.5 .3l1 0l2-.6l2 .4l1.5-.1l1 .3l.5-.4l.5 .2l1-.4l1 .6l1 0l.5-.6l.5 .6l.5-.4l1-.1l1.5 .3l.5-.1l.5-.3l.5 0l.5 .6l.5 0l.5-.2l.5 .2l1-.5l1 .2l1-.3l1.5 .4l1-.3l.5 .2l1.5-.2l1 .1l.5-.1l1.5 .3l.5-.4l.5 .4l.5-.4l1.5 .6l.5 0l.5-.5l.5 .5l1 0l.5-.4l.5 .4l2 0l.5-.5l.5 .1l.5 .4l.8 0z" fill="#c41230"/>
<line x1="458.30" y1="558.75" x2="511.60" y2="558.75" stroke="#eba6b3" stroke-width="0.45"/>
<text x="459.50" y="556.15" font-size="2.6" text-anchor="start" fill="#ababab" font-weight="normal">0 - [20]</text>
<path d="M459.1 558.8l0-.4l.5 .4l4 0l.5-.5l.5 .5l1 0l.5-.6l.5 .6l1.5 0l.5-.3l.5 .3l1 0l1.5-1l.5 0l.5-.3l1 .5l.5-.5l.5-.1l.5 .5l.5-.1l1 .8l.5-.4l.5 .6l1-1.1l.5-.2l.5 .2l.5-.2l.5 .6l.5 .1l.5-.2l.5-.4l.5-.1l1.5 1.3l.5 0l1-.3l.5-.3l1.5 .2l1-.8l.5 .3l1-.1l1.5 .8l.5-.1l.5 .3l.5-.4l.5 .4l3 0l.5-.2l.5 .2l.5 0l.5-.5l.5 .5l3 0l.5-.2l.5 .2l2 0l.5-.5l1 .5l.5-.4l.5-.2l1 .6l1 0l.5-.4l.5 .4l.2 0z" fill="#c41230"/>
<line x1="398.70" y1="563.70" x2="454.60" y2="563.70" stroke="#eba6b3" stroke-width="0.45"/>
<line x1="399.70" y1="563.40" x2="453.60" y2="563.40" stroke="#c41230" stroke-width="0.6" stroke-dasharray="0.6 1.1"/>
<text x="399.90" y="561.10" font-size="2.6" text-anchor="start" fill="#ababab" font-weight="normal">0 - [50]</text>
<path d="M399.5 563.7l1.5 0l.5-.3l.5 .3l.5-.6l.5 .2l.5 .4l.5-.6l.5 .6l.5 0l.5-.4l1-.1l.5 .4l1.5-.3l1.5 0l1-.2l.5 .1l.5-.1l.5 .2l1-.2l.5 .1l.5-.1l.5 .1l.5 .3l1.5-.3l.5 .3l.5 .2l1 0l1.5-.5l1.5 .3l2-.3l.5 .2l1.5-.1l1-.4l.5 .2l.5-.1l1.5 .7l.5 0l.5-.7l.5 .4l1.5 .1l.5-.2l2 .1l.5 .2l1.5-.4l.5 0l.5-.2l1.5 .4l.5-.4l1 .3l1-.2l1 .1l.5 .3l2.5-.5l1 .1l1 .6l.5-.5l.5 .5l.5-.6l.5 .6l3 0l.5-.7l.3 .7z" fill="#c41230"/>
<line x1="458.30" y1="563.70" x2="511.60" y2="563.70" stroke="#eba6b3" stroke-width="0.45"/>
<line x1="459.30" y1="563.40" x2="510.60" y2="563.40" stroke="#c41230" stroke-width="0.6" stroke-dasharray="0.6 1.1"/>
<text x="459.50" y="561.10" font-size="2.6" text-anchor="start" fill="#ababab" font-weight="normal">0 - [50]</text>
<path d="M459.1 563.7l1.5 0l.5-.4l.5 .4l1.5 0l2.5-.5l.5 .1l1-.2l2 .4l.5-.3l.5 .3l.5-.4l.5 .2l.5-.1l1 .1l.5-.1l.5 .2l1-.4l.5 .5l1.5-.1l.5-.2l1 .3l.5-.1l.5 .1l1 0l.5 .2l1.5-.1l.5-.6l.5-.4l.5 .6l.5 .1l.5-.1l.5 .1l.5-.1l.5 .3l1-.3l.5 .1l1-.2l.5 .4l3 0l.5 .2l2 0l2-.5l1.5 .5l2.5-.4l1 0l.5-.3l.5 .5l.5 .1l.5-.4l.5 .1l.5-.3l.5 .5l.5-.2l.5 .4l.5-.3l.5 .3l1.5-.5l1 .2l.5-.3l.5 .2l.2 .4z" fill="#c41230"/>
<line x1="398.70" y1="568.65" x2="454.60" y2="568.65" stroke="#eba6b3" stroke-width="0.45"/>
<text x="399.90" y="566.05" font-size="2.6" text-anchor="start" fill="#ababab" font-weight="normal">0 - [10,000]</text>
<path d="M399.5 568.6l.5-.1l.5 .1l.5-.2l.5 .2l1 0l.5-.3l.5 .3l3 0l1-.1l.5 .1l.5-.1l.5 .1l1-.1l.5 .1l1.5 0l.5-.1l.5 .1l3 0l.5-.2l.5 .2l.5 0l.5-.2l1 0l.5 .2l1 0l1.5-.2l.5 .2l4.5 0l.5-.1l.5 .1l3.5 0l.5-.3l.5 .3l.5 0l.5-.2l.5 .2l3.5 0l.5-.2l.5 .2l1 0l.5-.3l.5 .3l1 0l.5-.1l.5 .1l1.5 0l.5-.2l.5 .2l5 0l.5-.2l.5 .2l2 0l.5-.2l.3 .2z" fill="#c41230"/>
<line x1="458.30" y1="568.65" x2="511.60" y2="568.65" stroke="#eba6b3" stroke-width="0.45"/>
<text x="459.50" y="566.05" font-size="2.6" text-anchor="start" fill="#ababab" font-weight="normal">0 - [10,000]</text>
<path d="M459.1 568.6l0-.3l.5 .3l.5-.3l.5 0l.5 .3l3 0l1-.4l.5 0l.5 .4l1 0l.5-.2l.5 .2l.5 0l.5-.3l.5 .3l3 0l1-.4l.5 .4l2 0l.5-.2l.5 .2l1.5 0l.5-.4l.5 .1l.5 .3l1.5 0l.5-.1l.5-.8l.5-.5l1 1.4l.5-.1l.5 .1l1 0l.5-.2l.5 .2l.5 0l.5-.4l.5 .4l2 0l.5-.1l.5 .1l.5 0l.5-.2l.5 .2l.5 0l.5-.3l.5 .3l.5-.4l.5 .4l1.5 0l.5-.4l.5 .4l.5-.2l.5 .2l.5 0l.5-.2l.5 .2l.5 0l.5-.4l.5 .4l2.5 0l.5-.3l.5 .3l2.5 0l.5-.3l.5 .3l.5-.3l.5 .2l.5-.3l.2 .4z" fill="#c41230"/>
<line x1="398.70" y1="573.60" x2="454.60" y2="573.60" stroke="#eba6b3" stroke-width="0.45"/>
<text x="399.90" y="571.00" font-size="2.6" text-anchor="start" fill="#ababab" font-weight="normal">0 - [20]</text>
<path d="M399.5 573.6l2.5 0l.5-.3l.5 .3l5.5 0l.5-.2l.5 .2l1.5 0l.5-.3l.5 .3l.5-.2l.5 .2l2.5 0l.5-.3l1 .3l.5-.2l.5 0l.5 .2l4 0l.5-.2l.5 .2l1-.3l1 .3l3.5 0l.5-.1l.5 .1l1 0l.5-.2l.5 .2l1 0l.5-.3l.5 .3l3.5 0l.5-.2l.5 .2l.5 0l.5-.3l.5 .3l3 0l.5-.2l.5 .2l3 0l.5-.1l.5 .1l1 0l.5-.2l.5 .2l3.8 0z" fill="#c41230"/>
<line x1="458.30" y1="573.60" x2="511.60" y2="573.60" stroke="#eba6b3" stroke-width="0.45"/>
<text x="459.50" y="571.00" font-size="2.6" text-anchor="start" fill="#ababab" font-weight="normal">0 - [20]</text>
<path d="M459.1 573.6l3 0l.5-.1l.5 .1l1.5 0l.5-.3l.5 .3l.5-.3l.5 .3l1 0l.5-.1l.5 .1l.5-.2l.5 .2l.5 0l.5-.3l.5 .3l.5-.3l.5 .3l3 0l.5-.1l.5 .1l2.5 0l.5-.3l.5 .3l3.5 0l.5-.3l1 .3l3 0l.5-.3l.5 .3l1 0l.5-.3l.5 .3l.5 0l.5-.2l.5 .2l2 0l.5-.2l1 .2l.5-.2l.5 .2l.5-.2l.5 .2l.5-.2l.5 .2l2 0l.5-.2l.5 .2l.5 0l.5-.3l.5 .3l2 0l.5-.2l.5 .2l3.5 0l.5-.2l.7 .2z" fill="#c41230"/>
<line x1="398.70" y1="578.55" x2="454.60" y2="578.55" stroke="#eba6b3" stroke-width="0.45"/>
<line x1="399.70" y1="578.25" x2="453.60" y2="578.25" stroke="#c41230" stroke-width="0.6" stroke-dasharray="0.6 1.1"/>
<text x="399.90" y="575.95" font-size="2.6" text-anchor="start" fill="#ababab" font-weight="normal">0 - [50]</text>
<path d="M399.5 578.5l.5 0l.5-.2l.5 .2l2 0l.5-.4l.5 .4l2.5 0l.5-.2l.5 .2l2 0l.5-.2l.5 .2l.5-.4l.5 .1l.5 .3l.5-.3l.5-.1l1 .4l.5-.2l.5 .2l.5-.3l.5 .3l1.5 0l.5-.1l.5 .1l.5-.2l.5 .2l.5-.1l.5 .1l.5 0l.5-.3l.5 .3l.5 0l.5-.3l.5 .3l1.5 0l.5-.2l.5 .2l1-.4l.5 .4l4.5 0l.5-.3l.5 .3l.5-.4l.5 .4l.5 0l1-1.4l1 1.4l1-.4l1 .4l.5-.2l.5 .2l6.5 0l.5-.3l.5 .3l1 0l.5-.3l.5 .3l3.5 0l.5-.1l.8 .1z" fill="#c41230"/>
<line x1="458.30" y1="578.55" x2="511.60" y2="578.55" stroke="#eba6b3" stroke-width="0.45"/>
<line x1="459.30" y1="578.25" x2="510.60" y2="578.25" stroke="#c41230" stroke-width="0.6" stroke-dasharray="0.6 1.1"/>
<text x="459.50" y="575.95" font-size="2.6" text-anchor="start" fill="#ababab" font-weight="normal">0 - [50]</text>
<path d="M459.1 578.5l1 0l.5-.3l.5 .3l2 0l.5-.3l.5 .3l.5 0l.5-.2l.5 .2l1 0l.5-.1l.5 .1l4.5 0l.5-.1l.5 .1l11 0l.5-.2l.5 .2l1-.1l.5 .1l.5-.3l1 .3l1 0l.5-.1l.5 .1l1 0l.5-.3l.5 .3l.5 0l.5-.2l.5 0l.5 .2l.5-.2l1 .2l1 0l.5-.1l.5 .1l6.5 0l.5-.2l.5 .2l1.5 0l.5-.3l.5 .3l1 0l.5-.3l.5 .3l1.2 0z" fill="#c41230"/>
<line x1="398.70" y1="583.50" x2="454.60" y2="583.50" stroke="#eba6b3" stroke-width="0.45"/>
<text x="399.90" y="580.90" font-size="2.6" text-anchor="start" fill="#ababab" font-weight="normal">0 - [10,000]</text>
<path d="M399.5 583.5l0-.2l.5 .2l3 0l.5-.3l.5 .3l.5-.3l.5 .3l3 0l.5-.2l.5 .2l.5 0l.5-.3l.5 .3l6.5 0l.5-.1l.5 .1l6.5 0l1-.3l.5 .3l1 0l.5-.3l.5 .3l6 0l1-.3l.5 .3l.5 0l.5-.3l.5 .3l.5 0l.5-.2l1 .2l3 0l.5-.2l1 .2l.5-.3l.5 .3l5 0l.5-.3l.5 .3l1 0l.5-.3l.5 0l.5 .3l.8 0z" fill="#c41230"/>
<line x1="458.30" y1="583.50" x2="511.60" y2="583.50" stroke="#eba6b3" stroke-width="0.45"/>
<text x="459.50" y="580.90" font-size="2.6" text-anchor="start" fill="#ababab" font-weight="normal">0 - [10,000]</text>
<path d="M459.1 583.5l6 0l.5-.2l.5 .2l.5-.3l.5 .3l2.5 0l.5-.2l.5 .2l.5 0l.5-.3l1 .3l.5-.1l.5 .1l2.5 0l.5-.3l.5 .3l1 0l.5-.2l1 .2l.5-.2l.5 .2l6 0l.5-.3l.5 .3l1 0l.5-.2l.5 .2l3 0l.5-.3l.5 .3l6.5 0l.5-.2l1 .2l.5-.1l.5 .1l1 0l.5-.3l.5 .3l.5-.3l.5 .3l1 0l.5-.3l1 .3l1 0l.5-.3l.5 .3l.7 0z" fill="#c41230"/>
<line x1="398.70" y1="588.45" x2="454.60" y2="588.45" stroke="#eba6b3" stroke-width="0.45"/>
<text x="399.90" y="585.85" font-size="2.6" text-anchor="start" fill="#ababab" font-weight="normal">0 - [20]</text>
<path d="M399.5 588.4l.5-.2l1 .2l3 0l1.5-.2l1 .2l1 0l.5-.1l.5 .1l.5 0l.5-.3l1 .3l10.5 0l.5-.1l.5 .1l.5-.3l.5 .3l1 0l.5-.1l.5 .1l.5-.2l.5 .2l1 0l.5-.1l.5 .1l6 0l.5-.1l.5 .1l3 0l.5-.3l.5 .3l2 0l.5-.1l.5 .1l.5-.1l.5 .1l2.5 0l.5-.2l.5 .2l3.5 0l.5-.3l.5 .3l.5 0l.5-.1l.5 .1l.5-.2l.8 .2z" fill="#c41230"/>
<line x1="458.30" y1="588.45" x2="511.60" y2="588.45" stroke="#eba6b3" stroke-width="0.45"/>
<text x="459.50" y="585.85" font-size="2.6" text-anchor="start" fill="#ababab" font-weight="normal">0 - [20]</text>
<path d="M459.1 588.4l1.5 0l.5-.3l.5 0l.5 .3l.5 0l.5-.2l.5 .2l.5 0l.5-.3l.5 .3l2.5 0l.5-.1l.5 .1l.5-.2l.5 .2l.5-.1l.5 .1l1.5 0l.5-.1l.5 .1l8.5 0l.5-.2l.5 .2l3 0l.5-.3l.5 .3l.5 0l.5-.2l.5 .2l3 0l.5-.3l.5 .3l2.5 0l.5-.1l1 .1l.5-.2l1-.1l.5 .3l2.5 0l.5-.2l.5 .2l.5-.2l.5 .2l.5-.3l.5 .3l.5 0l.5-.3l.5 .3l5 0l.5-.2l.2 .2z" fill="#c41230"/>
<line x1="398.70" y1="593.40" x2="454.60" y2="593.40" stroke="#a9c4dd" stroke-width="0.45"/>
<line x1="399.70" y1="593.10" x2="453.60" y2="593.10" stroke="#2b65a3" stroke-width="0.6" stroke-dasharray="0.6 1.1"/>
<text x="399.90" y="590.80" font-size="2.6" text-anchor="start" fill="#ababab" font-weight="normal">0 - [50]</text>
<path d="M399.5 593.4l1 0l.5-.6l1 .2l.5-.4l.5 .4l1 .2l.5-.3l.5 .2l.5-.2l1 .1l.5-.1l1 .3l1-.3l.5 .5l.5 0l.5-.9l.5 .8l.5-.1l.5-.5l.5 .3l1.5-.4l.5 .3l.5-.3l.5 .6l.5-.5l.5 .6l.5-.5l.5 .3l.5-.3l.5 .4l.5-.4l.5 .2l1.5 0l1 .2l.5-.7l1 .7l.5-.1l.5-.3l1 .2l1.5-.3l.5 .2l.5-.2l.5 .3l.5 .1l1-.1l1.5 .1l.5 .3l1 0l1-.6l.5 .2l.5-.3l.5 .1l.5 .3l.5-.2l1 .5l1 0l1.5-.4l1 .3l1-.1l.5 .2l.5-.9l.5 .4l.5-.2l2 .5l.5-.4l.5 0l.5 .3l.5 0l.5-.3l.5 .3l.5 .1l.5-.1l.5 .3l1 0l.5-.8l.5 .3l.5 0l.5 .5l.3 0z" fill="#2b65a3"/>
<line x1="458.30" y1="593.40" x2="511.60" y2="593.40" stroke="#a9c4dd" stroke-width="0.45"/>
<line x1="459.30" y1="593.10" x2="510.60" y2="593.10" stroke="#2b65a3" stroke-width="0.6" stroke-dasharray="0.6 1.1"/>
<text x="459.50" y="590.80" font-size="2.6" text-anchor="start" fill="#ababab" font-weight="normal">0 - [50]</text>
<path d="M459.1 593.4l1 0l.5-.7l.5 .2l.5 0l.5 .3l.5-.5l.5 .4l.5-.4l.5 .3l1.5-.2l1 .2l1-.2l.5 .1l.5-.3l2 .5l1.5 0l1.5-.5l1.5 .5l.5-.5l1.5 .8l.5 0l.5-.7l.5 .2l.5-.1l.5 .2l.5-.2l1 .3l.5-.2l1 .3l.5-.5l.5 .3l.5-.4l.5 .6l1.5-.5l.5 .3l.5-.2l.5 .4l.5-.3l.5 .3l.5-.2l.5 .4l.5-.8l.5 .8l.5 0l1-.5l.5-.1l.5 .4l1.5-.6l1.5 .4l1-.2l1.5 .2l.5-.1l.5 .2l1-.3l.5 .1l1-.2l.5 .2l.5-.2l1 .3l2 0l1.5-.1l.5 .5l.5-.8l.5 .1l.5 .3l.5-.1l.5 .2l.2 .3z" fill="#2b65a3"/>
<line x1="398.70" y1="598.35" x2="454.60" y2="598.35" stroke="#a9c4dd" stroke-width="0.45"/>
<text x="399.90" y="595.75" font-size="2.6" text-anchor="start" fill="#ababab" font-weight="normal">0 - [10,000]</text>
<path d="M399.5 598.4l0-.3l.5 .3l.5 0l.5-.3l.5 .3l.5-.3l.5 .3l3 0l.5-.2l.5 .2l1-.3l.5 .3l1 0l.5-.3l1 .3l2 0l.5-.4l1 .4l.5 0l.5-.4l.5 .4l2 0l.5-.2l.5 0l.5 .2l.5-.3l.5 .3l1 0l.5-.3l.5 .3l1-.2l.5 .2l3.5 0l.5-.3l.5 .3l.5-.3l1.5 0l.5 .3l3 0l.5-.4l.5 .4l1-.2l.5 .2l2 0l.5-.3l.5 .3l3.5 0l.5-.2l.5 .2l.5-.3l.5 .3l.5-.3l.5 .3l1.5 0l.5-.3l1 .3l3.5 0l.5-.2l.5 .2l.8 0z" fill="#2b65a3"/>
<line x1="458.30" y1="598.35" x2="511.60" y2="598.35" stroke="#a9c4dd" stroke-width="0.45"/>
<text x="459.50" y="595.75" font-size="2.6" text-anchor="start" fill="#ababab" font-weight="normal">0 - [10,000]</text>
<path d="M459.1 598.4l.5 0l.5-.2l.5 .2l1 0l.5-.3l.5 .3l3.5 0l.5-.3l.5 .3l.5-.2l.5 .2l5 0l.5-.2l.5 .2l4.5 0l2-.3l.5 .3l.5-.4l.5 .4l1 0l.5-.2l.5 .2l.5-.3l.5 .3l1.5 0l.5-.3l.5 .3l.5-.2l.5 .2l1.5 0l.5-.3l.5 .3l6 0l.5-.4l.5 .4l3 0l.5-.3l.5 .3l.5 0l.5-.2l.5 0l.5-.1l.5 0l.5 .3l1-.2l.5 .2l1 0l.5-.2l.5 .2l2.2 0z" fill="#2b65a3"/>
<line x1="398.70" y1="603.30" x2="454.60" y2="603.30" stroke="#a9c4dd" stroke-width="0.45"/>
<text x="399.90" y="600.70" font-size="2.6" text-anchor="start" fill="#ababab" font-weight="normal">0 - [20]</text>
<path d="M399.5 603.3l2 0l.5-.2l.5 .2l.5 0l.5-.3l.5 .3l.5-.1l.5 .1l1 0l.5-.3l1 .3l2.5 0l.5-.3l.5 .3l.5 0l1-.3l.5 .3l.5-.3l.5 .3l7.5 0l.5-.3l.5 0l.5 .3l4.5 0l.5-.2l.5 .2l3 0l.5-.2l1 .2l.5-.3l.5 .3l3 0l.5-.2l.5 .2l.5-.2l.5 .2l.5 0l.5-.3l.5 .3l1.5-.3l.5 .3l1 0l.5-.2l.5 .2l.5-.2l.5 .2l4.5 0l.5-.2l.5 .2l2.8 0z" fill="#2b65a3"/>
<line x1="458.30" y1="603.30" x2="511.60" y2="603.30" stroke="#a9c4dd" stroke-width="0.45"/>
<text x="459.50" y="600.70" font-size="2.6" text-anchor="start" fill="#ababab" font-weight="normal">0 - [20]</text>
<path d="M459.1 603.3l.5 0l.5-.2l.5 .2l1 0l.5-.3l.5 .3l.5-.2l.5 .2l1 0l.5-.2l.5 .2l1.5 0l.5-.2l.5 .2l3 0l.5-.2l.5 .2l4 0l.5-.2l.5 .2l5 0l.5-.3l.5 .3l.5 0l.5-.3l.5 .3l3 0l.5-.2l.5 .2l1.5 0l.5-.3l1 .3l1.5 0l.5-.3l.5 .3l.5-.2l.5-.1l.5 .3l1 0l.5-.3l.5 .3l3 0l.5-.2l.5 .2l1.5 0l.5-.2l.5 .2l2 0l.5-.3l.5 0l.5 .3l2 0l.5-.2l.7 .2z" fill="#2b65a3"/>
<line x1="398.70" y1="608.25" x2="454.60" y2="608.25" stroke="#a9c4dd" stroke-width="0.45"/>
<line x1="399.70" y1="607.95" x2="453.60" y2="607.95" stroke="#2b65a3" stroke-width="0.6" stroke-dasharray="0.6 1.1"/>
<text x="399.90" y="605.65" font-size="2.6" text-anchor="start" fill="#ababab" font-weight="normal">0 - [50]</text>
<path d="M399.5 608.2l2.5 0l.5-.3l.5 .2l1-.2l.5-.3l.5 0l.5 .6l.5 0l.5-.4l.5 .3l1.5-.4l.5 .1l.5-.1l1 .5l1-.3l.5-.2l.5 .5l2 0l.5-.5l.5 .4l.5-.3l.5 .2l.5-.1l.5 .1l1-.3l1.5 .4l1-.4l.5 .3l.5-.1l.5 .3l.5-.1l.5-.3l1.5-.1l.5 .2l.5-.1l.5 .2l.5-.1l.5-.2l.5 .4l1-.3l1 .2l.5 .2l.5 0l1-.4l.5 .1l1-.1l1 .3l1-.2l1 .3l.5 0l.5-.2l1-.1l1.5 .2l.5-.3l1.5 .3l2-.4l2 .3l.5-.1l.5-.2l.5 .5l1-.2l.5-.4l1 0l.5 .4l1 .2l2.3 0z" fill="#2b65a3"/>
<line x1="458.30" y1="608.25" x2="511.60" y2="608.25" stroke="#a9c4dd" stroke-width="0.45"/>
<line x1="459.30" y1="607.95" x2="510.60" y2="607.95" stroke="#2b65a3" stroke-width="0.6" stroke-dasharray="0.6 1.1"/>
<text x="459.50" y="605.65" font-size="2.6" text-anchor="start" fill="#ababab" font-weight="normal">0 - [50]</text>
<path d="M459.1 608.2l0-.1l2-.4l1 .2l.5-.1l1 .2l.5-.5l.5 .6l1.5-.2l1.5 .3l1 0l1-.3l.5-.4l1.5 .4l1.5-.2l.5 .1l1 .4l.5-.3l1 .1l.5 .2l.5-.3l1-.2l1 .2l1 .1l1-.2l1 .2l1-.4l.5 .5l1-.5l2 .5l1-.4l.5 .1l.5 .4l1.5 0l.5-.1l.5-.4l1 .1l.5 .1l.5-.4l1.5 .5l.5 0l.5-.3l1 .1l.5-.1l1 .2l.5-.3l.5 .3l1 0l1 .1l.5-.1l1 .1l.5-.3l2.5 .3l1.5-.2l1 .2l1.5-.5l.5 .3l.5 .2l.2 .2z" fill="#2b65a3"/>
<line x1="398.70" y1="613.20" x2="454.60" y2="613.20" stroke="#a9c4dd" stroke-width="0.45"/>
<text x="399.90" y="610.60" font-size="2.6" text-anchor="start" fill="#ababab" font-weight="normal">0 - [10,000]</text>
<path d="M399.5 613.2l3 0l.5-.2l1.5 .2l.5-.3l.5 0l.5 .3l.5 0l1-.3l.5 .3l1.5 0l.5-.2l.5 0l.5 .2l5 0l.5-.2l.5 .2l1.5 0l.5-.2l.5-.1l.5 .3l1 0l.5-.3l1 .3l3 0l.5-.3l.5 .3l1 0l.5-.2l.5 .2l.5-.3l1 .3l.5 0l.5-.2l.5-.1l1 .3l4 0l.5-.2l.5 .2l.5-.3l.5 .3l1-.1l.5 .1l3.5 0l.5-.3l.5 .3l3.5 0l.5-.3l.5 .3l1-.1l1 .1l.5-.3l.5 .3l1.8 0z" fill="#2b65a3"/>
<line x1="458.30" y1="613.20" x2="511.60" y2="613.20" stroke="#a9c4dd" stroke-width="0.45"/>
<text x="459.50" y="610.60" font-size="2.6" text-anchor="start" fill="#ababab" font-weight="normal">0 - [10,000]</text>
<path d="M459.1 613.2l.5-.3l.5 .3l2 0l.5-.3l.5 .3l3.5 0l.5-.2l.5 .2l4 0l.5-.1l.5 .1l.5-.3l.5 .3l1.5 0l.5-.3l.5 .3l1 0l.5-.3l1 .3l.5 0l.5-.2l1 .2l.5-.1l.5 .1l.5-.3l.5 .3l5.5 0l.5-.3l.5 .3l1 0l.5-.2l.5 .2l3.5 0l.5-.3l.5 .3l4.5 0l.5-.3l.5 .3l1.5 0l.5-.3l.5 .3l1.5 0l.5-.3l.5 .3l1 0l.5-.3l1 .3l.5 0l.5-.2l.5 .2l.7 0z" fill="#2b65a3"/>
<line x1="398.70" y1="618.15" x2="454.60" y2="618.15" stroke="#a9c4dd" stroke-width="0.45"/>
<text x="399.90" y="615.55" font-size="2.6" text-anchor="start" fill="#ababab" font-weight="normal">0 - [20]</text>
<path d="M399.5 618.1l3 0l.5-.2l.5 .2l2 0l1-.1l.5 .1l5.5 0l.5-.1l1 .1l2 0l.5-.3l.5 .3l5.5 0l.5-.2l.5 .2l2.5 0l.5-.3l.5 .3l1 0l.5-.3l1 .1l.5 .2l1 0l.5-.3l.5 .3l3 0l.5-.1l.5 .1l2 0l.5-.2l.5 .2l2 0l.5-.2l.5 .2l1.5 0l.5-.1l.5 .1l2.5 0l.5-.1l.5 .1l5.8 0z" fill="#2b65a3"/>
<line x1="458.30" y1="618.15" x2="511.60" y2="618.15" stroke="#a9c4dd" stroke-width="0.45"/>
<text x="459.50" y="615.55" font-size="2.6" text-anchor="start" fill="#ababab" font-weight="normal">0 - [20]</text>
<path d="M459.1 618.1l.5 0l.5-.2l.5 0l.5 .2l.5-.1l1 .1l.5-.2l.5 .2l8 0l1.5-.3l.5 .1l.5 .2l4.5 0l.5-.1l.5 .1l2 0l.5-.3l.5 .3l.5 0l.5-.3l.5 .3l1 0l.5-.2l.5 .2l.5 0l.5-.2l.5 .2l1 0l.5-.2l.5 0l.5 .2l3 0l.5-.2l.5 0l.5 .2l3 0l.5-.2l.5 .2l1 0l.5-.1l.5 .1l2 0l.5-.3l.5 .3l2 0l.5-.1l.5 .1l.5-.3l.5 .3l1 0l.5-.1l.5 .1l1.2 0z" fill="#2b65a3"/>
<line x1="398.70" y1="623.10" x2="454.60" y2="623.10" stroke="#b4b4b4" stroke-width="0.45"/>
<line x1="399.70" y1="622.80" x2="453.60" y2="622.80" stroke="#111111" stroke-width="0.6" stroke-dasharray="0.6 1.1"/>
<text x="399.90" y="620.50" font-size="2.6" text-anchor="start" fill="#ababab" font-weight="normal">0 - [50]</text>
<path d="M399.5 623.1l1 0l2-.4l2.5 .3l2-.3l.5 .1l.5-.2l1 .5l1.5-.3l1.5 0l.5 .3l.5 0l.5-.3l.5 .3l.5-.4l.5 0l.5-.1l2 .2l.5 .3l.5-.6l.5 .6l1 0l.5-.2l.5 .2l.5 0l.5-.3l1 0l.5-.2l2 .5l.5-.3l1 0l1-.1l1 .2l.5-.1l.5-.5l.5 .6l1.5-.2l2 .4l1-.3l.5-.3l.5 .4l1.5-.3l1.5 .3l1.5-.3l2.5 .2l.5-.1l.5 .1l1 .1l.5-.2l.5 0l.5 .3l.5-.3l.5 0l1.5 .4l.5-.5l.5 .5l1.5 0l.5-.4l.5 .4l1.3 0z" fill="#111111"/>
<line x1="458.30" y1="623.10" x2="511.60" y2="623.10" stroke="#b4b4b4" stroke-width="0.45"/>
<line x1="459.30" y1="622.80" x2="510.60" y2="622.80" stroke="#111111" stroke-width="0.6" stroke-dasharray="0.6 1.1"/>
<text x="459.50" y="620.50" font-size="2.6" text-anchor="start" fill="#ababab" font-weight="normal">0 - [50]</text>
<path d="M459.1 623.1l1.5-.6l1.5 .6l.5-.6l.5-.1l.5 .5l.5-.4l.5 .2l.5-.2l1 .3l1.5 0l.5 .1l.5-.3l1-.1l1 .3l2-.1l1.5 .2l.5-.4l.5 .4l1.5 .2l1-.8l1 .7l1-.3l1 .4l2-.5l.5 .2l.5-.5l.5 .3l1.5 .3l1-.2l.5-.2l1 .4l1-.5l.5 .2l.5-.2l.5 0l2 .5l1-.3l2 .5l1 0l.5-.6l.5 .1l.5-.3l.5 0l.5 .6l.5 .2l1.5-.3l.5-.5l.5 .2l.5 .6l1 0l.5-.3l.5-.6l.5 .5l.5 .3l1.5-.5l1 .3l1-.1l1 .4l.7 0z" fill="#111111"/>
<line x1="398.70" y1="628.05" x2="454.60" y2="628.05" stroke="#b4b4b4" stroke-width="0.45"/>
<text x="399.90" y="625.45" font-size="2.6" text-anchor="start" fill="#ababab" font-weight="normal">0 - [10,000]</text>
<path d="M399.5 628.0l1.5 0l.5-.1l.5 .1l5 0l.5-.1l.5 .1l.5 0l.5-.1l.5 .1l.5 0l.5-.3l.5 .3l2.5 0l.5-.2l1 .2l.5-.1l1.5 .1l.5-.2l.5 .2l2.5 0l.5-.2l.5 .2l.5 0l.5-.2l1 .2l1 0l.5-.1l.5 .1l.5-.2l.5-.1l.5 .3l5 0l.5-.1l1 .1l.5-.3l.5 .3l2 0l.5-.3l.5 .1l.5 .2l1.5 0l.5-.2l.5 .2l.5-.1l1 .1l.5-.3l1 .3l1.5 0l.5-.3l.5 .3l1 0l.5-.3l.5 .3l1.5 0l1-.1l.5 .1l2.8 0z" fill="#111111"/>
<line x1="458.30" y1="628.05" x2="511.60" y2="628.05" stroke="#b4b4b4" stroke-width="0.45"/>
<text x="459.50" y="625.45" font-size="2.6" text-anchor="start" fill="#ababab" font-weight="normal">0 - [10,000]</text>
<path d="M459.1 628.0l1 0l.5-.1l.5 .1l.5-.2l.5 .2l.5-.2l.5 .2l1 0l.5-.2l.5 .2l.5-.2l.5 .2l6 0l.5-.2l.5 .2l1 0l.5-.3l.5 .3l2 0l.5-.1l.5 .1l.5-.2l.5 .2l1.5 0l.5-.2l.5 .2l2 0l.5-.1l.5 .1l3.5 0l.5-.2l.5 .2l1 0l.5-.3l.5 .1l.5 .2l1 0l.5-.2l.5 .2l1.5 0l.5-.2l.5 .2l.5-.2l.5 .2l1 0l.5-.3l.5 .3l3.5 0l.5-.3l.5 .3l1-.1l.5 .1l1 0l.5-.3l.5 .3l.5-.3l.5 .3l2.7 0z" fill="#111111"/>
<line x1="398.70" y1="633.00" x2="454.60" y2="633.00" stroke="#b4b4b4" stroke-width="0.45"/>
<text x="399.90" y="630.40" font-size="2.6" text-anchor="start" fill="#ababab" font-weight="normal">0 - [20]</text>
<path d="M399.5 633.0l.5 0l.5-.3l.5 .3l4.5 0l.5-.2l.5 .2l1.5 0l.5-.2l.5 .2l.5-.2l.5 .2l1 0l1-.3l.5 .1l.5 .2l.5 0l.5-.3l.5 .3l4.5 0l.5-.1l.5 .1l2 0l.5-.2l.5 .2l1.5 0l1-.3l.5 .3l.5-.2l.5 .2l7.5 0l.5-.3l.5 .3l5 0l.5-.2l.5 .2l.5-.2l.5-.1l.5 .3l.5-.1l.5 .1l2.5 0l.5-.2l.5 .2l.5-.2l.5 .2l2.5 0l1-.3l.5 .3l1.3 0z" fill="#111111"/>
<line x1="458.30" y1="633.00" x2="511.60" y2="633.00" stroke="#b4b4b4" stroke-width="0.45"/>
<text x="459.50" y="630.40" font-size="2.6" text-anchor="start" fill="#ababab" font-weight="normal">0 - [20]</text>
<path d="M459.1 633.0l.5 0l.5-.3l1 .3l5 0l.5-.1l.5 .1l1 0l.5-.3l.5 .3l.5-.2l.5 .2l1 0l.5-.3l.5 .3l2 0l.5-.3l.5 .3l7 0l.5-.3l.5 .3l1.5 0l.5-.2l.5 .2l1.5 0l.5-.3l1 .3l.5-.3l.5 .3l1.5 0l1-.3l.5 .3l.5 0l.5-.3l1 .3l1.5 0l.5-.3l.5 .3l.5-.3l.5 .3l1-.2l.5 .2l.5-.2l.5 .2l1.5 0l.5-.3l.5 .3l2 0l.5-.3l.5 .3l3.5 0l.5-.2l.7 .2z" fill="#111111"/>
<line x1="398.70" y1="637.95" x2="454.60" y2="637.95" stroke="#b4b4b4" stroke-width="0.45"/>
<line x1="399.70" y1="637.65" x2="453.60" y2="637.65" stroke="#111111" stroke-width="0.6" stroke-dasharray="0.6 1.1"/>
<text x="399.90" y="635.35" font-size="2.6" text-anchor="start" fill="#ababab" font-weight="normal">0 - [50]</text>
<path d="M399.5 637.9l1.5 0l1-.4l.5 .1l.5-.3l2 .6l.5-.1l.5-.4l2 .5l2-.5l1 .3l.5 0l.5-.2l1 .3l1-.1l.5-.2l.5 .4l.5 0l1-.5l1.5 .1l.5-.1l.5 .2l.5-.1l.5 .3l.5-.1l2 0l1.5-.5l.5 .4l.5-.2l.5 0l.5 .3l1.5 .1l1 .1l.5-.3l.5 .1l1-.3l.5 .2l.5-.3l.5 .4l1.5-.4l.5 .2l.5-.2l.5 .4l3.5 .1l.5 .1l.5-.5l.5 .2l1-.1l1.5 .3l.5-.6l.5 .7l.5 0l.5-.7l.5 .5l1-.1l1 .3l3.5 0l.5-.7l.5 .4l.5-.4l.5 .7l1.3 0z" fill="#111111"/>
<line x1="458.30" y1="637.95" x2="511.60" y2="637.95" stroke="#b4b4b4" stroke-width="0.45"/>
<line x1="459.30" y1="637.65" x2="510.60" y2="637.65" stroke="#111111" stroke-width="0.6" stroke-dasharray="0.6 1.1"/>
<text x="459.50" y="635.35" font-size="2.6" text-anchor="start" fill="#ababab" font-weight="normal">0 - [50]</text>
<path d="M459.1 637.9l2 0l.5-.6l.5 .6l.5 0l2-.4l1.5 .1l1 .3l.5 0l.5-.7l.5 .6l1-.2l1 0l.5 .2l1.5-.2l1 .2l1.5-.3l.5-.3l.5 .6l.5-.4l1 .4l1.5-.3l1 .1l1-.2l1 .3l1-.2l1.5 .3l2 0l1.5-.5l1 .3l.5-.2l.5 .1l.5-.2l1 .3l.5-.4l.5 .7l.5-.2l1 .1l.5-.2l.5 .2l.5-.4l.5 .5l.5-.4l.5 .4l2-.4l1 .4l2-.3l1 .1l1-.2l1 .2l.5-.3l.5 .3l1.5 0l.5-.2l.5 .4l.5-.3l.5 0l.5 .3l.7 0z" fill="#111111"/>
<line x1="398.70" y1="642.90" x2="454.60" y2="642.90" stroke="#b4b4b4" stroke-width="0.45"/>
<text x="399.90" y="640.30" font-size="2.6" text-anchor="start" fill="#ababab" font-weight="normal">0 - [10,000]</text>
<path d="M399.5 642.9l1-.1l.5 .1l3 0l.5-.3l.5 .3l.5 0l.5-.2l.5 .2l.5-.3l.5 0l.5 .3l.5-.3l.5 .3l1 0l.5-.2l.5 .2l2 0l.5-.2l.5 .2l.5-.3l.5 .3l2 0l.5-.2l.5 .2l1 0l.5-.3l.5 .3l2.5 0l.5-.1l1 .1l.5-.3l.5 .3l.5-.2l.5 .2l1.5 0l.5-.3l.5 .3l1.5 0l.5-.3l.5 .3l1.5-.2l.5 .2l1.5 0l.5-.2l.5 .2l8 0l.5-.3l.5 .3l1.5 0l1-.2l1 .2l.5-.1l.5 .1l2 0l.5-.3l.5 0l.5 .3l1.3 0z" fill="#111111"/>
<line x1="458.30" y1="642.90" x2="511.60" y2="642.90" stroke="#b4b4b4" stroke-width="0.45"/>
<text x="459.50" y="640.30" font-size="2.6" text-anchor="start" fill="#ababab" font-weight="normal">0 - [10,000]</text>
<path d="M459.1 642.9l.5-.3l.5 .3l2 0l.5-.3l.5 .3l.5 0l.5-.3l1 .3l1 0l.5-.3l.5 .3l2 0l.5-.2l.5 .2l.5 0l.5-.3l.5 .3l6.5 0l.5-.2l.5 .2l2 0l.5-.2l.5 .2l.5 0l.5-.3l.5 .3l.5 0l.5-.2l.5 .2l1.5 0l.5-.2l.5 .2l1.5 0l.5-.2l.5 .2l1-.2l.5 .2l4 0l.5-.3l.5 .3l1-.2l.5 .2l2.5 0l.5-.2l1 .2l1.5 0l.5-.2l.5 .2l3 0l.5-.2l.5 .2l.5-.2l.5 .2l1.2 0z" fill="#111111"/>
<line x1="398.70" y1="646.90" x2="454.60" y2="646.90" stroke="#b4b4b4" stroke-width="0.45"/>
<text x="399.90" y="645.25" font-size="2.6" text-anchor="start" fill="#ababab" font-weight="normal">0 - [20]</text>
<path d="M399.5 646.9l7.5 0l.5-.2l.5 .2l1.5 0l.5-.2l.5 .2l3.5 0l.5-.2l.5 .2l1 0l.5-.2l.5 .2l.5-.3l.5 .3l.5-.2l1.5 .2l.5-.1l.5 .1l7 0l.5-.2l.5 .2l5.5 0l.5-.3l.5 0l.5 .3l2.5 0l.5-.2l.5 .2l.5-.3l1 .3l.5 0l.5-.3l1 .3l.5-.2l.5 0l.5 .2l8.5 0l.5-.3l.3 .3z" fill="#111111"/>
<line x1="458.30" y1="646.90" x2="511.60" y2="646.90" stroke="#b4b4b4" stroke-width="0.45"/>
<text x="459.50" y="645.25" font-size="2.6" text-anchor="start" fill="#ababab" font-weight="normal">0 - [20]</text>
<path d="M459.1 646.9l4.5 0l.5-.3l.5 .3l2 0l.5-.3l.5 .3l1.5 0l.5-.2l.5 .2l1 0l.5-.3l1 .3l1.5 0l.5-.3l.5 0l.5 .3l1 0l.5-.3l.5 .3l1.5 0l.5-.3l.5 .3l1 0l.5-.2l.5 .2l.5-.2l.5 .2l8 0l.5-.2l1 .2l.5-.2l.5 .2l1.5 0l.5-.1l.5 .1l.5-.1l.5 .1l5.5 0l.5-.2l1 .2l.5-.2l.5 .2l1 0l.5-.3l.5 0l.5 .3l.5 0l.5-.2l.5 .2l1.7 0z" fill="#111111"/>
<rect x="398.70" y="508.60" width="55.90" height="138.90" fill="none" stroke="#1a1a1a" stroke-width="1.25"/>
<rect x="458.30" y="508.60" width="53.30" height="138.90" fill="none" stroke="#1a1a1a" stroke-width="1.25"/>
<line x1="398.00" y1="651.30" x2="429.00" y2="651.30" stroke="#5a8cc4" stroke-width="0.45"/>
<polyline points="399.2,650.5 398.4,651.3 399.2,652.1" fill="none" stroke="#3a70b0" stroke-width="0.35"/>
<polyline points="405.2,650.5 404.4,651.3 405.2,652.1" fill="none" stroke="#3a70b0" stroke-width="0.35"/>
<rect x="413.92" y="650.57" width="2.29" height="1.47" fill="#1f4f8f" stroke="none" stroke-width="1"/>
<polyline points="419.7,650.5 418.9,651.3 419.7,652.1" fill="none" stroke="#3a70b0" stroke-width="0.35"/>
<polyline points="424.2,650.5 423.4,651.3 424.2,652.1" fill="none" stroke="#3a70b0" stroke-width="0.35"/>
<polyline points="428.3,650.5 427.5,651.3 428.3,652.1" fill="none" stroke="#3a70b0" stroke-width="0.35"/>
<line x1="459.00" y1="651.30" x2="485.00" y2="651.30" stroke="#5a8cc4" stroke-width="0.45"/>
<polyline points="460.2,650.5 459.4,651.3 460.2,652.1" fill="none" stroke="#3a70b0" stroke-width="0.35"/>
<rect x="461.46" y="650.31" width="2.32" height="1.98" fill="#1f4f8f" stroke="none" stroke-width="1"/>
<polyline points="465.6,650.5 464.8,651.3 465.6,652.1" fill="none" stroke="#3a70b0" stroke-width="0.35"/>
<rect x="467.36" y="650.40" width="1.18" height="1.81" fill="#1f4f8f" stroke="none" stroke-width="1"/>
<rect x="469.14" y="650.33" width="1.14" height="1.95" fill="#1f4f8f" stroke="none" stroke-width="1"/>
<rect x="470.88" y="650.36" width="1.18" height="1.89" fill="#1f4f8f" stroke="none" stroke-width="1"/>
<polyline points="473.9,650.5 473.1,651.3 473.9,652.1" fill="none" stroke="#3a70b0" stroke-width="0.35"/>
<polyline points="478.2,650.5 477.4,651.3 478.2,652.1" fill="none" stroke="#3a70b0" stroke-width="0.35"/>
<polyline points="480.2,650.5 479.4,651.3 480.2,652.1" fill="none" stroke="#3a70b0" stroke-width="0.35"/>
<rect x="480.85" y="650.35" width="2.56" height="1.90" fill="#1f4f8f" stroke="none" stroke-width="1"/>
<text x="415.60" y="658.80" font-size="5.4" text-anchor="middle" fill="#111111" font-weight="normal" font-style="italic" stroke="#111111" stroke-width="0.07">MECOM</text>
<text x="474.10" y="658.80" font-size="5.4" text-anchor="middle" fill="#111111" font-weight="normal" font-style="italic" stroke="#111111" stroke-width="0.07">MEIS2</text>
</svg>
</body></html>
